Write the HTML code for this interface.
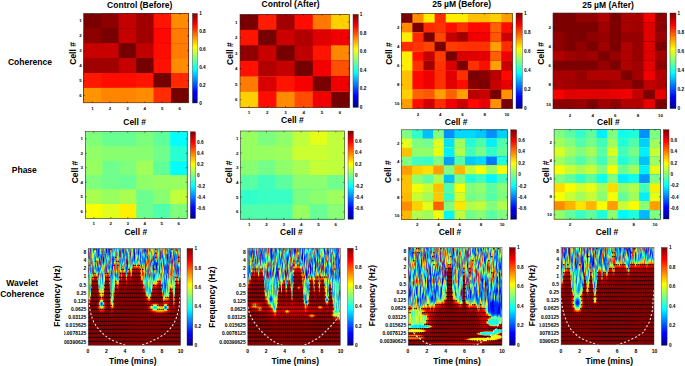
<!DOCTYPE html><html><head><meta charset="utf-8"><style>html,body{margin:0;padding:0;background:#fff;width:685px;height:366px;overflow:hidden;position:relative}</style></head><body><svg xmlns="http://www.w3.org/2000/svg" width="685" height="366" viewBox="0 0 685 366" font-family="Liberation Sans, sans-serif" style="position:absolute;left:0;top:0">
<defs><linearGradient id="jet" x1="0" y1="1" x2="0" y2="0"><stop offset="0" stop-color="#00008f"/><stop offset="0.125" stop-color="#0000ff"/><stop offset="0.375" stop-color="#00ffff"/><stop offset="0.625" stop-color="#ffff00"/><stop offset="0.875" stop-color="#ff0000"/><stop offset="1" stop-color="#800000"/></linearGradient></defs>
<text x="139.7" y="8.0" font-size="8.5" font-weight="bold" text-anchor="middle" fill="#000">Control (Before)</text>
<text x="290.6" y="6.6" font-size="8.5" font-weight="bold" text-anchor="middle" fill="#000">Control (After)</text>
<text x="461.6" y="6.9" font-size="8.5" font-weight="bold" text-anchor="middle" fill="#000">25 µM (Before)</text>
<text x="608.1" y="7.6" font-size="8.5" font-weight="bold" text-anchor="middle" fill="#000">25 µM (After)</text>
<text x="29.9" y="64.9" font-size="8.5" font-weight="bold" text-anchor="middle" fill="#000">Coherence</text>
<text x="24.3" y="172.9" font-size="8.5" font-weight="bold" text-anchor="middle" fill="#000">Phase</text>
<text x="22.2" y="286.4" font-size="8.5" font-weight="bold" text-anchor="middle" fill="#000">Wavelet</text>
<text x="22.2" y="296.8" font-size="8.5" font-weight="bold" text-anchor="middle" fill="#000">Coherence</text>
<rect x="83.70" y="13.40" width="104.80" height="89.40" fill="#7a0000"/>
<rect x="101.17" y="13.40" width="87.33" height="89.40" fill="#8c0000"/>
<rect x="118.63" y="13.40" width="69.87" height="89.40" fill="#c40000"/>
<rect x="136.10" y="13.40" width="52.40" height="89.40" fill="#a00000"/>
<rect x="153.57" y="13.40" width="34.93" height="89.40" fill="#ff1400"/>
<rect x="171.03" y="13.40" width="17.47" height="89.40" fill="#ff8c00"/>
<rect x="83.70" y="28.30" width="104.80" height="74.50" fill="#8c0000"/>
<rect x="101.17" y="28.30" width="87.33" height="74.50" fill="#780000"/>
<rect x="118.63" y="28.30" width="69.87" height="74.50" fill="#c40000"/>
<rect x="136.10" y="28.30" width="52.40" height="74.50" fill="#a00000"/>
<rect x="153.57" y="28.30" width="34.93" height="74.50" fill="#ff0800"/>
<rect x="171.03" y="28.30" width="17.47" height="74.50" fill="#ff7c00"/>
<rect x="83.70" y="43.20" width="104.80" height="59.60" fill="#c80000"/>
<rect x="101.17" y="43.20" width="87.33" height="59.60" fill="#c80000"/>
<rect x="118.63" y="43.20" width="69.87" height="59.60" fill="#740000"/>
<rect x="136.10" y="43.20" width="52.40" height="59.60" fill="#c00000"/>
<rect x="153.57" y="43.20" width="34.93" height="59.60" fill="#ff0c00"/>
<rect x="171.03" y="43.20" width="17.47" height="59.60" fill="#ff7c00"/>
<rect x="83.70" y="58.10" width="104.80" height="44.70" fill="#a00000"/>
<rect x="101.17" y="58.10" width="87.33" height="44.70" fill="#a00000"/>
<rect x="118.63" y="58.10" width="69.87" height="44.70" fill="#c40000"/>
<rect x="136.10" y="58.10" width="52.40" height="44.70" fill="#740000"/>
<rect x="153.57" y="58.10" width="34.93" height="44.70" fill="#ff1000"/>
<rect x="171.03" y="58.10" width="17.47" height="44.70" fill="#ff8c00"/>
<rect x="83.70" y="73.00" width="104.80" height="29.80" fill="#ff1800"/>
<rect x="101.17" y="73.00" width="87.33" height="29.80" fill="#ff0c00"/>
<rect x="118.63" y="73.00" width="69.87" height="29.80" fill="#ff0c00"/>
<rect x="136.10" y="73.00" width="52.40" height="29.80" fill="#ff1400"/>
<rect x="153.57" y="73.00" width="34.93" height="29.80" fill="#740000"/>
<rect x="171.03" y="73.00" width="17.47" height="29.80" fill="#ff2800"/>
<rect x="83.70" y="87.90" width="104.80" height="14.90" fill="#ff9400"/>
<rect x="101.17" y="87.90" width="87.33" height="14.90" fill="#ff8400"/>
<rect x="118.63" y="87.90" width="69.87" height="14.90" fill="#ff8400"/>
<rect x="136.10" y="87.90" width="52.40" height="14.90" fill="#ff8c00"/>
<rect x="153.57" y="87.90" width="34.93" height="14.90" fill="#ff2c00"/>
<rect x="171.03" y="87.90" width="17.47" height="14.90" fill="#740000"/>
<rect x="83.70" y="13.40" width="104.80" height="89.40" fill="none" stroke="#333" stroke-width="0.6"/>
<rect x="192.4" y="13.5" width="5.00" height="89.50" fill="url(#jet)" stroke="#333" stroke-width="0.4"/>
<rect x="240.00" y="14.30" width="109.20" height="93.10" fill="#780000"/>
<rect x="258.20" y="14.30" width="91.00" height="93.10" fill="#ff1c00"/>
<rect x="276.40" y="14.30" width="72.80" height="93.10" fill="#a00000"/>
<rect x="294.60" y="14.30" width="54.60" height="93.10" fill="#ff0c00"/>
<rect x="312.80" y="14.30" width="36.40" height="93.10" fill="#ff7800"/>
<rect x="331.00" y="14.30" width="18.20" height="93.10" fill="#ffd000"/>
<rect x="240.00" y="29.82" width="109.20" height="77.58" fill="#ff1400"/>
<rect x="258.20" y="29.82" width="91.00" height="77.58" fill="#740000"/>
<rect x="276.40" y="29.82" width="72.80" height="77.58" fill="#cc0000"/>
<rect x="294.60" y="29.82" width="54.60" height="77.58" fill="#b00000"/>
<rect x="312.80" y="29.82" width="36.40" height="77.58" fill="#e00000"/>
<rect x="331.00" y="29.82" width="18.20" height="77.58" fill="#f00000"/>
<rect x="240.00" y="45.33" width="109.20" height="62.07" fill="#900000"/>
<rect x="258.20" y="45.33" width="91.00" height="62.07" fill="#c80000"/>
<rect x="276.40" y="45.33" width="72.80" height="62.07" fill="#740000"/>
<rect x="294.60" y="45.33" width="54.60" height="62.07" fill="#c00000"/>
<rect x="312.80" y="45.33" width="36.40" height="62.07" fill="#ff1400"/>
<rect x="331.00" y="45.33" width="18.20" height="62.07" fill="#ff8800"/>
<rect x="240.00" y="60.85" width="109.20" height="46.55" fill="#ff1000"/>
<rect x="258.20" y="60.85" width="91.00" height="46.55" fill="#b00000"/>
<rect x="276.40" y="60.85" width="72.80" height="46.55" fill="#c40000"/>
<rect x="294.60" y="60.85" width="54.60" height="46.55" fill="#740000"/>
<rect x="312.80" y="60.85" width="36.40" height="46.55" fill="#f40000"/>
<rect x="331.00" y="60.85" width="18.20" height="46.55" fill="#ff5000"/>
<rect x="240.00" y="76.37" width="109.20" height="31.03" fill="#ff7c00"/>
<rect x="258.20" y="76.37" width="91.00" height="31.03" fill="#d80000"/>
<rect x="276.40" y="76.37" width="72.80" height="31.03" fill="#ff1400"/>
<rect x="294.60" y="76.37" width="54.60" height="31.03" fill="#f80000"/>
<rect x="312.80" y="76.37" width="36.40" height="31.03" fill="#780000"/>
<rect x="331.00" y="76.37" width="18.20" height="31.03" fill="#f00000"/>
<rect x="240.00" y="91.88" width="109.20" height="15.52" fill="#ffd000"/>
<rect x="258.20" y="91.88" width="91.00" height="15.52" fill="#ff0c00"/>
<rect x="276.40" y="91.88" width="72.80" height="15.52" fill="#ff8c00"/>
<rect x="294.60" y="91.88" width="54.60" height="15.52" fill="#ff4c00"/>
<rect x="312.80" y="91.88" width="36.40" height="15.52" fill="#f00000"/>
<rect x="331.00" y="91.88" width="18.20" height="15.52" fill="#740000"/>
<rect x="240.00" y="14.30" width="109.20" height="93.10" fill="none" stroke="#333" stroke-width="0.6"/>
<rect x="353" y="14.3" width="5.30" height="93.10" fill="url(#jet)" stroke="#333" stroke-width="0.4"/>
<rect x="401.30" y="13.30" width="111.10" height="95.30" fill="#780000"/>
<rect x="412.41" y="13.30" width="99.99" height="95.30" fill="#ff8c00"/>
<rect x="423.52" y="13.30" width="88.88" height="95.30" fill="#ffee00"/>
<rect x="434.63" y="13.30" width="77.77" height="95.30" fill="#ff2c00"/>
<rect x="445.74" y="13.30" width="66.66" height="95.30" fill="#ffee00"/>
<rect x="456.85" y="13.30" width="55.55" height="95.30" fill="#ffee00"/>
<rect x="467.96" y="13.30" width="44.44" height="95.30" fill="#ffc000"/>
<rect x="479.07" y="13.30" width="33.33" height="95.30" fill="#ffc000"/>
<rect x="490.18" y="13.30" width="22.22" height="95.30" fill="#ffd000"/>
<rect x="501.29" y="13.30" width="11.11" height="95.30" fill="#ff9c00"/>
<rect x="401.30" y="22.83" width="111.10" height="85.77" fill="#ff8c00"/>
<rect x="412.41" y="22.83" width="99.99" height="85.77" fill="#780000"/>
<rect x="423.52" y="22.83" width="88.88" height="85.77" fill="#ff2800"/>
<rect x="434.63" y="22.83" width="77.77" height="85.77" fill="#ff3400"/>
<rect x="445.74" y="22.83" width="66.66" height="85.77" fill="#ff0c00"/>
<rect x="456.85" y="22.83" width="55.55" height="85.77" fill="#ff3000"/>
<rect x="467.96" y="22.83" width="44.44" height="85.77" fill="#ff0800"/>
<rect x="479.07" y="22.83" width="33.33" height="85.77" fill="#ff0800"/>
<rect x="490.18" y="22.83" width="22.22" height="85.77" fill="#ff6400"/>
<rect x="501.29" y="22.83" width="11.11" height="85.77" fill="#ff0c00"/>
<rect x="401.30" y="32.36" width="111.10" height="76.24" fill="#ffee00"/>
<rect x="412.41" y="32.36" width="99.99" height="76.24" fill="#ff2800"/>
<rect x="423.52" y="32.36" width="88.88" height="76.24" fill="#780000"/>
<rect x="434.63" y="32.36" width="77.77" height="76.24" fill="#ff4400"/>
<rect x="445.74" y="32.36" width="66.66" height="76.24" fill="#c40000"/>
<rect x="456.85" y="32.36" width="55.55" height="76.24" fill="#a00000"/>
<rect x="467.96" y="32.36" width="44.44" height="76.24" fill="#f00000"/>
<rect x="479.07" y="32.36" width="33.33" height="76.24" fill="#f00000"/>
<rect x="490.18" y="32.36" width="22.22" height="76.24" fill="#ff5800"/>
<rect x="501.29" y="32.36" width="11.11" height="76.24" fill="#d00000"/>
<rect x="401.30" y="41.89" width="111.10" height="66.71" fill="#ff2c00"/>
<rect x="412.41" y="41.89" width="99.99" height="66.71" fill="#ff3400"/>
<rect x="423.52" y="41.89" width="88.88" height="66.71" fill="#ff4400"/>
<rect x="434.63" y="41.89" width="77.77" height="66.71" fill="#780000"/>
<rect x="445.74" y="41.89" width="66.66" height="66.71" fill="#ff3c00"/>
<rect x="456.85" y="41.89" width="55.55" height="66.71" fill="#ff3200"/>
<rect x="467.96" y="41.89" width="44.44" height="66.71" fill="#ff3000"/>
<rect x="479.07" y="41.89" width="33.33" height="66.71" fill="#ff3000"/>
<rect x="490.18" y="41.89" width="22.22" height="66.71" fill="#ffa000"/>
<rect x="501.29" y="41.89" width="11.11" height="66.71" fill="#ff2c00"/>
<rect x="401.30" y="51.42" width="111.10" height="57.18" fill="#ffee00"/>
<rect x="412.41" y="51.42" width="99.99" height="57.18" fill="#ff0c00"/>
<rect x="423.52" y="51.42" width="88.88" height="57.18" fill="#c40000"/>
<rect x="434.63" y="51.42" width="77.77" height="57.18" fill="#ff3c00"/>
<rect x="445.74" y="51.42" width="66.66" height="57.18" fill="#780000"/>
<rect x="456.85" y="51.42" width="55.55" height="57.18" fill="#d80000"/>
<rect x="467.96" y="51.42" width="44.44" height="57.18" fill="#e00000"/>
<rect x="479.07" y="51.42" width="33.33" height="57.18" fill="#e40000"/>
<rect x="490.18" y="51.42" width="22.22" height="57.18" fill="#ff6000"/>
<rect x="501.29" y="51.42" width="11.11" height="57.18" fill="#f00000"/>
<rect x="401.30" y="60.95" width="111.10" height="47.65" fill="#ffee00"/>
<rect x="412.41" y="60.95" width="99.99" height="47.65" fill="#ff3000"/>
<rect x="423.52" y="60.95" width="88.88" height="47.65" fill="#a00000"/>
<rect x="434.63" y="60.95" width="77.77" height="47.65" fill="#ff3200"/>
<rect x="445.74" y="60.95" width="66.66" height="47.65" fill="#d80000"/>
<rect x="456.85" y="60.95" width="55.55" height="47.65" fill="#780000"/>
<rect x="467.96" y="60.95" width="44.44" height="47.65" fill="#ff3000"/>
<rect x="479.07" y="60.95" width="33.33" height="47.65" fill="#ff0c00"/>
<rect x="490.18" y="60.95" width="22.22" height="47.65" fill="#ffa000"/>
<rect x="501.29" y="60.95" width="11.11" height="47.65" fill="#c80000"/>
<rect x="401.30" y="70.48" width="111.10" height="38.12" fill="#ffc000"/>
<rect x="412.41" y="70.48" width="99.99" height="38.12" fill="#ff0800"/>
<rect x="423.52" y="70.48" width="88.88" height="38.12" fill="#f00000"/>
<rect x="434.63" y="70.48" width="77.77" height="38.12" fill="#ff3000"/>
<rect x="445.74" y="70.48" width="66.66" height="38.12" fill="#e00000"/>
<rect x="456.85" y="70.48" width="55.55" height="38.12" fill="#ff3000"/>
<rect x="467.96" y="70.48" width="44.44" height="38.12" fill="#780000"/>
<rect x="479.07" y="70.48" width="33.33" height="38.12" fill="#880000"/>
<rect x="490.18" y="70.48" width="22.22" height="38.12" fill="#b80000"/>
<rect x="501.29" y="70.48" width="11.11" height="38.12" fill="#ff0800"/>
<rect x="401.30" y="80.01" width="111.10" height="28.59" fill="#ffc000"/>
<rect x="412.41" y="80.01" width="99.99" height="28.59" fill="#ff0800"/>
<rect x="423.52" y="80.01" width="88.88" height="28.59" fill="#f00000"/>
<rect x="434.63" y="80.01" width="77.77" height="28.59" fill="#ff3000"/>
<rect x="445.74" y="80.01" width="66.66" height="28.59" fill="#e40000"/>
<rect x="456.85" y="80.01" width="55.55" height="28.59" fill="#ff0c00"/>
<rect x="467.96" y="80.01" width="44.44" height="28.59" fill="#880000"/>
<rect x="479.07" y="80.01" width="33.33" height="28.59" fill="#780000"/>
<rect x="490.18" y="80.01" width="22.22" height="28.59" fill="#c80000"/>
<rect x="501.29" y="80.01" width="11.11" height="28.59" fill="#e80000"/>
<rect x="401.30" y="89.54" width="111.10" height="19.06" fill="#ffd000"/>
<rect x="412.41" y="89.54" width="99.99" height="19.06" fill="#ff6400"/>
<rect x="423.52" y="89.54" width="88.88" height="19.06" fill="#ff5800"/>
<rect x="434.63" y="89.54" width="77.77" height="19.06" fill="#ffa000"/>
<rect x="445.74" y="89.54" width="66.66" height="19.06" fill="#ff6000"/>
<rect x="456.85" y="89.54" width="55.55" height="19.06" fill="#ffa000"/>
<rect x="467.96" y="89.54" width="44.44" height="19.06" fill="#b80000"/>
<rect x="479.07" y="89.54" width="33.33" height="19.06" fill="#c80000"/>
<rect x="490.18" y="89.54" width="22.22" height="19.06" fill="#780000"/>
<rect x="501.29" y="89.54" width="11.11" height="19.06" fill="#ff9000"/>
<rect x="401.30" y="99.07" width="111.10" height="9.53" fill="#ff9c00"/>
<rect x="412.41" y="99.07" width="99.99" height="9.53" fill="#ff0c00"/>
<rect x="423.52" y="99.07" width="88.88" height="9.53" fill="#d00000"/>
<rect x="434.63" y="99.07" width="77.77" height="9.53" fill="#ff2c00"/>
<rect x="445.74" y="99.07" width="66.66" height="9.53" fill="#f00000"/>
<rect x="456.85" y="99.07" width="55.55" height="9.53" fill="#c80000"/>
<rect x="467.96" y="99.07" width="44.44" height="9.53" fill="#ff0800"/>
<rect x="479.07" y="99.07" width="33.33" height="9.53" fill="#e80000"/>
<rect x="490.18" y="99.07" width="22.22" height="9.53" fill="#ff9000"/>
<rect x="501.29" y="99.07" width="11.11" height="9.53" fill="#780000"/>
<rect x="401.30" y="13.30" width="111.10" height="95.30" fill="none" stroke="#333" stroke-width="0.6"/>
<rect x="516" y="13.0" width="6.30" height="95.60" fill="url(#jet)" stroke="#333" stroke-width="0.4"/>
<rect x="553.00" y="13.00" width="113.20" height="95.80" fill="#7c0000"/>
<rect x="564.32" y="13.00" width="101.88" height="95.80" fill="#7c0000"/>
<rect x="575.64" y="13.00" width="90.56" height="95.80" fill="#900000"/>
<rect x="586.96" y="13.00" width="79.24" height="95.80" fill="#900000"/>
<rect x="598.28" y="13.00" width="67.92" height="95.80" fill="#b00000"/>
<rect x="609.60" y="13.00" width="56.60" height="95.80" fill="#7c0000"/>
<rect x="620.92" y="13.00" width="45.28" height="95.80" fill="#a80000"/>
<rect x="632.24" y="13.00" width="33.96" height="95.80" fill="#a80000"/>
<rect x="643.56" y="13.00" width="22.64" height="95.80" fill="#f80000"/>
<rect x="654.88" y="13.00" width="11.32" height="95.80" fill="#8c0000"/>
<rect x="553.00" y="22.58" width="113.20" height="86.22" fill="#7c0000"/>
<rect x="564.32" y="22.58" width="101.88" height="86.22" fill="#7c0000"/>
<rect x="575.64" y="22.58" width="90.56" height="86.22" fill="#7c0000"/>
<rect x="586.96" y="22.58" width="79.24" height="86.22" fill="#7c0000"/>
<rect x="598.28" y="22.58" width="67.92" height="86.22" fill="#a00000"/>
<rect x="609.60" y="22.58" width="56.60" height="86.22" fill="#7c0000"/>
<rect x="620.92" y="22.58" width="45.28" height="86.22" fill="#a80000"/>
<rect x="632.24" y="22.58" width="33.96" height="86.22" fill="#a00000"/>
<rect x="643.56" y="22.58" width="22.64" height="86.22" fill="#e00000"/>
<rect x="654.88" y="22.58" width="11.32" height="86.22" fill="#8c0000"/>
<rect x="553.00" y="32.16" width="113.20" height="76.64" fill="#900000"/>
<rect x="564.32" y="32.16" width="101.88" height="76.64" fill="#7c0000"/>
<rect x="575.64" y="32.16" width="90.56" height="76.64" fill="#7c0000"/>
<rect x="586.96" y="32.16" width="79.24" height="76.64" fill="#900000"/>
<rect x="598.28" y="32.16" width="67.92" height="76.64" fill="#980000"/>
<rect x="609.60" y="32.16" width="56.60" height="76.64" fill="#7c0000"/>
<rect x="620.92" y="32.16" width="45.28" height="76.64" fill="#980000"/>
<rect x="632.24" y="32.16" width="33.96" height="76.64" fill="#980000"/>
<rect x="643.56" y="32.16" width="22.64" height="76.64" fill="#e00000"/>
<rect x="654.88" y="32.16" width="11.32" height="76.64" fill="#980000"/>
<rect x="553.00" y="41.74" width="113.20" height="67.06" fill="#900000"/>
<rect x="564.32" y="41.74" width="101.88" height="67.06" fill="#7c0000"/>
<rect x="575.64" y="41.74" width="90.56" height="67.06" fill="#900000"/>
<rect x="586.96" y="41.74" width="79.24" height="67.06" fill="#7c0000"/>
<rect x="598.28" y="41.74" width="67.92" height="67.06" fill="#a00000"/>
<rect x="609.60" y="41.74" width="56.60" height="67.06" fill="#7c0000"/>
<rect x="620.92" y="41.74" width="45.28" height="67.06" fill="#b00000"/>
<rect x="632.24" y="41.74" width="33.96" height="67.06" fill="#980000"/>
<rect x="643.56" y="41.74" width="22.64" height="67.06" fill="#e00000"/>
<rect x="654.88" y="41.74" width="11.32" height="67.06" fill="#7c0000"/>
<rect x="553.00" y="51.32" width="113.20" height="57.48" fill="#b00000"/>
<rect x="564.32" y="51.32" width="101.88" height="57.48" fill="#a00000"/>
<rect x="575.64" y="51.32" width="90.56" height="57.48" fill="#980000"/>
<rect x="586.96" y="51.32" width="79.24" height="57.48" fill="#a00000"/>
<rect x="598.28" y="51.32" width="67.92" height="57.48" fill="#7c0000"/>
<rect x="609.60" y="51.32" width="56.60" height="57.48" fill="#980000"/>
<rect x="620.92" y="51.32" width="45.28" height="57.48" fill="#b00000"/>
<rect x="632.24" y="51.32" width="33.96" height="57.48" fill="#980000"/>
<rect x="643.56" y="51.32" width="22.64" height="57.48" fill="#e00000"/>
<rect x="654.88" y="51.32" width="11.32" height="57.48" fill="#a00000"/>
<rect x="553.00" y="60.90" width="113.20" height="47.90" fill="#7c0000"/>
<rect x="564.32" y="60.90" width="101.88" height="47.90" fill="#7c0000"/>
<rect x="575.64" y="60.90" width="90.56" height="47.90" fill="#7c0000"/>
<rect x="586.96" y="60.90" width="79.24" height="47.90" fill="#7c0000"/>
<rect x="598.28" y="60.90" width="67.92" height="47.90" fill="#980000"/>
<rect x="609.60" y="60.90" width="56.60" height="47.90" fill="#7c0000"/>
<rect x="620.92" y="60.90" width="45.28" height="47.90" fill="#b00000"/>
<rect x="632.24" y="60.90" width="33.96" height="47.90" fill="#a00000"/>
<rect x="643.56" y="60.90" width="22.64" height="47.90" fill="#e80000"/>
<rect x="654.88" y="60.90" width="11.32" height="47.90" fill="#900000"/>
<rect x="553.00" y="70.48" width="113.20" height="38.32" fill="#a80000"/>
<rect x="564.32" y="70.48" width="101.88" height="38.32" fill="#a80000"/>
<rect x="575.64" y="70.48" width="90.56" height="38.32" fill="#980000"/>
<rect x="586.96" y="70.48" width="79.24" height="38.32" fill="#b00000"/>
<rect x="598.28" y="70.48" width="67.92" height="38.32" fill="#b00000"/>
<rect x="609.60" y="70.48" width="56.60" height="38.32" fill="#b00000"/>
<rect x="620.92" y="70.48" width="45.28" height="38.32" fill="#7c0000"/>
<rect x="632.24" y="70.48" width="33.96" height="38.32" fill="#a00000"/>
<rect x="643.56" y="70.48" width="22.64" height="38.32" fill="#f00000"/>
<rect x="654.88" y="70.48" width="11.32" height="38.32" fill="#b00000"/>
<rect x="553.00" y="80.06" width="113.20" height="28.74" fill="#a80000"/>
<rect x="564.32" y="80.06" width="101.88" height="28.74" fill="#a00000"/>
<rect x="575.64" y="80.06" width="90.56" height="28.74" fill="#980000"/>
<rect x="586.96" y="80.06" width="79.24" height="28.74" fill="#980000"/>
<rect x="598.28" y="80.06" width="67.92" height="28.74" fill="#980000"/>
<rect x="609.60" y="80.06" width="56.60" height="28.74" fill="#a00000"/>
<rect x="620.92" y="80.06" width="45.28" height="28.74" fill="#a00000"/>
<rect x="632.24" y="80.06" width="33.96" height="28.74" fill="#7c0000"/>
<rect x="643.56" y="80.06" width="22.64" height="28.74" fill="#c00000"/>
<rect x="654.88" y="80.06" width="11.32" height="28.74" fill="#b00000"/>
<rect x="553.00" y="89.64" width="113.20" height="19.16" fill="#f80000"/>
<rect x="564.32" y="89.64" width="101.88" height="19.16" fill="#e00000"/>
<rect x="575.64" y="89.64" width="90.56" height="19.16" fill="#e00000"/>
<rect x="586.96" y="89.64" width="79.24" height="19.16" fill="#e00000"/>
<rect x="598.28" y="89.64" width="67.92" height="19.16" fill="#e00000"/>
<rect x="609.60" y="89.64" width="56.60" height="19.16" fill="#e80000"/>
<rect x="620.92" y="89.64" width="45.28" height="19.16" fill="#f00000"/>
<rect x="632.24" y="89.64" width="33.96" height="19.16" fill="#c00000"/>
<rect x="643.56" y="89.64" width="22.64" height="19.16" fill="#7c0000"/>
<rect x="654.88" y="89.64" width="11.32" height="19.16" fill="#e80000"/>
<rect x="553.00" y="99.22" width="113.20" height="9.58" fill="#8c0000"/>
<rect x="564.32" y="99.22" width="101.88" height="9.58" fill="#8c0000"/>
<rect x="575.64" y="99.22" width="90.56" height="9.58" fill="#980000"/>
<rect x="586.96" y="99.22" width="79.24" height="9.58" fill="#7c0000"/>
<rect x="598.28" y="99.22" width="67.92" height="9.58" fill="#a00000"/>
<rect x="609.60" y="99.22" width="56.60" height="9.58" fill="#900000"/>
<rect x="620.92" y="99.22" width="45.28" height="9.58" fill="#b00000"/>
<rect x="632.24" y="99.22" width="33.96" height="9.58" fill="#b00000"/>
<rect x="643.56" y="99.22" width="22.64" height="9.58" fill="#e80000"/>
<rect x="654.88" y="99.22" width="11.32" height="9.58" fill="#7c0000"/>
<rect x="553.00" y="13.00" width="113.20" height="95.80" fill="none" stroke="#333" stroke-width="0.6"/>
<rect x="670" y="13.0" width="6.00" height="95.60" fill="url(#jet)" stroke="#333" stroke-width="0.4"/>
<rect x="85.30" y="131.60" width="101.90" height="86.90" fill="#80ff78"/>
<rect x="102.28" y="131.60" width="84.92" height="86.90" fill="#68ff90"/>
<rect x="119.27" y="131.60" width="67.93" height="86.90" fill="#68ff90"/>
<rect x="136.25" y="131.60" width="50.95" height="86.90" fill="#7cff7c"/>
<rect x="153.23" y="131.60" width="33.97" height="86.90" fill="#60ff98"/>
<rect x="170.22" y="131.60" width="16.98" height="86.90" fill="#00ffff"/>
<rect x="85.30" y="146.08" width="101.90" height="72.42" fill="#90ff68"/>
<rect x="102.28" y="146.08" width="84.92" height="72.42" fill="#88ff70"/>
<rect x="119.27" y="146.08" width="67.93" height="72.42" fill="#88ff70"/>
<rect x="136.25" y="146.08" width="50.95" height="72.42" fill="#88ff70"/>
<rect x="153.23" y="146.08" width="33.97" height="72.42" fill="#70ff8c"/>
<rect x="170.22" y="146.08" width="16.98" height="72.42" fill="#28ffd4"/>
<rect x="85.30" y="160.57" width="101.90" height="57.93" fill="#98ff60"/>
<rect x="102.28" y="160.57" width="84.92" height="57.93" fill="#70ff8c"/>
<rect x="119.27" y="160.57" width="67.93" height="57.93" fill="#80ff7c"/>
<rect x="136.25" y="160.57" width="50.95" height="57.93" fill="#a0ff58"/>
<rect x="153.23" y="160.57" width="33.97" height="57.93" fill="#60ff98"/>
<rect x="170.22" y="160.57" width="16.98" height="57.93" fill="#00ffff"/>
<rect x="85.30" y="175.05" width="101.90" height="43.45" fill="#80ff7c"/>
<rect x="102.28" y="175.05" width="84.92" height="43.45" fill="#70ff8c"/>
<rect x="119.27" y="175.05" width="67.93" height="43.45" fill="#68ff94"/>
<rect x="136.25" y="175.05" width="50.95" height="43.45" fill="#90ff68"/>
<rect x="153.23" y="175.05" width="33.97" height="43.45" fill="#98ff60"/>
<rect x="170.22" y="175.05" width="16.98" height="43.45" fill="#98ff60"/>
<rect x="85.30" y="189.53" width="101.90" height="28.97" fill="#a8ff50"/>
<rect x="102.28" y="189.53" width="84.92" height="28.97" fill="#98ff60"/>
<rect x="119.27" y="189.53" width="67.93" height="28.97" fill="#a8ff50"/>
<rect x="136.25" y="189.53" width="50.95" height="28.97" fill="#6cff90"/>
<rect x="153.23" y="189.53" width="33.97" height="28.97" fill="#88ff70"/>
<rect x="170.22" y="189.53" width="16.98" height="28.97" fill="#c0ff3c"/>
<rect x="85.30" y="204.02" width="101.90" height="14.48" fill="#f8ff00"/>
<rect x="102.28" y="204.02" width="84.92" height="14.48" fill="#e0ff1c"/>
<rect x="119.27" y="204.02" width="67.93" height="14.48" fill="#fff000"/>
<rect x="136.25" y="204.02" width="50.95" height="14.48" fill="#6cff90"/>
<rect x="153.23" y="204.02" width="33.97" height="14.48" fill="#50ffac"/>
<rect x="170.22" y="204.02" width="16.98" height="14.48" fill="#80ff7c"/>
<rect x="85.30" y="131.60" width="101.90" height="86.90" fill="none" stroke="#333" stroke-width="0.6"/>
<rect x="190.3" y="131.8" width="5.20" height="86.70" fill="url(#jet)" stroke="#333" stroke-width="0.4"/>
<rect x="240.50" y="131.00" width="104.00" height="88.20" fill="#98ff60"/>
<rect x="257.83" y="131.00" width="86.67" height="88.20" fill="#7cff80"/>
<rect x="275.17" y="131.00" width="69.33" height="88.20" fill="#90ff6c"/>
<rect x="292.50" y="131.00" width="52.00" height="88.20" fill="#c0ff3c"/>
<rect x="309.83" y="131.00" width="34.67" height="88.20" fill="#e4ff18"/>
<rect x="327.17" y="131.00" width="17.33" height="88.20" fill="#c0ff3c"/>
<rect x="240.50" y="145.70" width="104.00" height="73.50" fill="#98ff60"/>
<rect x="257.83" y="145.70" width="86.67" height="73.50" fill="#98ff60"/>
<rect x="275.17" y="145.70" width="69.33" height="73.50" fill="#9cff5c"/>
<rect x="292.50" y="145.70" width="52.00" height="73.50" fill="#ccff30"/>
<rect x="309.83" y="145.70" width="34.67" height="73.50" fill="#ccff30"/>
<rect x="327.17" y="145.70" width="17.33" height="73.50" fill="#c0ff3c"/>
<rect x="240.50" y="160.40" width="104.00" height="58.80" fill="#88ff70"/>
<rect x="257.83" y="160.40" width="86.67" height="58.80" fill="#74ff88"/>
<rect x="275.17" y="160.40" width="69.33" height="58.80" fill="#90ff6c"/>
<rect x="292.50" y="160.40" width="52.00" height="58.80" fill="#a8ff54"/>
<rect x="309.83" y="160.40" width="34.67" height="58.80" fill="#c4ff38"/>
<rect x="327.17" y="160.40" width="17.33" height="58.80" fill="#c0ff3c"/>
<rect x="240.50" y="175.10" width="104.00" height="44.10" fill="#58ffa4"/>
<rect x="257.83" y="175.10" width="86.67" height="44.10" fill="#40ffbc"/>
<rect x="275.17" y="175.10" width="69.33" height="44.10" fill="#5cffa0"/>
<rect x="292.50" y="175.10" width="52.00" height="44.10" fill="#8cff70"/>
<rect x="309.83" y="175.10" width="34.67" height="44.10" fill="#8cff70"/>
<rect x="327.17" y="175.10" width="17.33" height="44.10" fill="#70ff8c"/>
<rect x="240.50" y="189.80" width="104.00" height="29.40" fill="#30ffcc"/>
<rect x="257.83" y="189.80" width="86.67" height="29.40" fill="#38ffc4"/>
<rect x="275.17" y="189.80" width="69.33" height="29.40" fill="#38ffc4"/>
<rect x="292.50" y="189.80" width="52.00" height="29.40" fill="#7cff80"/>
<rect x="309.83" y="189.80" width="34.67" height="29.40" fill="#8cff70"/>
<rect x="327.17" y="189.80" width="17.33" height="29.40" fill="#a0ff5c"/>
<rect x="240.50" y="204.50" width="104.00" height="14.70" fill="#50ffac"/>
<rect x="257.83" y="204.50" width="86.67" height="14.70" fill="#50ffac"/>
<rect x="275.17" y="204.50" width="69.33" height="14.70" fill="#50ffac"/>
<rect x="292.50" y="204.50" width="52.00" height="14.70" fill="#98ff60"/>
<rect x="309.83" y="204.50" width="34.67" height="14.70" fill="#68ff94"/>
<rect x="327.17" y="204.50" width="17.33" height="14.70" fill="#88ff74"/>
<rect x="240.50" y="131.00" width="104.00" height="88.20" fill="none" stroke="#333" stroke-width="0.6"/>
<rect x="348" y="131.0" width="5.40" height="88.20" fill="url(#jet)" stroke="#333" stroke-width="0.4"/>
<rect x="401.40" y="129.80" width="106.00" height="89.80" fill="#80ff80"/>
<rect x="412.00" y="129.80" width="95.40" height="89.80" fill="#30ffcc"/>
<rect x="422.60" y="129.80" width="84.80" height="89.80" fill="#00c0ff"/>
<rect x="433.20" y="129.80" width="74.20" height="89.80" fill="#80ff80"/>
<rect x="443.80" y="129.80" width="63.60" height="89.80" fill="#0090ff"/>
<rect x="454.40" y="129.80" width="53.00" height="89.80" fill="#00d8ff"/>
<rect x="465.00" y="129.80" width="42.40" height="89.80" fill="#00d8ff"/>
<rect x="475.60" y="129.80" width="31.80" height="89.80" fill="#00c8ff"/>
<rect x="486.20" y="129.80" width="21.20" height="89.80" fill="#0090ff"/>
<rect x="496.80" y="129.80" width="10.60" height="89.80" fill="#00d0ff"/>
<rect x="401.40" y="138.78" width="106.00" height="80.82" fill="#e0ff1c"/>
<rect x="412.00" y="138.78" width="95.40" height="80.82" fill="#80ff80"/>
<rect x="422.60" y="138.78" width="84.80" height="80.82" fill="#70ff90"/>
<rect x="433.20" y="138.78" width="74.20" height="80.82" fill="#e0ff1c"/>
<rect x="443.80" y="138.78" width="63.60" height="80.82" fill="#00e4ff"/>
<rect x="454.40" y="138.78" width="53.00" height="80.82" fill="#a0ff5c"/>
<rect x="465.00" y="138.78" width="42.40" height="80.82" fill="#20ffdc"/>
<rect x="475.60" y="138.78" width="31.80" height="80.82" fill="#50ffac"/>
<rect x="486.20" y="138.78" width="21.20" height="80.82" fill="#00f0ff"/>
<rect x="496.80" y="138.78" width="10.60" height="80.82" fill="#50ffac"/>
<rect x="401.40" y="147.76" width="106.00" height="71.84" fill="#ffc000"/>
<rect x="412.00" y="147.76" width="95.40" height="71.84" fill="#90ff6c"/>
<rect x="422.60" y="147.76" width="84.80" height="71.84" fill="#90ff6c"/>
<rect x="433.20" y="147.76" width="74.20" height="71.84" fill="#e8ff14"/>
<rect x="443.80" y="147.76" width="63.60" height="71.84" fill="#00f0ff"/>
<rect x="454.40" y="147.76" width="53.00" height="71.84" fill="#b0ff4c"/>
<rect x="465.00" y="147.76" width="42.40" height="71.84" fill="#40ffbc"/>
<rect x="475.60" y="147.76" width="31.80" height="71.84" fill="#78ff88"/>
<rect x="486.20" y="147.76" width="21.20" height="71.84" fill="#30ffcc"/>
<rect x="496.80" y="147.76" width="10.60" height="71.84" fill="#60ff9c"/>
<rect x="401.40" y="156.74" width="106.00" height="62.86" fill="#80ff80"/>
<rect x="412.00" y="156.74" width="95.40" height="62.86" fill="#40ffc0"/>
<rect x="422.60" y="156.74" width="84.80" height="62.86" fill="#38ffc8"/>
<rect x="433.20" y="156.74" width="74.20" height="62.86" fill="#80ff80"/>
<rect x="443.80" y="156.74" width="63.60" height="62.86" fill="#00a0ff"/>
<rect x="454.40" y="156.74" width="53.00" height="62.86" fill="#50ffac"/>
<rect x="465.00" y="156.74" width="42.40" height="62.86" fill="#00c8ff"/>
<rect x="475.60" y="156.74" width="31.80" height="62.86" fill="#00d8ff"/>
<rect x="486.20" y="156.74" width="21.20" height="62.86" fill="#0078ff"/>
<rect x="496.80" y="156.74" width="10.60" height="62.86" fill="#20ffdc"/>
<rect x="401.40" y="165.72" width="106.00" height="53.88" fill="#ff9c00"/>
<rect x="412.00" y="165.72" width="95.40" height="53.88" fill="#ffd000"/>
<rect x="422.60" y="165.72" width="84.80" height="53.88" fill="#ffe000"/>
<rect x="433.20" y="165.72" width="74.20" height="53.88" fill="#ff9c00"/>
<rect x="443.80" y="165.72" width="63.60" height="53.88" fill="#80ff80"/>
<rect x="454.40" y="165.72" width="53.00" height="53.88" fill="#ffb800"/>
<rect x="465.00" y="165.72" width="42.40" height="53.88" fill="#c0ff3c"/>
<rect x="475.60" y="165.72" width="31.80" height="53.88" fill="#f8ff00"/>
<rect x="486.20" y="165.72" width="21.20" height="53.88" fill="#98ff64"/>
<rect x="496.80" y="165.72" width="10.60" height="53.88" fill="#f8ff00"/>
<rect x="401.40" y="174.70" width="106.00" height="44.90" fill="#ffc000"/>
<rect x="412.00" y="174.70" width="95.40" height="44.90" fill="#90ff6c"/>
<rect x="422.60" y="174.70" width="84.80" height="44.90" fill="#60ffa0"/>
<rect x="433.20" y="174.70" width="74.20" height="44.90" fill="#b0ff4c"/>
<rect x="443.80" y="174.70" width="63.60" height="44.90" fill="#00c0ff"/>
<rect x="454.40" y="174.70" width="53.00" height="44.90" fill="#80ff80"/>
<rect x="465.00" y="174.70" width="42.40" height="44.90" fill="#20ffdc"/>
<rect x="475.60" y="174.70" width="31.80" height="44.90" fill="#40ffc0"/>
<rect x="486.20" y="174.70" width="21.20" height="44.90" fill="#00f8ff"/>
<rect x="496.80" y="174.70" width="10.60" height="44.90" fill="#40ffbc"/>
<rect x="401.40" y="183.68" width="106.00" height="35.92" fill="#ffc000"/>
<rect x="412.00" y="183.68" width="95.40" height="35.92" fill="#f0ff0c"/>
<rect x="422.60" y="183.68" width="84.80" height="35.92" fill="#c8ff34"/>
<rect x="433.20" y="183.68" width="74.20" height="35.92" fill="#ffc000"/>
<rect x="443.80" y="183.68" width="63.60" height="35.92" fill="#50ffac"/>
<rect x="454.40" y="183.68" width="53.00" height="35.92" fill="#f8ff00"/>
<rect x="465.00" y="183.68" width="42.40" height="35.92" fill="#80ff80"/>
<rect x="475.60" y="183.68" width="31.80" height="35.92" fill="#90ff6c"/>
<rect x="486.20" y="183.68" width="21.20" height="35.92" fill="#58ffa4"/>
<rect x="496.80" y="183.68" width="10.60" height="35.92" fill="#88ff74"/>
<rect x="401.40" y="192.66" width="106.00" height="26.94" fill="#ffb800"/>
<rect x="412.00" y="192.66" width="95.40" height="26.94" fill="#c8ff34"/>
<rect x="422.60" y="192.66" width="84.80" height="26.94" fill="#a0ff5c"/>
<rect x="433.20" y="192.66" width="74.20" height="26.94" fill="#ffc800"/>
<rect x="443.80" y="192.66" width="63.60" height="26.94" fill="#30ffcc"/>
<rect x="454.40" y="192.66" width="53.00" height="26.94" fill="#d8ff24"/>
<rect x="465.00" y="192.66" width="42.40" height="26.94" fill="#70ff8c"/>
<rect x="475.60" y="192.66" width="31.80" height="26.94" fill="#80ff80"/>
<rect x="486.20" y="192.66" width="21.20" height="26.94" fill="#50ffac"/>
<rect x="496.80" y="192.66" width="10.60" height="26.94" fill="#80ff7c"/>
<rect x="401.40" y="201.64" width="106.00" height="17.96" fill="#ff8c00"/>
<rect x="412.00" y="201.64" width="95.40" height="17.96" fill="#ffd000"/>
<rect x="422.60" y="201.64" width="84.80" height="17.96" fill="#e4ff18"/>
<rect x="433.20" y="201.64" width="74.20" height="17.96" fill="#ff6000"/>
<rect x="443.80" y="201.64" width="63.60" height="17.96" fill="#80ff80"/>
<rect x="454.40" y="201.64" width="53.00" height="17.96" fill="#ffe800"/>
<rect x="465.00" y="201.64" width="42.40" height="17.96" fill="#b0ff4c"/>
<rect x="475.60" y="201.64" width="31.80" height="17.96" fill="#c0ff3c"/>
<rect x="486.20" y="201.64" width="21.20" height="17.96" fill="#80ff80"/>
<rect x="496.80" y="201.64" width="10.60" height="17.96" fill="#b0ff4c"/>
<rect x="401.40" y="210.62" width="106.00" height="8.98" fill="#ffb800"/>
<rect x="412.00" y="210.62" width="95.40" height="8.98" fill="#b0ff4c"/>
<rect x="422.60" y="210.62" width="84.80" height="8.98" fill="#a0ff5c"/>
<rect x="433.20" y="210.62" width="74.20" height="8.98" fill="#f0ff0c"/>
<rect x="443.80" y="210.62" width="63.60" height="8.98" fill="#00f8ff"/>
<rect x="454.40" y="210.62" width="53.00" height="8.98" fill="#c0ff3c"/>
<rect x="465.00" y="210.62" width="42.40" height="8.98" fill="#70ff8c"/>
<rect x="475.60" y="210.62" width="31.80" height="8.98" fill="#88ff74"/>
<rect x="486.20" y="210.62" width="21.20" height="8.98" fill="#58ffa4"/>
<rect x="496.80" y="210.62" width="10.60" height="8.98" fill="#80ff80"/>
<rect x="401.40" y="129.80" width="106.00" height="89.80" fill="none" stroke="#333" stroke-width="0.6"/>
<rect x="510.7" y="129.8" width="6.00" height="89.50" fill="url(#jet)" stroke="#333" stroke-width="0.4"/>
<rect x="554.10" y="129.40" width="106.20" height="89.80" fill="#80ff80"/>
<rect x="564.72" y="129.40" width="95.58" height="89.80" fill="#58ffa4"/>
<rect x="575.34" y="129.40" width="84.96" height="89.80" fill="#30ffcc"/>
<rect x="585.96" y="129.40" width="74.34" height="89.80" fill="#60ff9c"/>
<rect x="596.58" y="129.40" width="63.72" height="89.80" fill="#00f0ff"/>
<rect x="607.20" y="129.40" width="53.10" height="89.80" fill="#80ff80"/>
<rect x="617.82" y="129.40" width="42.48" height="89.80" fill="#10ffec"/>
<rect x="628.44" y="129.40" width="31.86" height="89.80" fill="#20ffdc"/>
<rect x="639.06" y="129.40" width="21.24" height="89.80" fill="#0090ff"/>
<rect x="649.68" y="129.40" width="10.62" height="89.80" fill="#80ff80"/>
<rect x="554.10" y="138.38" width="106.20" height="80.82" fill="#a0ff5c"/>
<rect x="564.72" y="138.38" width="95.58" height="80.82" fill="#80ff80"/>
<rect x="575.34" y="138.38" width="84.96" height="80.82" fill="#50ffac"/>
<rect x="585.96" y="138.38" width="74.34" height="80.82" fill="#78ff88"/>
<rect x="596.58" y="138.38" width="63.72" height="80.82" fill="#40ffbc"/>
<rect x="607.20" y="138.38" width="53.10" height="80.82" fill="#a0ff5c"/>
<rect x="617.82" y="138.38" width="42.48" height="80.82" fill="#20ffdc"/>
<rect x="628.44" y="138.38" width="31.86" height="80.82" fill="#50ffac"/>
<rect x="639.06" y="138.38" width="21.24" height="80.82" fill="#00d0ff"/>
<rect x="649.68" y="138.38" width="10.62" height="80.82" fill="#a0ff5c"/>
<rect x="554.10" y="147.36" width="106.20" height="71.84" fill="#d8ff24"/>
<rect x="564.72" y="147.36" width="95.58" height="71.84" fill="#a0ff5c"/>
<rect x="575.34" y="147.36" width="84.96" height="71.84" fill="#80ff80"/>
<rect x="585.96" y="147.36" width="74.34" height="71.84" fill="#a8ff54"/>
<rect x="596.58" y="147.36" width="63.72" height="71.84" fill="#58ffa4"/>
<rect x="607.20" y="147.36" width="53.10" height="71.84" fill="#d8ff24"/>
<rect x="617.82" y="147.36" width="42.48" height="71.84" fill="#40ffbc"/>
<rect x="628.44" y="147.36" width="31.86" height="71.84" fill="#78ff88"/>
<rect x="639.06" y="147.36" width="21.24" height="71.84" fill="#00f0ff"/>
<rect x="649.68" y="147.36" width="10.62" height="71.84" fill="#c8ff34"/>
<rect x="554.10" y="156.34" width="106.20" height="62.86" fill="#a0ff5c"/>
<rect x="564.72" y="156.34" width="95.58" height="62.86" fill="#78ff88"/>
<rect x="575.34" y="156.34" width="84.96" height="62.86" fill="#50ffac"/>
<rect x="585.96" y="156.34" width="74.34" height="62.86" fill="#80ff80"/>
<rect x="596.58" y="156.34" width="63.72" height="62.86" fill="#40ffbc"/>
<rect x="607.20" y="156.34" width="53.10" height="62.86" fill="#a0ff5c"/>
<rect x="617.82" y="156.34" width="42.48" height="62.86" fill="#20ffdc"/>
<rect x="628.44" y="156.34" width="31.86" height="62.86" fill="#50ffac"/>
<rect x="639.06" y="156.34" width="21.24" height="62.86" fill="#00c0ff"/>
<rect x="649.68" y="156.34" width="10.62" height="62.86" fill="#a0ff5c"/>
<rect x="554.10" y="165.32" width="106.20" height="53.88" fill="#f8ff00"/>
<rect x="564.72" y="165.32" width="95.58" height="53.88" fill="#c8ff34"/>
<rect x="575.34" y="165.32" width="84.96" height="53.88" fill="#a8ff54"/>
<rect x="585.96" y="165.32" width="74.34" height="53.88" fill="#c8ff34"/>
<rect x="596.58" y="165.32" width="63.72" height="53.88" fill="#80ff80"/>
<rect x="607.20" y="165.32" width="53.10" height="53.88" fill="#f8ff00"/>
<rect x="617.82" y="165.32" width="42.48" height="53.88" fill="#68ff94"/>
<rect x="628.44" y="165.32" width="31.86" height="53.88" fill="#a0ff5c"/>
<rect x="639.06" y="165.32" width="21.24" height="53.88" fill="#00f0ff"/>
<rect x="649.68" y="165.32" width="10.62" height="53.88" fill="#e8ff14"/>
<rect x="554.10" y="174.30" width="106.20" height="44.90" fill="#80ff80"/>
<rect x="564.72" y="174.30" width="95.58" height="44.90" fill="#60ff9c"/>
<rect x="575.34" y="174.30" width="84.96" height="44.90" fill="#30ffcc"/>
<rect x="585.96" y="174.30" width="74.34" height="44.90" fill="#60ff9c"/>
<rect x="596.58" y="174.30" width="63.72" height="44.90" fill="#10ffec"/>
<rect x="607.20" y="174.30" width="53.10" height="44.90" fill="#80ff80"/>
<rect x="617.82" y="174.30" width="42.48" height="44.90" fill="#00f0ff"/>
<rect x="628.44" y="174.30" width="31.86" height="44.90" fill="#10ffec"/>
<rect x="639.06" y="174.30" width="21.24" height="44.90" fill="#0098ff"/>
<rect x="649.68" y="174.30" width="10.62" height="44.90" fill="#80ff80"/>
<rect x="554.10" y="183.28" width="106.20" height="35.92" fill="#ffdc00"/>
<rect x="564.72" y="183.28" width="95.58" height="35.92" fill="#f8ff00"/>
<rect x="575.34" y="183.28" width="84.96" height="35.92" fill="#d0ff2c"/>
<rect x="585.96" y="183.28" width="74.34" height="35.92" fill="#e8ff14"/>
<rect x="596.58" y="183.28" width="63.72" height="35.92" fill="#a0ff5c"/>
<rect x="607.20" y="183.28" width="53.10" height="35.92" fill="#ffdc00"/>
<rect x="617.82" y="183.28" width="42.48" height="35.92" fill="#90ff6c"/>
<rect x="628.44" y="183.28" width="31.86" height="35.92" fill="#b0ff4c"/>
<rect x="639.06" y="183.28" width="21.24" height="35.92" fill="#40ffbc"/>
<rect x="649.68" y="183.28" width="10.62" height="35.92" fill="#f8f000"/>
<rect x="554.10" y="192.26" width="106.20" height="26.94" fill="#f8ff00"/>
<rect x="564.72" y="192.26" width="95.58" height="26.94" fill="#c8ff34"/>
<rect x="575.34" y="192.26" width="84.96" height="26.94" fill="#a0ff5c"/>
<rect x="585.96" y="192.26" width="74.34" height="26.94" fill="#c8ff34"/>
<rect x="596.58" y="192.26" width="63.72" height="26.94" fill="#88ff74"/>
<rect x="607.20" y="192.26" width="53.10" height="26.94" fill="#f8ff00"/>
<rect x="617.82" y="192.26" width="42.48" height="26.94" fill="#60ff9c"/>
<rect x="628.44" y="192.26" width="31.86" height="26.94" fill="#a0ff5c"/>
<rect x="639.06" y="192.26" width="21.24" height="26.94" fill="#00f0ff"/>
<rect x="649.68" y="192.26" width="10.62" height="26.94" fill="#e8ff14"/>
<rect x="554.10" y="201.24" width="106.20" height="17.96" fill="#ff8c00"/>
<rect x="564.72" y="201.24" width="95.58" height="17.96" fill="#ffb400"/>
<rect x="575.34" y="201.24" width="84.96" height="17.96" fill="#ffe400"/>
<rect x="585.96" y="201.24" width="74.34" height="17.96" fill="#ffb400"/>
<rect x="596.58" y="201.24" width="63.72" height="17.96" fill="#f8ff00"/>
<rect x="607.20" y="201.24" width="53.10" height="17.96" fill="#ff9c00"/>
<rect x="617.82" y="201.24" width="42.48" height="17.96" fill="#c8ff34"/>
<rect x="628.44" y="201.24" width="31.86" height="17.96" fill="#f8ff00"/>
<rect x="639.06" y="201.24" width="21.24" height="17.96" fill="#88ff74"/>
<rect x="649.68" y="201.24" width="10.62" height="17.96" fill="#ffa000"/>
<rect x="554.10" y="210.22" width="106.20" height="8.98" fill="#90ff6c"/>
<rect x="564.72" y="210.22" width="95.58" height="8.98" fill="#60ff9c"/>
<rect x="575.34" y="210.22" width="84.96" height="8.98" fill="#38ffc4"/>
<rect x="585.96" y="210.22" width="74.34" height="8.98" fill="#60ff9c"/>
<rect x="596.58" y="210.22" width="63.72" height="8.98" fill="#20ffdc"/>
<rect x="607.20" y="210.22" width="53.10" height="8.98" fill="#90ff6c"/>
<rect x="617.82" y="210.22" width="42.48" height="8.98" fill="#00f8ff"/>
<rect x="628.44" y="210.22" width="31.86" height="8.98" fill="#20ffdc"/>
<rect x="639.06" y="210.22" width="21.24" height="8.98" fill="#00b8ff"/>
<rect x="649.68" y="210.22" width="10.62" height="8.98" fill="#80ff80"/>
<rect x="554.10" y="129.40" width="106.20" height="89.80" fill="none" stroke="#333" stroke-width="0.6"/>
<rect x="663.3" y="129.7" width="5.70" height="89.30" fill="url(#jet)" stroke="#333" stroke-width="0.4"/>
<path d="M92.43 13.40v1.3M109.90 13.40v1.3M127.37 13.40v1.3M144.83 13.40v1.3M162.30 13.40v1.3M179.77 13.40v1.3M92.43 102.80v-1.3M109.90 102.80v-1.3M127.37 102.80v-1.3M144.83 102.80v-1.3M162.30 102.80v-1.3M179.77 102.80v-1.3M83.70 20.85h1.3M83.70 35.75h1.3M83.70 50.65h1.3M83.70 65.55h1.3M83.70 80.45h1.3M83.70 95.35h1.3M188.50 20.85h-1.3M188.50 35.75h-1.3M188.50 50.65h-1.3M188.50 65.55h-1.3M188.50 80.45h-1.3M188.50 95.35h-1.3" stroke="#000" stroke-width="0.5"/>
<text x="92.43333333333334" y="109.784" font-size="4.4" font-weight="bold" text-anchor="middle" fill="#000">1</text>
<text x="109.9" y="109.784" font-size="4.4" font-weight="bold" text-anchor="middle" fill="#000">2</text>
<text x="127.36666666666667" y="109.784" font-size="4.4" font-weight="bold" text-anchor="middle" fill="#000">3</text>
<text x="144.83333333333331" y="109.784" font-size="4.4" font-weight="bold" text-anchor="middle" fill="#000">4</text>
<text x="162.3" y="109.784" font-size="4.4" font-weight="bold" text-anchor="middle" fill="#000">5</text>
<text x="179.76666666666665" y="109.784" font-size="4.4" font-weight="bold" text-anchor="middle" fill="#000">6</text>
<text x="81.8" y="22.434" font-size="4.4" font-weight="bold" text-anchor="end" fill="#000">1</text>
<text x="81.8" y="37.334" font-size="4.4" font-weight="bold" text-anchor="end" fill="#000">2</text>
<text x="81.8" y="52.234" font-size="4.4" font-weight="bold" text-anchor="end" fill="#000">3</text>
<text x="81.8" y="67.134" font-size="4.4" font-weight="bold" text-anchor="end" fill="#000">4</text>
<text x="81.8" y="82.034" font-size="4.4" font-weight="bold" text-anchor="end" fill="#000">5</text>
<text x="81.8" y="96.934" font-size="4.4" font-weight="bold" text-anchor="end" fill="#000">6</text>
<path d="M249.10 14.30v1.3M267.30 14.30v1.3M285.50 14.30v1.3M303.70 14.30v1.3M321.90 14.30v1.3M340.10 14.30v1.3M249.10 107.40v-1.3M267.30 107.40v-1.3M285.50 107.40v-1.3M303.70 107.40v-1.3M321.90 107.40v-1.3M340.10 107.40v-1.3M240.00 22.06h1.3M240.00 37.58h1.3M240.00 53.09h1.3M240.00 68.61h1.3M240.00 84.12h1.3M240.00 99.64h1.3M349.20 22.06h-1.3M349.20 37.58h-1.3M349.20 53.09h-1.3M349.20 68.61h-1.3M349.20 84.12h-1.3M349.20 99.64h-1.3" stroke="#000" stroke-width="0.5"/>
<text x="249.1" y="114.48400000000001" font-size="4.4" font-weight="bold" text-anchor="middle" fill="#000">1</text>
<text x="267.3" y="114.48400000000001" font-size="4.4" font-weight="bold" text-anchor="middle" fill="#000">2</text>
<text x="285.5" y="114.48400000000001" font-size="4.4" font-weight="bold" text-anchor="middle" fill="#000">3</text>
<text x="303.7" y="114.48400000000001" font-size="4.4" font-weight="bold" text-anchor="middle" fill="#000">4</text>
<text x="321.9" y="114.48400000000001" font-size="4.4" font-weight="bold" text-anchor="middle" fill="#000">5</text>
<text x="340.1" y="114.48400000000001" font-size="4.4" font-weight="bold" text-anchor="middle" fill="#000">6</text>
<text x="237.5" y="23.642333333333333" font-size="4.4" font-weight="bold" text-anchor="end" fill="#000">1</text>
<text x="237.5" y="39.159000000000006" font-size="4.4" font-weight="bold" text-anchor="end" fill="#000">2</text>
<text x="237.5" y="54.67566666666667" font-size="4.4" font-weight="bold" text-anchor="end" fill="#000">3</text>
<text x="237.5" y="70.19233333333334" font-size="4.4" font-weight="bold" text-anchor="end" fill="#000">4</text>
<text x="237.5" y="85.709" font-size="4.4" font-weight="bold" text-anchor="end" fill="#000">5</text>
<text x="237.5" y="101.22566666666667" font-size="4.4" font-weight="bold" text-anchor="end" fill="#000">6</text>
<path d="M417.97 13.30v1.3M440.19 13.30v1.3M462.40 13.30v1.3M484.62 13.30v1.3M506.84 13.30v1.3M417.97 108.60v-1.3M440.19 108.60v-1.3M462.40 108.60v-1.3M484.62 108.60v-1.3M506.84 108.60v-1.3M401.30 27.59h1.3M401.30 46.66h1.3M401.30 65.72h1.3M401.30 84.77h1.3M401.30 103.83h1.3M512.40 27.59h-1.3M512.40 46.66h-1.3M512.40 65.72h-1.3M512.40 84.77h-1.3M512.40 103.83h-1.3" stroke="#000" stroke-width="0.5"/>
<text x="417.96500000000003" y="115.884" font-size="4.4" font-weight="bold" text-anchor="middle" fill="#000">2</text>
<text x="440.185" y="115.884" font-size="4.4" font-weight="bold" text-anchor="middle" fill="#000">4</text>
<text x="462.405" y="115.884" font-size="4.4" font-weight="bold" text-anchor="middle" fill="#000">6</text>
<text x="484.625" y="115.884" font-size="4.4" font-weight="bold" text-anchor="middle" fill="#000">8</text>
<text x="506.84499999999997" y="115.884" font-size="4.4" font-weight="bold" text-anchor="middle" fill="#000">10</text>
<text x="399.5" y="29.179" font-size="4.4" font-weight="bold" text-anchor="end" fill="#000">2</text>
<text x="399.5" y="48.239000000000004" font-size="4.4" font-weight="bold" text-anchor="end" fill="#000">4</text>
<text x="399.5" y="67.299" font-size="4.4" font-weight="bold" text-anchor="end" fill="#000">6</text>
<text x="399.5" y="86.359" font-size="4.4" font-weight="bold" text-anchor="end" fill="#000">8</text>
<text x="399.5" y="105.419" font-size="4.4" font-weight="bold" text-anchor="end" fill="#000">10</text>
<path d="M569.98 13.00v1.3M592.62 13.00v1.3M615.26 13.00v1.3M637.90 13.00v1.3M660.54 13.00v1.3M569.98 108.80v-1.3M592.62 108.80v-1.3M615.26 108.80v-1.3M637.90 108.80v-1.3M660.54 108.80v-1.3M553.00 27.37h1.3M553.00 46.53h1.3M553.00 65.69h1.3M553.00 84.85h1.3M553.00 104.01h1.3M666.20 27.37h-1.3M666.20 46.53h-1.3M666.20 65.69h-1.3M666.20 84.85h-1.3M666.20 104.01h-1.3" stroke="#000" stroke-width="0.5"/>
<text x="569.98" y="116.884" font-size="4.4" font-weight="bold" text-anchor="middle" fill="#000">2</text>
<text x="592.62" y="116.884" font-size="4.4" font-weight="bold" text-anchor="middle" fill="#000">4</text>
<text x="615.26" y="116.884" font-size="4.4" font-weight="bold" text-anchor="middle" fill="#000">6</text>
<text x="637.9000000000001" y="116.884" font-size="4.4" font-weight="bold" text-anchor="middle" fill="#000">8</text>
<text x="660.5400000000001" y="116.884" font-size="4.4" font-weight="bold" text-anchor="middle" fill="#000">10</text>
<text x="551.0" y="28.954" font-size="4.4" font-weight="bold" text-anchor="end" fill="#000">2</text>
<text x="551.0" y="48.114000000000004" font-size="4.4" font-weight="bold" text-anchor="end" fill="#000">4</text>
<text x="551.0" y="67.274" font-size="4.4" font-weight="bold" text-anchor="end" fill="#000">6</text>
<text x="551.0" y="86.434" font-size="4.4" font-weight="bold" text-anchor="end" fill="#000">8</text>
<text x="551.0" y="105.59400000000001" font-size="4.4" font-weight="bold" text-anchor="end" fill="#000">10</text>
<path d="M93.79 131.60v1.3M110.77 131.60v1.3M127.76 131.60v1.3M144.74 131.60v1.3M161.72 131.60v1.3M178.71 131.60v1.3M93.79 218.50v-1.3M110.77 218.50v-1.3M127.76 218.50v-1.3M144.74 218.50v-1.3M161.72 218.50v-1.3M178.71 218.50v-1.3M85.30 138.84h1.3M85.30 153.32h1.3M85.30 167.81h1.3M85.30 182.29h1.3M85.30 196.78h1.3M85.30 211.26h1.3M187.20 138.84h-1.3M187.20 153.32h-1.3M187.20 167.81h-1.3M187.20 182.29h-1.3M187.20 196.78h-1.3M187.20 211.26h-1.3" stroke="#000" stroke-width="0.5"/>
<text x="93.79166666666666" y="224.784" font-size="4.4" font-weight="bold" text-anchor="middle" fill="#000">1</text>
<text x="110.77499999999999" y="224.784" font-size="4.4" font-weight="bold" text-anchor="middle" fill="#000">2</text>
<text x="127.75833333333333" y="224.784" font-size="4.4" font-weight="bold" text-anchor="middle" fill="#000">3</text>
<text x="144.74166666666665" y="224.784" font-size="4.4" font-weight="bold" text-anchor="middle" fill="#000">4</text>
<text x="161.72499999999997" y="224.784" font-size="4.4" font-weight="bold" text-anchor="middle" fill="#000">5</text>
<text x="178.70833333333331" y="224.784" font-size="4.4" font-weight="bold" text-anchor="middle" fill="#000">6</text>
<text x="83.0" y="140.42566666666667" font-size="4.4" font-weight="bold" text-anchor="end" fill="#000">1</text>
<text x="83.0" y="154.909" font-size="4.4" font-weight="bold" text-anchor="end" fill="#000">2</text>
<text x="83.0" y="169.39233333333334" font-size="4.4" font-weight="bold" text-anchor="end" fill="#000">3</text>
<text x="83.0" y="183.87566666666666" font-size="4.4" font-weight="bold" text-anchor="end" fill="#000">4</text>
<text x="83.0" y="198.359" font-size="4.4" font-weight="bold" text-anchor="end" fill="#000">5</text>
<text x="83.0" y="212.84233333333333" font-size="4.4" font-weight="bold" text-anchor="end" fill="#000">6</text>
<path d="M249.17 131.00v1.3M266.50 131.00v1.3M283.83 131.00v1.3M301.17 131.00v1.3M318.50 131.00v1.3M335.83 131.00v1.3M249.17 219.20v-1.3M266.50 219.20v-1.3M283.83 219.20v-1.3M301.17 219.20v-1.3M318.50 219.20v-1.3M335.83 219.20v-1.3M240.50 138.35h1.3M240.50 153.05h1.3M240.50 167.75h1.3M240.50 182.45h1.3M240.50 197.15h1.3M240.50 211.85h1.3M344.50 138.35h-1.3M344.50 153.05h-1.3M344.50 167.75h-1.3M344.50 182.45h-1.3M344.50 197.15h-1.3M344.50 211.85h-1.3" stroke="#000" stroke-width="0.5"/>
<text x="249.16666666666666" y="226.284" font-size="4.4" font-weight="bold" text-anchor="middle" fill="#000">1</text>
<text x="266.5" y="226.284" font-size="4.4" font-weight="bold" text-anchor="middle" fill="#000">2</text>
<text x="283.8333333333333" y="226.284" font-size="4.4" font-weight="bold" text-anchor="middle" fill="#000">3</text>
<text x="301.1666666666667" y="226.284" font-size="4.4" font-weight="bold" text-anchor="middle" fill="#000">4</text>
<text x="318.5" y="226.284" font-size="4.4" font-weight="bold" text-anchor="middle" fill="#000">5</text>
<text x="335.8333333333333" y="226.284" font-size="4.4" font-weight="bold" text-anchor="middle" fill="#000">6</text>
<text x="238.5" y="139.934" font-size="4.4" font-weight="bold" text-anchor="end" fill="#000">1</text>
<text x="238.5" y="154.63400000000001" font-size="4.4" font-weight="bold" text-anchor="end" fill="#000">2</text>
<text x="238.5" y="169.334" font-size="4.4" font-weight="bold" text-anchor="end" fill="#000">3</text>
<text x="238.5" y="184.034" font-size="4.4" font-weight="bold" text-anchor="end" fill="#000">4</text>
<text x="238.5" y="198.73399999999998" font-size="4.4" font-weight="bold" text-anchor="end" fill="#000">5</text>
<text x="238.5" y="213.43399999999997" font-size="4.4" font-weight="bold" text-anchor="end" fill="#000">6</text>
<path d="M417.30 129.80v1.3M438.50 129.80v1.3M459.70 129.80v1.3M480.90 129.80v1.3M502.10 129.80v1.3M417.30 219.60v-1.3M438.50 219.60v-1.3M459.70 219.60v-1.3M480.90 219.60v-1.3M502.10 219.60v-1.3M401.40 143.27h1.3M401.40 161.23h1.3M401.40 179.19h1.3M401.40 197.15h1.3M401.40 215.11h1.3M507.40 143.27h-1.3M507.40 161.23h-1.3M507.40 179.19h-1.3M507.40 197.15h-1.3M507.40 215.11h-1.3" stroke="#000" stroke-width="0.5"/>
<text x="417.29999999999995" y="226.484" font-size="4.4" font-weight="bold" text-anchor="middle" fill="#000">2</text>
<text x="438.5" y="226.484" font-size="4.4" font-weight="bold" text-anchor="middle" fill="#000">4</text>
<text x="459.7" y="226.484" font-size="4.4" font-weight="bold" text-anchor="middle" fill="#000">6</text>
<text x="480.9" y="226.484" font-size="4.4" font-weight="bold" text-anchor="middle" fill="#000">8</text>
<text x="502.09999999999997" y="226.484" font-size="4.4" font-weight="bold" text-anchor="middle" fill="#000">10</text>
<text x="399.5" y="144.854" font-size="4.4" font-weight="bold" text-anchor="end" fill="#000">2</text>
<text x="399.5" y="162.81400000000002" font-size="4.4" font-weight="bold" text-anchor="end" fill="#000">4</text>
<text x="399.5" y="180.774" font-size="4.4" font-weight="bold" text-anchor="end" fill="#000">6</text>
<text x="399.5" y="198.734" font-size="4.4" font-weight="bold" text-anchor="end" fill="#000">8</text>
<text x="399.5" y="216.69400000000002" font-size="4.4" font-weight="bold" text-anchor="end" fill="#000">10</text>
<path d="M570.03 129.40v1.3M591.27 129.40v1.3M612.51 129.40v1.3M633.75 129.40v1.3M654.99 129.40v1.3M570.03 219.20v-1.3M591.27 219.20v-1.3M612.51 219.20v-1.3M633.75 219.20v-1.3M654.99 219.20v-1.3M554.10 142.87h1.3M554.10 160.83h1.3M554.10 178.79h1.3M554.10 196.75h1.3M554.10 214.71h1.3M660.30 142.87h-1.3M660.30 160.83h-1.3M660.30 178.79h-1.3M660.30 196.75h-1.3M660.30 214.71h-1.3" stroke="#000" stroke-width="0.5"/>
<text x="570.03" y="225.88400000000001" font-size="4.4" font-weight="bold" text-anchor="middle" fill="#000">2</text>
<text x="633.75" y="225.88400000000001" font-size="4.4" font-weight="bold" text-anchor="middle" fill="#000">8</text>
<text x="654.99" y="225.88400000000001" font-size="4.4" font-weight="bold" text-anchor="middle" fill="#000">10</text>
<text x="552.0" y="144.454" font-size="4.4" font-weight="bold" text-anchor="end" fill="#000">2</text>
<text x="552.0" y="162.41400000000002" font-size="4.4" font-weight="bold" text-anchor="end" fill="#000">4</text>
<text x="552.0" y="180.374" font-size="4.4" font-weight="bold" text-anchor="end" fill="#000">6</text>
<text x="552.0" y="198.334" font-size="4.4" font-weight="bold" text-anchor="end" fill="#000">8</text>
<text x="552.0" y="216.29399999999998" font-size="4.4" font-weight="bold" text-anchor="end" fill="#000">10</text>
<text x="134.6" y="124.9" font-size="8.5" font-weight="bold" text-anchor="middle" fill="#000">Cell #</text>
<text x="292.4" y="122.9" font-size="8.5" font-weight="bold" text-anchor="middle" fill="#000">Cell #</text>
<text x="456.2" y="124.9" font-size="8.5" font-weight="bold" text-anchor="middle" fill="#000">Cell #</text>
<text x="608.4" y="125.1" font-size="8.5" font-weight="bold" text-anchor="middle" fill="#000">Cell #</text>
<text x="75.7" y="53.4" font-size="8.5" font-weight="bold" text-anchor="middle" fill="#000" transform="rotate(-90 75.7 53.4)">Cell #</text>
<text x="233.0" y="53.6" font-size="8.5" font-weight="bold" text-anchor="middle" fill="#000" transform="rotate(-90 233.0 53.6)">Cell #</text>
<text x="391.9" y="53.5" font-size="8.5" font-weight="bold" text-anchor="middle" fill="#000" transform="rotate(-90 391.9 53.5)">Cell #</text>
<text x="544.5" y="53.3" font-size="8.5" font-weight="bold" text-anchor="middle" fill="#000" transform="rotate(-90 544.5 53.3)">Cell #</text>
<text x="135.8" y="234.5" font-size="8.5" font-weight="bold" text-anchor="middle" fill="#000">Cell #</text>
<text x="291.4" y="234.9" font-size="8.5" font-weight="bold" text-anchor="middle" fill="#000">Cell #</text>
<text x="450.0" y="234.9" font-size="8.5" font-weight="bold" text-anchor="middle" fill="#000">Cell #</text>
<text x="607.0" y="234.9" font-size="8.5" font-weight="bold" text-anchor="middle" fill="#000">Cell #</text>
<text x="78.1" y="172.0" font-size="8.5" font-weight="bold" text-anchor="middle" fill="#000" transform="rotate(-90 78.1 172.0)">Cell #</text>
<text x="231.6" y="171.9" font-size="8.5" font-weight="bold" text-anchor="middle" fill="#000" transform="rotate(-90 231.6 171.9)">Cell #</text>
<text x="391.0" y="171.6" font-size="8.5" font-weight="bold" text-anchor="middle" fill="#000" transform="rotate(-90 391.0 171.6)">Cell #</text>
<text x="548.8" y="171.9" font-size="8.5" font-weight="bold" text-anchor="middle" fill="#000" transform="rotate(-90 548.8 171.9)">Cell #</text>
<text x="199.2" y="104.692" font-size="4.7" font-weight="bold" text-anchor="start" fill="#000">0</text>
<text x="199.2" y="86.79199999999999" font-size="4.7" font-weight="bold" text-anchor="start" fill="#000">0.2</text>
<text x="199.2" y="68.89199999999998" font-size="4.7" font-weight="bold" text-anchor="start" fill="#000">0.4</text>
<text x="199.2" y="50.992000000000004" font-size="4.7" font-weight="bold" text-anchor="start" fill="#000">0.6</text>
<text x="199.2" y="33.09199999999999" font-size="4.7" font-weight="bold" text-anchor="start" fill="#000">0.8</text>
<text x="199.2" y="15.192" font-size="4.7" font-weight="bold" text-anchor="start" fill="#000">1</text>
<text x="359.8" y="109.092" font-size="4.7" font-weight="bold" text-anchor="start" fill="#000">0</text>
<text x="359.8" y="90.472" font-size="4.7" font-weight="bold" text-anchor="start" fill="#000">0.2</text>
<text x="359.8" y="71.85199999999999" font-size="4.7" font-weight="bold" text-anchor="start" fill="#000">0.4</text>
<text x="359.8" y="53.232" font-size="4.7" font-weight="bold" text-anchor="start" fill="#000">0.6</text>
<text x="359.8" y="34.612" font-size="4.7" font-weight="bold" text-anchor="start" fill="#000">0.8</text>
<text x="359.8" y="15.991999999999997" font-size="4.7" font-weight="bold" text-anchor="start" fill="#000">1</text>
<text x="524.0" y="110.29199999999999" font-size="4.7" font-weight="bold" text-anchor="start" fill="#000">0</text>
<text x="524.0" y="91.17199999999998" font-size="4.7" font-weight="bold" text-anchor="start" fill="#000">0.2</text>
<text x="524.0" y="72.05199999999998" font-size="4.7" font-weight="bold" text-anchor="start" fill="#000">0.4</text>
<text x="524.0" y="52.932" font-size="4.7" font-weight="bold" text-anchor="start" fill="#000">0.6</text>
<text x="524.0" y="33.81199999999999" font-size="4.7" font-weight="bold" text-anchor="start" fill="#000">0.8</text>
<text x="524.0" y="14.692" font-size="4.7" font-weight="bold" text-anchor="start" fill="#000">1</text>
<text x="677.5" y="110.29199999999999" font-size="4.7" font-weight="bold" text-anchor="start" fill="#000">0</text>
<text x="677.5" y="91.17199999999998" font-size="4.7" font-weight="bold" text-anchor="start" fill="#000">0.2</text>
<text x="677.5" y="72.05199999999998" font-size="4.7" font-weight="bold" text-anchor="start" fill="#000">0.4</text>
<text x="677.5" y="52.932" font-size="4.7" font-weight="bold" text-anchor="start" fill="#000">0.6</text>
<text x="677.5" y="33.81199999999999" font-size="4.7" font-weight="bold" text-anchor="start" fill="#000">0.8</text>
<text x="677.5" y="14.692" font-size="4.7" font-weight="bold" text-anchor="start" fill="#000">1</text>
<text x="197.0" y="209.97575796178344" font-size="4.7" font-weight="bold" text-anchor="start" fill="#000">-0.6</text>
<text x="197.0" y="198.9311719745223" font-size="4.7" font-weight="bold" text-anchor="start" fill="#000">-0.4</text>
<text x="197.0" y="187.88658598726116" font-size="4.7" font-weight="bold" text-anchor="start" fill="#000">-0.2</text>
<text x="197.0" y="176.842" font-size="4.7" font-weight="bold" text-anchor="start" fill="#000">0</text>
<text x="197.0" y="165.79741401273887" font-size="4.7" font-weight="bold" text-anchor="start" fill="#000">0.2</text>
<text x="197.0" y="154.7528280254777" font-size="4.7" font-weight="bold" text-anchor="start" fill="#000">0.4</text>
<text x="197.0" y="143.70824203821658" font-size="4.7" font-weight="bold" text-anchor="start" fill="#000">0.6</text>
<text x="355.0" y="210.49900636942675" font-size="4.7" font-weight="bold" text-anchor="start" fill="#000">-0.6</text>
<text x="355.0" y="199.26333757961783" font-size="4.7" font-weight="bold" text-anchor="start" fill="#000">-0.4</text>
<text x="355.0" y="188.02766878980893" font-size="4.7" font-weight="bold" text-anchor="start" fill="#000">-0.2</text>
<text x="355.0" y="176.792" font-size="4.7" font-weight="bold" text-anchor="start" fill="#000">0</text>
<text x="355.0" y="165.55633121019108" font-size="4.7" font-weight="bold" text-anchor="start" fill="#000">0.2</text>
<text x="355.0" y="154.32066242038218" font-size="4.7" font-weight="bold" text-anchor="start" fill="#000">0.4</text>
<text x="355.0" y="143.08499363057325" font-size="4.7" font-weight="bold" text-anchor="start" fill="#000">0.6</text>
<text x="518.3" y="210.44582165605098" font-size="4.7" font-weight="bold" text-anchor="start" fill="#000">-0.6</text>
<text x="518.3" y="199.04454777070066" font-size="4.7" font-weight="bold" text-anchor="start" fill="#000">-0.4</text>
<text x="518.3" y="187.64327388535034" font-size="4.7" font-weight="bold" text-anchor="start" fill="#000">-0.2</text>
<text x="518.3" y="176.24200000000002" font-size="4.7" font-weight="bold" text-anchor="start" fill="#000">0</text>
<text x="518.3" y="164.8407261146497" font-size="4.7" font-weight="bold" text-anchor="start" fill="#000">0.2</text>
<text x="518.3" y="153.43945222929938" font-size="4.7" font-weight="bold" text-anchor="start" fill="#000">0.4</text>
<text x="518.3" y="142.03817834394906" font-size="4.7" font-weight="bold" text-anchor="start" fill="#000">0.6</text>
<text x="670.5" y="210.16938853503186" font-size="4.7" font-weight="bold" text-anchor="start" fill="#000">-0.6</text>
<text x="670.5" y="198.7935923566879" font-size="4.7" font-weight="bold" text-anchor="start" fill="#000">-0.4</text>
<text x="670.5" y="187.41779617834396" font-size="4.7" font-weight="bold" text-anchor="start" fill="#000">-0.2</text>
<text x="670.5" y="176.042" font-size="4.7" font-weight="bold" text-anchor="start" fill="#000">0</text>
<text x="670.5" y="164.66620382165604" font-size="4.7" font-weight="bold" text-anchor="start" fill="#000">0.2</text>
<text x="670.5" y="153.2904076433121" font-size="4.7" font-weight="bold" text-anchor="start" fill="#000">0.4</text>
<text x="670.5" y="141.91461146496815" font-size="4.7" font-weight="bold" text-anchor="start" fill="#000">0.6</text>
<rect x="187.0" y="248.4" width="5.80" height="97.10" fill="url(#jet)" stroke="#333" stroke-width="0.4"/>
<text x="194.60000000000002" y="347.192" font-size="4.7" font-weight="bold" text-anchor="start" fill="#000">0</text>
<text x="194.60000000000002" y="327.772" font-size="4.7" font-weight="bold" text-anchor="start" fill="#000">0.2</text>
<text x="194.60000000000002" y="308.352" font-size="4.7" font-weight="bold" text-anchor="start" fill="#000">0.4</text>
<text x="194.60000000000002" y="288.932" font-size="4.7" font-weight="bold" text-anchor="start" fill="#000">0.6</text>
<text x="194.60000000000002" y="269.512" font-size="4.7" font-weight="bold" text-anchor="start" fill="#000">0.8</text>
<text x="194.60000000000002" y="250.092" font-size="4.7" font-weight="bold" text-anchor="start" fill="#000">1</text>
<rect x="347.5" y="248.2" width="5.70" height="97.10" fill="url(#jet)" stroke="#333" stroke-width="0.4"/>
<text x="355.0" y="346.992" font-size="4.7" font-weight="bold" text-anchor="start" fill="#000">0</text>
<text x="355.0" y="327.572" font-size="4.7" font-weight="bold" text-anchor="start" fill="#000">0.2</text>
<text x="355.0" y="308.152" font-size="4.7" font-weight="bold" text-anchor="start" fill="#000">0.4</text>
<text x="355.0" y="288.732" font-size="4.7" font-weight="bold" text-anchor="start" fill="#000">0.6</text>
<text x="355.0" y="269.312" font-size="4.7" font-weight="bold" text-anchor="start" fill="#000">0.8</text>
<text x="355.0" y="249.892" font-size="4.7" font-weight="bold" text-anchor="start" fill="#000">1</text>
<rect x="509.3" y="247.5" width="6.00" height="97.80" fill="url(#jet)" stroke="#333" stroke-width="0.4"/>
<text x="517.0999999999999" y="346.992" font-size="4.7" font-weight="bold" text-anchor="start" fill="#000">0</text>
<text x="517.0999999999999" y="327.432" font-size="4.7" font-weight="bold" text-anchor="start" fill="#000">0.2</text>
<text x="517.0999999999999" y="307.872" font-size="4.7" font-weight="bold" text-anchor="start" fill="#000">0.4</text>
<text x="517.0999999999999" y="288.312" font-size="4.7" font-weight="bold" text-anchor="start" fill="#000">0.6</text>
<text x="517.0999999999999" y="268.752" font-size="4.7" font-weight="bold" text-anchor="start" fill="#000">0.8</text>
<text x="517.0999999999999" y="249.192" font-size="4.7" font-weight="bold" text-anchor="start" fill="#000">1</text>
<rect x="661.4" y="247.5" width="5.70" height="97.80" fill="url(#jet)" stroke="#333" stroke-width="0.4"/>
<text x="668.9" y="346.992" font-size="4.7" font-weight="bold" text-anchor="start" fill="#000">0</text>
<text x="668.9" y="327.432" font-size="4.7" font-weight="bold" text-anchor="start" fill="#000">0.2</text>
<text x="668.9" y="307.872" font-size="4.7" font-weight="bold" text-anchor="start" fill="#000">0.4</text>
<text x="668.9" y="288.312" font-size="4.7" font-weight="bold" text-anchor="start" fill="#000">0.6</text>
<text x="668.9" y="268.752" font-size="4.7" font-weight="bold" text-anchor="start" fill="#000">0.8</text>
<text x="668.9" y="249.192" font-size="4.7" font-weight="bold" text-anchor="start" fill="#000">1</text>
<clipPath id="fc86"><rect x="64.1" y="240" width="27.200000000000003" height="110"/></clipPath><g clip-path="url(#fc86)">
<text x="86.3" y="253.9" font-size="5.0" font-weight="bold" text-anchor="end" fill="#000">8</text>
<text x="86.3" y="262.05" font-size="5.0" font-weight="bold" text-anchor="end" fill="#000">4</text>
<text x="86.3" y="270.2" font-size="5.0" font-weight="bold" text-anchor="end" fill="#000">2</text>
<text x="86.3" y="278.35" font-size="5.0" font-weight="bold" text-anchor="end" fill="#000">1</text>
<text x="86.3" y="286.5" font-size="5.0" font-weight="bold" text-anchor="end" fill="#000">0.5</text>
<text x="86.3" y="294.65000000000003" font-size="5.0" font-weight="bold" text-anchor="end" fill="#000">0.25</text>
<text x="86.3" y="302.8" font-size="5.0" font-weight="bold" text-anchor="end" fill="#000">0.125</text>
<text x="86.3" y="310.95" font-size="5.0" font-weight="bold" text-anchor="end" fill="#000">0.0625</text>
<text x="86.3" y="319.1" font-size="5.0" font-weight="bold" text-anchor="end" fill="#000">0.03125</text>
<text x="86.3" y="327.25" font-size="5.0" font-weight="bold" text-anchor="end" fill="#000">0.015625</text>
<text x="86.3" y="335.40000000000003" font-size="5.0" font-weight="bold" text-anchor="end" fill="#000">0.0078125</text>
<text x="86.3" y="343.55" font-size="5.0" font-weight="bold" text-anchor="end" fill="#000">0.00390625</text>
</g>
<text x="245.7" y="253.9" font-size="5.0" font-weight="bold" text-anchor="end" fill="#000">8</text>
<text x="245.7" y="262.05" font-size="5.0" font-weight="bold" text-anchor="end" fill="#000">4</text>
<text x="245.7" y="270.2" font-size="5.0" font-weight="bold" text-anchor="end" fill="#000">2</text>
<text x="245.7" y="278.35" font-size="5.0" font-weight="bold" text-anchor="end" fill="#000">1</text>
<text x="245.7" y="286.5" font-size="5.0" font-weight="bold" text-anchor="end" fill="#000">0.5</text>
<text x="245.7" y="294.65000000000003" font-size="5.0" font-weight="bold" text-anchor="end" fill="#000">0.25</text>
<text x="245.7" y="302.8" font-size="5.0" font-weight="bold" text-anchor="end" fill="#000">0.125</text>
<text x="245.7" y="310.95" font-size="5.0" font-weight="bold" text-anchor="end" fill="#000">0.0625</text>
<text x="245.7" y="319.1" font-size="5.0" font-weight="bold" text-anchor="end" fill="#000">0.03125</text>
<text x="245.7" y="327.25" font-size="5.0" font-weight="bold" text-anchor="end" fill="#000">0.015625</text>
<text x="245.7" y="335.40000000000003" font-size="5.0" font-weight="bold" text-anchor="end" fill="#000">0.0078125</text>
<text x="245.7" y="343.55" font-size="5.0" font-weight="bold" text-anchor="end" fill="#000">0.00390625</text>
<text x="406.2" y="253.0" font-size="5.0" font-weight="bold" text-anchor="end" fill="#000">8</text>
<text x="406.2" y="261.2" font-size="5.0" font-weight="bold" text-anchor="end" fill="#000">4</text>
<text x="406.2" y="269.4" font-size="5.0" font-weight="bold" text-anchor="end" fill="#000">2</text>
<text x="406.2" y="277.6" font-size="5.0" font-weight="bold" text-anchor="end" fill="#000">1</text>
<text x="406.2" y="285.8" font-size="5.0" font-weight="bold" text-anchor="end" fill="#000">0.5</text>
<text x="406.2" y="294.0" font-size="5.0" font-weight="bold" text-anchor="end" fill="#000">0.25</text>
<text x="406.2" y="302.2" font-size="5.0" font-weight="bold" text-anchor="end" fill="#000">0.125</text>
<text x="406.2" y="310.4" font-size="5.0" font-weight="bold" text-anchor="end" fill="#000">0.0625</text>
<text x="406.2" y="318.59999999999997" font-size="5.0" font-weight="bold" text-anchor="end" fill="#000">0.03125</text>
<text x="406.2" y="326.8" font-size="5.0" font-weight="bold" text-anchor="end" fill="#000">0.015625</text>
<text x="406.2" y="335.0" font-size="5.0" font-weight="bold" text-anchor="end" fill="#000">0.0078125</text>
<text x="406.2" y="343.2" font-size="5.0" font-weight="bold" text-anchor="end" fill="#000">0.00390625</text>
<clipPath id="fc559"><rect x="539.5" y="240" width="24.5" height="110"/></clipPath><g clip-path="url(#fc559)">
<text x="559.0" y="253.0" font-size="5.0" font-weight="bold" text-anchor="end" fill="#000">8</text>
<text x="559.0" y="261.2" font-size="5.0" font-weight="bold" text-anchor="end" fill="#000">4</text>
<text x="559.0" y="269.4" font-size="5.0" font-weight="bold" text-anchor="end" fill="#000">2</text>
<text x="559.0" y="277.6" font-size="5.0" font-weight="bold" text-anchor="end" fill="#000">1</text>
<text x="559.0" y="285.8" font-size="5.0" font-weight="bold" text-anchor="end" fill="#000">0.5</text>
<text x="559.0" y="294.0" font-size="5.0" font-weight="bold" text-anchor="end" fill="#000">0.25</text>
<text x="559.0" y="302.2" font-size="5.0" font-weight="bold" text-anchor="end" fill="#000">0.125</text>
<text x="559.0" y="310.4" font-size="5.0" font-weight="bold" text-anchor="end" fill="#000">0.0625</text>
<text x="559.0" y="318.59999999999997" font-size="5.0" font-weight="bold" text-anchor="end" fill="#000">0.03125</text>
<text x="559.0" y="326.8" font-size="5.0" font-weight="bold" text-anchor="end" fill="#000">0.015625</text>
<text x="559.0" y="335.0" font-size="5.0" font-weight="bold" text-anchor="end" fill="#000">0.0078125</text>
<text x="559.0" y="343.2" font-size="5.0" font-weight="bold" text-anchor="end" fill="#000">0.00390625</text>
</g>
<text x="60.2" y="296.0" font-size="8.5" font-weight="bold" text-anchor="middle" fill="#000" transform="rotate(-90 60.2 296.0)">Frequency (Hz)</text>
<text x="215.0" y="297.1" font-size="8.5" font-weight="bold" text-anchor="middle" fill="#000" transform="rotate(-90 215.0 297.1)">Frequency (Hz)</text>
<text x="375.0" y="295.6" font-size="8.5" font-weight="bold" text-anchor="middle" fill="#000" transform="rotate(-90 375.0 295.6)">Frequency (Hz)</text>
<text x="535.2" y="295.6" font-size="8.5" font-weight="bold" text-anchor="middle" fill="#000" transform="rotate(-90 535.2 295.6)">Frequency (Hz)</text>
<text x="88.0" y="353.0" font-size="5.0" font-weight="bold" text-anchor="middle" fill="#000">0</text>
<text x="106.5" y="353.0" font-size="5.0" font-weight="bold" text-anchor="middle" fill="#000">2</text>
<text x="125.0" y="353.0" font-size="5.0" font-weight="bold" text-anchor="middle" fill="#000">4</text>
<text x="143.5" y="353.0" font-size="5.0" font-weight="bold" text-anchor="middle" fill="#000">6</text>
<text x="162.0" y="353.0" font-size="5.0" font-weight="bold" text-anchor="middle" fill="#000">8</text>
<text x="180.5" y="353.0" font-size="5.0" font-weight="bold" text-anchor="middle" fill="#000">10</text>
<text x="247.6" y="353.2" font-size="5.0" font-weight="bold" text-anchor="middle" fill="#000">0</text>
<text x="266.18" y="353.2" font-size="5.0" font-weight="bold" text-anchor="middle" fill="#000">2</text>
<text x="284.76" y="353.2" font-size="5.0" font-weight="bold" text-anchor="middle" fill="#000">4</text>
<text x="303.34000000000003" y="353.2" font-size="5.0" font-weight="bold" text-anchor="middle" fill="#000">6</text>
<text x="321.92" y="353.2" font-size="5.0" font-weight="bold" text-anchor="middle" fill="#000">8</text>
<text x="340.5" y="353.2" font-size="5.0" font-weight="bold" text-anchor="middle" fill="#000">10</text>
<text x="408.0" y="353.2" font-size="5.0" font-weight="bold" text-anchor="middle" fill="#000">0</text>
<text x="426.8" y="353.2" font-size="5.0" font-weight="bold" text-anchor="middle" fill="#000">2</text>
<text x="445.6" y="353.2" font-size="5.0" font-weight="bold" text-anchor="middle" fill="#000">4</text>
<text x="464.4" y="353.2" font-size="5.0" font-weight="bold" text-anchor="middle" fill="#000">6</text>
<text x="483.2" y="353.2" font-size="5.0" font-weight="bold" text-anchor="middle" fill="#000">8</text>
<text x="502.0" y="353.2" font-size="5.0" font-weight="bold" text-anchor="middle" fill="#000">10</text>
<text x="561.0" y="353.2" font-size="5.0" font-weight="bold" text-anchor="middle" fill="#000">0</text>
<text x="579.72" y="353.2" font-size="5.0" font-weight="bold" text-anchor="middle" fill="#000">2</text>
<text x="598.44" y="353.2" font-size="5.0" font-weight="bold" text-anchor="middle" fill="#000">4</text>
<text x="617.16" y="353.2" font-size="5.0" font-weight="bold" text-anchor="middle" fill="#000">6</text>
<text x="635.88" y="353.2" font-size="5.0" font-weight="bold" text-anchor="middle" fill="#000">8</text>
<text x="654.6" y="353.2" font-size="5.0" font-weight="bold" text-anchor="middle" fill="#000">10</text>
<text x="132.7" y="363.7" font-size="8.5" font-weight="bold" text-anchor="middle" fill="#000">Time (mins)</text>
<text x="295.3" y="363.7" font-size="8.5" font-weight="bold" text-anchor="middle" fill="#000">Time (mins)</text>
<text x="457.1" y="363.7" font-size="8.5" font-weight="bold" text-anchor="middle" fill="#000">Time (mins)</text>
<text x="609.2" y="363.7" font-size="8.5" font-weight="bold" text-anchor="middle" fill="#000">Time (mins)</text>
<clipPath id="wc0"><rect x="88.2" y="248.4" width="92.40" height="96.90"/></clipPath>
<g clip-path="url(#wc0)">
<g stroke-width="1" fill="none">
<path stroke="#817d77" d="M88.5 248v1m0 18v1m2-11v1m0 3v4m1-4v1m0 18v4m1-22v3m6 12v1m0 8v2m2-28v1m6 3v1m1-15v1m2 9v1m0 10v2m1-18v1m0 2v2m0 1v1m0 31v6m1-50v1m3 40v1m1-23v3m1-19v1m0 11v2m8-2v1m1 3v1m11-20v1m1 1v2m6 19v1m0 3v1m2-5v1m0 17v1m1-37v1m1 21v1m1-12v2m2-1v1m0 5v2m2-14v1m3-1v1m0 6v1m4-20v1m0 14v1m1-14v1m1 22v1m0 2v1m10-2v1m1-11v1m3 6v1m1 1v1m4-10v1"/>
<path stroke="#7d487c" d="M88.5 249v1m0 7v1m0 10v1m1-13v3m1-8v2m2 15v5m1-25v3m0 17v3m0 3v1m2-11v1m0 2v1m2-12v1m1 16v1m0 1v1m1-18v1m0 4v1m1-3v1m1-7v1m0 4v1m1-10v7m4 8v1m3-5v1m2-15v1m4 23v2m0 1v1m1-22v1m1 14v1m2-20v1m0 5v1m1-7v1m6 7v1m4-8v1m0 4v2m3-10v5m10-3v1m0 22v2m2-21v1m0 2v1m0 15v1m0 2v1m1-26v2m1-4v1m0 2v1m1 17v4m1-24v1m0 23v3m1-14v2m3-9v1m0 3v1m2 0v1m0 3v1m2-6v1m0 4v1m2 0v1m1-16v1m3 7v1m0 5v1m3-18v1m1 1v2m1 13v1m0 4v6m1-18v4m2 1v1m0 9v1m1-15v1m0 3v1m1-12v4m1 8v1m0 1v1m1-2v3m0 2v1m1-2v1m0 3v1m4-10v1"/>
<path stroke="#7b217b" d="M88.5 250v7m0 12v3m2-24v3m3 20v3m2-9v2m2-5v4m1 8v1m1-16v4m1-1v3m1-9v4m5 7v5m9 2v1m2-8v2m2-18v5m1-5v6m6 2v5m4-12v4m15-1v2m0 17v2m2-26v2m2-4v2m2 10v2m2-5v3m2 2v3m2-4v4m2 2v6m1-21v7m3 1v5m5 1v4m3-9v2m1-3v3m2 2v1m1 2v2m1 0v3m4-10v1"/>
<path stroke="#7c9f82" d="M88.5 258v1m1 19v1m0 11v4m2-30v1m0 12v2m2-27v1m3 3v1m2 6v1m0 14v1m0 5v1m2-9v2m6-23v1m3 3v1m1 11v1m0 19v1m1-27v1m2-18v1m0 44v1m0 2v1m1-24v2m0 13v1m4-15v2m1-18v1m2 4v1m3-13v2m0 13v1m1-5v5m4-12v4m1-11v1m0 10v1m0 2v2m2 0v2m3-3v1m1-16v1m1 5v1m2-4v2m4 4v1m0 6v2m0 12v1m1 6v1m1-8v1m0 7v1m2-19v1m0 8v1m1-3v1m1-25v1m0 26v1m1-28v1m0 24v1m1-25v1m0 1v1m1 30v1m2-19v1m2 5v1m1-16v1m1 4v2m4-16v1m1-2v1m0 8v1m0 16v3m5 1v1m1-14v4m1-6v1m1 12v1m2-7v1m0 25v3m1-50v2m0 17v1m1-17v1m2 22v1"/>
<path stroke="#bde742" d="M88.5 259v1m0 4v1m0 31v1m5-36v2m0 1v1m1 6v1m2-7v1m6 0v1m1 36v2m1-39v1m0 13v2m13-25v2m0 1v1m9 15v1m8-13v1m1-14v1m4 3v1m0 8v1m2 6v1m0 5v1m1-13v1m2 3v2m4 26v1m3-49v2m0 18v1m1-22v1m2 33v1m8-8v1m1 30v1m1-52v1m5 22v1m1-11v1m2-15v1m0 31v1m6-7v1"/>
<path stroke="#c8ff37" d="M88.5 260v1m0 23v2m0 3v2m0 4v1m4-39v1m2-7v1m2 7v1m0 14v1m5-6v1m0 26v1m0 3v1m0 6v1m1-17v1m2-14v1m7 22v1m12-39v1m9-15v1m4 7v2m5 0v1m2 22v1m8 5v1m2 16v1m0 3v1m3-29v1m0 23v1m0 3v1m7-12v1m3-3v1m3-18v3m10-18v1"/>
<path stroke="#a8ff57" d="M88.5 261v1m0 20v1m2 10v1m3-34v1m7-12v2m2 37v1m10 6v2m2-14v2m2-5v1m11-31v1m1 17v1m8-13v1m12 25v1m9-6v1m1-25v2m0 23v1m2-31v1m0 23v1m2-9v1m1 42v1m2-12v1m2-3v1m1-10v1m1-3v1m1-18v1m2-14v1m0 31v1"/>
<path stroke="#8aca75" d="M88.5 262v2m1 6v1m1 13v1m5-32v1m2 4v1m0 14v1m6-8v1m1 0v1m6 2v1m3 5v1m0 1v1m0 12v1m1-5v1m1-40v1m0 12v2m3-8v2m0 23v1m4-16v1m6-5v1m3-13v1m0 2v1m0 19v1m1-18v1m7-2v1m2 14v1m0 6v1m3-12v2m0 10v2m0 5v1m2-25v1m1 6v1m0 11v1m2-1v1m3 2v1m1-35v3m1-3v1m1 27v1m3-12v1m3 5v1m0 11v1m1-36v1m1 18v1m0 5v1m0 4v1m4-4v1m0 1v1m1 1v1m1-10v1m0 5v2m0 10v1m1-20v1m0 8v4m2-5v2m1-10v1m1 24v1m4-43v1m1 18v2m1 1v1"/>
<path stroke="#eae115" d="M88.5 265v1m0 31v1m1 0v1m5-27v1m1-23v1m6 27v1m1 21v1m0 6v1m1-15v1m1-18v1m7 25v2m0 1v1m2-51v1m4 28v1m10-36v1m11 12v1m5 20v1m1-13v1m3 23v1m4-7v2m0 15v1m0 1v1m1-59v3m0 52v1m0 3v1m4-28v1m1 22v1m1-27v1m0 26v1m1-32v2m3-12v1m0 8v1m3 22v1m0 6v1m0 5v1m2-6v1m0 3v1m8-31v1m4-17v1"/>
<path stroke="#d1a22d" d="M88.5 266v1m1-7v1m2 6v1m4-13v1m0 14v1m1-10v3m2-3v1m9 7v2m4-19v1m3 18v1m1-12v1m1 8v2m2-10v2m0 8v1m3-3v1m0 5v1m2-11v1m0 4v1m7 0v1m1 2v1m4-19v1m5 10v1m1-15v1m2-1v1m0 30v1m1-10v1m2-15v1m2-8v1m3 9v1m3 4v1m1-11v1m0 9v1m0 4v1m1-25v2m0 7v1m4-11v1m12 6v1m0 17v1m0 13v1m3-8v1m2-5v2m1-26v1m0 9v1m0 17v1m1-21v1m0 13v1"/>
<path stroke="#7e627d" d="M88.5 272v1m2-20v1m1 8v2m1 2v2m1-17v1m0 15v1m2-5v1m2-9v1m0 10v1m1 9v1m2-12v1m1-12v1m0 6v1m1-4v1m4 6v1m0 6v1m3-12v1m0 1v1m1-11v2m0 5v1m5 10v1m0 4v1m1-24v1m0 1v1m1 10v1m0 3v1m4-7v3m9-17v1m3 2v1m9-4v3m1-2v1m0 7v3m3-12v1m0 2v1m1-6v1m0 24v3m1-7v1m2-8v1m0 2v1m1-7v1m0 2v1m1-5v2m3 6v1m4-2v1m0 7v1m1-15v1m1 14v2m2-18v1m3-10v1m0 5v3m2 18v1m1-29v4m0 5v1m0 4v1m1-2v1m1-2v1m0 3v9m0 1v1m1-11v1m1-9v1m1 6v1m1-10v2m0 7v2m0 6v1m5-24v1m0 6v1m0 6v1"/>
<path stroke="#5d889e" d="M88.5 273v1m1-20v1m0 31v3m1-23v1m1-7v1m5-8v1m0 14v1m2-4v1m1-10v1m1 9v1m1-4v3m1-6v1m1-10v3m1-2v2m0 4v1m2 4v1m2-2v3m1-1v1m1 13v3m1-3v1m1-31v4m0 19v1m3-8v1m1-14v1m3 7v3m0 3v1m0 7v1m1-16v1m1-8v1m2 6v2m1-6v1m2-4v1m3 1v2m4 0v1m3-5v2m2 5v2m5-12v1m3 6v1m1-2v1m5 12v2m1-7v1m1-11v1m3 14v1m2-18v1m0 5v1m6-5v2m0 17v1m3-9v1m2-5v1m1-3v2m2-10v1m0 8v1m2 1v1m2-8v3m3 1v1m0 3v1"/>
<path stroke="#1198ee" d="M88.5 274v1m1-22v1m2 4v1m8-9v3m1 16v1m1-20v2m1 10v1m0 17v1m0 22v2m2-50v1m2-3v1m0 5v1m2 8v1m1 0v1m1 5v2m2-2v1m4-27v1m4 12v1m6 9v1m1-20v1m2-5v1m3 8v1m0 3v1m8 0v1m2-2v1m5-8v1m2 6v3m8-16v1m7 25v1m1 5v1m6-1v1m3-28v1m1-5v1m1 4v1"/>
<path stroke="#0094ff" d="M88.5 275v1m9-26v1m3 4v1m8-2v1m4 21v1m4-2v2m9-23v1m29 23v1m3-9v1m5-13v1m0 24v1m2 4v2m1-25v1m0 24v1m1-28v1m0 16v1m1-8v1m10-10v1m2-17v1"/>
<path stroke="#00b4ff" d="M88.5 276v1m9-28v1m15 28v1m19-20v1m0 2v1m15-6v1m1 30v1m14-28v1m4-5v1m1 4v1"/>
<path stroke="#14c5ea" d="M88.5 277v1m2 9v2m1-39v1m0 4v2m1-9v1m2 11v1m2 10v1m1-24v1m3 5v1m0 25v1m0 1v2m0 19v2m2-22v1m4-26v1m2 10v1m2-4v1m1 23v1m0 1v1m1-40v2m2-5v1m7 8v1m0 1v1m1 1v1m9-1v1m13-10v1m2 24v2m0 7v3m3-20v1m1 17v1m1-33v1m1 18v1m8-14v1m1-6v1m1 30v1m2-30v1m1 3v1m2 18v3m4-3v1m2-8v1m1-6v1m0 2v1m3-16v3m1 15v1"/>
<path stroke="#2fdccf" d="M88.5 278v1m1-28v1m0 22v1m5-21v1m0 12v2m2 3v1m4 11v2m0 16v1m0 2v1m2-42v1m0 19v1m10-3v1m1-14v1m0 4v1m3-2v1m4-7v1m8-17v1m2 14v1m3-6v1m2-1v1m4-1v1m6 21v2m1-10v1m0 15v1m2 1v1m1-22v1m0 13v1m0 6v1m1-6v1m0 4v1m1-38v1m1 5v1m0 7v1m4-10v1m1-8v2m1 3v1m0 9v1m0 2v1m0 3v1m2-16v1m0 4v1m2-7v1m0 29v1m1-10v7m2-9v1m2 2v1m1-34v1m1 22v1m0 1v1m2 9v1m2-23v1m0 17v2m2-31v1m3-2v1m1 0v1"/>
<path stroke="#50f9af" d="M88.5 279v1m4-29v1m6 29v1m1-7v1m1 11v1m3-20v1m0 5v3m0 1v2m0 10v1m1-28v1m4-6v1m3 39v1m1-12v1m2-27v1m3 18v1m5-26v2m6-1v3m3-3v1m0 8v1m0 2v1m6-13v1m7 23v1m2 11v1m2-4v1m1-37v1m0 40v1m1-40v2m0 22v1m0 5v1m5-8v1m1-1v1m6-18v1m0 18v1m11-16v1m0 16v1m1 5v1m0 2v1"/>
<path stroke="#6cf993" d="M88.5 280v1m1 16v1m1-6v1m4-41v1m0 10v2m2 8v1m3 10v1m1-13v1m2 28v1m0 4v1m1-40v1m1-4v1m8 25v1m0 11v1m2-48v1m12 19v1m2-24v1m7-4v1m0 9v1m1-5v1m0 8v1m3-2v1m6 16v1m3 6v1m1-8v1m1-28v1m1 28v1m1-3v1m0 26v1m3-31v1m2 29v1m1-57v1m0 4v1m0 10v1m4-5v1m0 15v1m3-4v1m1 12v1m0 15v1m0 3v1m1-3v1m3-44v1m3 19v1m0 7v1m1-6v1m0 4v1m4-42v1"/>
<path stroke="#88ff77" d="M88.5 281v1m5-28v2m6 24v1m0 1v1m2-1v4m0 8v1m1-8v1m10 10v1m1-15v2m1-9v1m15-13v1m20 29v1m2-11v1m4-4v1m2-8v1m1-21v1m6 0v1m0 48v1m0 3v1m10-26v2"/>
<path stroke="#bcf943" d="M88.5 283v1m0 2v3m7-38v1m6 27v1m1-10v1m0 19v1m1 1v1m1-45v1m0 30v1m8 24v1m2-43v1m6 7v1m4-1v1m6-2v1m9-14v1m8 37v1m16 13v1m5-13v1m1-15v1m1-16v1m10 7v1"/>
<path stroke="#d9ff26" d="M88.5 291v1m2 2v1m2-41v1m0 21v1m8 15v1m4-16v1m8 27v1m4-35v1m1-22v1m19 14v1m15-18v1m0 58v1m6-29v1m1 27v1m6-11v1m3-3v1m9-44v1"/>
<path stroke="#eaf815" d="M88.5 292v3m4-40v2m8 36v1m11 10v1m38-8v1m4-15v1m2-1v1m1-36v1m1 31v1m0 28v1m1-2v1m12-24v1m10-10v1"/>
<path stroke="#f4c20b" d="M88.5 298v1m3-33v1m3-17v1m1 20v2m4 29v1m0 2v1m1-6v1m0 6v1m1-38v1m0 6v1m6-20v4m3-14v1m1 6v1m0 7v1m4-15v1m2 1v1m0 4v1m3 14v1m6 5v1m1-30v1m5-1v1m1 14v1m8-6v1m0 19v1m1-2v2m1-25v1m0 14v2m1 1v1m4-24v5m0 44v1m3-32v1m1-15v3m2 27v1m2-35v1m3 28v1m3-13v1m0 6v1m4 30v1m0 5v1m2-14v1m2-12v1m5-11v1m0 3v1"/>
<path stroke="#ff8400" d="M88.5 299v1m6-52v1m0 25v1m7 24v1m1-4v1m1 10v1m23-30v1m11-13v1m11 32v1m1-1v1m1 6v1m0 1v1m5-60v1m3 61v1m1-1v1m1-6v1m0 4v1m1-6v1m0 4v1"/>
<path stroke="#fa4904" d="M88.5 300v1m4-23v1m3-19v1m0 14v1m8 24v1m2-49v2m0 4v1m0 7v1m0 4v1m0 2v1m1 0v1m1-11v1m1 8v1m2 28v1m4-35v1m0 23v1m1-12v1m7-13v1m3 1v2m2 0v1m2-7v1m1 5v1m2-6v1m14-7v1m0 1v1m0 30v1m2-38v1m0 2v1m3 30v1m5-40v2m0 1v1m6 37v1m5 8v1m0 5v1m3-37v1m2 16v1m1 13v1m4-24v1m1-27v1m0 3v1m0 22v1m2-13v1"/>
<path stroke="#ff1200" d="M88.5 301v1m1-2v1m9 6v1m2-10v1m7-24v1m1-1v1m13 3v1m21 2v1m4 14v1m2 3v1m1 4v1m0 1v1m4 2v1m3-26v1m0 25v1m7-1v1m1-12v1m1-1v1"/>
<path stroke="#e50100" d="M88.5 302v1m1-2v1m6-25v1m4 32v1m3 0v1m1-15v1m1 11v1m4-34v1m3 32v1m1-1v1m6-24v1m3-7v1m1-7v1m7-4v2m4-5v1m9 14v1m4 14v1m2 3v1m4 8v1m1-9v1m1 8v1m2-26v1m0 15v1m3-21v1m5 18v1m1-1v1m0 9v1m2-2v1"/>
<path stroke="#d00000" d="M88.5 303v1m1-2v1m1-2v1m3-21v1m10 16v1m1 2v1m2-23v1m2-3v1m3 32v1m5-25v1m1 2v1m1-3v1m12-10v1m1-1v1m14 17v1m5 4v1m1-6v1m0 14v1m2-25v1m2 0v1m1-1v1m1 24v1m1-30v1m4 28v1m6-3v1m1-5v1m0 2v1m11-30v1"/>
<path stroke="#bd0000" d="M88.5 304v1m1-2v1m1-2v1m3-21v1m2-4v1m1 0v1m1 23v1m0 2v1m1-7v1m3 10v1m4-10v1m0 4v1m3-31v1m3 32v1m1-1v1m2-16v1m0 6v1m0 2v1m2-20v1m1 2v1m8-11v1m1 3v1m3-9v1m1 2v1m1-1v1m1-8v1m1-2v1m2-1v1m3-1v1m3 12v1m1 0v1m4 14v1m2 5v1m0 1v1m1-5v1m1-3v1m2 9v1m3 0v1m1-25v1m2-5v1m1-1v1m3 13v1m2 13v1m3-2v1m2-14v1m0 6v1m11-25v1"/>
<path stroke="#b00000" d="M88.5 305v1m1-2v1m6-25v1m1 0v1m2 12v1m2 17v1m6-32v1m5 30v1m1-1v1m4-25v1m1 2v1m1-3v1m3-7v1m2-7v1m1-1v1m6 2v1m3-9v1m3-2v1m5 13v1m3 7v1m1 4v1m1 2v1m1 1v1m1 1v1m2-3v1m4 9v1m4-28v1m0 16v1m7 9v1m5-7v1m0 2v1"/>
<path stroke="#a80000" d="M88.5 306v1m1-2v1m2-14v1m0 2v2m1-14v1m2-3v1m1-1v1m1 0v1m1 1v1m1 10v1m6-2v1m0 5v1m1-20v1m0 20v1m0 6v1m1-28v1m1-3v1m1-1v1m3 32v1m1-1v1m2-16v1m2-10v1m1 2v1m1-3v1m1-7v1m1-5v1m1 3v1m2-7v1m1-1v1m4-2v1m2 3v1m2-8v1m1-2v1m3-2v1m1-1v1m2 0v1m2 12v1m1 0v1m1 5v1m1 0v1m2 7v1m1 1v1m1 4v1m3-11v1m0 12v1m4-23v1m2-2v1m1-3v1m4 13v1m6 10v1m1-12v1m1-9v1m3 16v1m2-21v1m1-7v1m1 2v1m1 0v1"/>
<path stroke="#a00000" d="M88.5 307v1m1-2v1m8-22v1m6 26v1m1-18v1m1-14v1m5 25v1m1 5v1m3-15v1m0 1v1m10-24v1m6 2v1m3-9v1m11 20v1m2 7v1m1 1v1m10-16v1m5 11v1m11 8v1"/>
<path stroke="#9a0000" d="M88.5 308v1m1-2v1m6-25v1m1 0v1m2 12v1m0 13v1m1 0v1m5-17v1m1-14v1m1 0v1m1-3v1m3 26v1m1 5v1m1-1v1m2-15v1m1-11v1m1-1v1m1 2v1m1-3v1m2-11v1m1 3v1m1-6v1m1-2v1m1-1v1m2 7v1m3-9v1m1 2v1m2-7v1m1-3v1m1-1v1m1-1v1m3-1v1m1 0v1m1 6v1m1 4v1m1 1v1m2 5v1m1 4v1m1 2v1m1 1v1m1 3v1m3-9v1m2-10v1m4-3v1m0 22v1m1-26v1m2-1v1m1 6v1m1 17v1m7-12v1m1-8v1m1 10v1m0 2v1m2 1v1m3-26v1m1 1v1m1 0v1m1-5v1m1-1v1"/>
<path stroke="#970000" d="M88.5 309v1m1-2v1m1-3v1m3-21v1m1-3v1m10 12v1m3-15v1m4 32v1m2-8v1m5-17v1m1-7v1m1-5v1m5 0v1m2-2v1m1-4v1m2 3v1m1-2v1m1-6v1m1-3v1m3-2v1m1-1v1m6 20v1m1 0v1m3 9v1m3 4v1m2-16v1m2-5v1m0 8v1m1-10v1m0 8v1m1-10v1m1-2v1m2-4v1m1 0v1m9 13v1m0 7v1m2-16v1m3 13v1m4-21v1"/>
<path stroke="#920000" d="M88.5 310v1m4-22v1m3-5v1m1 0v1m5 26v1m3-16v2m2-14v1m1-3v1m3 26v1m1 5v1m1-1v1m3-24v1m1-2v1m1 2v1m1-2v1m2-12v1m1 3v1m1-6v1m1-2v1m1-1v1m1 3v1m1 3v1m1-6v1m2-4v1m2 2v1m1-7v1m2-3v1m1-1v1m1-1v1m1-1v1m1-1v1m1 0v1m1 6v1m1 4v1m1 1v1m3 10v1m1 2v1m1 2v1m5-11v1m1-5v1m1-1v1m1-1v1m1-1v1m2-5v1m1-1v1m2 6v1m9-1v1m1 0v1m1 8v2m1 4v1m3-26v1m1 1v1m2-4v1m1-1v1"/>
<path stroke="#910000" d="M88.5 311v1m1-2v1m1-3v1m3-21v1m1-3v1m1-1v1m11 17v1m0 2v1m1-23v1m1 0v1m3 31v1m2-8v1m2-17v1m1-2v1m1 2v1m2-9v1m1-5v1m8-4v1m2 3v1m2-7v1m1-3v1m1-1v1m7 12v1m2 6v1m1 0v1m2 7v1m2 3v1m9-18v1m1-3v1m2-1v1m4 21v1m6-16v1m4 13v1m4-21v1m1-5v1"/>
<path stroke="#8e0000" d="M88.5 312v1m1-2v2m1-4v1m1-10v1m1-10v1m1-3v2m1-4v1m1-1v1m1 0v1m0 16v2m1-15v1m0 8v1m0 8v1m3 2v1m6-26v1m1-3v1m1 0v1m1 18v1m1 6v1m1 5v1m1-1v1m1-8v1m2-17v1m1-2v1m1 2v1m1-3v2m1-8v1m1-5v1m1 3v1m1-6v1m1-2v1m1-1v1m1 2v2m1 3v1m1-6v1m1-5v2m1-1v1m1 2v1m1-2v2m1-7v1m1-3v2m1-2v1m1-1v1m1-1v1m1-1v1m1-1v1m1 0v1m1 6v1m1 4v1m1 1v1m1 4v1m1 0v1m1 4v1m1 2v1m1 1v1m1 1v1m1-1v1m3-12v1m1-5v1m1-1v1m1-1v1m1-1v1m1-3v1m1-3v1m1-1v1m1-1v1m1 6v1m7 12v1m2-14v1m1 0v1m0 4v1m0 4v1m1-5v1m1 8v1m1-3v1m2-24v1m1 1v1m1 0v1m1-5v1m1-1v1"/>
<path stroke="#8d0000" d="M88.5 313v1m2-4v1m1-10v1m3-14v1m1-1v1m1 0v1m1 3v1m8-4v1m1-2v1m1-3v1m1 0v1m3 31v1m1-1v1m1-8v1m2-17v1m1-2v1m1 2v1m2-9v1m1-5v1m1 3v1m2-7v1m1-1v1m6 2v1m2-7v1m2-3v1m1-1v1m4 0v1m2 11v1m2 6v1m1 0v1m2 7v1m1 1v1m4 1v1m2-16v1m4-3v1m0 5v1m1-9v1m2-1v1m5 19v1m5-14v1m0 3v1m2 4v1m1 6v1m1-3v1m2-24v1m1 1v1m1 0v1m1-5v1"/>
<path stroke="#8c0000" d="M88.5 314v1m1-2v1m1-3v1m2-20v1m1-2v1m1-3v1m1-1v1m1 0v1m0 13v1m0 2v1m8 4v1m1-22v1m1-2v1m0 12v1m0 4v1m1-21v1m1 0v1m2 24v1m1 6v1m2-8v1m1-7v1m2-12v1m1 2v1m1-3v1m1-7v1m1-5v1m2-3v1m1-1v1m1-1v1m1 2v1m1 3v1m1-6v1m1-4v1m1-1v1m1 3v1m1-2v1m1-6v1m1-3v1m1-1v1m2-2v1m1-1v1m1-1v1m2 7v1m1 5v1m1 0v1m1 5v1m1 0v1m1 3v1m1 3v1m1 1v1m1 0v1m1-1v1m5-16v1m1-1v1m1-1v1m1-2v1m1-3v1m1-2v1m1 0v1m1 5v1m9 10v1m1-11v1m3 13v1m2-24v1m2 2v1m1-5v1m1-2v1"/>
<path stroke="#8b0000" d="M88.5 315v1m1-2v1m1-3v1m1-11v1m1-10v1m1-2v1m1-3v1m1-1v1m2 3v1m8-3v1m1-2v1m1-3v1m1 0v1m2 24v1m1 6v1m1-2v1m1-7v1m2-18v1m1-1v1m1 2v1m1-3v1m1-7v1m1-5v1m1 2v1m1-6v1m3 2v1m1 3v1m1-6v1m1-4v1m1-1v1m1 3v1m1-2v1m2-8v1m1-1v1m1-2v1m1-1v1m1-1v1m1-1v1m1 0v1m1 6v1m1 5v1m1 0v1m1 5v1m1 0v1m1 3v1m1 3v1m1 1v1m1 0v1m1-1v1m1-2v1m3-15v1m1-1v1m0 14v1m1-16v1m1-1v1m1-2v1m1-3v1m1-2v1m1 0v1m1 5v1m2 12v1m3-2v1m1-1v1m3-13v1m1 0v1m2 14v1m1-2v1m3-23v1m1 1v1m2-6v1"/>
<path stroke="#8a0000" d="M88.5 316v1m1-2v1m1-3v1m1-11v1m1-10v2m1-3v1m1-3v1m1-1v1m1-1v2m1 2v1m4 18v2m2-3v1m2-21v1m1-2v1m1-3v1m1 0v1m2 24v1m1 6v1m1-2v2m1-8v1m2-18v1m0 4v1m1-6v1m1 2v1m1-3v1m1-7v1m1-5v1m1 2v1m1-6v1m1-2v2m1-2v2m1 2v1m1 3v1m1-6v1m1-4v1m1-1v1m1 3v1m1-2v1m1-7v2m1-3v1m1-1v1m1-2v1m1-1v1m1-1v1m1-1v1m1 0v1m1 6v1m1 5v1m1 0v1m1 5v1m1 0v1m1 3v1m1 3v1m1 1v1m1 0v1m1-1v1m4-16v2m1-2v1m1-1v1m1-1v1m1-2v1m1-3v1m1-2v1m1 0v1m3 18v1m1-2v1m1-1v1m1-1v1m1-1v1m1-2v1m2-12v1m1 0v1m2 14v1m1-2v1m1-14v1m1-12v2m1 0v1m1 1v1m1-6v2m1-2v1"/>
<path stroke="#890000" d="M88.5 317v1m1-2v1m1-3v1m1-11v1m1-9v1m1-3v1m1-3v1m1-1v1m1 0v1m0 9v1m0 4v1m1-13v1m1 15v1m1 0v1m1 0v1m1 1v1m1-3v1m3-21v1m0 5v1m0 10v1m1-19v1m1-3v1m1 0v1m2 24v1m1 6v1m1-1v1m1-8v1m1-9v2m1-11v2m0 1v1m0 1v1m1-6v1m1 2v1m1-3v1m1-7v1m1-5v1m1 2v2m1-7v2m1-2v1m1-1v1m1 2v1m1 3v2m1-7v2m1-5v1m1-1v2m1 2v1m1-2v1m1-6v1m1-3v1m1-1v1m1-2v2m1-2v2m1-2v2m1-2v2m1-1v2m1 5v2m1 4v1m1 0v2m1 4v1m1 0v1m1 3v1m1 3v1m1 1v1m1 0v2m1-2v2m1-4v2m4-15v1m1-1v1m1-1v1m1-2v1m1-3v1m1-2v2m1-1v1m3 18v1m1-2v2m1-2v2m1-2v2m1-2v2m1-3v2m2-13v1m1 0v1m1 5v1m1 8v2m1-3v1m1-14v1m1-11v1m1 0v2m1 0v1m1-5v1m1-2v2"/>
<path stroke="#880000" d="M88.5 318v2m1-3v2m1-4v2m1-12v2m1-10v1m1-3v2m1-4v2m1-2v2m1-1v2m1 1v2m0 1v1m2 13v1m1 0v2m1 0v2m1-4v2m1-3v1m2-20v2m1-3v2m0 6v1m0 6v1m1-18v2m1-1v2m1 12v1m1 10v2m1 5v2m1-2v2m1-9v2m1-9v1m1-10v1m0 3v1m1-6v2m1 1v2m1-4v2m1-8v2m1-6v2m1 2v1m1-6v1m1-2v2m1-2v2m1 1v2m1 3v1m1-6v1m1-5v2m1-1v1m1 2v2m1-3v2m1-7v2m1-4v2m1-2v2m1-2v2m1-2v1m1-1v1m1-1v1m1 0v1m1 6v1m1 4v2m1 0v1m1 4v2m1-1v2m1 2v2m1 2v2m1 0v2m1 0v1m1-1v1m1-3v1m3-3v1m4-14v1m1-3v2m0 1v1m1-4v1m1-1v2m3 17v2m1-2v1m1-1v1m1-1v1m1-1v1m1-2v1m1-5v1m4 8v1m1-3v2m1-15v2m1-12v2m1 0v2m1-1v2m1-6v2m1-2v1"/>
<path stroke="#870000" d="M88.5 320v2m1-3v3m1-5v2m1-12v2m1-11v3m1-4v3m1-5v3m1-3v2m1-1v2m0 4v1m1-4v1m0 11v1m2 3v2m1 0v3m1-1v2m1-4v3m1-5v2m2-20v2m1-3v2m1-4v2m1-1v2m1 11v1m1 11v2m1 5v2m1-2v2m1-9v2m1-10v3m1-8v1m1-5v2m1 1v2m1-4v3m1-9v2m1-6v2m1 1v3m1-8v3m1-3v2m1-2v2m1 1v3m1 1v3m1-8v3m1-6v3m1-3v3m1 1v3m1-4v3m1-8v2m1-4v3m1-3v2m1-2v2m1-3v3m1-3v3m1-3v3m1-2v3m1 4v3m1 3v2m1-1v3m1 3v2m1-1v2m1 2v3m1 1v2m1 0v2m1-1v3m1-3v3m1-5v3m1-6v2m7-15v1m1-2v3m1-2v2m2 12v2m1 3v3m1-4v3m1-3v3m1-3v3m1-3v3m1-4v3m1-7v3m2-5v1m1-1v2m1 9v3m1-4v2m1-15v2m1-12v2m1 0v2m1-1v2m1-6v2m1-3v3"/>
<path stroke="#860000" d="M88.5 322v5m1-5v4m1-7v5m1-15v5m1-13v4m1-5v4m1-6v4m1-5v5m1-4v4m0 7v1m2 3v3m1 1v5m1-2v4m1-3v5m1-6v4m1-7v5m1-9v1m1-15v1m1-2v4m1-6v5m0 3v2m1-9v5m0 2v2m1 3v4m1 9v5m1 2v5m1-5v5m1-12v5m1-12v4m1-11v2m1-5v5m1-2v5m1-6v4m1-11v5m1-9v5m1-1v4m1-9v4m1-5v5m1-5v5m1-1v4m1 0v4m1-9v4m1-7v4m1-4v4m1 0v4m1-5v4m1-10v5m1-6v4m1-5v5m1-5v5m1-5v4m1-4v4m1-4v4m1-3v4m1 3v4m1 1v5m1-3v4m1 1v5m1-4v5m1 0v4m1-1v5m1-3v5m1-3v4m1-4v4m1-6v4m1-8v5m1-7v1m7 0v1m1-1v1m1-1v1m1 1v4m1 2v4m1-5v4m1-4v4m1-4v4m1-4v4m1-5v4m1-8v4m1-8v1m1-1v2m1-1v4m1 8v4m1-6v5m1-18v4m1-14v5m1-3v5m1-4v5m1-9v5m1-5v4"/>
<path stroke="#850000" d="M88.5 327v19m1-20v20m1-22v22m1-32v32m1-41v41m1-42v42m1-44v44m1-44v44m1-36v36m1-34v34m1-30v30m1-24v24m1-22v22m1-20v20m1-22v22m1-24v24m1-32v32m1-34v34m1-36v36m1-45v3m0 2v40m1-44v2m0 2v40m1-33v33m1-19v19m1-12v12m1-12v12m1-19v19m1-27v27m1-36v36m1-36v36m1-33v33m1-35v35m1-41v41m1-45v45m1-42v42m1-47v47m1-47v47m1-47v47m1-44v44m1-40v40m1-45v45m1-48v48m1-48v48m1-44v44m1-45v45m1-50v50m1-52v52m1-52v52m1-52v52m1-53v53m1-53v53m1-53v53m1-52v52m1-45v45m1-39v39m1-38v38m1-32v32m1-31v31m1-27v27m1-23v23m1-21v21m1-20v20m1-20v20m1-22v22m1-25v25m1-31v31m1-31v31m1-31v31m1-31v31m1-31v31m1-31v31m1-31v31m1-30v30m1-30v30m1-30v30m1-25v25m1-19v19m1-20v20m1-20v20m1-20v20m1-20v20m1-21v21m1-25v25m1-32v32m1-31v31m1-28v28m1-16v16m1-17v17m1-31v31m1-40v40m1-38v38m1-37v37m1-41v41m1-42v42"/>
<path stroke="#bf8536" d="M89.5 248v1m0 17v4m2-2v4m0 12v1m2-9v1m2-15v1m2 13v2m1 10v1m6-4v2m2-14v1m1-26v2m0 6v1m2 17v6m1-29v1m0 47v3m1-52v2m2 46v1m1-8v1m1-39v7m1-3v1m0 4v1m0 5v1m1-4v1m1 6v1m1 4v1m2-6v3m1-9v1m2-19v2m1 19v2m7-4v1m3-3v1m2-17v2m3 22v1m1-22v1m2 32v2m1 0v1m1 3v1m3-37v3m0 6v1m4 22v1m3-36v4m0 12v1m6 15v2m6-38v1m2 43v1m1-21v1m2 2v1m1 25v2m1-6v2m1-26v1m0 8v3m1-10v1m3-18v3m1-11v3"/>
<path stroke="#87b678" d="M89.5 249v1m2 24v3m1-17v1m1 4v1m7 7v1m4-6v1m2-13v1m4 15v1m3 4v1m0 14v1m0 4v1m1-26v1m0 2v1m1-13v1m10-5v1m0 1v1m2 9v1m1-10v2m3-14v2m4 6v1m4-6v1m1 11v1m1-15v1m0 22v2m2-20v1m0 9v2m0 11v1m1-4v1m1 2v1m2-2v1m3-31v1m0 18v3m1-19v1m1 31v2m2-36v1m5 24v1m2-3v1m2-24v1m0 27v1m3-25v1m1 22v1m2-8v1m0 19v2m4-18v1m0 25v1m4-24v1m2-4v1"/>
<path stroke="#5ed8a0" d="M89.5 250v1m1 40v1m4-30v1m0 3v1m2-10v1m0 8v1m2-9v1m10 0v1m4 41v1m1-27v1m9-19v1m0 6v1m2 2v1m10-5v1m5-5v1m5 19v1m2-11v1m1-6v1m1 29v1m2-14v1m0 1v2m1-5v1m1-9v1m6-15v1m5-3v1m0 22v1m3 8v1m1-15v1m0 17v1m2-22v1m4 2v1m0 18v1m1-13v1m5-16v1"/>
<path stroke="#11a5ee" d="M89.5 252v1m1 19v1m4-15v1m6-1v1m2 14v1m0 7v1m1-18v1m1-9v1m8-2v1m4-8v1m1 28v1m2-7v1m14-12v1m4-3v1m0 2v1m3-11v1m1 15v1m3-15v1m3 31v1m4-12v1m10-7v1m2 26v1m1-20v2m0 12v2m1-36v1m0 23v1m1 0v2m5-3v1m0 1v1m5-19v1m1-2v1m1 12v1m1-28v1"/>
<path stroke="#7e717d" d="M89.5 255v1m1-2v3m0 1v3m2 4v1m1 9v1m4-19v1m0 3v1m2-5v1m3-8v1m0 8v1m2 10v2m3-21v1m12-3v1m0 7v1m1-9v1m0 7v1m1 9v1m5-4v1m4-7v1m3-5v1m10-6v1m0 25v1m2-23v1m0 4v1m0 18v1m0 10v2m1-41v1m1 3v1m0 16v3m1-6v2m0 5v1m1 2v1m1-4v1m3-14v1m4-3v1m0 6v1m2-3v1m3-15v2m3 21v1m2-25v1m0 2v1m1 11v1m0 12v1m1-15v1m1-4v1m0 1v1m2-5v1m1-8v1m1 15v1m1-15v1m0 8v1m2 11v1m3-21v1m0 1v1"/>
<path stroke="#828a7c" d="M89.5 259v1m2 19v1m1-19v1m0 11v1m1-8v1m3-12v1m2 8v1m0 20v1m1-22v1m1 9v2m4-7v1m0 2v1m3-18v1m2 17v1m1-22v1m0 9v1m0 18v10m0 1v1m1-25v1m2 25v2m1-7v1m2-27v1m0 2v2m3-5v1m0 10v3m5-14v1m0 1v1m1 1v1m5-19v1m6 0v1m1 2v1m5-5v1m0 3v1m1 9v1m0 13v1m2 9v1m2-19v1m2-2v1m0 4v1m1-25v2m0 10v1m0 13v1m1-23v1m1 3v1m1-3v1m1-6v2m2 20v1m3-24v1m0 11v2m1 12v1m3-10v1m6-3v1m4-15v1m0 20v2m2-12v1m5-13v1"/>
<path stroke="#f7a107" d="M89.5 261v1m1 35v1m2-21v1m3-29v1m0 23v1m5 21v1m1-25v1m0 4v1m2 24v1m2-41v2m2-1v1m0 8v1m3-23v2m1 5v1m0 4v2m2 2v1m0 38v2m2-56v1m0 27v1m1 3v1m1-28v1m1 27v1m3-13v1m1-5v1m6 2v1m1-4v1m5-3v1m1-13v3m3 7v1m1 2v1m2-10v1m1 18v1m0 2v1m2-7v2m6 22v1m1-32v1m0 24v1m3-22v1m1-1v2m5 7v1m2-13v1m0 4v1m0 20v1m2-46v6m6 22v1m1-28v1m1-1v1m3 25v1m4 0v1"/>
<path stroke="#fb6c03" d="M89.5 262v2m1 34v1m3-21v1m2-23v1m4 37v1m6-36v1m0 5v1m0 6v1m1 1v1m1-11v1m0 2v1m6 35v1m2-24v2m1-23v2m2 3v3m2 5v1m1 4v1m1-10v1m6 2v1m2 1v1m3-10v1m1 1v1m1-1v1m7 13v1m4-15v1m5 25v1m4-36v2m1-6v1m0 4v1m4 21v1m2 13v1m1 5v1m7-26v1m2-28v1m0 19v1m0 2v1m0 18v1m7-14v1"/>
<path stroke="#f5870a" d="M89.5 264v1m6-4v1m6 10v1m0 2v1m4-16v1m0 2v2m2-2v1m0 4v1m4-12v4m2 38v1m1-30v1m1-20v2m0 26v1m1-22v1m0 2v1m1-10v3m0 8v2m1-2v1m0 3v4m9 2v1m10-26v1m3 19v1m1-15v3m1 10v1m4-6v1m5 2v1m2 18v1m2-34v1m0 4v1m0 15v2m1-22v1m6 15v4m6 35v1m4-36v2m0 15v1m3-16v1m1-24v1m0 24v1m1 2v2m1-19v1"/>
<path stroke="#dc6f12" d="M89.5 265v1m2 19v3m2-11v1m4 0v2m1 9v1m3-17v2m3 12v1m1-40v4m4 28v4m1 18v1m3-47v1m1 35v1m5-15v2m6-9v1m5 0v1m2-5v1m8 3v1m0 1v2m3 11v2m1-1v2m1 2v2m3-36v1m0 4v1m4 24v2m9-4v2m8 5v2m1-22v1m2-8v1m1 36v2m1-6v4m1-18v2m2-6v1m1-28v2m2 10v1m0 5v1"/>
<path stroke="#8ff070" d="M89.5 271v1m1 4v1m0 4v1m5-30v1m1 5v1m4-11v1m0 2v1m1 29v1m11 11v1m1-27v1m0 14v2m1-4v1m2-9v1m12-19v1m0 12v1m3-14v1m1-4v1m1 10v1m3-4v1m7 21v1m3-14v1m2 27v1m14-6v1m1-40v1m0 19v1m6 13v1m1-22v1m0 17v1m2-5v2m2 12v1"/>
<path stroke="#5ceba2" d="M89.5 272v1m5-8v1m4 14v1m1-16v1m9 4v1m2-2v1m2 30v1m4-22v1m2-28v1m7 4v1m2-7v1m2 12v1m2 5v1m4-23v1m2 14v1m2-6v1m2-10v1m1 14v1m3 16v1m1-23v1m1 5v1m1 22v1m1-8v2m1-3v1m0 13v1m1-24v1m0 9v1m1-3v1m2-8v1m3 0v1m1-17v1m4 4v1m1-8v1m0 24v1m0 16v1m1-4v1m1-20v1m0 1v1m9 4v1m2-30v1"/>
<path stroke="#34f6cb" d="M89.5 273v1m5-21v1m0 15v1m6 1v1m0 14v1m3-18v1m0 11v2m0 4v2m5-32v1m2 10v1m2 16v1m2-35v1m4-1v1m2 16v1m4-1v1m11-9v1m14 22v1m1 3v1m2-17v1m0 6v1m2 1v1m2-6v1m2-26v1m2 16v3m2 11v1m3-21v1m0 1v1m0 30v1m2-14v1m1 11v1m5-30v1"/>
<path stroke="#40bdbe" d="M89.5 275v1m0 18v1m1-9v1m0 3v1m1-40v2m3 8v1m5 5v1m0 6v1m1 4v1m4-18v1m6 2v1m0 7v1m1 15v1m2-40v1m0 19v2m1-12v1m3 17v2m2-13v1m7-20v1m0 25v1m1-23v1m2 9v2m1 1v1m1-2v1m3-3v1m3-1v1m2-3v1m1-13v3m0 13v1m5 20v1m1-16v1m0 3v1m0 7v5m1-5v2m2 3v1m0 4v1m2-21v1m6-20v1m0 2v2m0 14v1m1-12v1m0 8v2m1-19v1m1 10v2m1-18v1m0 20v1m0 8v1m3-18v3m0 28v2m4-44v1m6 19v1m0 4v1m2-22v1m2 23v1"/>
<path stroke="#43a0bc" d="M89.5 276v1m7-8v1m2-13v1m1 10v1m0 3v2m1-15v1m10 4v1m1 12v1m0 10v1m1-37v1m2 4v2m5 7v1m2-17v1m0 7v1m1-1v1m2 2v1m2 11v1m2-24v1m1 1v1m0 8v1m3-5v1m0 5v1m4-11v1m3-5v1m2 12v1m3 0v1m2 7v1m3-15v4m0 5v1m0 3v1m0 17v4m2-15v1m1-12v1m0 2v1m0 5v1m5-24v1m2-2v2m0 1v2m7 4v1m0 22v3m1 2v2m1-39v2m1 0v1m0 1v1m2 21v1m2-17v1m1-10v2m0 22v2m2-18v1m0 2v1m1-16v1"/>
<path stroke="#699f96" d="M89.5 277v1m0 1v1m0 4v2m0 3v1m7-23v1m3 18v2m2-35v1m0 12v1m3-16v1m0 7v3m2-8v1m2 6v1m1-4v1m0 11v1m1-8v1m1 5v1m0 9v9m7-12v3m3-27v6m3 4v1m2-13v1m1 19v1m2-12v2m1-1v2m0 2v1m9-15v1m2 10v1m6 1v1m1 12v1m3-19v1m1 15v1m2-9v1m6-7v1m1 16v1m4-4v1m1-16v1m1 30v1m4-40v1m3-1v1m0 26v2m2-19v2"/>
<path stroke="#67be98" d="M89.5 280v4m1 1v1m8-7v1m1 5v1m0 2v2m1-12v1m1-12v1m2-3v1m1-16v1m2 6v1m2 2v1m5-12v1m1 6v1m4 22v1m2-32v1m1 13v1m2-2v1m3-13v1m6 6v1m3 5v1m1-9v1m2 5v1m3 7v1m1-21v1m0 5v1m2 9v1m2 7v2m1 6v2m1-5v2m1-27v1m1 29v1m1-28v1m0 22v2m1-19v1m0 11v1m4 0v1m2-13v1m8 23v2m1 3v1m6 2v2m1-48v1m0 20v1m0 10v1m5-14v4"/>
<path stroke="#0fdcf0" d="M89.5 295v1m1-23v1m1-25v1m9 20v1m2 31v1m0 2v1m1-35v1m5-16v1m2 10v1m1 28v1m1-17v2m1-31v1m0 20v2m5-25v2m1 17v2m1-6v1m1-17v1m10 9v1m5 3v1m1-6v1m4-10v1m1 14v1m2-9v2m2 1v1m0 17v3m1 11v1m2-36v1m3 21v1m6-30v2m0 23v3m3-27v1m0 29v1m1 2v1m1 5v1m0 7v1m1-38v1m0 46v1m0 1v1m1-16v1m4-21v1m5-2v2m4-25v1"/>
<path stroke="#16ffe9" d="M89.5 296v1m14-13v1m50-4v1m2-2v1"/>
<path stroke="#ff7300" d="M89.5 299v1m6-52v1m0 25v1m4 26v1m0 5v1m1-12v1m1 12v1m6-38v1m5 34v1m12-36v1m14-9v1m2 6v1m7 25v1m7-14v1m1-35v1m1 33v1m1 26v1m2-32v1m3 25v1m0 4v1m3-13v1m3-2v1m2-12v1m1 0v1m1-22v1m4 9v1m2 4v1"/>
<path stroke="#950000" d="M89.5 309v1m1-3v1m3-21v1m1-3v1m1-2v1m1 0v1m2 12v2m7 1v1m0 8v1m1-26v1m0 19v2m4 3v1m2 5v1m1-7v1m3-19v1m1 2v1m1-2v1m1-7v1m2-2v1m1-6v1m1-2v1m1-1v1m1 3v1m1 3v1m1-6v1m1-4v1m1-1v1m1 3v1m1-2v1m2-8v1m1-2v1m1-1v1m1-1v1m1-1v1m1-1v1m2 7v1m1 4v1m1 1v1m1 5v1m1 0v1m1 3v1m1 2v1m1 2v1m5-11v1m0 14v1m1-20v1m0 7v1m1-9v1m1-1v1m1-1v1m0 7v1m0 11v1m1-22v1m1-4v1m1-1v1m1 0v1m3 22v1m4-2v1m3-17v1m1 0v1m2 14v1m1-2v1m2-25v1m1 1v1m1 1v1m1-6v1m1-1v1"/>
<path stroke="#69788b" d="M90.5 265v1m5 2v1m1-15v1m1-1v1m0 12v1m1 4v1m3-11v1m1-14v1m5 2v3m3 1v2m1 8v2m1 4v2m3-9v3m2 3v1m2-10v1m0 1v1m4-5v1m1-8v1m2 3v1m17 0v1m0 3v1m3-15v1m1 12v2m2 4v1m0 1v1m7 1v1m3-15v4m3-9v1m3 19v1m1-19v1m0 3v1m3-7v1m0 3v1m2 2v1m2-3v1m1 4v1m1-7v1m1 11v1m1 4v1"/>
<path stroke="#307dc4" d="M90.5 267v1m6-16v1m1 0v1m0 14v1m2-14v1m0 13v3m3-24v1m1 0v2m0 3v1m1-1v1m2 7v1m2 2v1m4 8v1m11-18v1m1-3v2m2-1v1m0 8v1m3-15v1m4 4v1m5 0v1m7 1v1m0 11v1m2-12v1m7-8v1m11-3v1m0 2v1m3 1v4m0 2v1m2-14v1m1 2v5m2-9v1m0 10v1m2-3v1m2-6v1m0 3v1m0 15v1"/>
<path stroke="#2c88ce" d="M90.5 268v1m1-10v1m5 10v1m2-5v1m0 4v1m3-20v1m1 8v1m1-14v1m0 6v1m6 1v1m1 19v1m1-8v1m1-1v1m2-12v1m2-10v1m1 21v1m2-1v1m1-14v1m2-1v1m2-3v2m0 1v1m1-13v1m1 3v1m1 16v1m1-22v2m1 0v1m9 5v1m3 6v1m1-5v3m3-10v1m1 3v1m3 4v1m0 3v1m3-1v1m4 4v1m1-21v2m4 5v1m1-5v1m2 19v2m1-25v1m0 4v1m0 14v1m2-18v1m1-1v3m0 4v2m2-14v1m3 11v1m1 0v1m1-4v2m1-1v1m0 7v1m1-11v1"/>
<path stroke="#097bf1" d="M90.5 269v3m6-21v1m1 17v1m1-14v1m1-3v1m1 12v2m2 10v1m4-19v1m2-9v1m1 11v1m2 5v1m0 4v1m1-21v1m8 3v1m2-13v1m1 7v1m2-7v1m1 2v1m0 1v1m0 15v1m1-16v2m2-10v1m4 8v1m5-3v1m2-4v1m1 11v1m1-9v3m2-1v1m0 3v1m1-3v1m2-2v1m6 3v1m1-10v4m0 7v1m3 2v1m4-17v5m2 37v1m1-23v1m0 6v1m1-31v1m1 21v3m4-24v1m4 4v1m1-7v1m1 8v1m1-8v1m3 8v1"/>
<path stroke="#47ffb8" d="M90.5 274v1m13 5v1m0 8v1m9-4v1m1-19v1m4-21v1m0 32v1m14-13v1m8-8v1m6 19v1m2 9v1m3-7v1m3 19v1m0 1v1m2-28v1m1-5v1m0 28v1m0 1v1m2-41v1m3 12v1m4-20v1m0 15v1m3 13v1m0 1v1m6-6v2m5-39v1"/>
<path stroke="#77ff88" d="M90.5 275v1m3-19v2m6 18v1m0 5v1m1 5v1m1-3v6m1-28v1m10 25v1m1-38v1m1-1v1m4-2v1m10 1v1m0 3v1m0 6v1m3-12v1m13 27v1m4-4v1m2-3v1m1 4v1m2-31v1m0 28v1m1-2v1m3-8v1m4 7v1m2-30v1m3 36v1m0 2v1m1-1v1m1 1v1m5-30v1m0 18v2m0 3v2m1-9v1m0 2v1"/>
<path stroke="#9bfa64" d="M90.5 277v4m2-23v1m0 16v1m7 15v1m2-12v1m0 14v1m3-31v1m4 5v1m4 22v1m0 2v1m0 5v1m2-26v1m0 2v2m0 2v1m3-3v1m11-31v1m4-4v1m0 1v2m3-4v1m2 13v1m4 7v1m5 20v1m2-9v1m2 9v1m1-10v1m3 18v1m0 3v1m1-5v1m0 3v1m3-58v1m5-2v1m0 17v1m3 25v1m1-18v1m0 27v1m0 1v1m1-23v3m1-5v1m3-34v2m0 28v3m1-17v2m5-5v1"/>
<path stroke="#82fa7c" d="M90.5 282v1m2-31v1m1 0v1m0 2v1m0 2v1m1 10v1m5 7v2m0 10v1m2-23v1m0 17v1m0 6v1m2-3v1m1-43v1m7 49v1m1-8v1m1-14v3m0 4v4m1-37v1m0 22v1m0 9v1m3-38v1m6 12v1m5 2v1m11-9v1m8 8v1m0 26v1m1-15v1m0 6v1m2-29v1m1 11v1m0 13v1m2-33v1m0 1v1m5 11v1m2 4v1m1-2v1m2-3v1m3 22v2m0 1v1m1-16v1m1 0v1m0 9v1m5-4v3m5-11v1m1-27v1m0 11v1"/>
<path stroke="#8bde74" d="M90.5 283v1m2-25v1m0 14v1m5-15v1m1-2v1m0 23v1m15 6v1m4-32v1m1-6v1m0 2v3m0 21v1m7-24v1m3 1v1m0 3v1m3-17v1m0 4v1m0 17v1m1-18v1m5 0v1m4-6v1m0 9v1m0 9v1m0 2v1m2 6v1m5 14v1m2-44v1m0 6v1m0 17v1m2 3v1m1-31v1m3 8v1m6 15v3m1-29v1m6 24v1m0 11v1m1-6v1m1-33v1m8 3v1"/>
<path stroke="#14b5eb" d="M90.5 289v1m1-37v2m0 2v1m3-3v3m0 1v1m3 11v1m3 9v1m1-34v2m1 13v1m0 18v1m2-26v1m7 35v3m8-26v1m1-8v1m1-15v1m21 5v1m2 1v1m2 23v1m0 5v1m1-4v1m2-29v1m1 33v3m1-20v1m0 2v1m1-13v1m2 8v1m3-3v1m4-22v1m3 13v1m2-4v1m1 24v2m4-10v2m2-3v3m4-22v1m0 3v1m2-13v1"/>
<path stroke="#cdc432" d="M90.5 295v2m1-32v1m2-3v1m3-4v1m0 3v1m2-5v1m1 31v1m0 10v2m3-38v3m1 32v1m0 2v1m1-32v2m3-19v1m1 14v1m3-20v2m2 11v1m3 14v1m1-21v1m1 20v1m5-19v1m5 4v1m1-4v1m1 3v1m5-19v1m2 12v1m2-1v1m3 0v1m1-12v1m0 12v1m0 2v1m1-5v2m2-2v1m0 26v1m2-47v1m2 47v1m1-29v1m1-20v1m2 21v1m5 5v1m1 0v1m2 13v1m2-39v1m2-4v2m4 24v1m2-28v1m0 4v1m0 31v1m7-26v1"/>
<path stroke="#d32713" d="M90.5 299v1m1-12v2m2-11v1m4 0v1m1 9v2m6-3v2m2-14v1m3 6v3m4-30v1m0 43v1m1-8v1m1-12v2m4-5v1m6-7v3m2-2v2m5-7v1m8 5v1m3 12v1m1 0v1m1 3v2m7-6v1m9-3v2m1 6v2m7-3v2m3-5v1m1 13v1m1-4v2m1-18v1m1-39v2m1 32v1m1 0v1m2-18v1"/>
<path stroke="#d80a02" d="M90.5 300v1m2-21v1m1-1v1m1-3v1m3 2v1m1 10v1m0 9v1m5-4v1m2-23v1m1 0v1m4 27v1m3-49v4m1 33v1m1-11v1m1-1v1m3-5v1m1-7v2m2-2v1m3 1v2m2-2v1m2-5v1m2 3v1m1-7v1m7-2v1m1 6v1m3 12v1m1 0v1m3 8v1m4-6v1m1-5v1m8-9v1m1 6v1m1 7v1m7-2v1m1-8v1m2 2v1m1 13v1m3-60v1m0 32v1m1 2v1m1 0v1m1-6v1m1-13v3"/>
<path stroke="#ae0000" d="M90.5 303v1m3-21v1m4 19v1m0 4v1m25-31v1m3 2v1m1 3v1m1-6v1m2-4v1m2 2v1m3-9v1m1-1v1m3-1v1m2 7v1m12 13v1m1-5v1m1-1v1m2-1v1m3-5v1m1-1v1m1 6v1m10 0v1m3 13v1m5-26v1m1-1v1"/>
<path stroke="#a20000" d="M90.5 304v1m1-12v2m0 2v1m1-14v1m1-1v1m1-3v1m4 13v1m6 14v1m3-31v1m1-1v1m1 8v1m5 8v1m1-11v1m3 1v1m1-7v1m1-5v1m2-3v1m3 2v1m1 3v1m1-6v1m1-4v1m1-1v1m2 2v1m1-7v1m2-3v1m1-1v1m1-1v1m1-1v1m1-1v1m1 0v1m1 6v1m2 6v1m1 5v1m2 4v1m6 0v1m1-6v1m1-5v1m0 21v1m1-23v1m1-1v1m1-1v1m3-5v1m1-1v1m1 6v1m1 8v1m4 9v1m3-12v1m1-9v1m1 0v1m0 12v2m1-14v1m2 12v1m2-25v1m1 2v1m1 0v1m1-6v1m1-1v1"/>
<path stroke="#9e0000" d="M90.5 305v1m2-21v1m1-1v1m1-3v1m1-2v1m1 0v1m1 18v1m0 6v1m1-10v1m8-18v1m2-2v1m1 8v1m3 22v1m2-8v1m1-18v1m1-1v1m1 2v1m2-8v1m2-2v1m1-6v1m1-2v1m2 3v1m1 3v1m1-6v1m1-4v1m1-1v1m2 2v1m1-7v1m2-3v1m1-1v1m1-1v1m1-1v1m1-1v1m1 0v1m1 6v1m1 4v1m1 1v1m1 5v1m2 4v1m4 10v1m2-11v1m1-6v1m1-5v1m1-1v1m1-1v1m1-1v1m2-5v1m0 25v1m1-27v1m0 14v1m0 10v1m1-27v1m0 14v1m0 10v1m1-20v1m0 7v1m0 10v1m8-10v1m1-11v1m0 10v1m0 4v1m1-16v1m1 0v1m2 12v1m1-20v1m1-6v1m3-2v1m1-1v1"/>
<path stroke="#00d4ff" d="M91.5 248v1m20 42v1m10-32v1m1-8v1m32 25v1m0 27v1m1-1v1m8-19v1m2-31v1"/>
<path stroke="#90a06e" d="M91.5 272v2m4-20v1m0 14v1m2 4v2m1-14v1m6 10v1m0 8v3m7-21v1m4 12v1m1-22v1m2 3v1m0 12v1m1-26v1m2 19v1m2-3v4m1-20v1m1 9v1m2 11v1m4 0v1m1-8v1m3-10v1m0 6v1m5 1v1m3-15v1m1 33v1m6-27v1m0 9v2m1-9v1m1-8v1m0 29v1m2-19v1m1 6v1m5-3v2m0 1v2m6-28v1m3 40v1m1-22v2m2-15v1m0 18v1m1 23v1m1-6v2m5-42v3m0 16v1m1-22v1m0 19v1"/>
<path stroke="#c00000" d="M91.5 290v1m1-10v1m5 0v1m0 22v2m1-14v1m1 4v1m0 12v1m5-21v1m0 18v1m2-31v1m1-3v1m3 28v1m5-22v1m3 1v1m1-7v1m1-6v1m1 4v1m2-7v1m1-1v1m4-2v1m8-6v1m8 21v1m1 4v1m2 4v1m4-6v1m2-10v1m4-2v1m4 3v1m9-1v1m0 16v2m4-4v1m2-25v1"/>
<path stroke="#b30703" d="M91.5 291v1m1-10v1m5 0v1m7 8v2m1-15v2m3-2v1m1 8v2m5 7v1m1-11v2m4-6v1m1-6v2m2-3v1m10-5v1m7-2v1m1 6v1m2 6v1m18-2v1m1 6v1m1 7v1m8-9v1m2 1v2m3-7v1m1-7v1m3-2v1"/>
<path stroke="#960200" d="M91.5 298v1m1-13v3m5-3v4m8-6v2m3-3v2m1 7v2m0 10v2m6-14v2m24-17v1m22 19v1m11 0v1"/>
<path stroke="#910200" d="M91.5 299v1m6-10v1m8-5v4m3-5v1m1 8v2m0 7v1m63-3v4m3-8v2"/>
<path stroke="#14f6eb" d="M92.5 249v1m10 22v1m1-3v1m13 7v1m4-14v1m5-10v1m11 6v1m11 27v1m2-38v1m0 30v1m4 21v1m1-2v1m0 1v1m1-3v1m0 1v1m1-2v1m2-48v1m3-2v1m0 20v1m3-23v1m1 1v1m3-13v1m5 14v1m0 11v1"/>
<path stroke="#26ffd9" d="M92.5 250v1m7 15v1m1-14v1m1 47v1m0 4v1m2-34v1m0 9v1m0 1v2m8 10v1m1-15v2m1-32v1m7 12v1m2-13v1m8 12v1m1-11v1m17 33v2m1-9v1m6-6v1m1-4v1m22-12v1"/>
<path stroke="#b8ff47" d="M92.5 253v1m8 37v1m2-3v1m9 10v1m37-18v2m1 11v1m2-10v1m6-10v1m6-9v2m5 10v3m2-1v1m1 1v1"/>
<path stroke="#f50c01" d="M92.5 279v1m2-3v1m4 25v1m0 4v1m5 1v1m1-9v1m0 5v1m1-33v1m6 31v1m2-47v1m0 44v1m7-34v1m8-2v1m1-4v1m1 5v1m3-10v1m1 0v1m1-1v1m1-1v1m1-1v1m1-1v1m1 0v1m10 31v1m5-16v1m0 16v1m1-1v1m0 8v1m2-28v1m2-4v1m1-1v1m3 19v1m1 0v1m0 8v1m2-12v1m0 1v1m1-3v1m1-2v1m2-12v1m1 0v1m5-11v1m3-2v1"/>
<path stroke="#900000" d="M92.5 290v1m4-4v1m1 3v1m5 21v1m4-27v1m4 24v1m2 5v1m9-30v1m1-6v1m1-2v1m1-1v1m2 7v1m1-6v1m2-4v1m6-6v1m1-1v1m1-1v1m1-1v1m1 0v1m1 6v1m2 6v1m3 10v1m7-5v1m0 1v1m1-7v1m1-1v1m1-1v1m0 17v1m1-19v1m3-5v1m2 6v1m10 0v1m2 14v1m3-26v1m1 1v1m3-4v1"/>
<path stroke="#ff9400" d="M94.5 249v1m5 56v1m1 1v1m1-11v1m1 9v1m6-36v1m13 2v1m2-6v1m18 7v1m5 15v1m4 11v1m1-3v1m0 3v1m2-6v1m0 5v1m2-63v1m1 55v1m1-23v1m1 22v1m1 0v1m5-8v1m3-2v1"/>
<path stroke="#ffa400" d="M94.5 273v1m9 20v1m8 11v1m6-45v1m0 22v1m4-16v1m15-5v1m18 37v1m0 5v1m1-7v1m0 5v1m1-1v1m2-31v1m5 29v1m3-13v1"/>
<path stroke="#ff5300" d="M94.5 275v1m5 32v1m1 0v1m2-11v1m5-34v1m0 6v1m6-10v1m3 18v1m1 2v1m1-3v1m4-16v1m1 2v1m3 6v1m12-15v1m1 1v1m2 12v1m1-13v1m8 29v1m7-16v1m1-3v1m18-4v1m2-18v1m2 16v1"/>
<path stroke="#fb2701" d="M94.5 276v1m1-19v1m0 17v1m1 0v1m2 27v1m1-11v1m0 4v1m4-5v1m1 6v2m0 2v1m1-53v2m0 11v2m0 5v1m5 29v1m2 2v1m1-46v1m0 38v1m1-37v3m2 15v1m4-12v1m2-1v1m1-1v1m3 6v1m3-12v1m1 5v1m3-10v1m1 0v1m5 0v1m3 2v4m5 24v1m1-40v2m1 45v1m1-9v1m1-6v1m3 16v1m3-28v1m1 27v1m3-8v1m0 6v1m2-12v1m2 1v1m3 1v1m0 3v1m10-53v3"/>
<path stroke="#c70000" d="M94.5 279v1m5 19v1m4 11v1m2-34v1m0 25v1m0 2v1m4-21v1m13-12v1m3 2v1m1 3v1m1-6v1m2-4v1m4-6v1m1-1v1m1-1v1m2-1v1m1-1v1m1 0v1m1 6v1m2 5v1m1 6v1m3 7v1m2 3v1m0 3v1m1-5v1m3-12v1m2-5v1m2 24v1m3-30v1m1-1v1m3 28v1m5-12v1m0 1v1m1-7v1m2-7v1m2 15v1m1-4v1m1-18v1m2-4v1m1 0v1m1-6v1"/>
<path stroke="#b50000" d="M94.5 280v1m4 29v1m4 1v1m5-34v1m6 28v1m14-30v1m1-4v1m6-6v1m3-1v1m6 20v1m5 11v1m1 5v1m1 0v1m1-14v1m0 4v1m1-11v1m1-5v1m1-1v1m1-1v1m2-2v1m11 14v1m1-4v1m0 10v1m2-19v1m2 15v1m1-3v1m3-22v1m1 0v1"/>
<path stroke="#ff3300" d="M95.5 257v1m0 1v1m6 50v1m1-13v1m1 10v1m1-5v2m1-53v1m0 2v1m0 9v1m0 2v1m1 5v1m1-3v1m3 29v1m4-40v1m8 6v1m2 0v1m4-2v1m3 3v1m4-10v1m3-2v1m4 2v2m0 10v1m4-18v1m3 35v1m1 4v1m0 3v1m3-25v1m1-1v1m2-30v1m3 24v1m0 30v1m1-32v1m0 23v1m0 6v1m3-9v1m2-5v1m0 10v1m1-12v1m1-1v1m1-2v1m2-12v1m1-41v1m0 40v1m5-11v1m3-2v1"/>
<path stroke="#d20000" d="M95.5 278v1m1 0v1m2 29v1m1-13v1m6 7v2m2-30v1m5 32v1m2-7v2m7-25v1m2-7v1m1-1v1m4-2v1m1-1v1m4-6v1m3-1v1m5 13v1m6 17v1m3 2v1m2-2v1m1 8v1m4-10v1m1 9v1m3-10v1m0 8v1m1-10v1m4 7v1m1-10v1"/>
<path stroke="#0313f0" d="M96.5 248v1m7 9v1m0 2v1m3-11v1m6 14v2m15-7v4m7-13v1m0 4v2m4-7v1m15 14v2m3-6v1m0 4v1m11-14v4m3-3v1"/>
<path stroke="#042bf6" d="M96.5 249v1m2-2v4m0 2v1m10-7v2m1 0v2m3 13v1m0 2v1m11-19v2m4 13v1m7-18v4m0 7v1m4-9v1m0 1v1m7-4v1m8 14v2m0 2v1m1-8v1m10 4v1m3-9v1m0 11v1m3-19v1m7 14v2"/>
<path stroke="#0551f6" d="M96.5 250v1m6 25v1m6-26v1m1-4v1m0 5v1m2 17v1m1-12v3m2-16v1m8 1v1m1-3v1m4 10v1m0 7v1m11-19v1m2 4v4m0 2v2m4-2v1m1 1v3m0 4v1m2-14v1m0 1v1m6 5v1m0 5v1m1-11v1m0 14v2m2-8v1m5-6v2m1-11v1m0 29v1m2-20v1m0 3v1m1-4v2m0 19v1m1-14v1m0 2v1m1-19v1m0 4v4m7-13v1m4 11v1m0 4v1"/>
<path stroke="#ffb400" d="M96.5 275v1m3 17v1m2 14v1m1-14v1m1 10v1m11-44v1m33 32v1m8-13v1m1-2v1m1 26v1m2-32v1m3 27v1m0 2v1m1-6v1m1-2v1m0 5v1m1-13v1m15-22v1"/>
<path stroke="#ff6300" d="M96.5 276v1m6 20v1m0 11v1m1-15v1m0 12v1m2-36v1m8 26v1m0 5v1m1-43v1m17 10v1m9-7v2m2 4v1m10 28v1m0 5v1m3-26v1m1 25v1m1-8v1m6 6v1m3-13v1m1-1v1m1 6v1m0 1v1m4-40v2"/>
<path stroke="#f10000" d="M96.5 278v1m3 17v1m2 14v1m6-36v1m10 11v1m6-15v1m1-1v1m2 6v1m15 0v1m12 3v1m2 0v1m3-5v1m10 26v1m12-31v1"/>
<path stroke="#0084ff" d="M97.5 251v1m4 50v1m0 2v1m21-54v1m3 0v1m7 5v1m0 1v1m1-4v2m20 19v1m8-18v1m3 23v2m1-6v1m0 23v1m0 1v1m1-2v1m10-51v1m0 7v1"/>
<path stroke="#0a88f4" d="M97.5 252v1m0 17v1m2-22v1m0 3v1m1 2v2m8 8v2m1-12v1m5-8v1m3 26v1m3-16v1m2-2v1m0 1v1m2-4v1m1-11v1m2 4v2m7 5v1m3-3v2m16 11v3m4-27v1m4 2v1m0 15v1m1 20v1m1 2v1m1-27v1m0 12v1m12-23v1m1-8v1m1 25v1m2-18v1"/>
<path stroke="#98ff67" d="M97.5 259v1m2 21v1m1 8v1m0 10v1m0 4v1m14-28v1m24-19v1m10 19v1m4 24v1m0 1v1m4-29v1m1-5v1m0 29v1m0 1v1m7-13v1m4-16v1m0 7v1m1-5v1m3-2v1"/>
<path stroke="#37ffc8" d="M97.5 272v1m5 12v1m34-26v1m8 20v1m4 8v1m16-34v1m1 47v1m0 3v1"/>
<path stroke="#0022ff" d="M98.5 252v2m5 8v1m51 0v1m16-10v1"/>
<path stroke="#053ef5" d="M98.5 255v1m0 12v1m5-12v1m3-6v1m2-3v1m1-2v1m0 2v2m2 19v2m1-17v3m0 3v1m11-16v1m0 3v1m3 13v3m1-10v1m0 5v1m11-17v1m0 3v1m6-6v1m1-1v1m0 1v1m0 13v4m2-12v1m7 3v1m0 2v1m8-9v1m2 11v2m1 16v2m1-12v2m1-24v1m0 14v2m0 1v1m3-21v1m0 4v1m4-1v3m3 10v1m1-2v4"/>
<path stroke="#0761f5" d="M98.5 267v1m4 7v1m0 1v1m1-22v1m5-5v1m4 4v1m0 11v1m5 4v2m5-27v1m1 4v1m3 11v1m0 3v1m12-23v1m2 4v1m0 4v2m0 2v1m1 2v1m3-18v1m0 10v1m0 1v1m1-14v1m0 12v1m9-3v1m2 2v1m5 0v1m0 2v1m1-10v1m0 28v1m2-6v1m3-18v1m3-14v1m4 8v1m3 10v1"/>
<path stroke="#0033ff" d="M98.5 269v1m3 33v2m8-38v1m14-16v1m21-3v1m21 56v1"/>
<path stroke="#0053ff" d="M98.5 270v1m5-8v1m6 4v1m13-18v1m12 8v1m19 16v1m11 4v2m1 0v1m1-19v1m0 2v1m11-4v1"/>
<path stroke="#57ffa8" d="M98.5 282v1m5-6v1m9 10v1m19-23v2m13 14v1m6-29v1m8 22v1m2-8v1m3-17v1m4 25v1m4 4v1"/>
<path stroke="#ff2200" d="M98.5 304v1m0 1v1m1 2v1m1 0v1m2-1v1m15-24v1m1-3v1m20-19v1m3 13v1m10 22v1m0 5v1m4-25v1m2 25v1m1-31v1m0 21v1m4 0v1m0 6v1m4-2v1m14-33v1"/>
<path stroke="#076ff3" d="M99.5 248v1m3 25v1m0 3v1m4-19v1m3-6v1m8 17v1m6-19v1m2-5v2m2 5v1m0 9v1m14-3v1m3-15v1m1 17v1m8 0v1m1-14v1m0 15v1m0 2v1m8-24v1m0 29v1m0 2v1m1 4v2m1-23v1m0 8v1m1-33v1m0 20v1m0 19v1m1-20v1m0 3v1m0 4v1m4-22v1m5-11v1m2 1v1m1 23v1m2-16v1"/>
<path stroke="#67ff98" d="M99.5 276v1m1-25v1m0 35v1m2-18v1m0 14v1m10 2v1m0 9v1m2-48v1m3 29v1m3-14v1m4-1v1m6-2v1m20-12v1m6 21v1m8 15v1m1-1v1m3-5v1m5-9v1"/>
<path stroke="#ffd500" d="M100.5 294v1m2-1v1m10 11v1m12-36v1m35 35v1m0 2v1m1-4v1m0 2v1m3-2v1m1-12v1m7-12v1m4-11v1"/>
<path stroke="#ff4300" d="M100.5 297v1m0 1v1m11 7v1m10-30v1m1-8v1m11-7v1m3 1v1m1-1v1m10 30v1m1 1v1m7 10v1m1-27v1m3 19v1m5-6v1m0 10v1"/>
<path stroke="#e10000" d="M100.5 311v1m26-30v1m4-6v1m4-9v1m1-1v1m2-1v1m1-1v1m11 32v1m0 2v1m0 3v1m1-10v1m0 9v1m4-24v1m3-2v1m2 17v1m0 8v1m1-10v1m0 8v1m3-11v1m3-2v1m1-1v1m1-2v1m1 6v2m2-19v1"/>
<path stroke="#ffe500" d="M101.5 297v1m61 10v2m4-13v1m1-2v1m8-19v1"/>
<path stroke="#e9ff16" d="M102.5 292v1"/>
<path stroke="#fff500" d="M102.5 293v1m56 15v1m1-2v2m1-2v2m1-2v2"/>
<path stroke="#0000e1" d="M103.5 259v2m3-11v1m28 2v1m0 2v1m22 7v4"/>
<path stroke="#06fff9" d="M103.5 272v1"/>
<path stroke="#c0482e" d="M104.5 288v1"/>
<path stroke="#0000d0" d="M106.5 248v2m28 4v2"/>
<path stroke="#00c4ff" d="M108.5 255v1m2 18v1m2 4v1m4-6v1m0 2v1m2-30v1m7 6v1m22 33v1m5-27v1m1 16v1m9-22v1m3-2v1m0 33v1m1 13v1m0 1v1m3-55v1m9-7v1"/>
<path stroke="#0043ff" d="M109.5 266v1m35-16v1m21 33v1m1-19v2m11-2v1"/>
<path stroke="#8b0200" d="M109.5 296v7m63 2v2m3-8v6"/>
<path stroke="#0063ff" d="M111.5 275v1m42 0v1m0 1v1m11 5v1m1-19v1m1-2v1m1-5v1m11 5v1"/>
<path stroke="#00a4ff" d="M112.5 277v1m19-18v2m8-14v1m8 37v2m4-13v1m12 14v1m1 16v1m1-17v1m13-26v1"/>
<path stroke="#00e5ff" d="M113.5 252v1m23 8v1m24 0v1"/>
<path stroke="#0073ff" d="M122.5 261v1m4-8v1m6 5v1m21 14v1m4-7v1m7 15v1m1-3v1m1-20v1m1-3v2m9 2v1m1-2v1"/>
<path stroke="#ffc400" d="M149.5 298v1m8-18v1m1 28v1m3-4v1m0 2v1m2-12v1m4-3v1"/>
<path stroke="#00f5ff" d="M161.5 260v1"/>
<path stroke="#0012ff" d="M170.5 255v1"/>
<path stroke="#910609" d="M172.5 299v2m3-9v5"/>
</g>
<path d="M94.0 249.4H96.0M110.0 249.4H112.0M155.0 249.4H157.0M171.0 249.4H173.0M155.0 253.4H157.0M115.0 257.4H117.0M155.0 257.4H157.0M178.0 257.4H180.0M95.0 261.4H97.0M116.0 261.4H119.0M178.0 261.4H180.0M88.2 265.4H90.0M113.0 265.4H115.0M117.0 265.4H119.0M133.0 265.4H136.0M137.0 265.4H140.0M121.0 269.4H124.0M128.0 269.4H130.0M132.0 269.4H141.0M142.0 269.4H144.0M154.0 269.4H156.0M94.0 273.4H96.0M105.0 273.4H109.0M120.0 273.4H126.0M127.0 273.4H131.0M132.0 273.4H141.0M92.0 277.4H98.0M105.0 277.4H110.0M119.0 277.4H141.0M175.0 277.4H178.0M92.0 281.4H98.0M105.0 281.4H110.0M115.0 281.4H117.0M119.0 281.4H143.0M157.0 281.4H161.0M175.0 281.4H180.6M91.0 285.4H98.0M104.0 285.4H110.0M115.0 285.4H144.0M153.0 285.4H162.0M175.0 285.4H180.6M91.0 289.4H99.0M104.0 289.4H110.0M115.0 289.4H145.0M152.0 289.4H162.0M170.0 289.4H173.0M175.0 289.4H180.6M91.0 293.4H101.0M102.0 293.4H111.0M114.0 293.4H146.0M151.0 293.4H163.0M169.0 293.4H173.0M175.0 293.4H180.6M90.0 297.4H111.0M114.0 297.4H148.0M150.0 297.4H163.0M165.0 297.4H173.0M174.0 297.4H180.6M88.2 301.4H100.0M103.0 301.4H111.0M113.0 301.4H180.6M88.2 305.4H100.0M103.0 305.4H112.0M113.0 305.4H153.0M157.0 305.4H164.0M167.0 305.4H180.6M88.2 309.4H153.0M157.0 309.4H164.0M167.0 309.4H180.6M88.2 313.4H180.6M88.2 317.4H180.6M88.2 321.4H180.6M88.2 325.4H180.6M88.2 329.4H180.6M88.2 333.4H180.6M88.2 337.4H180.6M88.2 341.4H180.6" stroke="#000" stroke-opacity="0.8" stroke-width="1.25" stroke-dasharray="1.5 0.45" fill="none"/>
<path d="M88.4 297.0 L89.2 305.1 L90.0 309.8 L91.5 316.2 L93.9 322.5 L97.1 327.3 L101.9 332.8 L106.6 336.8 L111.4 340.0 L118.5 342.8 L124.0 344.7 L130.0 347.0 L138.0 347.0 L142.3 344.7 L146.3 343.6 L152.6 340.7 L159.0 337.6 L165.3 333.6 L170.0 328.9 L174.0 323.3 L176.4 317.8 L178.0 312.2 L179.2 305.9 L179.9 299.5 L180.6 293.0" stroke="#fff" stroke-width="1.1" stroke-dasharray="2 2" fill="none" stroke-opacity="0.9"/>
</g>
<rect x="88.2" y="248.4" width="92.40" height="96.90" fill="none" stroke="#444" stroke-width="0.5"/>
<clipPath id="wc1"><rect x="247.8" y="248.2" width="92.50" height="97.10"/></clipPath>
<g clip-path="url(#wc1)">
<g stroke-width="1" fill="none">
<path stroke="#ffa400" d="M247.5 248v1m0 38v1m7 18v1m2-38v1m5-2v1m4 27v1m4 8v1m48-31v1"/>
<path stroke="#ff6300" d="M247.5 249v1m8 57v1m1-4v1m2 2v1m19-5v1m7-24v1m4 31v1m6-51v1m0 6v1m1-2v1m1-16v1m2 12v1m1 20v2m14 26v2m7-11v1m0 1v1m3-31v1m3-22v1m6 56v1m6 3v1"/>
<path stroke="#ff3300" d="M247.5 250v1m0 2v1m4 20v1m2-7v1m0 38v1m1-5v1m3 2v3m1-4v2m2-37v1m1-1v1m4 27v1m3 6v1m5 6v1m1 1v1m2-4v1m5-52v1m0 31v1m2-11v1m6-2v1m5-12v1m3-13v1m0 8v1m1-1v1m5 33v2m3 4v1m1-2v1m1-3v1m1-45v1m0 55v1m8-39v1m3-3v1m0 2v1m1 26v1m0 1v1m2-30v1m3-21v2m6 51v1m8-57v1"/>
<path stroke="#fb2701" d="M247.5 251v2m2 29v1m1-3v1m3-12v1m0 33v1m3-32v1m1 0v1m1 36v1m9-8v1m4 5v1m1 1v1m3 3v1m2-11v1m4-51v1m0 2v2m3 21v1m2 10v1m1 20v1m2-3v1m4-49v3m0 10v1m6-8v1m5 6v2m0 28v1m5-46v1m0 4v1m2 47v1m0 2v1m1-4v1m0 2v1m3-39v1m1-2v1m2 29v1m1-17v1m1-15v1m8 23v1m4 8v1m5 7v1m2 0v1m1 2v1"/>
<path stroke="#ff5300" d="M247.5 254v1m0 33v1m5-18v1m3 31v1m2-34v1m4 37v2m6-8v1m2 3v1m2 1v1m1 1v1m3 3v1m1-5v1m7-63v1m0 2v1m0 21v1m0 7v1m2 29v1m1-21v1m7-30v1m1 2v1m3 0v1m3 2v1m6 36v1m11-30v1m1 29v1m1-17v1m3-14v1m4 24v1m1-1v1m5 9v1"/>
<path stroke="#dc6f12" d="M247.5 255v1m5 3v1m2 12v1m1-7v1m4 5v2m3-3v2m2 18v2m4-40v1m10 37v1m1-7v1m2-24v2m4 23v2m5-28v1m0 24v2m1 10v1m1-2v2m1-18v5m3-36v1m1 9v2m4 12v1m1 8v2m1-35v3m0 46v1m6-7v1m2-28v1m0 4v1m2-17v6m0 28v1m1-6v1m0 4v2m4-14v1m0 7v2m2-6v1m4 5v2m5-5v1m2 7v2m1 7v1"/>
<path stroke="#90a06e" d="M247.5 256v1m1 24v1m4-28v1m0 6v1m7 3v2m3-1v1m1-17v1m2 12v1m1 5v1m9 2v1m3-5v1m1-5v1m0 18v1m2-18v1m2-11v1m2 1v5m0 22v1m1-18v1m2 9v1m5-21v2m1-1v1m3-5v1m1 5v1m1 3v1m4 9v1m4-27v1m2 26v1m2-26v1m0 13v1m2-4v1m0 20v1m2-9v1m5-4v1m4-3v1m1 5v1m1-22v1m1 0v2m6-10v1m1 9v6m1 1v1m4-18v1"/>
<path stroke="#7e717d" d="M247.5 257v1m1-8v1m0 3v1m1 9v1m3-2v1m0 1v1m2 0v1m2-18v1m3 19v1m4-18v2m2-6v3m0 8v1m0 10v3m1-23v1m0 26v1m2-12v1m0 11v1m1-16v3m2 4v2m1-24v3m1 11v1m0 2v1m2-11v1m0 1v1m3 12v1m1-12v1m0 20v2m2-14v1m4-20v1m0 1v1m0 12v1m1-2v1m0 2v1m0 11v1m2-5v1m0 1v1m1-23v1m1 16v1m1-22v1m0 5v1m0 4v1m0 30v1m0 2v1m1-47v1m0 14v1m6-5v1m1-1v1m0 2v1m2 6v1m1 0v1m1-24v1m0 47v1m5-24v1m2-15v1m0 1v1m3 22v1m1-31v1m1-7v1m1 13v2m1-7v1m0 9v1m2-4v1m0 8v1m1-10v1m5-5v1m0 6v1m1-14v1m1 0v1m5 19v1m1-6v1m2-7v1m2-17v1m1 4v1m2 18v1"/>
<path stroke="#7e627d" d="M247.5 258v1m1-8v3m4-1v1m0 10v1m1-15v1m0 8v1m1 10v1m1-13v1m1-4v1m4-3v1m0 10v1m2-14v1m3 8v2m1-14v2m0 21v4m2-12v1m2-1v3m1-1v5m4-14v1m3 22v1m3-11v3m1-15v1m3-8v1m0 14v1m0 1v1m1-4v2m0 6v1m2 2v1m3-16v1m0 32v2m1-47v1m0 19v1m6-14v1m1 5v2m4 7v1m0 3v1m0 6v1m0 13v1m3-35v2m0 1v2m2-2v1m2-5v1m3 24v2m1-35v2m2-4v1m3 26v1m1-13v2m5-9v2m0 14v1m1-23v2m1 0v1m1 19v1m0 2v1m2-19v1m0 1v1m1-8v5m0 4v1m1-12v2m0 15v1m1-13v2m0 16v1m2-5v1m0 6v1m2-22v1m3-10v1"/>
<path stroke="#817d77" d="M247.5 259v1m5 2v1m3 1v1m3-17v3m1 17v1m0 1v1m3-2v1m2 18v1m6-23v1m1-3v1m0 7v1m1-2v1m2-14v5m1 10v1m4-22v1m0 29v1m2-34v1m3 20v2m2-1v1m4-9v1m0 20v1m1 11v1m1-6v4m7-36v1m2-5v1m0 13v1m0 1v1m2 6v1m0 3v1m0 11v1m0 2v1m3-32v1m2-4v1m1 23v4m1-33v1m3 29v1m1-38v1m5 8v1m5 24v1m1-29v1m0 3v1m0 13v1m8-17v1m0 16v2m2-8v1m5-22v1"/>
<path stroke="#5d889e" d="M247.5 260v1m1-4v1m0 3v4m2 6v1m4-7v1m4-13v1m1-6v1m0 4v2m2 3v1m2-5v1m1-7v1m0 5v3m0 16v2m2 15v2m4-25v1m1 6v2m2-10v1m1-18v5m1 0v1m1 9v1m1-4v1m4-14v1m1 24v1m3-26v1m1-1v2m0 11v1m2 10v1m4-23v1m3 10v1m5-9v3m4-5v3m1 1v1m1 11v1m1 9v1m1-16v1m5-14v1m3 15v1m2-16v1m1 8v1m2-1v2m2 11v1m2-18v1m0 6v1m2 13v4m1-22v1m0 30v2m2-40v3m0 3v1m2 18v1m1-17v1m0 5v1m2-5v1m1 7v1m1-13v1m0 7v1m0 3v7m1-23v1m1 31v2"/>
<path stroke="#1198ee" d="M247.5 261v1m1 15v1m1-30v1m0 8v1m5-8v1m0 13v1m4-10v1m4 5v1m2-13v1m0 2v1m0 5v1m0 20v1m1 4v1m2-21v1m1 21v2m8-6v1m4-19v1m2 3v1m3 10v1m2-25v1m4-2v1m0 22v1m1 3v1m18-29v1m2 19v1m2-2v1m5-3v1m2 1v1m3-18v1m3 25v1m0 7v1m0 3v1m1-24v2m2 2v1m2 8v1m0 1v1m4-11v1m0 3v1m1-20v1m0 2v1m2 1v1m0 23v1"/>
<path stroke="#0073ff" d="M247.5 262v1m3-12v1m0 3v1m10-7v1m0 1v1m3 5v2m9-1v1m5 24v1m28 15v1m0 1v1m1-47v2m12-3v1m0 14v2m4-13v1m1-1v1m3 13v1m10-22v1m0 8v1m2 18v1m1-3v1m0 17v1"/>
<path stroke="#076ff3" d="M247.5 263v1m1 9v1m0 2v1m1-26v3m5-2v1m3 3v1m2 1v1m8 7v4m3-16v1m5-3v1m1-5v1m0 3v1m0 24v1m10-20v1m1-3v1m1-2v1m4 22v2m10-32v1m2 0v1m0 5v1m0 7v1m1 7v1m1-3v1m2-22v1m2 14v1m2-3v1m2-1v1m3-14v1m0 6v1m2 13v1m2-3v1m10-1v1m1 10v1m0 2v1m3-25v1m0 2v1m1-9v1m0 10v1m0 12v2m2-22v1m0 20v2"/>
<path stroke="#2c88ce" d="M247.5 264v2m0 11v1m2-22v1m1 16v2m4-20v2m5-1v1m4-2v1m1 1v1m0 18v1m1 6v1m5-27v1m1 19v1m2-26v1m0 4v2m2-6v1m1 11v1m0 12v1m0 2v1m1-20v1m8 6v1m1-10v1m0 19v1m6-29v2m7-6v1m0 2v1m1-1v1m2 10v1m2-13v1m0 3v1m1 1v1m1 11v1m1 1v1m3-17v1m1 2v1m1 2v1m2 14v1m4-24v1m1 12v1m0 14v1m3-18v1m2-8v1m1 6v1m2 10v1m1-19v1m0 3v1m0 8v1m2-21v1m2 27v1m0 8v8m1-25v1m2-18v1m0 8v1m2-3v1m0 4v1m1 7v1m2 4v1m0 18v1"/>
<path stroke="#097bf1" d="M247.5 266v1m1 0v6m1-23v1m0 3v2m0 5v1m5-11v1m0 1v2m5 2v1m2-2v1m1 3v1m2-11v1m0 26v1m3-13v1m3-11v2m0 12v1m1-9v1m2-7v2m0 10v1m0 4v1m3-7v1m1-4v1m2-14v1m1 8v1m0 3v1m2 3v1m0 8v1m3 1v1m1-20v1m2-1v1m3-7v1m0 16v1m1 6v1m0 2v1m2-27v1m1-2v1m5 9v1m2-3v1m3 8v1m0 3v1m0 21v1m0 5v1m2-32v1m0 4v1m1-28v1m4-1v1m0 22v1m1-25v1m1 8v1m0 15v2m1-4v1m4-14v1m2 7v1m2 3v1m1-17v1m2 12v1m1 23v1m1-42v1m0 4v1m0 10v2m2 4v1m1 2v1m2-15v1m0 2v1m3 3v1m2-1v1m0 7v1"/>
<path stroke="#0761f5" d="M247.5 267v1m1 6v2m3-25v1m6 10v1m13-10v1m0 16v1m5-23v1m1 0v3m1 12v1m0 11v1m0 7v1m0 2v1m3-26v1m2 0v1m3 13v1m2-13v3m1-12v1m0 1v1m3 8v1m0 1v1m6-22v1m0 2v1m3-3v1m5 22v2m0 23v2m1-21v1m1-7v1m3 1v1m1-16v1m0 1v1m1 0v1m0 1v3m0 4v1m3-14v1m4-4v1m0 1v1m0 8v1m2 4v1m2-3v1m3-2v1m4 0v1m0 1v1m1-4v1m0 5v1m1 4v2m3-22v1m1-10v1m0 2v1m0 13v1m3-5v1m0 3v1m0 23v1"/>
<path stroke="#053ef5" d="M247.5 268v1m4-17v1m0 2v1m6 2v4m4-8v1m9-5v2m0 19v1m3-4v1m0 2v1m2-23v2m1 17v1m1 0v1m2-22v1m3 15v2m3 4v1m0 5v1m2-20v1m0 11v1m8-18v1m2-4v2m5-1v1m0 9v1m2-13v1m0 7v1m0 5v1m3 10v2m3-11v1m2-17v1m0 19v2m2-11v1m1 0v1m6 8v2m2-7v4m1-16v1m4-2v1m0 1v1m3 16v3m2-10v1m3-16v1m0 6v1m2 5v2m0 2v2m1-5v1m0 5v1m0 6v1"/>
<path stroke="#0313f0" d="M247.5 269v1m20 2v1m0 1v1m4-27v5m0 5v1m2 10v2m12 0v2m0 1v1m2-17v2m0 1v2m7-14v3m1-2v1m7 8v1m2-3v5m2 10v1m0 3v2m4-13v1m0 5v2m5-11v3m0 3v1m2-18v2m7-5v4m15 19v2"/>
<path stroke="#0012ff" d="M247.5 270v1m30 0v1m0 2v1"/>
<path stroke="#0022ff" d="M247.5 271v3m23-1v1m47-21v1m6 7v2"/>
<path stroke="#0033ff" d="M247.5 274v1m29-1v1m30 26v2m16-43v2m1-2v1m13-5v2m4 35v1"/>
<path stroke="#0043ff" d="M247.5 275v1m15-19v1m8 17v1m0 22v2m1-2v2m1-44v1m4 18v1m41-22v1m5 4v1m1-1v1m3 10v1m10-13v1m4 20v1m0 12v1"/>
<path stroke="#0084ff" d="M247.5 276v1m14-27v1m8 22v2m2 21v1m1-43v1m1-1v1m3-2v1m10 3v1m13-9v1m6 50v1m2-15v3m8-32v1m3-5v1m0 1v1m0 12v1m9 3v1m9-12v2m3 27v1m1 4v1"/>
<path stroke="#67be98" d="M247.5 278v1m3-10v1m0 6v1m1-29v1m3 11v2m4-1v1m0 8v1m6 12v1m2-5v1m0 12v1m2-13v1m1-13v1m1-10v1m1 32v1m2-43v1m0 10v1m1 29v3m1 1v1m2-39v1m0 40v1m2-22v1m1-12v1m0 9v1m4-24v1m1 28v1m3-14v1m3 16v1m1-4v2m3-30v2m2-4v1m6 8v1m0 3v1m0 20v1m1 6v1m2-13v1m0 9v2m1-31v1m1-6v2m0 32v2m3-30v1m1-14v1m2 18v1m0 6v1m2-22v1m2-9v1m0 17v1m2-5v1m2 9v2m3-24v1m0 15v1m0 19v2m6-36v1m2 39v1m0 4v1m1-22v3m0 6v2m0 15v1m2-10v4m1-1v1m2-47v1m1 20v1m0 26v2m0 16v2"/>
<path stroke="#87b678" d="M247.5 279v2m4-12v1m5-10v1m8 6v1m0 16v1m1-32v1m0 14v1m0 5v1m0 4v1m4-19v1m3 2v1m0 5v1m1 5v1m1-8v1m1-7v1m1-2v1m2-14v1m1 13v1m3-5v1m1 0v1m1 2v1m0 4v1m0 5v1m3-25v1m3 21v1m0 9v1m1-20v1m1 6v1m0 16v1m1-36v1m2 4v2m2-5v1m4 10v1m0 2v1m2 24v1m1-26v1m2-21v1m1 31v1m1-27v3m0 17v1m4-23v2m1-4v1m0 12v1m1-15v1m1 0v1m6 6v1m2 16v1m5 3v1m3-31v1m1 48v2m1-50v2m0 4v1m1 44v2m6-52v1m0 68v1"/>
<path stroke="#8aca75" d="M247.5 281v1m4-22v2m5-5v1m0 1v1m0 5v1m8 0v1m1 11v1m1-26v1m4 6v1m1 23v1m1-20v1m0 11v1m3-14v1m0 31v1m2 2v2m1-13v1m2-8v1m2-34v1m1 12v1m1-10v1m0 11v1m5-9v1m1 24v1m2-20v1m0 22v2m6-33v1m6 14v1m1 6v1m2-13v2m1-9v1m1 16v1m4-11v1m0 17v1m1-35v1m0 18v2m1-18v1m3 10v1m3-7v1m2 18v1m1-5v1m0 10v1m2-34v1m6 5v1m0 7v1m1 15v1m1 19v1m0 7v2m5-60v1m1 68v1"/>
<path stroke="#8bde74" d="M247.5 282v1m1-35v1m2 28v1m2-11v1m4-10v1m6 6v1m1-2v1m0 3v1m1-4v1m1-12v1m0 12v1m0 7v1m1-22v1m2 6v1m4 1v1m0 2v1m1-18v1m0 58v1m1-39v1m0 23v1m3-45v1m1 16v1m0 19v1m2-21v2m0 6v1m3-14v1m1-12v1m0 6v1m4 9v1m2 11v1m1 9v1m2-38v1m2 10v1m9 5v3m1-23v1m0 26v1m1-29v1m1 18v1m0 12v1m1-29v1m1-6v1m3 5v1m2 14v1m2-13v1m0 2v1m9 27v1m1-41v1m4 32v1m1-33v1m2 1v1m1 57v1m6-59v1"/>
<path stroke="#82fa7c" d="M247.5 283v1m3-19v1m5-18v1m6 12v1m2 5v1m0 4v1m1-9v1m2-10v1m0 38v1m1 3v1m1-41v1m1-4v1m1 37v1m1 10v1m1-24v1m0 12v1m1-47v1m1 54v1m1-2v1m1-42v1m2 21v1m0 2v1m2-13v1m1 10v2m6-10v1m1-11v1m3 20v1m1-18v1m12 12v1m0 1v1m0 14v1m1-53v1m0 3v1m0 8v1m0 3v1m0 22v1m2-40v1m6 14v1m0 1v1m0 12v1m3-12v1m2-9v1m2-9v1m3 1v1m1 7v1m1 15v1m0 9v1m1-26v1m0 19v1m3-29v1m0 19v1m3-17v1m1 38v2m1 11v1m1-30v1m0 20v2m5-3v1"/>
<path stroke="#8ff070" d="M247.5 284v1m4-15v1m6-23v1m3 17v1m12 0v3m0 10v1m0 3v1m2-13v1m0 1v1m2-17v1m2 22v2m2-31v1m0 2v1m0 13v1m0 10v1m1 3v1m0 2v1m3-13v2m4-13v1m1-6v1m1 13v1m1 15v1m1-32v1m3 6v1m6-5v1m0 5v1m6 27v1m3-19v1m3 3v1m3-24v2m3 24v1m3-10v1m2-4v1m1-24v1m1 25v1m0 5v1m1-23v1m1 35v1m1-35v1m2 20v1m1-22v1m1 28v1m0 10v1m1-31v1m3 31v1m0 3v1"/>
<path stroke="#bcf943" d="M247.5 285v1m3-22v1m8 8v1m7-9v1m1 29v1m2-1v1m0 5v1m4-15v2m0 2v2m4 6v4m4-50v1m1 28v1m2-16v1m1 9v1m8-18v1m32 13v1m1 16v1m1-5v1m0 6v1m7-11v1m1 29v1m2 0v1"/>
<path stroke="#eae115" d="M247.5 286v1m3-25v1m2 6v1m3-16v1m6 11v1m5-3v1m0 2v1m2 34v1m1-44v1m6 8v3m2-23v1m2 22v1m5 6v1m3 32v1m6-42v1m0 2v1m8-24v1m2 4v1m0 20v1m1 4v1m3 22v1m1-29v1m0 1v1m0 18v1m1-48v1m3 26v1m1-8v1m1 8v1m3-6v1m2 12v1m5-23v1m0 9v1m1 16v1m1-30v1m3 0v1m2 21v1m2 17v1m0 7v1m1 3v1m6-54v1m0 2v1"/>
<path stroke="#ff1200" d="M247.5 289v1m5-18v1m1-2v1m2 36v1m1-6v1m0 4v1m1 0v1m2-4v1m1-1v1m6-6v1m4 6v1m1 1v1m17-29v1m1 29v1m17-4v1m1-3v1m14-29v1m1-1v1m14 38v1"/>
<path stroke="#e50100" d="M247.5 290v1m3-10v1m0 23v2m1 0v1m1-35v1m1 0v1m3 34v1m6-1v1m7-2v1m1 1v1m3 3v1m4-7v2m7 1v1m4-29v1m0 25v1m0 3v1m9-45v1m1-1v1m1 0v1m5 39v1m1 2v1m3-9v1m0 9v1m3-36v1m2 33v1m8-35v1m1-1v1m9 33v2"/>
<path stroke="#c70000" d="M247.5 291v1m1-4v1m1-4v1m3 23v1m1-34v1m1-1v1m0 25v1m3-1v1m0 7v1m1-9v1m1-27v1m2-4v1m1 1v1m0 29v1m3-5v1m1 3v3m1 0v2m1 0v2m1 0v1m5 4v1m3-5v1m1-19v1m0 11v2m0 2v1m1-4v4m1-5v2m0 2v1m1-17v1m0 11v1m0 4v1m1-6v1m0 4v1m1-28v1m0 21v1m0 4v1m1-6v1m1-1v1m1-13v1m0 10v1m1 0v1m1-1v1m1-1v1m1-2v1m1-6v1m0 2v2m0 7v1m1-12v3m0 8v1m1-2v1m1-40v1m0 33v1m0 4v1m1-6v1m0 4v1m1-42v1m0 35v1m0 4v1m1-42v1m0 35v1m0 4v1m1-6v1m0 4v1m1-6v1m0 4v1m1-41v1m0 34v1m0 4v1m1-6v2m0 2v2m1-26v1m0 19v1m0 3v2m1-1v1m1 0v1m3-1v1m1-2v1m1-11v1m0 6v2m0 6v1m4-26v1m1-1v1m0 21v1m1-33v1m2-1v1m1 6v1m2-5v1m1 23v1m2-28v1m1 9v1m1 11v1m1 2v1m1 0v1m1-5v1m1-18v1m2 25v1m1-5v1m4 10v1m2 1v1m2 2v1"/>
<path stroke="#bd0000" d="M247.5 292v1m2 14v1m1 0v1m1-32v1m1-3v1m4 34v1m3 0v1m1-1v1m1-9v1m1-28v1m0 27v1m0 5v1m3-9v1m1 7v2m1-1v1m1 0v1m1 0v1m3 1v1m4 0v1m1-3v1m1-2v1m1-25v1m0 16v1m0 6v1m1-8v1m0 6v1m1-18v1m0 8v1m0 7v1m1-27v1m0 18v1m0 6v1m1-8v1m0 6v1m3-9v1m1 8v1m1-30v1m2 5v1m0 13v1m1 8v1m1-1v1m1-10v1m5-35v1m0 41v1m1-8v1m0 6v1m1-8v1m0 6v1m1-8v1m0 6v1m1-8v1m0 6v1m2 0v1m3-1v2m1-3v1m1-8v1m0 5v1m1-5v1m0 2v1m1-4v4m1-30v1m0 26v2m1-2v2m1-18v1m2-12v1m1 23v1m2-12v1m2-14v1m1-1v1m3 22v1m1 3v1m1-1v1m1-5v1m1-18v1m2 27v1m1-10v1m5 14v1"/>
<path stroke="#ae0000" d="M247.5 293v1m1-4v1m0 15v1m1-20v1m0 20v1m2-7v1m2-25v1m0 31v1m2-37v1m3 36v1m1-34v1m2-4v1m0 35v1m3-7v1m0 4v2m1 0v1m1 0v1m2 0v1m2 0v1m7-1v1m1-13v1m3-7v1m1 6v1m1-18v1m1-2v1m0 17v1m2-8v1m0 5v1m0 11v1m1-12v1m0 10v1m1-12v1m0 10v1m1-30v1m0 17v1m0 10v1m1-1v1m3-12v1m0 10v1m1-41v1m0 28v1m0 10v1m1-12v1m0 10v1m1-12v1m0 10v1m1-30v1m0 2v1m3-16v1m0 14v1m2 14v1m1 10v1m3 0v1m3-13v1m3 1v1m1-13v1m0 18v1m1-8v1m1-23v1m0 22v1m0 4v1m0 1v1m1-8v1m0 4v1m1-29v1m0 26v1m1-2v2m1-2v2m3-3v1m1-3v1m2 1v2m3-3v1m7 11v1m2 2v1m1 0v1"/>
<path stroke="#a20000" d="M247.5 294v1m1-4v1m0 12v1m1-17v1m0 14v1m1-18v1m0 15v1m1-23v1m1-3v1m0 31v1m1-32v1m1 21v1m1-27v1m1 25v1m1-23v1m0 21v1m1-1v1m1-23v1m1-4v1m1-1v1m0 25v1m0 9v1m1-1v1m1-1v1m1-15v1m0 5v1m0 8v1m1 0v1m2 0v1m1-1v1m2 0v1m1 0v1m3 2v1m2-3v1m1-3v1m1-18v3m1 1v1m1-13v1m0 11v1m1-5v4m1-13v1m0 12v1m1-16v1m0 14v1m1-1v1m1-9v1m0 20v1m1-19v1m0 2v2m0 13v1m1-14v1m0 12v1m1-30v1m0 15v1m0 12v1m1-30v1m0 15v1m0 12v1m1-24v1m0 22v1m1-1v1m1-1v1m1-27v1m0 12v1m0 12v1m1-41v1m0 26v1m0 12v1m1-14v1m0 12v1m1-43v1m0 28v1m0 12v1m1-43v1m0 28v1m0 12v1m1-43v1m1 0v1m1-1v1m1 11v1m1 15v1m1 12v1m3 0v1m4-14v1m2-21v1m1 10v1m0 8v1m1-1v1m1-20v1m0 19v1m1-1v1m0 8v2m1-31v1m0 19v1m0 7v1m1-22v1m0 20v1m1-16v1m0 14v1m1-26v1m0 23v1m1-1v1m1-8v1m0 4v3m1-28v1m0 20v1m0 2v3m1-16v1m0 10v5m1 0v1m1 0v1m1-1v1m1-3v1m1-22v1m2 8v1m0 11v1m3 7v1m1 1v1m1 1v1m1 0v1m1 0v1m1 0v1"/>
<path stroke="#9e0000" d="M247.5 295v1m0 9v2m1-15v1m0 15v1m1-20v1m0 19v1m1-23v1m1-7v1m0 28v1m1-32v1m1 0v1m0 20v1m2-26v1m0 34v1m1-1v1m1-32v1m1 1v1m0 29v1m1-1v1m1-36v1m0 34v1m1-36v1m0 35v1m1-1v1m1-31v1m0 19v1m1-5v2m0 2v1m0 10v1m1 0v1m1-1v1m2 0v1m2 0v1m2 0v1m1 0v1m2 1v1m1-3v1m1-3v1m1-2v1m1-25v1m0 23v1m1-25v1m0 23v1m2-25v1m0 23v1m1-28v1m1-1v1m1 6v1m0 5v1m1-3v1m1-10v1m0 10v1m1-15v1m1-1v1m1 5v1m1 22v1m1-1v1m1-27v1m0 10v1m1-26v1m2-3v1m1-1v1m1-1v1m2 0v1m0 39v1m1-36v1m0 6v1m0 27v1m1-15v1m0 13v1m2 0v1m1 0v1m5-16v1m2-19v1m0 18v1m1-9v1m0 6v1m1-8v1m0 6v1m1-18v1m0 17v1m2-19v1m0 27v1m1-22v1m0 20v1m1-16v1m0 3v1m0 10v1m1-26v1m1 23v1m1-29v1m0 27v1m1-28v1m0 25v1m1-16v2m0 7v1m0 5v1m2 1v1m1-1v1m1-2v1m1-23v1m0 6v1m0 2v1m1 13v1m1-15v1m0 7v2m2 7v1m1 1v1m1 1v1m1 1v1m1 0v1m1 0v1"/>
<path stroke="#9a0000" d="M247.5 296v1m0 10v1m5-7v1m1 9v1m1-32v1m0 30v1m1-35v1m1 1v1m0 32v1m1-1v1m1-30v1m0 29v1m1-34v1m0 32v1m1-36v1m0 34v1m2-34v1m0 33v1m1-1v1m1-14v2m2 13v1m1-1v1m2 0v1m2 0v1m2 1v1m1 0v1m1 0v1m4-30v1m0 8v1m1-10v1m0 8v1m2-10v1m0 8v1m1-1v1m1-1v1m1-2v1m0 15v1m1-1v1m1-26v1m0 24v1m1-29v1m0 12v1m0 14v1m1-29v1m0 12v1m0 14v1m1-17v1m0 15v1m3-1v1m1-40v1m0 23v1m0 14v1m1-42v1m0 25v1m0 14v1m1-31v2m0 13v1m0 14v1m1-42v1m0 25v1m1-27v1m1-1v1m1 0v1m3 39v1m3 0v1m5-33v1m0 16v1m1-1v1m1-7v1m0 4v1m1-6v1m0 4v1m1 14v1m1-32v1m0 17v1m0 11v1m1-30v1m0 16v1m0 10v1m1-12v1m1-5v3m1 11v1m1-29v1m0 27v1m1-29v1m0 27v1m1-2v1m1-10v2m0 7v1m1 0v1m1 0v1m1-1v1m2-8v4m1-21v1m1 10v7m3 12v1m3 4v1m2 0v1m1 1v1"/>
<path stroke="#950000" d="M247.5 297v1m0 10v1m1-15v1m0 8v1m0 5v1m1-19v1m0 18v1m1-22v1m1-7v1m0 27v1m1-31v1m0 29v2m1-31v1m0 29v1m1-32v1m0 30v2m1-36v1m0 34v1m1-33v1m0 31v1m1-32v1m0 31v1m1-31v1m0 29v1m1-1v1m1-36v1m0 21v1m1-23v1m0 35v1m1-35v1m0 20v1m0 12v1m1-1v1m2 0v1m1 0v1m1-1v1m2 0v1m1-1v1m1 0v1m1 0v1m1 0v1m1 0v1m1 0v1m2-6v1m2-24v1m0 5v1m0 15v1m1-24v1m0 6v1m2-8v1m0 6v1m1-11v1m0 9v1m1-11v1m0 9v1m1-4v2m2 1v1m1-12v1m0 10v1m1-11v1m0 9v1m2 16v1m1-1v1m1-19v1m2-24v1m1-1v1m1-1v1m1-1v1m1 0v1m1-1v1m3 39v1m3 0v1m2-2v1m3-32v1m0 14v1m1-1v1m1-5v4m1-3v3m2 1v1m1-1v1m0 12v1m1-22v1m2 7v1m0 11v1m1-29v1m0 16v1m0 10v1m1-29v1m0 16v1m0 10v1m1-12v1m2 10v1m1 0v1m1-1v1m1-2v1m1-11v2m0 6v1m1-8v2m0 4v1m3 6v1m1 2v1m1 1v1m1 1v1m1 0v1m1 0v1m1 0v1m1 0v1"/>
<path stroke="#920000" d="M247.5 298v1m0 10v2m1-1v1m1-19v1m0 9v1m0 8v1m1-22v1m0 20v2m1-29v1m0 27v1m1 0v1m1-1v1m1-32v1m1-4v1m0 34v1m1-1v1m1-32v1m1 1v1m1-4v1m0 32v1m1-36v1m0 34v1m1-36v1m1 1v1m1 33v1m1-1v1m4 1v1m2 0v1m4 3v1m1 0v1m1-4v1m3-26v1m0 3v1m1-6v1m0 4v1m1 17v1m1-24v1m0 4v1m1 17v1m1-27v1m0 25v1m1-1v1m1-1v1m1-25v1m0 5v1m0 17v1m1-28v1m0 26v1m1-1v1m1-1v1m3-1v1m1-18v1m0 16v1m1-41v1m0 22v1m0 16v1m1-41v1m0 22v1m0 16v1m1-41v1m0 22v1m0 16v1m1-41v1m0 22v1m0 16v1m1-18v1m0 16v1m1-40v1m0 21v1m1-16v1m0 14v1m3 17v1m1 0v1m2-2v1m3-19v1m1-14v1m0 29v1m1-1v1m3-17v1m1-15v1m1 0v1m1 6v1m0 5v1m0 13v1m1-1v1m1-24v1m0 22v1m1-29v1m0 14v1m1-16v1m1 26v1m1-1v1m1 0v1m4-13v1m0 9v1m1-10v1m4 17v1m1 1v1m1 1v1m1 0v1m1 0v1m2 1v1"/>
<path stroke="#910000" d="M247.5 299v1m0 3v1m0 7v1m1-17v1m0 15v1m1 0v1m2-12v1m0 11v1m1-32v1m1 0v1m1 30v1m2-33v1m1 32v1m1-1v1m1-33v1m3-1v1m0 32v1m1-15v1m2 14v1m2 0v1m4 1v1m2 1v1m4-4v1m1-2v1m1-1v1m1-23v1m0 21v1m2-23v1m0 21v1m1-27v1m4 2v1m2-4v1m6-14v1m3-1v1m1-1v1m1 38v1m1-1v1m1-1v1m8-1v1m1-30v1m5-1v1m0 12v1m1-13v1m0 11v1m1-2v1m3-13v1m0 26v1m1-28v1m0 13v1m1-1v1m3 13v1m1-1v1m1-2v1m1-15v2m1-9v1m3 24v1m6 9v1m1 1v1"/>
<path stroke="#8e0000" d="M247.5 300v3m0 10v1m1-18v2m0 15v1m1-20v1m0 18v1m1-22v1m0 21v1m1-30v2m0 27v1m1-32v2m0 29v1m1-31v1m0 30v1m1-32v1m0 30v1m1-35v1m0 33v1m1-33v1m1 1v1m0 30v1m1-30v1m0 28v1m1-33v1m0 31v1m1-35v1m0 33v1m1-35v1m0 18v1m1-18v1m1 32v1m1-1v1m1 0v1m1-1v1m2 0v1m2 0v1m1 0v1m1 0v1m1 0v1m1 1v1m1 0v1m1-4v1m4-27v2m2-2v2m1-6v2m1-1v1m0 4v1m2 19v1m1-24v4m1-7v1m1-1v1m0 5v1m0 19v1m1-1v1m1-1v1m1-1v1m1-1v1m1-20v1m1-21v1m0 19v1m1-21v1m0 19v1m1-21v1m0 19v1m1-21v1m1-1v1m1 0v1m1 7v1m0 10v1m2 18v1m1 0v1m3-1v1m1-2v1m2-20v1m1-11v1m1 1v1m1 25v1m1-1v1m1-27v1m0 8v1m1-12v1m0 10v1m1-11v1m0 9v1m0 15v1m1-20v3m0 16v1m1-1v1m1-23v1m0 5v1m0 15v1m1-28v1m0 11v1m1-13v1m0 11v1m1-11v1m0 9v1m2 14v1m1 0v1m1-1v1m1-2v1m1-3v1m1-19v1m0 5v1m3 17v1m1 3v1m1 1v1m1 1v1m1 0v1m1 0v1m1-1v1m1 1v1"/>
<path stroke="#970000" d="M247.5 304v1m1-12v1m1-4v1m1-3v1m0 21v1m1-29v1m1-3v1m1 0v1m2 30v1m1-33v1m1 0v1m0 31v1m2-33v1m0 19v1m1 12v1m1-37v1m0 35v1m3 0v1m4 1v1m4 1v1m4 0v1m2-4v1m1-24v1m1 22v1m1-1v1m1-1v1m1-28v1m0 26v1m1-28v1m0 26v1m1-21v1m0 2v1m4-11v1m1 9v1m3 0v1m3-26v1m1 40v1m1-16v1m0 14v1m1-41v1m0 24v1m0 14v1m1-16v1m0 14v1m1-16v1m0 14v1m1-1v1m2 0v1m1 0v1m2-2v1m3-17v1m4-5v1m1 4v1m1-17v1m2 6v1m0 8v1m0 11v1m1-1v1m1-12v1m3 0v1m0 8v1m1-12v1m0 10v1m4-1v1m1-8v1m0 4v1m1-5v4m0 1v1m5 9v1m1 1v1m2 1v1m1 0v1"/>
<path stroke="#900000" d="M247.5 312v1m1-1v1m1-20v1m1-3v1m0 21v1m3 0v1m1-32v1m1-4v1m1 34v1m1-32v1m1 1v1m2-6v1m1-1v1m0 34v1m8 2v1m3 1v1m2 2v1m1 0v1m1-4v1m3-26v3m1-1v1m2-1v1m1 0v1m1-8v1m0 6v1m4-9v1m0 7v1m1-1v1m7-22v1m1-1v1m3 0v1m5 40v1m1-2v1m3-3v1m2-18v1m1-11v1m0 9v1m4 15v1m2-21v1m2-4v1m0 7v1m2 13v1m1-26v1m0 24v1m1-1v1m6-21v1m0 7v1m0 11v1m1 0v1m3 6v1m1 1v1m1 1v1m1 0v1m1 0v1"/>
<path stroke="#8d0000" d="M247.5 314v1m1-17v1m0 3v1m0 11v1m1-1v1m1-14v1m2 13v1m1-31v1m1-1v1m1-4v1m1 1v1m0 31v1m1-31v1m1 1v1m1-4v1m1-3v1m1-1v1m0 33v1m1-33v1m0 31v1m5 1v1m2 0v1m4 3v1m1 1v1m3-7v1m1-2v1m2-1v1m1-1v1m1-1v1m1-21v1m0 19v1m1-25v1m0 23v1m1-1v1m2-1v1m1-26v1m0 4v1m0 19v1m1-26v1m5 24v1m1-39v1m0 37v1m1-39v1m0 37v1m1-39v1m0 37v1m1-39v1m0 18v1m0 18v1m1-39v1m0 18v1m0 18v1m1-38v1m0 17v1m0 18v1m1-1v1m1-1v1m3 2v1m1-2v1m4-27v1m1-5v1m0 8v1m1-8v1m0 6v1m3-8v1m0 24v1m1-28v1m1 0v1m4-2v1m0 25v1m1-27v1m0 25v1m1-25v1m7 4v5m2 15v1m1 3v1m4 8v1m2 0v1m1 1v1"/>
<path stroke="#8b0000" d="M247.5 315v1m1-16v2m0 13v1m1-20v1m0 18v1m1-22v1m1-7v1m1-3v1m0 29v1m1-30v1m0 28v1m1-31v1m0 13v1m1-18v1m1 2v1m0 30v1m1-31v1m0 29v1m1-18v1m0 16v1m1-31v1m1-4v1m1-1v1m1 2v1m1 6v1m0 5v1m0 17v1m2 0v1m2 0v1m2 0v1m3 2v1m1 0v1m1 1v1m1 0v1m1-4v1m1-5v1m11-26v2m1-1v1m5 1v1m1-17v1m1-2v1m0 3v1m2-4v1m1-1v1m1-1v1m1 15v1m2 20v1m1 0v1m1 1v1m1-2v1m4-26v2m0 20v1m1-27v1m0 5v1m0 19v1m1-26v1m0 4v1m0 19v1m1-1v1m2-25v1m0 3v1m1-7v1m0 6v1m1-7v1m0 5v1m3-3v2m0 18v1m1-26v1m0 24v1m1-26v1m1 0v1m0 4v2m5 17v1m5 4v1m1 3v1m1 1v1m1 1v1m2 1v1m1 0v1m1 1v1"/>
<path stroke="#890000" d="M247.5 316v1m1-1v1m1-18v2m1-5v2m0 2v1m1-11v1m0 26v1m1-30v1m0 28v1m1-29v1m0 27v1m1-30v2m1-5v2m1 1v1m0 29v1m1-30v2m0 27v1m1-27v1m0 25v1m1-30v1m0 10v1m0 17v1m1-33v2m0 12v1m1-15v2m0 12v1m1-12v1m0 10v1m1-5v4m0 19v1m1-1v1m1 0v1m2 0v1m2 0v1m1 0v1m1 0v1m1 1v1m1 0v2m1 0v2m1-1v2m1-5v1m1-6v1m2-3v1m12 0v1m1-1v1m2-33v1m0 8v1m1-14v1m1-2v2m1-1v1m2 4v1m2 0v2m0 5v1m2 22v1m2 3v1m1-2v1m1-2v1m2-4v1m1-1v1m1-26v4m5-4v4m1-3v3m0 20v1m1-1v1m2-1v1m1-25v2m0 1v2m1-5v2m0 1v2m1-3v2m2 21v1m1 0v1m1-1v1m4-4v1m1 1v1m1 4v2m1 2v2m1 0v2m1 0v2m1 0v1m1-1v2m1-1v1m1 1v1"/>
<path stroke="#880000" d="M247.5 317v1m1-1v1m1-1v1m1-20v2m0 17v1m1-27v2m1-4v2m0 9v1m0 17v1m1-29v2m0 26v1m1-29v1m0 27v1m1-32v2m0 29v1m1-30v2m1 0v1m1 1v2m0 4v1m0 19v1m1-30v2m0 27v1m1-32v1m0 30v1m1-32v1m0 30v1m1-30v2m0 7v1m0 19v1m2 0v1m1 0v1m1-1v1m1 0v1m1-1v1m1 0v1m1 0v2m1-1v2m1 0v2m1 0v1m1 1v1m1 0v1m1-5v2m1-7v1m1-3v1m2-1v1m1-1v1m1-1v1m1-1v1m1-1v1m1-1v1m1-1v1m1-1v1m1-1v1m1-1v1m1-1v1m3-1v1m1-32v1m0 30v1m1-36v3m0 9v1m0 22v1m1-24v1m0 22v1m1-24v1m0 22v1m1-24v1m0 22v1m1-24v1m0 22v1m1-24v1m0 22v1m1-29v2m0 2v1m0 23v1m1-1v1m1 0v1m1 0v1m1 2v2m1-3v1m1-2v1m1-3v1m1-2v1m2-2v1m1-1v1m1-1v1m1-1v1m1-1v1m1-1v1m1-1v1m1-1v1m1-1v1m2-24v1m0 21v1m1-23v1m0 21v1m1-1v1m1-1v1m1 1v1m1 0v1m1-1v1m1-3v1m1-3v1m1-1v1m2 2v1m1 5v1m1 3v1m1 1v1m1 1v1m1 0v2m1-1v1m1-1v2m1 0v2"/>
<path stroke="#870000" d="M247.5 318v1m1-1v1m1-1v1m1-1v1m1-26v3m0 3v2m0 17v1m1-28v3m0 25v1m1-28v3m0 4v1m0 19v1m1-29v3m0 5v1m0 19v1m1-31v2m0 8v1m0 19v1m1-29v3m0 5v1m0 19v1m1-28v3m0 3v2m0 19v1m1-25v4m1-7v3m0 3v2m0 20v1m1-32v3m0 7v1m0 20v1m1-32v3m0 7v1m0 20v1m1-29v3m0 3v1m0 21v1m1-1v1m1 0v1m1 0v1m1-1v2m1-1v1m1-1v2m1-1v2m1 0v2m1-1v2m1 0v2m1-1v3m1-1v3m1-2v3m1-6v2m1-8v2m1-4v1m1-2v1m2 0v1m4-1v1m1-1v1m4-1v1m1-1v1m1-1v1m2-32v3m0 2v2m1-9v1m0 7v1m1-1v1m1-8v1m0 6v1m1-1v1m1-1v1m1-8v1m0 6v1m1-3v2m2 26v1m1 0v2m1 2v2m1-4v3m1-4v2m1-4v2m2-4v1m1-1v1m1-1v1m1-1v1m1-1v1m5-1v1m1-2v1m1-1v1m1-1v1m1-1v1m1-1v1m1 1v1m1 0v2m1-2v2m1-4v2m1-4v1m1-1v1m1-1v1m1 2v2m1 4v3m1 1v3m1-1v3m1-1v3m1-1v2m1-2v3m1-2v3m1-1v2"/>
<path stroke="#860000" d="M247.5 319v2m1-2v2m1-2v2m1-2v2m1-25v3m0 20v2m1-27v6m0 20v1m1-26v4m0 21v1m1-27v5m0 21v1m1-30v8m0 21v1m1-27v5m0 21v2m1-27v3m0 22v2m1-2v2m1-27v3m0 23v1m1-30v7m0 22v1m1-30v7m0 22v1m1-27v3m0 23v1m1-1v1m1 0v1m1 0v2m1-1v3m1-3v4m1-3v4m1-3v5m1-3v4m1-3v5m1-3v5m1-3v4m1-2v4m1-3v4m1-8v5m1-11v4m1-7v1m1-2v2m1-2v2m1-1v1m1-2v2m1-2v2m1-2v2m1-1v1m1-1v1m1-2v2m1-2v2m1-2v2m1-1v1m1-1v2m1-2v2m1-3v2m1-30v2m0 26v2m1-34v7m0 25v2m1-34v7m0 25v2m1-33v6m0 25v1m1-32v6m0 25v1m1-32v6m0 25v1m1-32v6m0 25v1m1-1v1m1-1v2m1 0v2m1 0v5m1-1v5m1-6v4m1-6v5m1-7v4m1-7v2m1-2v1m1-1v1m1-1v1m1-1v1m1-1v1m1-2v2m1-2v2m1-2v2m1-2v2m1-1v1m1-2v1m1-1v1m1-1v1m1-1v1m1-1v2m1 0v3m1-1v4m1-4v5m1-7v3m1-6v2m1-2v1m1-1v2m1 2v4m1 3v4m1 0v4m1-2v4m1-2v4m1-3v5m1-4v4m1-3v4m1-3v3"/>
<path stroke="#850000" d="M247.5 321v25m1-25v25m1-25v25m1-25v25m1-25v25m1-25v25m1-25v25m1-25v25m1-25v25m1-24v24m1-24v24m1-24v24m1-24v24m1-24v24m1-24v24m1-24v24m1-24v24m1-23v23m1-21v21m1-19v19m1-18v18m1-17v17m1-15v15m1-14v14m1-12v12m1-10v10m1-9v9m1-7v7m1-6v6m1-9v9m1-16v16m1-22v22m1-22v22m1-22v22m1-22v22m1-22v22m1-22v22m1-22v22m1-22v22m1-22v22m1-22v22m1-22v22m1-22v22m1-22v22m1-21v21m1-21v21m1-22v22m1-22v22m1-22v22m1-22v22m1-23v23m1-23v23m1-23v23m1-23v23m1-23v23m1-22v22m1-20v20m1-15v15m1-11v11m1-13v13m1-14v14m1-17v17m1-22v22m1-23v23m1-23v23m1-23v23m1-23v23m1-23v23m1-23v23m1-23v23m1-23v23m1-23v23m1-23v23m1-24v24m1-24v24m1-24v24m1-24v24m1-23v23m1-20v20m1-17v17m1-16v16m1-20v20m1-24v24m1-25v25m1-24v24m1-18v18m1-11v11m1-7v7m1-5v5m1-3v3m1-1v1m1-1v1"/>
<path stroke="#7c9f82" d="M248.5 249v1m0 29v1m1-7v1m2-7v2m1-3v1m1-18v1m3 6v1m0 4v1m0 2v1m2 1v1m0 2v1m2-5v1m3-3v1m1 4v2m0 15v2m1-35v1m0 5v1m0 21v1m1-29v1m0 25v1m2 0v1m1-18v1m0 4v1m1-7v1m1 23v6m1-40v1m2 13v4m1-7v1m3-15v1m0 31v1m1-21v3m0 15v1m2-28v1m0 15v1m0 5v1m2-15v1m1-1v1m0 9v1m0 3v1m1-21v5m0 5v1m0 19v2m2-37v2m2 5v1m1 27v1m2 4v1m2-31v1m1 4v1m6-4v1m0 2v2m2-2v3m0 3v1m0 15v1m1-19v1m3 11v1m2-5v1m1-19v1m1-6v4m4 17v2m1-14v1m2 1v3m1 6v1m2-15v1m2 14v1m1 9v1m2-34v1m3 28v1m1-18v1m2 1v4m1 25v4m2-17v1m1-9v1"/>
<path stroke="#828a7c" d="M248.5 255v1m0 24v1m5-21v1m2-4v1m1 4v2m2 3v2m1-2v1m3-1v2m1-18v1m0 10v1m1 7v1m0 16v1m1-37v1m0 10v1m0 6v1m0 3v1m1-23v1m0 18v1m2-9v1m1 3v1m1-5v1m2 13v1m1-2v1m1-13v2m1-7v4m2-3v1m1 9v1m1 9v1m2-30v1m0 21v1m1-24v1m0 8v1m0 12v1m1-15v2m1 1v3m0 9v1m1-21v1m1 14v1m2 9v1m3-16v1m0 28v1m1-29v1m0 5v1m0 19v2m0 4v1m1-45v1m1 5v1m4-10v1m0 2v1m1 1v3m0 8v1m3 1v1m1 16v2m1-19v1m3 11v1m7-29v1m1-2v1m5 17v1m4 16v1m2-34v1m1 8v1m2 19v2m2-29v1m1-3v1m0 2v1m0 13v1m1-13v1m0 21v1m2 0v1m1-9v1"/>
<path stroke="#699f96" d="M248.5 256v1m0 21v1m2-9v1m1-5v1m5-19v1m2 10v2m7 20v1m1-2v2m2-15v1m0 3v1m3 19v1m3-3v2m1 2v2m1-32v1m1-6v1m5 11v1m4 8v1m2-10v1m3 14v1m3-30v1m1 2v2m0 1v1m4-11v1m4 33v1m2-33v1m0 13v1m1-10v1m0 34v5m4-43v1m1-1v1m6 11v1m1-20v1m2 13v1m2 7v1m6 1v1m4-24v1m0 45v1m5-20v1m2 6v2"/>
<path stroke="#43a0bc" d="M248.5 258v1m2 13v1m0 2v1m1-27v1m0 15v1m7-8v1m3 0v1m1-8v1m1 7v1m1-8v1m1 28v1m1-1v8m2-2v1m1-12v1m1-20v1m2-7v1m2-5v1m0 37v3m1 2v2m1-6v7m4-29v1m2 3v1m4-20v1m2 20v1m3-17v1m0 28v1m1-11v1m0 7v1m8-31v1m0 3v1m2 6v1m2 31v2m1-22v1m1 7v3m2-26v2m0 27v1m2-35v1m1 7v1m1-14v1m0 7v1m2 12v1m0 4v1m1-5v1m1-21v1m0 14v1m3 13v1m5-25v1m1-7v1m2 16v1m1-12v1m0 1v1m0 27v2m0 2v1m4-43v1m0 44v2m1-29v1m2-15v3m1 17v1m0 32v2m1-43v1m2 22v1m1 8v1"/>
<path stroke="#307dc4" d="M248.5 259v2m0 4v2m1-4v1m9-10v1m1-6v4m0 2v1m1-4v1m1 4v1m3 17v1m6-8v1m1-7v1m0 13v1m2-4v1m3 5v2m3-30v1m3 22v1m9-24v1m1-1v1m0 23v2m2-22v1m10 8v1m1 4v1m5-8v1m2-4v1m2-4v1m2 9v1m1-11v1m1-6v1m1 27v1m2-19v5m2 5v1m2-20v3m2 20v1m0 4v1m3-31v1m0 3v3m1 8v1m2-1v1m3 3v1m2 3v3"/>
<path stroke="#bf8536" d="M248.5 282v1m4-23v1m2 10v1m1-16v1m0 8v1m4 5v1m3-2v1m2 18v2m15-7v1m1-3v1m5 3v1m1-18v2m4-14v1m0 4v1m0 22v1m1 11v1m1-2v1m1-37v1m1-1v1m2-13v1m1 13v2m2 2v1m2-13v1m0 17v2m1-2v1m0 7v3m1-34v1m0 48v1m4-51v1m2 36v2m0 4v2m2-44v2m3 34v4m4-11v7m2-29v1m0 11v1m4 17v1m5-5v2m2 5v3m1 7v1m2-36v1m1 4v1m5 50v1"/>
<path stroke="#f5870a" d="M248.5 283v1m3-11v1m1-17v2m1 3v1m4 5v1m6 7v1m14 25v1m1-13v1m1-24v1m0 1v1m1 14v1m3-6v1m7-22v1m3 2v1m1-1v1m0 5v2m2-20v1m0 4v2m1 0v1m0 7v1m5 9v1m0 3v2m1-27v1m1 50v1m4-5v1m0 2v1m1-50v4m0 22v1m2-33v1m0 23v1m0 2v1m2-23v2m1 28v1m2-9v1m2 0v1m7 21v1m0 2v1m1-46v1m0 5v1m2 38v1m4-2v1m8-41v1m0 60v1"/>
<path stroke="#fb6c03" d="M248.5 284v1m1-5v1m1-2v1m2 24v1m0 1v1m1-44v1m4 5v1m2 37v1m1-1v1m5-11v1m16-7v1m2-40v2m0 18v1m0 5v1m4 3v1m2-3v1m4-6v1m6-9v1m3 8v1m2 2v1m3 25v1m2-48v1m2 17v1m4 0v1m4 28v1m1-32v1m5 21v1m8 9v1m2-41v2m4 50v1m1-66v1m0 4v1"/>
<path stroke="#fa4904" d="M248.5 285v1m1-5v1m4-18v4m1 5v1m1-7v2m2 2v2m2 37v1m4-34v1m14 26v1m1-13v1m1-7v1m1-2v1m1-25v1m1 22v1m1-36v2m0 23v4m4 5v1m3-25v2m3 5v1m1-4v1m2-13v2m1 4v1m0 1v1m2 8v1m2 6v1m3-1v1m0 2v1m0 26v1m5-47v1m0 7v1m2-1v1m0 2v1m0 6v1m1 1v1m4-3v1m4 2v1m0 1v1m6-25v1m0 2v1m4 22v1m2 30v1m1-8v2m7-55v1m0 1v2m0 63v1"/>
<path stroke="#d32713" d="M248.5 286v1m6-13v1m1-6v1m4 4v1m3-2v1m1 4v1m1 14v1m4-45v4m10 40v2m1-8v1m1-2v1m2-2v1m3 3v2m2-7v1m3 3v2m1 9v1m1-1v1m1-21v2m0 5v2m8-12v1m1 8v2m1 13v1m6-6v1m2-28v2m2 20v1m1 0v1m4-5v1m2-5v1m4 5v2m1 11v1m4-18v2m1-2v1m1 8v2m1 6v2"/>
<path stroke="#d80a02" d="M248.5 287v1m3-12v1m3-2v1m1-6v1m1 2v1m1 0v1m2 0v1m2-4v1m1 1v1m1 4v1m1 14v1m1 5v1m3-53v1m11 39v1m1-2v1m2-2v1m2-4v1m3 1v1m2-3v1m1 6v1m1 9v1m1-1v1m1-23v1m1-7v1m4 13v1m0 2v1m1-4v1m0 2v1m1-19v1m0 15v2m1-12v1m2 25v1m7 13v1m2-37v1m1 9v1m0 25v1m2-37v1m2-1v1m1 6v1m2-5v1m2 21v1m0 1v1m1-28v1m1 9v1m6-6v1m2 17v1m8 19v1"/>
<path stroke="#b50000" d="M248.5 289v1m1-4v1m0 17v1m4-28v1m1-1v1m1-5v1m0 36v1m2-34v1m2-1v1m0 24v1m1-29v1m1-1v1m2 30v4m2-6v8m1 1v1m1-1v1m1 0v1m2 0v1m1 0v1m3 2v1m1 0v1m3-15v1m3 8v1m1-10v1m1-20v1m0 18v1m0 8v1m1-10v1m0 8v1m1-22v1m0 11v1m0 8v1m1-19v1m0 7v1m0 9v1m1-10v1m1-1v1m0 8v1m1-10v1m0 8v1m1-1v1m3-1v1m1-10v1m0 8v1m1-42v1m0 31v1m0 8v1m1-43v1m0 32v1m0 8v1m1-43v1m0 32v1m0 8v1m1-43v1m0 32v1m0 8v1m1-10v1m0 8v1m1-10v1m0 8v1m2-10v1m1 8v1m2 1v1m1-2v1m1 0v1m2-12v1m0 7v1m1-7v1m0 4v1m1-6v1m0 4v1m1-6v2m0 2v2m1-20v1m0 13v2m0 2v1m1-4v4m0 5v1m1-9v2m3-6v1m7 0v1m1 3v1m1-1v1m1-5v1m4 1v1m3 10v1m1 1v1m2 1v1m1 0v1m1 1v1"/>
<path stroke="#8c0000" d="M248.5 299v1m1-5v1m1-3v1m0 21v1m1-29v1m0 27v1m1-31v1m1 0v1m1 29v1m1-17v1m0 15v1m1-32v1m0 14v1m1-1v1m1-12v1m1-4v1m0 30v1m1-1v1m2-32v1m0 14v1m1-1v1m1 16v1m2 0v1m2 0v1m2 0v1m1 0v1m1 0v1m3 3v1m1-4v1m3-6v1m4-25v4m1-3v3m4-4v1m0 2v1m1-4v2m0 1v1m2 21v1m1-1v1m3-39v1m2-1v1m1-1v1m0 2v1m1-4v1m0 2v1m8 35v1m1-2v1m1-2v1m1-24v1m0 2v1m1-8v1m4 1v1m0 5v1m1-9v1m0 25v1m1-26v1m0 24v1m1-1v1m1-1v1m1-23v2m0 2v1m1-9v1m0 8v1m1-10v1m0 8v1m1-1v1m0 15v1m1-1v1m1 0v1m1 0v1m1-1v1m2-4v1m5 9v1m1 1v1m1 1v1m1 1v1m1-1v1m1 0v1m1 1v1"/>
<path stroke="#a80000" d="M248.5 305v1m0 1v1m2-23v1m0 23v1m1-31v1m1-3v1m2 0v1m1 22v1m1-25v1m1 0v1m1 2v1m2-7v1m2 2v1m0 24v1m0 7v1m1-30v1m0 21v1m0 5v2m1-15v1m0 14v1m1 0v1m1 0v1m1-1v1m2 0v1m2 0v1m1 0v1m1 0v1m1 0v1m1 0v1m3-23v1m0 3v1m0 12v1m1-25v1m0 12v1m0 10v1m1-26v1m0 13v1m0 10v1m1-18v1m0 4v1m0 11v1m1-1v1m1-12v1m0 10v1m1-29v1m0 27v1m1-22v1m0 8v1m0 11v1m2-27v1m3 13v1m5-30v1m1-2v1m1-1v1m0 30v1m0 10v1m1-43v1m0 30v1m0 10v1m1-42v1m0 29v1m0 10v1m1-12v1m0 10v1m1-36v1m0 23v1m0 10v1m1-1v1m2 0v1m1 0v1m3-1v1m1-19v1m1-15v1m0 19v1m1-22v1m0 20v1m1-1v1m1-1v1m1-11v1m0 9v1m0 7v1m1-8v1m0 6v1m1-30v1m0 21v1m0 6v1m1-2v1m1-22v1m0 20v1m1-16v1m0 14v1m1-3v2m1-28v1m0 25v2m1-28v1m1-1v1m0 23v1m1-14v1m1 15v1m1 0v1m1-1v1m1-4v2m2-22v1m1 8v1m0 13v1m5 9v1m3 2v1m1 1v1"/>
<path stroke="#0a88f4" d="M249.5 249v1m0 10v1m0 1v1m2-13v1m0 6v1m6-3v1m2 3v1m3-7v1m1 2v1m0 2v1m1-9v1m0 7v1m0 18v1m1 6v4m2-12v1m6-25v1m4 28v1m0 5v1m3-40v1m2 12v1m0 12v1m0 1v1m5-4v1m4-23v1m0 13v1m0 13v2m9-32v1m0 11v1m5-6v1m1-4v1m5 3v1m0 3v1m8-15v1m0 5v1m7 44v2m1-28v1m0 16v1m0 1v1m0 6v2m1-36v1m0 2v1m2-1v1m0 4v1m0 2v2m1-12v1m1 15v1m4-5v1m2-24v1m1 2v1m0 5v1m0 1v1"/>
<path stroke="#11a5ee" d="M249.5 258v2m5 3v1m10-4v1m1 28v1m2-34v2m0 20v1m0 12v3m2-18v1m3-24v1m8 4v1m6 22v1m5-11v1m0 4v1m0 6v1m5-23v2m1-11v1m3 11v1m7-11v2m0 5v1m1-12v1m0 35v3m2-37v1m0 22v1m5-20v1m4-4v1m6 10v1m1 8v1m1-5v1m0 12v2m1-20v1m2-17v1m0 29v1m1-3v1m1 7v1m3-29v1m3 14v1m0 24v2"/>
<path stroke="#7d487c" d="M249.5 265v1m0 6v1m3-21v1m2 14v3m1-7v1m1-14v1m0 3v1m4 8v1m2-16v3m4 24v2m2-13v2m0 7v2m0 2v1m4-6v4m1-13v2m2 9v1m0 2v1m4-25v1m0 4v1m3-9v7m3 9v1m1 10v1m3-25v1m1-4v1m0 5v1m0 8v2m0 2v2m1-22v1m0 7v3m1 5v3m6-12v1m0 2v1m3-4v1m0 2v1m1 7v1m0 2v1m1 0v1m0 1v1m0 5v2m3-18v1m2 1v1m8-18v2m1 8v1m0 7v1m2-6v3m0 10v1m3-10v1m0 3v1m3-2v2m0 3v1m2-21v1m0 7v1m0 3v2m1-19v1m0 26v2m2-17v1m1-2v4m1 7v1m0 3v1m1-4v4m2-3v6m2-29v3m0 3v2m1-9v1m0 3v1m2 20v3"/>
<path stroke="#7b217b" d="M249.5 266v6m3-24v4m1-1v8m2 0v4m1-12v3m4 0v9m8 12v2m7-2v2m3-6v8m1-25v4m7 15v4m3-29v5m1-2v5m0 11v2m1-21v1m7 8v2m3-2v2m1 9v2m1 2v1m5-7v7m9-14v7m2 9v2m3-11v3m3 1v3m2-25v5m0 9v3m5 6v3m5-22v3m1-6v3"/>
<path stroke="#bde742" d="M249.5 274v1m1-15v1m2 7v1m3-16v1m1 12v1m1-1v1m2-3v1m2-3v2m2 10v1m2-11v1m0 12v1m1-15v1m2-8v1m4 50v1m3-43v1m2-17v1m3 4v1m1 33v1m2-21v1m4 9v1m6-25v1m0 1v2m8-10v1m3 33v1m1-32v1m4-3v1m0 19v1m4-19v1m0 24v1m1-11v1m2 3v1m3 14v1m1-32v1m2-2v2m0 21v1m2 4v1m1-4v1m1 0v1m1-22v1m1 37v1m1-43v1m0 20v1m4 4v1m0 22v1m1-48v1"/>
<path stroke="#d9ff26" d="M249.5 275v1m1-13v1m1 7v1m14 22v1m2 4v1m8-33v1m0 43v1m6-32v2m17-29v1m2 13v1m13 1v1m6 16v1m4-35v1m2-5v1m1 40v2m0 1v2m3-31v1m4 18v1m2 8v1m0 6v1m3 15v2m2-49v1"/>
<path stroke="#cdc432" d="M249.5 276v1m1-16v1m6 5v1m5-4v2m2 9v1m3-8v1m3-9v1m4 48v1m2-39v1m6-7v1m0 23v1m2-21v1m1-20v1m2 37v1m1-10v1m8-14v1m1-10v1m0 8v1m2-15v1m3-4v1m3 23v1m0 29v1m1 3v1m2-42v2m1 7v1m5-2v2m3-5v2m2 2v1m2-5v1m1-17v1m0 20v1m2-1v1m1 3v1m1 18v2m1-25v1m0 1v1m2 0v1m0 17v1m0 1v2m1-53v1m0 4v1m0 20v1m2 12v1m2-7v1m1-25v1m0 12v1m6-19v1m0 9v1"/>
<path stroke="#f4c20b" d="M249.5 277v1m2-6v1m4-18v1m1 12v1m1-2v1m4-1v1m5-3v2m6 41v1m4-2v1m7-38v1m1-22v1m2 39v1m1-10v1m0 31v1m2-34v1m4-11v1m8-19v3m7 44v1m0 2v2m1-52v1m0 30v1m4-12v3m7-15v1m0 9v2m1-20v1m3 14v2m0 8v1m0 2v1m2 22v1m1-1v1m2-38v5m4 35v1m0 5v1m1-43v1m5 48v1"/>
<path stroke="#f7a107" d="M249.5 278v1m3-23v1m11-9v1m3 49v1m7 11v1m3-3v1m3-43v1m2-3v1m2-11v1m0 16v1m1-24v1m0 30v1m3 1v1m6-8v1m5-12v1m4 9v1m1-20v1m1 19v1m0 5v1m2 24v1m2-7v1m1-48v2m0 14v1m0 12v1m0 1v1m2-11v2m2-23v1m1 28v2m1-7v1m6-25v2m1 23v1m1-1v1m1-1v1m9 32v1m1-45v1m0 1v1m6-16v1"/>
<path stroke="#ff8400" d="M249.5 279v1m7 25v1m2-31v1m0 33v1m2-41v1m7 31v1m1 2v1m4 4v1m10-27v1m6-4v1m0 30v1m5-45v1m1-2v1m2 0v1m1-3v1m1-1v1m0 21v2m11-11v1m1 36v2m11-40v1m9 5v1m3 32v1"/>
<path stroke="#f50c01" d="M249.5 283v1m2-9v1m0 28v1m0 1v1m1-4v1m1-32v2m5 3v1m2-7v1m0 33v1m1-35v1m0 38v1m1-3v1m3-10v1m2 4v1m1 1v1m1 0v1m1 1v1m3 3v1m1 1v1m2-3v1m1-8v2m4-52v2m0 35v1m2-11v1m1-2v1m2 10v1m1 15v1m2-28v1m0 27v1m4-34v1m1-7v1m2-3v1m1 17v2m1-21v1m2 1v1m4 37v1m2 1v1m3-49v2m0 1v1m1 48v1m1-36v1m1 0v1m3-1v1m1-2v1m1 0v1m5 26v1m1-28v1m9 29v1m0 5v1m1 0v1m6 3v1"/>
<path stroke="#e10000" d="M249.5 284v1m1 19v1m5-3v1m0 6v1m6-5v2m1 0v1m4-5v1m1 1v1m1 1v1m1 1v1m1 1v1m1 0v1m1 0v1m2 2v1m2-3v1m1-5v1m4-17v1m2-11v1m1 25v1m0 1v1m1-4v1m0 3v1m1-20v1m4 15v2m1-4v3m1-3v3m4-41v1m7 38v1m1 1v1m2 0v1m1-2v1m1-6v4m0 6v1m8-37v1m3 28v1m1-1v1m7-4v1m8 11v1"/>
<path stroke="#8a0000" d="M249.5 297v2m0 2v1m0 14v1m1-22v1m0 20v1m1-28v1m0 26v1m1-30v1m1 0v1m0 11v1m1-14v1m0 29v1m1-34v1m0 32v1m1-31v1m1 0v1m1 1v2m1-4v1m1-4v1m0 32v1m1-34v1m0 32v1m1-31v1m0 29v1m1-24v1m3 24v1m2 0v1m2 0v1m1 0v1m1 1v1m1 0v1m1 1v1m1 0v1m1-4v1m2-7v1m2-1v1m1-1v1m1-1v1m1-1v1m1-1v1m1-1v1m1-1v1m1-1v1m1-1v1m1-1v1m1-1v1m3-1v1m1-33v1m0 31v1m1-37v1m0 14v1m0 20v1m1-38v1m0 5v1m0 9v1m0 20v1m1-38v2m0 14v1m0 20v1m1-37v1m0 5v1m0 8v1m0 20v1m1-37v1m0 14v1m0 20v1m1-37v2m0 13v1m0 20v1m1-31v1m0 29v1m1-1v1m2 1v1m1 1v1m1-2v1m1-2v1m1-2v1m3-28v1m1 0v4m2 20v1m1-24v3m0 20v1m1-26v1m0 4v1m0 19v1m1-25v1m0 3v1m2 19v1m2-26v1m0 5v1m1-7v1m0 5v1m0 17v1m1-24v2m0 21v1m1-1v1m1 0v1m1 0v1m1-1v1m1-2v1m1-3v1m1-1v1m2 1v1m1 4v1m1 3v1m1 1v1m1 1v1m1 0v2m1-1v1m1 0v1m1 1v1"/>
<path stroke="#c00000" d="M249.5 305v2m1-24v1m0 19v1m2-2v1m1-1v1m2-31v1m1 2v1m1 0v1m1 2v1m2-7v1m3 6v1m1 14v1m2 12v2m1 0v1m3 2v1m1 0v1m2 1v1m2 1v1m3-13v1m0 5v1m1-6v1m0 4v1m1-25v1m0 23v1m1-7v1m3-23v1m0 21v1m0 6v1m1-22v1m0 13v1m2-21v1m0 19v1m1-1v1m1-23v1m0 21v1m1 6v1m1-12v2m2-16v1m0 17v1m0 6v1m1-8v1m0 6v1m1-42v1m0 33v1m0 6v1m1-8v1m0 6v1m1-8v1m0 6v1m1-8v1m1-35v1m2 5v1m2 34v1m2 1v1m1-2v1m2-1v1m1-19v1m0 4v1m0 5v2m0 2v1m1-29v1m0 25v2m1-29v1m6 25v1m1 0v1m3-5v1m5 2v1m4-22v1m1 8v1m1 9v1m2 11v1m5 4v1"/>
<path stroke="#2fdccf" d="M250.5 248v1m4-1v1m3 15v1m2-4v1m5 0v1m0 18v1m3-22v2m0 21v3m1-16v1m0 10v1m1-33v1m0 19v1m0 23v2m1-9v1m3 8v2m0 4v1m1-25v1m1 4v2m0 4v2m2-37v3m0 38v1m1-40v2m3 18v1m1 3v1m4-28v1m1 23v1m1-26v1m1 10v2m0 10v1m2-2v1m1-19v1m0 17v1m8-15v2m2 3v1m1 3v1m2 12v1m1-2v1m0 6v1m1-5v1m0 8v1m1-42v1m2-4v2m0 26v1m7-6v1m2-1v1m2-24v1m0 24v1m3-15v1m1 5v1m1 8v1m0 23v1m2-14v1m0 7v1m2-28v1m1 10v1m3 18v1m2-16v2m0 26v1m1-31v1m0 19v1m1-18v2m0 23v2m1-57v2m0 59v1m1-31v1"/>
<path stroke="#00c4ff" d="M250.5 249v1m7 3v1m14 41v1m1 4v1m1-17v2m1 20v1m4-47v1m8-6v1m2-3v1m30 3v1m4-1v1m5 28v2m12-10v1m1 10v1"/>
<path stroke="#0094ff" d="M250.5 250v1m0 5v1m7 6v1m12 8v1m0 2v1m1 1v1m0 18v1m0 4v1m1-1v1m17-48v1m3 23v2m0 2v1m8-33v1m6 7v1m1-2v1m0 42v1m1-12v1m11-19v1m9-1v1m7-23v2m1-1v1m2 10v2m1 6v1m0 10v1m1 15v1m1-16v1m0 8v1"/>
<path stroke="#0063ff" d="M250.5 252v3m10-5v1m2 3v1m0 4v1m8 16v1m10-29v1m56 10v1m3 34v1m1-15v1m0 10v1"/>
<path stroke="#0fdcf0" d="M250.5 257v1m1 6v1m10-17v1m6 0v1m0 36v1m0 9v1m1-28v1m1-20v2m0 37v4m0 4v1m0 2v1m2-7v1m1 7v1m2 2v1m1-26v2m2 8v1m3-34v1m6 26v1m2-33v1m0 8v1m3 3v1m9-1v1m4 33v1m1-40v1m0 22v2m2-33v1m0 38v1m1-9v1m1-12v1m1-23v1m4 12v1m2-10v1m2 3v1m5-10v1m4 45v1m7-44v1m0 20v1m5-17v1m0 52v1"/>
<path stroke="#47ffb8" d="M250.5 258v1m15-3v1m1 0v1m1-10v1m2 36v2m1-6v4m0 18v1m2-9v1m2 8v1m1-18v1m0 20v1m2-17v2m2-20v1m1 3v1m9-3v1m1-1v1m15 10v1m0 5v1m2-1v1m1-13v1m12-30v1m5 27v1m5-16v1m1 12v1m2-26v1m3 29v2m1 3v1m0 22v1m2-57v1m0 58v1m1-30v2"/>
<path stroke="#9bfa64" d="M250.5 259v1m13 6v1m0 6v1m2-8v1m0 26v1m3-37v1m0 39v1m1 5v1m3 2v1m2-34v1m0 24v1m1 11v1m1-51v1m5 17v1m1 2v1m1-19v1m1 1v1m4 0v1m1-10v1m7 0v1m0 6v1m8 17v1m0 18v1m1-40v1m0 14v1m0 27v1m8-30v1m1-13v1m3 7v1m7-1v1m1 16v1m3-9v1m3-33v1m0 29v2m0 1v1m1-22v1m1 23v4m0 12v1m2-18v2m0 20v1m0 5v1m2-10v1m0 1v1m0 7v1m3-5v1"/>
<path stroke="#50f9af" d="M250.5 266v2m5-19v3m14 50v1m3 1v1m1-26v1m0 17v2m1-23v1m1 7v3m0 18v1m3-54v1m6 4v1m4-10v2m1 11v1m1 15v1m2-22v1m10 8v1m1-8v1m2 2v1m0 18v1m1-31v1m6 4v1m5 16v1m9 28v1m1-4v1m0 2v1m1-8v1m6-23v1m0 9v1m2 16v4m2-19v2m0 24v1m1-9v1m0 3v1m1 5v1"/>
<path stroke="#40bdbe" d="M250.5 268v1m4-10v1m0 2v1m3-12v1m8 38v2m2-30v1m0 16v4m1-15v1m0 20v1m1-12v1m2-1v1m0 14v1m2-43v1m0 48v1m0 5v1m2-28v1m0 10v1m1 3v1m1-39v1m0 38v3m1-41v2m3 15v1m4 6v1m1-31v1m3 14v3m0 4v1m1-26v1m1 25v1m9-18v2m3 29v1m2 15v1m1-24v1m0 4v1m0 12v1m1-38v1m1 27v2m1-19v1m3-17v1m3-5v2m1 0v1m1 13v1m2 12v1m5-25v1m4 33v1m2-14v1m4-5v1m0 14v2m2 11v3m0 2v1m1-31v1m0 18v2m1-5v2m0 7v4m1-56v1m0 30v2m1 29v3"/>
<path stroke="#d1a22d" d="M250.5 278v1m2-24v1m1 5v1m10-13v1m5 4v2m9 45v1m1-13v1m1-25v1m1 17v1m1-32v1m1 29v1m1-28v1m5 23v1m8-24v1m2 5v1m5 14v1m6-1v1m0 6v1m4-24v1m3 11v2m4-20v1m0 1v2m0 14v2m4-7v2m1 7v1m1-1v1m2 20v1m1-50v4m0 17v4m1 8v1m1 5v1m3-24v1m1 0v1m5-6v1"/>
<path stroke="#d00000" d="M250.5 282v1m1 20v1m0 4v1m1-35v1m1 34v1m1-1v1m1-39v1m1 30v1m5 1v1m1 1v1m5 0v1m1 1v1m1 1v1m1 0v1m1 0v1m1 0v1m1 0v1m3-1v1m1-4v1m1-4v2m2-2v2m1-3v4m1-4v4m1-4v4m1-4v1m1-18v1m0 16v1m1-2v1m1 0v1m1-25v1m1 28v1m1-7v1m1 4v1m1-8v1m0 6v1m1-6v1m1 0v1m0 2v1m1-4v1m0 2v1m1-4v1m0 2v1m1-4v1m0 2v1m1-42v1m0 37v1m0 2v1m1-41v1m0 36v4m1-4v4m1-3v2m1-3v3m1-7v2m3 7v1m2-3v1m7 4v1m1-36v1m1 25v1m4-27v1m1-1v1m3 21v1m2 3v1m5-3v1"/>
<path stroke="#b00000" d="M250.5 284v1m1 24v1m1-34v1m2 33v1m2-35v1m2 3v1m2 21v1m2-26v1m1 31v1m1-4v4m1 1v1m2 1v1m2 0v1m3 1v1m1 0v1m3-1v1m2-14v1m0 9v1m1-10v1m0 8v1m1-10v1m0 8v1m1-11v1m1 9v1m3-11v1m3-19v1m2 17v1m1 10v1m1-1v1m7-43v1m1 12v1m1 18v1m0 8v1m1-1v1m2 0v1m6-10v1m0 6v1m1-31v1m0 22v1m0 6v1m1-1v1m1-8v1m0 5v1m1-19v1m0 12v1m0 4v1m1-5v1m0 2v1m1-29v1m0 24v4m1-3v2m2-15v1m2-14v1m1-1v1m3 23v2m1 2v1m1-1v1m1-5v1m4 9v1"/>
<path stroke="#d20000" d="M250.5 307v1m3-33v1m3-2v1m1 0v1m1 2v1m1 24v1m1-32v1m0 30v1m6 0v1m1 1v1m1 1v1m1 1v1m6 6v1m2-7v1m7-3v1m2-2v1m2-1v1m1-1v2m1-2v2m0 2v1m1-7v2m0 3v1m1-11v1m0 4v2m0 3v1m1-4v4m1-3v2m1-40v1m0 37v2m1-2v2m1-41v1m0 38v2m1-2v2m5-5v3m0 1v2m1 0v1m1 1v1m2-3v1m1-3v1m1 3v1m1-33v1m1-2v1m4 33v1m4-22v1m0 10v1m1-1v1m6 0v1m2-4v1m8 15v1m1 1v1m1-1v1m1 0v1"/>
<path stroke="#042bf6" d="M251.5 253v2m10-3v2m6 17v1m0 3v1m3-4v1m0 1v1m1-16v1m5 9v5m1-4v1m0 4v1m8-1v1m2-13v1m0 6v3m7-25v1m0 3v1m1-5v2m0 1v1m11 19v1m4 1v1m5-13v1m0 7v1m2-20v1m6 12v1m5-12v1m10 10v2m1-5v2m0 7v2m0 2v2"/>
<path stroke="#0551f6" d="M251.5 256v1m6 0v1m4-7v1m0 3v1m1 2v1m5 11v1m0 5v1m3-29v2m0 2v1m1 7v1m4-10v1m1 15v1m0 8v1m1-12v4m0 16v2m2-38v1m1 10v2m2 4v1m5-3v1m0 3v1m0 4v1m1-17v1m3 10v1m3-16v1m6-6v1m2 0v1m4 20v1m1 4v1m4-16v1m1 2v1m0 3v1m0 2v1m2-13v1m0 1v1m1-2v1m0 10v1m2-22v1m2 6v1m0 10v2m2-1v1m2-1v1m1-16v1m2 15v1m0 1v1m2-18v1m2 15v1m1-2v1m0 3v1m2-12v1m2-5v1m1-10v1m0 4v1m0 9v3m2-10v4m0 6v1m1-9v1m0 16v1m0 15v1"/>
<path stroke="#14b5eb" d="M251.5 258v1m3-10v1m0 7v1m4-1v1m4 4v1m2-2v1m3 1v1m0 30v1m2-16v1m4 6v2m1-3v1m2 0v1m1-6v1m0 7v1m1-31v1m0 3v1m4 14v1m3 1v1m1 1v1m3-19v2m2 9v1m1-22v1m3-1v1m5 6v1m4 35v1m1 5v1m1-46v1m1-6v1m0 2v1m1 28v1m2-35v1m5 3v1m1-3v1m1 16v1m1-4v1m1-18v3m7 13v1m1 21v1m0 5v1m1-34v1m0 10v1m0 13v1m2-20v1m2-20v1m1 19v1m1 23v2m2-20v1m0 5v1m2 0v1m0 19v2m1 8v1m1-30v1"/>
<path stroke="#5ed8a0" d="M251.5 259v1m0 2v1m2-15v1m4 1v1m1 11v1m0 2v1m0 5v1m3-12v1m3 21v1m1-26v1m3 32v1m1-43v1m2 30v1m5 15v1m1-44v1m2 23v1m1 0v1m2-18v1m2-7v1m5 14v4m1 6v1m13-19v1m0 30v1m1 0v1m1-46v1m0 18v1m1 23v1m1-23v1m0 12v1m1-31v1m0 41v1m7-43v1m1 15v1m6 5v1m3 10v1m4-28v2m0 18v1m4-25v1m1 24v1m0 3v2m0 2v3m0 7v2m0 4v1m0 2v1m2-15v1m0 4v1m1-4v2m1-3v1"/>
<path stroke="#34f6cb" d="M251.5 263v1m15-4v1m3-8v1m0 33v1m0 7v1m1-16v1m0 4v1m2-25v1m0 41v1m1-24v1m3-25v1m2-4v1m1 21v1m1-25v1m4 3v2m2 28v1m1-33v1m1-4v1m0 11v1m15-4v2m0 6v1m0 21v3m1 8v1m8-26v1m6-17v1m0 13v1m2-25v1m2 6v1m2 4v1m1 21v1m2 12v1m7 7v2m2-21v1m0 4v1m1 9v1m2-47v1m0 1v1m0 23v2m0 19v1m0 5v1m1-24v1"/>
<path stroke="#b30703" d="M251.5 278v1m12 2v1m1 14v1m14-1v2m1-8v1m1-2v1m2-2v2m2-5v1m3 1v2m2-4v1m1 6v1m3-4v1m1-16v1m6-2v1m1 5v1m1 8v2m7 7v2m0 1v1m0 2v1m1-20v1m2-2v1m3-1v1m2-1v1m1 6v1m2-5v2m3-5v1m1 9v2m0 4v2m5-12v1m0 9v2m1-13v1m1 8v1"/>
<path stroke="#ff2200" d="M251.5 305v1m1 1v1m1-38v1m4 33v1m1-1v1m3 2v1m15 4v1m9-3v1m1 2v1m9-45v1m2-2v1m7 38v1m1 3v1m1-4v1m4-29v1m1-3v1m3 36v2m3-38v1m1 26v1m2-30v1m6 26v1m1-1v1m11 14v1"/>
<path stroke="#ff9400" d="M252.5 270v1m0 34v1m1-2v1m0 1v1m5 1v1m12-3v1m1 0v1m4 5v1m11-24v1m1 19v1m11-47v1m14 13v1m7 11v1m6 4v1m8 10v1m1-40v1m2 49v1"/>
<path stroke="#f10000" d="M252.5 308v1m1-1v1m1-1v1m3-6v1m1-1v1m1 0v1m1-1v1m6-3v1m5 8v1m4 4v1m11-8v1m9-40v1m9 38v1m2 1v1m1-3v2m2-47v1m1 16v1m9 11v1m7 11v1m1-1v1m10 14v1m1-1v1"/>
<path stroke="#ffc400" d="M253.5 305v1m2-2v1m0 1v1m4 1v2m1-2v2m7-10v1m1 2v1m6 8v1m38 2v2m7-28v1m0 17v1"/>
<path stroke="#14f6eb" d="M254.5 258v1m12 0v1m3-8v1m0 43v1m0 4v1m1-23v1m0 8v1m2 7v1m1-16v1m5-28v1m0 10v1m3 10v1m5-24v1m19 40v1m1-44v1m2 30v1m1-12v1m3-16v1m13 25v1m1-18v1m10 22v1m0 21v1m1-31v1m2-2v1m0 20v1m0 8v1m1-22v1"/>
<path stroke="#a00000" d="M254.5 279v1m2-2v1m1 32v1m5-33v1m1 33v1m6 2v1m12-1v1m1-26v1m1 24v1m1-29v1m0 27v1m2-18v1m1-10v1m3 11v1m5-28v1m3 27v1m0 12v1m1-14v1m0 12v1m1-14v1m1-1v1m1-14v1m5 26v1m3-32v1m1-2v1m0 18v1m5-20v1m3 18v1m1 8v1m1-29v1m3 15v1m1 11v1m3-2v1m2-23v1m0 23v1m1-15v1m9 27v1"/>
<path stroke="#ffb400" d="M254.5 304v1m25-35v1m2 19v1m5 21v1m7-45v1m2-2v1m5 0v1m5 39v1m6 6v2m3-37v1m6 26v1m1-54v1m3 23v1m1 15v1m13 22v1"/>
<path stroke="#ffd500" d="M254.5 305v1m4-32v1m2-7v1m5 26v1m1 1v1m9 14v1m35-35v1m15 14v1m8 21v1m7-52v2"/>
<path stroke="#ff4300" d="M254.5 307v1m2-37v1m0 35v1m1-3v1m1-30v1m2 33v1m6-11v1m4 6v1m11-54v1m4 57v1m3-32v1m0 28v1m6-47v1m2 3v1m9 41v1m4 4v1m6-38v1m6-1v1m13 38v1"/>
<path stroke="#77ff88" d="M255.5 252v1m15 39v1m1-12v2m1-1v2m2-13v1m0 3v1m0 19v2m1 0v2m12-48v1m2 8v1m1 13v1m14 10v1m0 6v1m1-14v1m0 12v1m3-13v1m0 14v1m5-30v1m0 11v1m8-30v1m1-1v1m4 32v1m5-32v1m0 27v1m4 2v1m2 8v1m0 10v1m0 5v1m1 2v1m2-43v1m0 31v2m0 8v1"/>
<path stroke="#fff500" d="M255.5 305v1"/>
<path stroke="#ff7300" d="M256.5 270v1m0 35v1m5-38v1m5 29v1m7 11v1m1 1v1m2-5v1m3-42v1m2-16v1m2 26v1m3 29v1m16-36v1m0 1v1m3 31v1m4-31v1m1-1v1m6-4v1m1-1v1m2 31v1m2-2v1m4-12v1m10 20v1m2 0v1"/>
<path stroke="#6cf993" d="M257.5 249v1m0 15v1m1 6v1m4-9v1m1 4v1m0 1v1m1-9v1m1-9v1m3 3v1m0 31v1m3-12v1m0 2v1m1-22v1m1 44v1m1 2v1m1-8v1m0 5v1m1-53v1m0 38v1m1-46v1m1-2v1m0 33v2m1-13v1m3 6v1m2-15v1m2 19v1m5 0v1m1-31v1m9 4v1m0 3v1m2-10v1m4 36v1m6-16v1m7-19v1m1 12v1m1-27v1m4 34v1m0 12v1m2-14v1m1-24v1m1 2v1m0 16v1m2-22v1m1 31v1m0 6v1m2-18v1m2 8v1m0 1v1m0 16v1m3-10v1"/>
<path stroke="#14c5ea" d="M257.5 252v1m2 7v1m5 19v1m3-31v6m0 3v1m0 35v1m2-16v1m3-21v1m1-2v1m0 28v7m0 7v1m0 2v1m1-28v1m2-24v1m1 22v3m1-17v1m2-15v1m2 10v1m4 21v1m1-30v1m0 20v1m4-4v1m5-13v1m0 2v1m8 34v1m1-17v1m2 18v2m1-19v1m4-11v1m6-3v1m10-11v2m6 10v1m0 19v2m5 16v1"/>
<path stroke="#00b4ff" d="M257.5 254v1m4-6v1m6 8v1m0 29v1m1-6v1m1-13v1m0 26v2m3-2v2m2-21v6m0 22v1m2-54v1m0 30v1m2-25v2m27-4v1m0 35v1m1-17v1m0 23v1m1-47v1m0 32v1m16-34v1m4 26v2m7-35v1m4 18v1m0 29v1m1-3v1"/>
<path stroke="#69788b" d="M258.5 251v2m5 8v1m1 9v2m4-1v1m3-10v1m0 9v1m2 0v1m1-21v4m1 20v1m2-19v1m5 11v1m3-5v1m1-7v1m2 10v1m2-25v1m0 14v1m3-17v3m5-2v2m1 5v3m5 6v1m2-6v1m7 26v1m1-33v1m2-5v1m0 12v1m3 13v1m3-15v1m0 5v1m3-15v1m2 10v1m1-19v1m2 8v1m1 5v1m4-2v1m2 3v3m3 6v1"/>
<path stroke="#00a4ff" d="M258.5 256v1m2-9v1m7 40v2m1-7v2m4-27v1m1 43v2m3-22v2m1-8v1m9-22v1m2 3v1m18-8v1m1 4v3m0 24v1m7-24v1m4-7v1m1-8v1m4-2v1m4 21v1m3 4v1m4-28v1m1 0v1m0 1v1m3 46v2m1-3v1"/>
<path stroke="#37ffc8" d="M258.5 263v2m9 32v1m3-8v1m0 3v1m1 8v1m4 2v2m31-20v1m22-5v1m6-5v2m1 28v1m0 1v1m1-1v1m1-26v1m3-1v1"/>
<path stroke="#5ceba2" d="M259.5 262v1m4 7v1m2 21v1m1 0v1m3-40v1m4 22v1m0 21v1m5-34v1m2-11v1m4 10v1m4-5v1m2 14v1m1-15v1m5-6v1m0 4v1m9 40v1m1-16v1m1 9v1m0 2v1m2-34v1m5-7v1m4-5v1m1 22v1m4-34v1m1 11v1m1 21v1m1 12v1m3-41v1m0 19v1m3-22v3m1-7v1m3 38v1m0 6v1m1 11v1m1-25v7m1 10v3m1-36v1"/>
<path stroke="#a8ff57" d="M259.5 263v1m4 1v1m5 27v1m0 6v1m1-45v1m1 47v1m2-20v1m0 7v1m4-35v1m4 13v1m1 9v1m2-20v2m3 21v1m2-23v1m1-8v1m3 0v1m0 1v1m11-6v1m1 31v1m0 1v1m1-27v2m2 30v1m1-1v1m5-29v1m1 9v1m4-5v1m3 0v1m1-25v1m1-1v1m3 28v1m0 5v1m3-32v1m2 28v1m2 0v1m1-31v1m1 31v2m0 12v1m0 6v2m2-5v1m0 9v1m1-4v1m2-45v1m0 37v2m0 1v1"/>
<path stroke="#ff0200" d="M259.5 305v1m13 6v1m33-1v1m2-5v1"/>
<path stroke="#c8ff37" d="M260.5 267v1m5 8v1m4-20v1m2 47v1m1-28v1m0 10v2m2 9v2m0 9v1m1-46v1m1 36v2m4-34v2m1 6v1m8-2v1m4-24v1m14 42v2m13-40v1m1-11v1m1 1v1m1 1v1m3 33v1m2-8v1m3 3v1m2-3v1m1 31v1m1-26v1m0 8v1m3 13v1m1 3v1"/>
<path stroke="#0053ff" d="M262.5 255v2m8 40v1m0 2v1m1-4v1m0 2v1m1-46v1m0 1v1m50 4v1m17 30v1m1-16v1m0 15v1"/>
<path stroke="#26ffd9" d="M262.5 263v1m4-6v1m3 25v1m0 3v1m1-2v1m0 1v1m3-30v1m1 48v1m3-19v1m12-17v1m16 10v1m2-36v1m13-2v2m3 4v1m1 3v1m10-8v1m2 32v1m0 2v1m1-4v1m1 22v1m1-2v1"/>
<path stroke="#960200" d="M263.5 284v1m24 8v1m3 1v5m3-8v1m1-14v2m7 1v3m1 15v2m8-15v2m2-3v1m3 0v3m2-2v1m3 1v3m3-6v3m1 12v1m6-11v2"/>
<path stroke="#910609" d="M263.5 285v3m30 5v3m9-5v6m10-10v1m17 4v5"/>
<path stroke="#910200" d="M263.5 288v2m30 6v4m1-19v2m7 2v1m1 12v2m8-11v3m2-4v3m3-1v2m8-2v1m6 6v1m1-4v1"/>
<path stroke="#8b0200" d="M263.5 290v4m31-11v5m8 9v1m8-6v3"/>
<path stroke="#67ff98" d="M266.5 256v1m2 3v1m4 44v1m1-28v1m5-28v1m2 27v1m7-28v1m5 19v1m8-7v1m5 21v1m29-35v1m0 56v1m3-19v1m2 21v1"/>
<path stroke="#57ffa8" d="M266.5 261v1m4 29v1m5 12v1m6-28v1m9-3v1m16 13v1m14-42v1m7 48v1m3-34v1m7 24v1m0 11v1m0 10v1"/>
<path stroke="#98ff67" d="M266.5 262v1m2 29v1m8 4v1m28-11v1m0 3v1m22-7v1m0 9v1m8 14v1m1-27v1m0 17v1m1 10v1m4-9v1"/>
<path stroke="#eaf815" d="M266.5 296v1m3-39v1m0 45v1m7 0v1m17-35v2m30-20v1m3 37v1m2-12v1m7 11v5m0 19v1m1-1v1"/>
<path stroke="#0000f1" d="M267.5 273v1m4-17v1"/>
<path stroke="#00d4ff" d="M267.5 287v1m1-6v1m1-2v1m1-4v1m0 16v1m2 1v1m0 3v1m1-19v1m1 24v1m32-57v1m1 31v1m28-37v1m4 50v1"/>
<path stroke="#b8ff47" d="M268.5 294v1m0 1v1m4-18v1m0 6v1m2 12v1m0 2v1m2-5v1m3-27v1m1-3v1m3-5v1m21 22v1m1-38v1m2 44v1m1-19v1m16-16v1m5-3v1m5 50v1m1-25v1m0 10v1m0 13v2m1-2v1m1 1v1m3-9v1"/>
<path stroke="#88ff77" d="M268.5 298v2m6-3v1m1 1v3m14-25v1m16 12v2m1 12v1m6-29v1m10-27v1m0 4v1m13 47v1m0 2v1m2 6v1m2 2v1m1-13v1"/>
<path stroke="#00e5ff" d="M269.5 270v1m0 11v1m1 19v1m1-1v1m2-21v1m13-29v1m19 30v1m30 25v1m1-1v1"/>
<path stroke="#06fff9" d="M269.5 283v1m68 0v1"/>
<path stroke="#ffe500" d="M270.5 305v1m1 0v1m5-1v1m10 4v1m22-35v1m11 10v1m14 24v2m4 2v1"/>
<path stroke="#0000e1" d="M271.5 253v4m14 16v1m2-14v1m15-3v1m4 14v3m4-10v1m0 3v1m5-6v3"/>
<path stroke="#0002ff" d="M277.5 272v2"/>
<path stroke="#281dc9" d="M302.5 251v2"/>
<path stroke="#0000d0" d="M302.5 253v5m8 9v3"/>
<path stroke="#c0482e" d="M309.5 294v1"/>
<path stroke="#16ffe9" d="M325.5 281v1m11 5v1m1-3v1"/>
<path stroke="#e9ff16" d="M335.5 297v1"/>
<path stroke="#00f5ff" d="M337.5 281v3"/>
<path stroke="#f9ff06" d="M338.5 316v1"/>
</g>
<path d="M283.0 249.2H285.0M252.0 261.2H254.0M293.0 261.2H295.0M297.0 261.2H299.0M293.0 265.2H295.0M297.0 265.2H300.0M252.0 269.2H254.0M255.0 269.2H258.0M260.0 269.2H263.0M278.0 269.2H280.0M293.0 269.2H301.0M334.0 269.2H336.0M251.0 273.2H258.0M259.0 273.2H263.0M293.0 273.2H303.0M251.0 277.2H264.0M293.0 277.2H305.0M308.0 277.2H310.0M311.0 277.2H313.0M315.0 277.2H319.0M320.0 277.2H327.0M249.0 281.2H264.0M283.0 281.2H285.0M287.0 281.2H290.0M293.0 281.2H303.0M309.0 281.2H313.0M314.0 281.2H319.0M320.0 281.2H324.0M248.0 285.2H264.0M279.0 285.2H281.0M282.0 285.2H286.0M287.0 285.2H291.0M293.0 285.2H303.0M309.0 285.2H313.0M314.0 285.2H319.0M320.0 285.2H325.0M329.0 285.2H331.0M247.8 289.2H265.0M278.0 289.2H281.0M282.0 289.2H291.0M293.0 289.2H303.0M309.0 289.2H325.0M329.0 289.2H332.0M247.8 293.2H265.0M278.0 293.2H291.0M293.0 293.2H303.0M309.0 293.2H326.0M329.0 293.2H332.0M247.8 297.2H267.0M278.0 297.2H304.0M309.0 297.2H326.0M328.0 297.2H332.0M247.8 301.2H268.0M277.0 301.2H304.0M308.0 301.2H326.0M328.0 301.2H333.0M247.8 305.2H271.0M277.0 305.2H305.0M306.0 305.2H334.0M247.8 309.2H273.0M276.0 309.2H334.0M247.8 313.2H334.0M247.8 317.2H339.0M247.8 321.2H340.3M247.8 325.2H340.3M247.8 329.2H340.3M247.8 333.2H340.3M247.8 337.2H340.3M247.8 341.2H340.3" stroke="#000" stroke-opacity="0.8" stroke-width="1.25" stroke-dasharray="1.5 0.45" fill="none"/>
<path d="M247.8 307.0 L249.5 313.5 L252.0 318.5 L255.0 323.5 L259.0 328.5 L264.0 334.0 L270.0 339.0 L276.0 342.8 L283.0 345.5 L303.0 345.5 L308.0 343.5 L314.0 340.5 L321.0 336.0 L327.0 330.0 L332.0 325.0 L336.0 320.0 L338.5 316.0 L340.3 312.0" stroke="#fff" stroke-width="1.1" stroke-dasharray="2 2" fill="none" stroke-opacity="0.9"/>
</g>
<rect x="247.8" y="248.2" width="92.50" height="97.10" fill="none" stroke="#444" stroke-width="0.5"/>
<clipPath id="wc2"><rect x="408.2" y="247.5" width="93.80" height="97.80"/></clipPath>
<g clip-path="url(#wc2)">
<g stroke-width="1" fill="none">
<path stroke="#7d487c" d="M408.5 247v1m0 9v1m0 5v1m0 11v1m0 10v1m3-35v2m2-6v1m0 1v1m0 23v1m0 3v1m3-26v4m1-1v1m1-3v2m1-9v2m1-2v1m1 5v3m0 20v1m3-29v6m0 2v2m2 4v8m1-20v1m0 18v1m0 2v1m3-22v2m1-3v3m0 25v3m2 2v1m1-30v1m0 2v1m0 23v1m1-15v3m1-23v1m1 25v1m1 4v1m2-28v1m0 9v1m2 0v1m0 6v3m0 2v2m1-15v1m1-2v2m0 14v1m2-6v1m0 3v1m6-29v4m1 30v2m1-24v3m1-1v1m0 8v3m1-20v1m1 8v5m5-4v2m0 24v1m0 9v1m3-50v1m0 2v1m1-2v6m0 21v2m0 2v1m1 1v1m1-38v6m0 2v1m0 12v3m0 7v4m2-31v2m4 24v1m0 2v1m1-13v3m1 5v2m3-19v3m1 13v2m2-25v1m3 2v1m0 7v1m2-11v3m0 7v1m0 5v1m0 8v1m0 5v1m6-23v5m2-17v1m4 10v1m2 10v1m0 1v1m0 5v2"/>
<path stroke="#7e627d" d="M408.5 248v1m0 19v1m0 16v1m0 1v5m2-43v1m0 15v2m1-16v1m0 2v1m5 2v1m1-3v1m0 6v1m2-14v1m1-2v1m0 30v3m1-30v1m0 22v1m0 25v1m1-20v3m2-38v1m2 13v1m1 11v1m1 0v2m2-26v1m1 2v1m0 5v2m0 16v1m2-3v1m1-29v1m0 5v1m0 25v2m0 1v1m1-17v1m0 3v1m1-23v2m1 22v1m0 1v1m0 6v1m1-24v2m0 17v1m5-18v1m0 4v1m1-19v2m0 10v1m2-13v1m0 22v1m1-6v2m6 16v1m1-12v2m1-14v1m0 1v1m0 6v1m1-18v1m0 1v1m1 4v3m0 5v1m2-21v2m0 22v3m1-5v2m2-9v1m0 2v2m0 21v1m3-40v1m0 4v1m1-4v1m0 6v1m0 19v1m0 5v1m1-35v1m0 6v1m0 26v1m0 1v3m1-42v1m0 20v1m0 3v1m0 10v2m1-14v5m1-25v1m0 2v1m1 11v4m1-23v1m2 34v1m1-32v1m0 7v2m1 0v2m0 6v1m1-23v1m0 9v2m0 13v3m1-21v1m1 4v1m0 3v1m1 11v1m0 2v2m1 4v3m1-35v1m0 1v1m3 10v1m1 24v1m1-38v1m0 9v1m6-2v1m0 5v1m0 11v1m2-31v1m0 1v1m1 22v1m3-15v1m2 3v3m0 4v1m0 7v1m0 2v1"/>
<path stroke="#828a7c" d="M408.5 249v1m0 27v1m1-14v2m1 2v1m1-20v1m0 7v2m1 32v2m0 5v3m1-28v1m1 9v1m1-9v1m2-22v1m1 49v2m3-22v2m0 18v1m1-51v2m0 24v1m2-22v1m0 8v1m2-11v2m0 39v2m1-33v1m1 3v1m1 13v1m2-29v1m1 8v1m2-10v1m0 25v1m1-36v1m0 2v1m0 4v2m0 1v1m0 10v1m2-25v1m0 27v1m0 3v1m1-23v1m0 3v1m2 19v1m2-29v2m0 6v1m1-10v3m0 17v1m1-24v1m0 7v1m2 18v1m2-20v1m1-6v1m2 11v2m2-8v3m2-2v1m0 3v1m0 4v1m1-19v1m0 12v2m1-17v1m1 8v2m0 3v1m0 3v1m2 0v1m0 7v1m0 16v1m0 2v1m1-33v2m0 3v3m0 2v1m3-27v1m1 8v1m0 4v1m1-2v1m0 24v1m2-23v2m0 2v1m1-14v1m0 1v1m1-2v1m1 8v1m1 3v1m3 4v1m0 3v2m2-24v1m0 15v1m0 3v1m3-22v2m0 24v1m2-30v1m0 3v1m1-4v1m2-3v1m1 1v2m1 3v1m0 4v1m6-3v1m0 8v1m0 12v1m2-30v1m0 14v2m0 15v2m1-14v1m2-14v2m0 20v1m2-34v1m0 1v1m0 23v1m1 0v1"/>
<path stroke="#699f96" d="M408.5 250v1m1 11v1m2 32v1m1-6v1m3-6v1m0 12v1m1-39v1m3 2v1m0 36v1m1-50v1m0 13v1m2 35v1m2-6v1m0 4v1m1-10v1m1-22v1m1 22v1m1-48v1m0 20v1m2-6v1m3 38v1m2-56v1m1 23v1m1 11v1m1 2v1m4-32v2m5-3v1m6 2v1m0 5v1m0 8v1m2 8v1m5-6v1m0 19v1m2-47v1m6 7v1m0 3v1m0 36v1m1 0v1m1-1v1m4-25v1m1 22v1m5-42v1m2 41v1m2-1v1m2-5v1m1 4v1m2-37v1m1 20v2m1-23v1m1 26v5m2-18v1m4 16v3"/>
<path stroke="#14b5eb" d="M408.5 251v1m0 2v1m1 5v1m0 38v1m1 1v1m1-14v1m0 14v1m1-46v1m0 29v1m1-3v1m0 12v2m6-3v1m1-44v1m5 5v1m0 39v1m1-8v1m4-36v1m1 32v1m15-15v1m7-12v1m1-15v1m0 34v1m1-23v1m6-10v1m2 3v2m2 12v2m4 3v1m3 19v1m1-16v1m0 7v1m7 3v1m3-48v1m8 40v1m4 23v1m1-66v1m1 48v1m3-30v1m1 45v1"/>
<path stroke="#00b4ff" d="M408.5 252v1m13 16v1m2 33v1m1-26v1m4-28v1m0 3v1m0 1v1m0 36v1m3 0v1m2-6v1m19-14v1m2-23v1m0 29v1m13 11v1m4-17v2m0 17v1m5 0v1m8-39v1m3-15v1m3 40v1m1 8v1m3-7v1m0 6v1m0 14v1m7-1v1"/>
<path stroke="#00a4ff" d="M408.5 253v1m6 15v1m4 27v1m5 1v2m5-45v1m1 8v1m4 23v1m4-34v3m4 11v1m25 28v1m1-24v1m0 22v1m4-1v1m3-14v1m8 6v4m1-19v1m0 8v1m7 25v1m6-63v1m0 63v1m1-16v1m0 15v1"/>
<path stroke="#43a0bc" d="M408.5 255v1m0 9v1m0 36v2m1-48v1m0 4v1m0 10v2m1-24v1m0 19v1m0 12v1m0 15v1m1-6v1m1-6v1m2 0v1m1-32v1m0 26v4m0 11v2m4-4v1m1-34v1m2 33v1m1-53v2m2 1v1m1-1v3m0 18v1m3-22v1m0 38v2m1-28v1m0 36v1m1-28v1m1-3v1m0 17v1m1 1v1m3 0v1m1-40v1m1 10v1m1 9v1m1-2v1m0 12v1m5 1v4m1-10v2m7-20v1m2 1v1m0 12v1m0 5v2m1 6v1m5-34v1m0 36v1m1-30v1m0 15v1m6-25v1m1-15v1m0 50v2m1-53v1m1 12v3m0 26v1m1 5v1m1-17v1m0 19v1m1-44v1m1 41v1m2-8v3m1-25v1m0 34v1m1-28v2m1-27v1m1-6v1m1 27v1m0 22v1m1-18v1m2-34v1m0 26v1m1-1v1m1 24v1m2-8v1m1-44v1m0 33v2m0 2v1m2 2v1m0 5v1m1-20v1m2-25v1m1 17v1m0 25v1m2-36v1m0 36v1m3-16v1"/>
<path stroke="#7e717d" d="M408.5 256v1m0 7v1m0 11v1m0 7v1m2-21v1m0 2v1m1-18v1m0 4v1m1 45v3m1-57v1m0 31v1m1 0v3m1-9v1m1-23v1m0 5v1m2-6v1m0 2v1m2-8v1m0 28v1m0 3v1m1-32v1m0 25v1m0 22v1m0 1v2m1-23v1m0 3v1m4-26v1m0 9v1m2 2v1m0 2v1m2-24v1m1-5v1m0 11v1m0 19v1m3-34v1m0 34v1m2-24v2m1-13v3m0 28v1m0 1v1m1-23v1m0 18v1m1-3v1m1-28v1m0 15v1m0 12v2m4-23v1m0 3v1m0 14v1m3-11v1m2-17v1m2-5v1m1 3v1m1 22v1m0 5v1m1-23v1m2-8v1m0 3v1m1-9v1m0 20v1m1-6v3m2 2v1m0 24v2m1-24v2m1-6v1m1-21v1m1 15v1m1-9v1m0 2v3m1-2v1m1 23v1m0 5v1m1-33v1m0 20v1m0 6v1m0 2v4m1-37v1m0 14v1m0 5v1m3-8v2m2 12v1m1-12v1m1-13v1m1-13v1m0 7v1m0 2v1m3 14v1m1-20v1m0 18v1m0 12v1m2-35v2m1 35v2m1-37v1m1 33v1m0 1v1m1-21v1m0 6v1m4-11v1m2-8v1m0 17v1m0 1v1m1-29v1m2 20v1m0 1v1m3-18v2m0 9v1m2-3v1"/>
<path stroke="#7b217b" d="M408.5 258v5m0 6v6m2-28v2m3 0v1m0 25v3m4-21v5m7-8v2m3-9v3m0 20v2m6 4v7m1-28v2m6-5v9m2 2v6m0 3v2m1-12v3m1 5v6m2-4v3m16 15v9m3-48v2m1 28v2m1-32v6m1-3v2m6 23v2m1-34v4m1 19v7m9-20v7m2 1v5m0 10v5m12-22v7m2 4v1"/>
<path stroke="#34f6cb" d="M408.5 266v1m8 1v1m0 2v1m1 34v1m1-11v1m2-39v1m1 12v1m2-9v1m0 21v1m6-23v1m0 37v1m3-53v2m2 9v1m1 2v1m0 38v1m4-54v1m1 26v1m0 23v1m1-23v1m3 8v1m0 2v1m1-26v1m7 19v1m2 4v1m3-7v1m1-33v1m0 42v1m2-18v2m0 21v1m2-50v1m0 2v1m8 1v1m3 10v2m0 17v1m0 3v1m4-5v1m6 13v1m1-52v1m0 13v1m2 8v1m1 33v2m1 4v1m1-41v1m0 2v1m1 37v1m0 9v1m2-78v1m0 38v1m1 2v1m1-28v1m0 19v2m0 15v1m3-37v1"/>
<path stroke="#8aca75" d="M408.5 267v1m0 12v2m2 23v1m1-45v1m1 23v1m0 22v1m2-7v1m0 2v1m1-26v1m4-22v1m0 42v1m2-7v1m0 9v1m0 6v1m1-36v1m1-13v2m1 23v1m1-24v1m0 1v2m0 13v1m1 16v1m3-54v1m4 54v1m3-36v1m0 31v1m1-26v1m2 6v2m3-37v2m4-1v1m5 11v2m3-12v1m0 27v1m2-13v1m3 32v2m1-38v1m1-15v1m0 25v1m0 4v3m2-36v1m0 4v1m1-1v2m4 46v1m1-49v1m0 7v1m0 16v1m1 4v1m1-8v2m1 9v1m1-14v1m2 9v1m0 16v1m2-26v1m0 3v1m1-11v1m0 35v2m1-55v1m2 9v1m1-15v1m0 13v1m2 7v1m0 15v1m1 15v1m1-37v1m1-10v1m3 5v1m0 12v1m4-12v1m0 8v1m1-11v1m0 6v2m3 0v2"/>
<path stroke="#90a06e" d="M408.5 278v1m4 4v1m7-34v1m3 1v2m2 51v1m5-59v1m2 9v1m1 1v3m1 12v1m2-21v3m0 15v1m1-11v1m2-8v2m2-10v2m0 33v1m1-30v2m2 1v2m1-8v1m2 18v1m3-21v1m2 9v2m1 28v2m2-23v2m1-12v1m2 22v1m4-16v2m0 7v1m3-5v1m5-8v1m1-6v1m0 43v1m5-42v1m0 11v3m0 2v1m1-33v1m0 7v1m0 3v1m1 10v1m2 35v1m1-47v1m4 8v2m2-24v1m1 24v2m1-21v1m1 9v1m2 6v1m0 2v2m2-28v1m0 35v1m1-17v1m1 10v1m3-8v3m0 7v1m0 1v1m3-5v1"/>
<path stroke="#87b678" d="M408.5 279v1m0 2v1m1-16v1m2-8v1m1 23v1m0 21v2m2-23v1m0 17v2m1-29v1m0 4v1m0 1v2m2-32v1m1 53v1m1-48v1m2-12v1m0 55v1m1-1v1m2-19v1m0 2v1m0 13v1m1-36v1m0 16v2m1 8v1m1-35v1m2-15v1m0 35v1m1-23v1m1-9v1m2 48v1m2-43v1m1 8v1m0 29v1m3-48v1m0 25v1m0 16v1m1-35v1m2-13v1m2 27v1m3-16v1m1-9v1m0 3v1m1-7v1m1-1v1m4-4v1m0 29v2m2-33v1m0 6v1m0 4v1m1 7v1m1-3v1m2-11v1m0 7v1m1-19v3m0 34v2m1-27v1m0 17v2m0 1v1m2-33v1m1 14v1m1-15v1m0 11v1m0 24v1m1-38v1m1 50v1m1-44v1m1 44v1m4-46v1m2-6v2m0 10v1m0 15v1m1-27v1m1 1v1m1-5v1m0 52v1m3-56v1m1 5v1m1 9v1m0 35v4m2-55v1m1 0v1m0 8v1m0 15v1m2-14v1m1 3v1m1 6v1m2-18v1m1 17v1m1-11v1m0 12v1m3-11v2m1-14v1m1-10v1m0 3v1m0 19v1"/>
<path stroke="#7c9f82" d="M408.5 283v1m1-21v1m0 2v1m1-4v1m0 5v1m1-23v2m0 10v1m1 33v5m0 7v1m2-28v1m0 5v1m1-3v1m1-24v1m2 46v1m1-46v2m1-13v1m1-1v1m0 23v1m0 8v1m0 2v1m0 10v2m1-20v1m0 6v1m0 15v3m2-38v1m0 1v1m0 18v2m0 12v2m1-16v4m1-35v1m0 39v2m0 2v1m1-42v2m1 7v3m1 13v1m2-24v1m4-15v1m0 4v1m0 11v1m1 32v2m3-24v1m1-12v1m0 12v1m2-32v1m0 3v2m1-2v1m0 3v1m0 2v1m0 12v1m1-16v1m2-9v1m2 7v1m0 1v1m1-9v1m1 1v1m1-5v1m0 14v1m1 16v3m1-22v2m0 21v1m1-11v1m2-13v1m0 2v2m1-10v1m1-2v1m0 2v3m1-13v1m0 29v2m1-15v1m0 24v1m1-30v1m0 11v1m1-15v1m0 7v1m0 10v1m2-16v1m1-17v1m0 13v1m1 13v1m1 13v1m1-26v2m1-18v1m0 12v2m0 13v1m1 2v1m0 1v1m0 18v1m4-18v1m2-31v1m0 13v1m1-9v1m2-10v1m0 6v1m0 5v1m0 37v3m1-52v1m0 5v1m0 13v1m1-18v1m1 44v1m1-51v1m0 3v1m0 26v2m0 9v3m1-29v2m0 19v1m1-23v1m1 30v1m2-47v2m0 26v1m2-15v3m0 10v3m1-15v1m2-8v1m1-6v1m0 22v2m1-30v1m0 17v1m0 2v2m0 11v2m3-26v1m0 2v1m0 29v4m1-38v1m1 14v2m0 1v1"/>
<path stroke="#5d889e" d="M408.5 292v1m1-39v2m1 26v1m0 15v1m5-43v1m0 1v1m0 40v2m3-43v1m0 44v1m2-28v1m0 7v1m1-7v1m2-29v3m1 44v1m0 2v1m3-42v1m0 33v1m2-7v3m1-41v1m1-2v1m0 26v1m1-10v1m0 24v1m0 1v1m1-1v5m0 2v2m1-25v1m0 7v1m0 10v1m2-45v1m0 6v1m1-7v1m1 8v1m0 24v2m2-21v1m0 4v1m3-8v1m1-4v1m2 17v2m1-30v1m3-7v1m0 3v1m3 12v1m0 11v1m2-3v1m4-19v1m0 2v1m0 15v1m0 2v1m3-31v2m2 6v1m0 3v2m3 20v1m1-9v1m0 2v1m0 15v1m1-46v1m1-1v1m1 14v1m0 7v1m1-24v1m0 22v1m1 8v1m2-24v1m4 41v3m1-46v2m0 28v1m1-15v1m0 3v1m0 12v1m1 9v1m1-8v1m1 4v3m1-24v1m1-23v1m0 32v1m0 5v3m2-46v1m0 32v1m2 13v2m5-12v1m1-11v1m2 21v1m2-23v1m0 20v1"/>
<path stroke="#1198ee" d="M408.5 293v1m0 6v1m1-27v1m0 9v2m0 12v1m1-28v1m0 12v1m5-34v1m0 9v1m2 17v1m0 1v4m2-2v1m1-16v1m3-8v1m0 26v2m0 7v2m0 2v2m1-29v1m1-15v1m0 22v1m0 16v1m3-51v1m0 12v1m1-11v1m1 33v1m1 3v1m1-19v1m5-19v1m0 6v1m0 21v1m1-14v1m0 3v1m0 16v3m1-21v1m6-24v2m0 1v1m7 20v1m3-1v1m0 3v1m0 10v1m2-36v1m2-5v1m2 36v1m5 2v1m3-10v1m0 11v1m0 1v1m1 2v1m1-10v1m0 5v2m1-26v1m0 2v1m0 5v1m0 16v1m1-16v2m0 9v1m1 1v1m1-10v1m0 8v1m1-14v1m2-23v1m1 22v1m4-5v1m1-28v1m1 47v1m2-55v1m2 18v1m1-16v1m5 3v1m1 15v1m0 24v1m2-33v1m0 1v1m0 34v1m1 13v1m1-31v1m1 0v1m0 2v1"/>
<path stroke="#0063ff" d="M408.5 294v1m6-25v1m5 4v2m1-7v1m14 29v1m1-11v1m1-1v1m3-19v1m14-18v1m21-3v1m1 35v3m3 8v1m2-52v1m0 45v1m8-4v1m1 8v1m0 1v2m0 7v1m1-1v1m3-21v1m1 8v1m0 12v1m2-58v4m0 34v1m0 18v1m1-14v1m1 12v1m2-7v3m1-52v2"/>
<path stroke="#0043ff" d="M408.5 295v1m0 1v1m1-22v1m0 12v1m0 6v1m1-11v1m9-20v1m0 5v1m12 13v1m1 12v1m3-10v1m1-35v1m0 31v1m3-19v1m29 24v1m6-10v1m2 10v1m1 1v2m12 7v3m1-1v1m2 2v1m1-1v1m1-25v1m0 11v1m0 10v1m1-23v2m1-13v2m1 20v1m0 12v1m3-28v1m0 17v1"/>
<path stroke="#0033ff" d="M408.5 296v1m2-10v1m8-24v1m0 34v1m1-32v1m0 3v1m9 17v1m3 6v1m0 1v1m4-8v2m1-6v1m3-19v1m14-17v1m17 35v1m5-37v1m13 48v1m2 6v1m4-8v2m0 6v2m1-20v2m0 11v8m1-20v1m0 7v1m0 5v6m1-60v1m0 36v1m0 13v4m1-5v1m2-2v1m0 1v1m1-11v1m0 11v1"/>
<path stroke="#0053ff" d="M408.5 298v1m6-28v1m4 26v1m1-25v1m1-4v1m8 19v1m1-25v1m2 32v1m6-13v1m33 9v1m7 3v1m12 2v4m2-8v1m3-13v1m0 1v1m1-2v1m1 10v1m2 1v1m1 10v1m1-13v1m0 4v1m0 3v4m1-21v1m0 13v1"/>
<path stroke="#0073ff" d="M408.5 299v1m1-49v1m0 23v1m0 21v1m1-13v1m5-17v2m2-3v1m11 23v1m1-27v1m2 23v1m0 5v1m3-9v1m0 10v1m3-11v1m31 7v1m4-25v1m3 14v1m0 3v1m3 6v1m0 1v1m1-6v1m3-8v1m7 12v1m2-14v1m3-33v2m0 33v1m1-37v2m0 56v1m1-60v2m4 23v1m0 6v1m0 13v1m0 13v1m1-58v1m0 2v1"/>
<path stroke="#2c88ce" d="M408.5 301v1m1-50v1m1 1v2m0 44v1m1-8v1m2-14v1m1 10v1m1-38v1m0 5v1m0 11v1m2-9v1m1-5v1m0 7v1m0 6v2m1-13v1m1 2v1m0 7v1m0 9v1m1-5v1m2-27v1m2-4v1m0 40v1m2-42v1m0 22v1m0 15v1m1-44v1m0 30v1m1-28v1m1 12v1m0 33v2m1-54v1m1 46v1m1-8v1m0 3v1m1-22v2m0 15v1m2-35v1m0 18v1m0 5v3m0 11v1m1-23v1m1 19v2m0 3v1m2-8v3m3-41v1m0 16v1m1 0v1m1-19v1m1 28v1m1-33v1m5 24v3m1-19v1m0 9v1m2 22v1m1 5v1m3-41v1m0 5v1m0 7v1m2 27v1m6-29v1m1 28v1m1-6v1m0 3v1m2-26v1m1 3v1m0 1v2m0 16v1m1-48v1m0 3v2m0 27v1m0 13v3m1-51v2m0 5v1m1 41v1m3 5v1m1-6v1m1-15v1m1-8v1m0 4v1m0 7v1m1-15v1m1 14v1m2-14v1m0 13v1m0 2v1m2 3v1m2-4v1m1-1v1m1 18v1m1-18v1m2-44v1m1 32v1m1 8v1m0 1v1m1-53v2m0 11v2m0 22v2m0 8v1m2-24v1m1 6v1m0 4v2m0 15v1m1-11v1m0 1v1"/>
<path stroke="#40bdbe" d="M408.5 304v1m1-2v1m1 0v1m1-19v1m2-21v3m0 32v3m1-28v1m0 12v1m1-40v1m0 52v1m1-43v1m1 9v1m0 4v1m1 0v1m1 6v1m1-33v1m1-5v1m4 35v1m1-31v1m0 40v1m3-39v1m1 2v1m0 41v1m2-38v1m0 21v1m2-29v1m0 9v1m0 33v1m1-40v1m1 29v1m2-25v1m0 25v1m1-47v1m2 16v1m0 13v2m0 14v1m1-41v1m1 12v1m2-22v1m0 30v1m1 4v1m6-7v1m0 4v1m1-8v1m1-26v1m0 13v1m0 16v1m2 9v1m0 2v2m1-42v1m2-7v1m0 47v1m1-2v1m1-11v1m0 11v1m1-49v1m0 23v1m0 8v1m1-22v1m2 13v2m1 8v1m3-9v1m1-24v1m0 31v1m1-1v1m1 5v1m1-17v1m1-15v1m0 32v1m1-12v1m1-6v1m1 8v1m1-31v1m1-12v1m0 29v1m2-9v1m1-7v1m1-2v2m0 8v1m0 22v1m2-30v3m0 3v1m1-1v1m3-21v1m1 28v1m0 5v1m1-43v2m0 14v2m1 25v1m1 25v1m1-37v2m0 3v1m2-38v2m1 45v1m0 2v1m1-32v1m2-9v1"/>
<path stroke="#5ed8a0" d="M408.5 305v1m2-44v1m1 20v3m0 10v1m0 5v1m1-44v1m1 12v1m0 31v1m1-4v1m1-12v1m0 13v1m2-30v1m3-12v1m2-18v1m1 23v1m0 3v1m2-9v1m0 4v1m5 30v1m2-18v1m6-20v1m0 1v1m0 15v1m1-31v1m0 43v1m1-36v1m0 21v1m2 1v1m5-34v1m8-6v1m0 32v1m1-36v1m1 25v3m1 13v3m2-45v1m0 28v1m2-2v1m3 2v1m1-7v2m5 0v1m0 3v1m0 7v1m2 13v1m1-27v1m0 9v1m3-24v1m0 18v1m2-9v1m1-3v1m1-7v1m1 8v1m0 28v1m1-19v1m4 16v1m2-52v3m1-5v1m0 32v1m1 33v1m2-60v1m2 23v1m3-25v1m1 58v1m1-59v1"/>
<path stroke="#ffa400" d="M408.5 306v1m0 6v1m1-3v1m0 11v1m0 5v1m11-1v1m3-19v1m5-7v1m1 0v1m17-47v1m22 78v1m3-35v1m11 1v1m4 5v1m6 26v1"/>
<path stroke="#fb2701" d="M408.5 307v1m1-2v1m7-25v1m5 52v1m0 2v1m2-3v2m2-27v1m0 2v1m0 15v2m2-25v1m1 11v1m9-15v1m1-1v1m5-31v1m0 28v1m2-5v1m5-35v1m3 33v1m2 1v1m4 2v1m8-1v1m3-38v2m2-6v1m1 41v1m2-1v1m3-31v1m0 34v1m2-5v1m3 1v1m1 0v1m4 5v1m0 1v1m1 17v1m6 3v1m2-70v1m2 61v1"/>
<path stroke="#ff2200" d="M408.5 308v1m2-2v2m13 4v1m1-5v1m1 2v2m2 0v1m1 0v1m2-6v1m2-4v1m22-7v1m3 1v1m1 0v1m5-30v1m3 63v1m6-34v1m4 0v1m5 0v1m1 0v1m3 3v1m1 1v1"/>
<path stroke="#ff6300" d="M408.5 309v1m0 26v1m1-13v1m4 13v1m4-4v4m1-1v1m1-1v1m1-3v1m1-8v1m0 6v2m1-30v1m0 27v1m1-29v1m1 2v1m3-6v1m1-1v1m1 0v1m8-4v1m6-24v1m1 19v1m1-3v1m13 3v1m9 0v1m5 0v1m1-1v1m2-1v1m7-49v1m8 59v1m4-71v1m7 75v1"/>
<path stroke="#ff9400" d="M408.5 310v1m10-64v1m2 84v1m2-23v1m4 10v1m1-17v1m11-3v1m1-1v1m3-3v1m4-41v1m8 37v1m1 0v1m1 0v1m4 2v1m6-2v1m2 1v1m6-2v1m3 3v1m0 24v1m6-27v1m1 0v1m4-48v1m0 53v1m1 0v1m0 1v1"/>
<path stroke="#ff8400" d="M408.5 311v2m1 24v1m1-2v2m2-3v1m1-75v1m3 73v2m2-89v1m1 60v1m0 26v2m3-24v1m1-5v1m1 19v2m1-25v1m0 15v1m1-17v1m4 0v1m3-1v1m3-6v1m4-1v1m1-2v1m8-38v1m20 40v1m1 31v1m0 1v1m3-81v1m13 60v1m4 13v1m3 4v1m3-2v1"/>
<path stroke="#eae115" d="M408.5 314v1m2-3v1m0 9v1m3-7v6m1-62v1m0 48v1m2-12v1m0 4v2m1 17v2m2-68v1m4 58v1m3-37v1m0 3v1m0 35v1m3-15v1m1 0v1m0 19v1m2-44v1m1-20v1m0 7v1m1-9v1m3 12v1m1 5v1m1-3v1m1 20v1m2-3v1m1-18v1m0 4v5m1-13v1m4-17v1m2-8v1m4 39v1m1-42v1m3 44v1m1-17v1m4-37v1m3 52v1m3-37v1m2-19v1m0 5v2m3 16v1m2-16v1m1 49v1m1-21v3m0 4v1m2 6v1m1 2v1m2 0v1m3-5v2m0 9v1m1 7v1m0 2v1m1-5v1m2-2v1m1-60v1m1-8v1m0 14v2m0 2v1m1 63v1m4-62v1m1 11v1m0 48v1m0 2v1"/>
<path stroke="#bde742" d="M408.5 315v2m1-12v1m0 7v1m2 10v1m1-56v1m0 39v1m2-60v1m1 55v1m1-33v1m2 15v5m1-37v1m2 35v1m5 23v1m2 6v1m1-22v1m2-50v1m0 11v3m1-17v1m0 8v1m2 3v1m0 38v1m3-4v1m1-3v2m1-22v1m0 1v1m0 7v3m1-9v1m2 7v3m2-11v1m1-2v3m2-24v1m3-3v1m4 17v1m1 19v1m1-40v2m0 7v1m0 6v1m1 3v1m4-29v1m0 25v1m3-13v1m1 0v2m0 13v1m1-35v1m0 18v3m1 23v3m1 8v1m1 0v1m1-21v1m2 5v2m1 11v1m1-44v1m0 41v1m1 0v1m1-55v3m2 5v1m1-4v1m3-7v1m1 55v1m1-58v1m1 58v1m1-7v1m1-25v1m1 37v1m1-57v1m0 25v2m0 29v1m2-61v1m0 61v1m0 7v1m1-43v1m1-33v1m0 34v1m3 38v1m2-76v1m0 36v1"/>
<path stroke="#9bfa64" d="M408.5 317v2m1-5v1m2-40v1m0 2v1m0 18v1m1 12v1m1-47v1m0 24v1m1-23v1m1-21v1m0 30v1m1-6v1m1 36v1m1 6v1m2 4v1m1-12v1m0 2v1m1-48v1m0 47v1m0 3v1m0 1v1m1-57v1m0 3v1m0 8v1m2 41v1m1-35v1m1 10v1m5-14v1m7 3v1m3 2v1m3-29v1m0 18v1m2-26v1m6 32v1m1 1v1m2-36v1m0 41v1m4-39v2m1-11v1m0 26v1m3-29v1m1 16v1m1 0v1m5-13v1m1-3v1m2 3v1m0 1v1m0 5v1m0 32v1m2-35v1m2-9v1m2 40v1m1-41v1m0 43v1m3-32v1m0 8v1m1 23v1m1-56v1m3 40v1m1 23v1m1 2v1m1-69v1m0 74v1m1-39v1m1-23v1m0 32v1m1 35v1m3-47v1m1 30v1m2-69v1m0 67v1"/>
<path stroke="#a8ff57" d="M408.5 319v1m1 1v1m2-12v1m0 12v1m1-44v1m0 42v2m1-35v2m0 20v1m1-55v1m0 51v1m1 0v1m0 10v2m1-1v1m1-16v1m0 7v1m1-6v1m0 4v1m0 6v1m2-11v1m1-22v1m0 31v1m1-52v1m0 46v1m0 2v1m1-56v1m0 10v1m0 2v1m1-2v1m0 1v2m0 37v1m1-74v1m1 28v1m1 19v1m1 0v1m3-35v1m0 4v1m2-1v1m5 13v1m1 4v1m0 11v1m3-7v1m1 4v1m1-4v1m1-51v1m0 12v1m3 2v1m1-4v2m4 27v1m1-14v1m1-23v1m3 44v1m3-22v1m3-30v2m6 35v1m1-36v1m7 43v1m0 37v1m4-64v1m0 1v1m4-11v2m2 11v1m1 7v1m4 41v1m1-30v1m0 20v1m1-1v1m0 7v1m3-8v1m2-63v1m1-10v1"/>
<path stroke="#c8ff37" d="M408.5 320v1m5-11v1m0 2v1m1-55v1m1 60v1m1-6v1m0 5v1m1-5v1m3-4v1m0 6v1m1-5v3m0 2v1m1-73v1m1 65v1m2 4v1m1-37v1m0 19v1m0 10v1m1-15v1m1-3v2m7-18v1m8 0v2m1 11v1m2-11v1m1-30v1m6 27v1m1 6v1m4 5v1m1-15v1m13-31v1m0 35v1m0 10v1m2-31v1m6-6v1m6-20v1m3 39v1m2-30v1m3 36v1m6-44v2m1-6v1m0 69v1"/>
<path stroke="#eaf815" d="M408.5 321v1m0 8v2m2-13v3m3-59v1m0 44v2m0 5v1m0 6v2m2 7v1m1-14v2m1-73v1m2 63v1m1 3v1m0 4v1m2 9v2m1-9v1m3-40v1m8-22v1m13-4v2m9 22v1m4 18v1m10-26v1m6 59v2m1 0v1m3-41v1m2 5v1m1 31v1m2-31v1m1-6v1m1 8v1m1-39v1m1 11v2m3-18v1m2 67v1m1-1v1m2-4v1m0 2v1m3-3v2m1-17v1"/>
<path stroke="#ffb400" d="M408.5 322v1m2-13v1m0 18v1m0 2v1m5-25v1m1 0v1m5-1v1m9-3v1m3-46v1m24 38v1m4 1v1m9-27v1m1 60v1m0 1v1m1-37v1m2-34v1m16 64v1m1-2v1m8-81v1"/>
<path stroke="#ff5300" d="M408.5 323v1m0 11v1m0 2v1m5-79v1m6 46v2m3 0v1m0 27v1m4-16v1m1-8v1m0 4v1m5-15v1m3-2v1m3-2v1m5-31v1m0 28v1m11-4v1m1 0v1m4 2v1m1-53v1m1 51v1m8 33v1m0 1v1m2-35v1m1-41v1m4 39v1m2 3v1m4-3v1m1-1v1m1 0v1m2 4v1m6-40v1m2 64v1m6-17v1m0 10v1"/>
<path stroke="#f50c01" d="M408.5 324v1m18-1v1m1-17v1m0 3v1m0 9v1m0 21v1m1-32v2m2-4v1m1-4v1m10-5v1m1-2v1m1-28v4m5-13v1m1-1v1m7 35v1m4 2v1m3 37v1m1-70v1m4 31v1m2-38v1m1 36v1m5 25v1m1-24v1m0 33v1m1-33v1m1-3v1m6 3v1"/>
<path stroke="#8ff070" d="M408.5 325v1m0 1v1m1-13v6m2-21v1m1-31v1m1 35v1m1-58v1m0 36v1m1-10v1m0 1v1m3 6v1m0 8v1m2 16v1m1-1v1m1-64v1m2 35v1m3 39v1m0 1v1m5-76v1m1 14v1m0 37v1m6-45v1m0 25v1m1-3v1m2 4v1m7-35v1m0 2v1m4 31v2m4-15v1m3-20v2m3 4v1m2 3v1m1-6v1m6 28v1m1-22v1m0 3v1m3-12v1m1-13v1m0 52v1m2-40v1m1 64v1m0 1v1m1-77v1m0 1v1m2-3v1m0 44v1m3-40v1m1-5v1m2-13v1m0 8v1m1 18v1m1-23v1m1 29v1m3-37v1"/>
<path stroke="#00f5ff" d="M408.5 326v1m1-1v1m2-1v1m1-2v3m1-2v2m2-3v3m1-3v1m2-1v3m1-3v1m4-1v1m0 1v1m4-2v1m2-34v1m53 39v1m8-2v2m7-4v2m1-2v2m2-2v2m1-77v1"/>
<path stroke="#9e0000" d="M408.5 328v1m4 15v1m12-10v1m4-5v1m1-1v1m1-2v1m1-3v1m2-8v2m1-8v2m1-5v1m1-2v1m1-2v1m6-3v1m2-4v1m2-33v1m2-3v1m2 0v1m5 34v1m4 2v1m6-2v1m1 0v1m1 1v1m1-1v1m1-2v1m1-1v1m1-1v1m0 25v1m0 3v1m1-31v1m2-1v1m1 0v1m1 4v2m1 3v2m1 1v2m1 1v1m1 1v1m5-1v1m1-2v1m1-3v1m0 8v1m1-11v1m2 14v1m6 2v1m1-19v1m2 1v1"/>
<path stroke="#ff7300" d="M408.5 329v1m0 2v1m1-23v1m0 25v1m0 1v1m1-4v1m0 2v1m1-4v3m1-2v3m1-4v1m1-1v4m1-4v2m1-29v1m0 28v2m2-90v1m0 86v2m4-26v1m5 4v2m4-13v1m22-8v1m10-32v1m1-2v1m3 71v1m6-81v1m8 46v1m5 15v1"/>
<path stroke="#860000" d="M408.5 333v1m3 9v1m0 1v1m11-6v1m1-1v3m1-2v2m1-1v1m5-1v1m1-2v2m1-3v3m1-4v2m0 1v1m1-6v3m1-6v3m1-6v4m1-8v5m1-9v5m1-7v4m1-5v4m1-5v4m1-5v4m1-3v3m1-4v4m1-6v3m1-7v4m1-14v2m1-22v3m1-4v4m1-3v3m1 15v3m1 9v4m1-1v4m0 23v1m1-27v4m0 22v1m1-26v4m0 21v1m1-25v4m0 20v1m1-24v3m1-3v4m1-3v4m1-4v4m1-4v3m1-6v3m1-14v2m1-3v1m1 9v3m1 2v3m1-2v3m1-2v4m1-4v4m1-4v3m1-3v4m1-4v5m1-3v5m1-2v5m0 1v1m1-3v1m0 2v1m1 0v2m1 5v1m1-1v1m1-1v1m1-1v1m7-1v1m1-1v1m1-1v1m5-2v1m1-1v1m3 1v1m0 1v1m2-6v1m1-2v3"/>
<path stroke="#a20000" d="M408.5 334v1m5 9v1m5-12v1m4 9v1m0 1v1m3-14v1m3-3v1m1-1v1m1-2v1m2-7v2m0 2v1m1-10v3m0 5v1m1-13v1m1-4v1m1-2v1m2-2v1m1-1v1m1-2v1m4-2v1m1-4v1m1-3v1m2-33v1m2-1v1m3 33v1m1 0v1m1 0v1m2 0v1m1 0v1m4-2v1m1-29v1m5 31v1m6-2v1m3 5v1m1 2v2m1 2v2m1 1v2m0 3v1m1-4v2m1 0v1m1-1v1m1-1v1m1-1v1m1-2v1m0 15v1m1-19v1m0 15v1m0 1v1m9-2v1m4-19v1m0 6v1m1-7v1"/>
<path stroke="#fb6c03" d="M408.5 337v1m1-3v1m2 2v1m1-75v2m0 62v1m1 7v2m1-76v1m1 74v2m1-56v1m0 23v1m2 27v1m1-30v1m0 28v1m1 1v1m1-6v1m3-26v1m1 16v1m2-9v1m0 2v1m4 6v1m3-20v1m2-43v1m5-8v1m0 3v1m9 1v1m6 16v1m1 20v1m6-34v1m0 3v1m7 2v1m0 28v1m2-44v1m5 4v2m1 3v1m0 59v1m0 1v1m1-27v1m1-43v1m0 38v1m2-45v1m3 49v1m3-50v1m0 8v1m6-24v1m0 21v1m3 2v1m0 60v1"/>
<path stroke="#a80000" d="M408.5 339v1m6 4v1m3-12v1m2 0v1m0 4v1m4 3v1m0 1v1m3-17v1m1-1v3m1-3v1m1-1v1m1-2v1m2-9v3m0 2v1m1-10v2m1-5v1m1-4v1m2-2v1m5-4v1m7-37v1m2 0v1m1 29v1m4 4v1m3 2v1m1-1v1m4 29v1m1-35v1m1 2v1m1 0v1m2 1v1m1-2v1m1-1v1m1-1v1m1-1v1m2-1v1m1 0v1m1 3v1m1 2v1m1 2v2m1 2v1m1 1v1m1 1v1m1-1v1m1-1v1m1-1v1m1-2v1m0 14v1m1-18v1m8 17v1"/>
<path stroke="#850000" d="M408.5 340v4m0 1v1m1-6v4m0 1v1m1-6v4m0 1v1m1-6v3m1-3v3m1-3v3m1-3v3m1-3v3m1-3v3m1-3v3m1-3v3m1-3v3m1-3v3m1-3v3m1-2v2m11-2v1m1-2v3m1-6v6m1-8v8m1-11v11m1-15v15m1-18v18m1-19v19m1-20v20m1-21v21m1-21v21m1-21v21m1-24v24m1-27v27m1-39v39m1-58v58m1-58v58m1-58v58m1-40v40m1-27v27m1-24v23m1-22v22m1-21v21m1-20v20m1-20v21m1-20v20m1-19v19m1-19v19m1-20v20m1-23v23m1-35v31m0 1v3m1-37v32m0 3v2m1-25v20m0 3v2m1-20v15m0 3v2m1-19v14m0 3v2m1-17v12m0 3v2m1-17v12m0 3v2m1-18v12m0 5v1m1-17v11m0 5v1m1-16v10m0 5v1m1-14v8m0 5v1m1-11v1m0 1v3m0 5v1m1-8v2m0 5v1m1-1v1m14-1v1m1-1v1m1-1v1m1-1v1m1-1v1m1-1v1m1-2v2m1-2v2m1-2v2m1-2v3m0 1v1m1-5v3m0 1v1m1-4v2m0 1v1"/>
<path stroke="#8a0000" d="M408.5 344v1m6-2v1m0 1v1m8-12v1m4 3v1m3-1v1m3-4v1m1-3v1m1-3v1m1-5v1m1-7v2m1-5v1m1-3v1m1-2v1m1-2v1m1-1v1m1-2v1m1-1v1m1-1v1m2-7v1m2-32v1m1-1v1m1-1v1m3 33v1m1 0v1m1 0v1m1 0v1m1-1v1m1 0v1m1 0v1m1-1v1m2-4v1m3-3v1m3 6v1m1-1v1m1-2v1m1-1v1m2 0v1m1 0v2m1 2v2m1 3v1m1 3v1m18 13v1m6-2v1"/>
<path stroke="#053ef5" d="M409.5 247v1m0 1v1m0 30v1m1 7v1m0 2v1m0 3v1m2-44v1m0 2v1m1 26v2m4 15v3m1-39v1m0 37v1m2-15v1m0 3v2m0 6v2m1-42v1m0 5v1m2-8v2m0 33v1m2-40v1m0 2v1m0 23v1m2-28v1m0 1v1m0 20v1m0 11v1m1-9v1m2-25v1m0 10v1m0 14v1m4-9v1m0 14v1m0 1v1m1 1v4m1-43v1m0 19v1m0 7v2m1-19v2m3 27v2m1-4v1m1-10v1m3-16v1m7-5v1m0 3v1m1-23v1m4 3v1m0 1v1m1 21v5m0 4v1m1-21v1m2 25v1m0 3v1m5 1v1m1-30v1m0 11v2m2 5v1m0 1v1m5-1v2m1-35v1m1 36v1m2-28v2m3-17v1m0 48v1m1-16v2m0 2v1m2-32v1m0 3v1m1 25v3m0 9v1m1-15v1m1 3v1m0 5v1m1 3v1m0 10v1m1-43v2m1-17v1m0 1v1m0 37v1m1-12v1m0 30v1m2-15v1m3-38v1m0 4v1m1-16v1m0 29v1m0 6v1m2-18v1m0 7v5m0 2v4m0 3v1m0 3v1m1-35v1m0 28v1"/>
<path stroke="#042bf6" d="M409.5 248v1m0 28v1m0 1v1m0 10v1m1 1v1m2-40v2m4 32v1m0 5v1m3-25v1m0 1v1m1 16v3m1-31v5m1 30v1m0 1v1m3-43v2m0 21v3m1-34v1m1 7v1m0 25v2m0 5v1m1-7v5m0 2v1m2-43v1m0 21v1m0 5v5m0 2v1m4-9v1m0 16v1m2-36v1m0 17v1m0 10v3m3-20v2m2 18v1m0 3v1m3-28v2m1 3v1m0 3v2m7-10v3m1-21v1m4 3v1m1 27v4m1-19v3m2 23v3m6-31v1m2 23v1m7 5v1m0 3v1m2-48v1m3-2v1m0 29v2m1 2v1m0 2v2m1-40v1m1 9v1m1 22v1m0 4v1m1-4v1m1 6v1m0 2v2m1 5v3m0 1v3m0 2v1m2-56v1m0 47v1m1-20v1m0 2v2m0 24v1m1-13v1m1-29v1m0 27v1m2-6v5m1-37v4m0 21v1m1-36v1m0 36v1m2-13v2m0 11v3m0 5v2m1-36v1m0 2v1m0 23v1m1 9v5"/>
<path stroke="#0551f6" d="M409.5 250v1m0 30v1m1-7v3m0 11v2m2-35v1m1 24v1m0 2v1m1-13v1m0 21v2m3 2v1m1-34v1m1 12v3m1-9v1m0 20v1m0 4v1m0 2v2m1-37v1m1 27v1m0 3v1m1-7v1m0 1v1m2-37v1m0 18v1m0 18v2m1-50v1m1 4v1m0 3v1m1 22v1m1-13v6m1-18v1m0 10v1m0 16v1m1 1v1m0 1v1m3-16v1m0 15v1m1 8v1m1-17v1m1-18v1m0 2v1m0 17v2m1-15v1m1-7v1m1 26v1m0 2v1m1-11v1m0 6v1m3-28v1m1 8v1m7-22v4m3 33v2m2-40v1m1 19v1m0 10v1m1-33v1m0 9v1m0 4v1m7 26v1m0 1v1m1-36v1m0 15v1m1 16v1m6-6v1m2 0v1m1 6v2m1-51v1m0 14v1m0 2v1m1 20v4m2-14v1m0 2v1m0 9v1m1-14v1m1-10v1m2 10v1m0 9v1m0 7v1m0 1v1m1-19v1m2-36v1m0 39v4m0 7v1m1-32v1m0 2v1m1 21v1m0 1v1m1-14v1m0 6v1m2-12v1m0 15v1m0 4v1m3-38v1m0 6v2m0 12v1m0 4v1m1 0v1m0 3v1m2-8v2m0 8v1m0 1v1"/>
<path stroke="#307dc4" d="M409.5 253v1m1 27v1m0 15v1m5-43v1m3 3v1m0 9v6m3-18v1m0 21v1m2-27v2m1 43v2m3-8v1m1-26v1m2-14v1m1 28v1m2 2v1m0 11v2m1-14v1m0 8v1m0 1v1m4-35v2m0 24v1m2-21v4m6 7v1m1-29v1m3-5v3m2 2v1m2 9v1m1 24v1m2-40v1m2 10v1m0 15v2m5-21v3m3-1v1m1 15v2m1 14v2m3-16v1m1-28v3m0 28v1m2-30v1m2 41v1m1-48v1m0 4v1m2 32v1m0 1v4m1-39v1m4 24v1m0 15v2m1-19v5m1 6v1m1-4v1m1 9v2m1 3v1m3-30v1m4-14v3m3 36v2m0 1v1m1-37v1m0 27v1"/>
<path stroke="#14c5ea" d="M409.5 257v1m0 1v1m0 40v1m1-45v1m1 11v2m0 17v1m2 10v1m4-22v1m0 27v1m3-50v1m3 5v1m3 10v1m2-12v1m1 1v1m0 32v1m1-9v1m0 3v1m7-2v1m8-37v1m7 21v1m1-11v1m1-13v1m0 27v1m1-20v1m1-19v1m3 49v1m2-42v1m4 16v2m1 13v1m5-15v1m0 5v1m5 1v1m3-7v1m0 3v3m1 0v1m1 17v1m3-50v1m0 26v1m2-21v1m3 12v1m1-15v1m1-10v1m0 42v1m0 5v1m1-10v1"/>
<path stroke="#00d4ff" d="M409.5 258v1m1 43v1m1-33v1m3 27v1m5-3v1m1 29v2m8-76v2m0 4v1m3 43v1m17-53v1m19 24v1m17 0v1m9 13v1"/>
<path stroke="#8bde74" d="M409.5 268v1m3-9v1m2 45v1m1-59v1m3 36v1m3-13v1m0 21v1m1-19v1m0 9v1m2-2v1m0 5v3m7-32v1m8-4v1m0 32v2m2 4v2m1-41v1m2 18v1m1 6v2m0 7v2m3-43v1m0 5v1m1-4v2m1-5v1m2 33v1m1-4v1m1-11v1m3 6v1m0 14v3m1-46v1m2-6v1m0 8v1m0 4v1m0 21v2m0 2v2m1-11v1m1-23v1m1-5v1m1-3v1m1 11v2m0 14v1m1-33v1m1 42v1m1 10v1m2-24v1m1-22v1m0 19v1m1 7v1m0 1v2m1-17v1m0 1v1m1-18v1m1 43v1m2-24v1m2-23v1m0 7v1m0 5v2m2-16v1m2-1v1m1-10v1m0 16v1m1 38v1m1-40v2m0 32v1m9-20v1m0 48v1m3-79v1m0 24v1m0 3v1m0 8v1m0 27v1m1-1v2m1-66v1m0 75v1m0 2v1"/>
<path stroke="#82fa7c" d="M409.5 269v1m2-8v2m0 10v1m0 4v1m0 31v1m1 6v3m1-29v1m1 25v1m1-26v2m2 16v1m1-34v1m0 8v1m0 32v2m2-61v1m0 45v1m1-17v1m1-3v1m1-13v1m0 5v1m2 35v1m1-16v1m1-9v1m1 1v1m1-39v1m3 2v1m0 39v1m1-35v1m2 15v1m2 15v1m2-43v1m0 25v2m2-12v1m3 20v1m1-38v1m1 27v1m6-1v1m3-35v1m0 43v1m1-11v2m0 2v1m1 1v4m2-6v3m1-10v1m0 2v2m2-32v1m4 43v1m1-7v1m2-44v1m0 7v1m0 42v1m1-46v1m3 7v1m0 35v1m3-36v1m3-2v1m0 2v2m3 2v1m1-15v1m3 1v1m0 8v1m3 53v1m1-50v1m3-23v1m1 10v1m1-2v2m3-13v1m0 26v1m2-23v1m0 61v1"/>
<path stroke="#5ceba2" d="M409.5 270v1m2 10v2m2-18v1m0 28v1m2-4v1m1-28v1m0 20v1m4-23v1m1 26v1m1-43v1m3 1v1m0 14v2m1 10v1m0 9v1m3-12v1m3-26v1m3 10v1m2 37v1m2-44v1m2 8v1m2 29v2m5-45v1m7-3v1m1 40v1m2 0v1m2-11v1m1 16v1m2-37v1m2 5v1m2 2v1m3 13v1m3-11v1m0 12v1m1-28v1m0 2v1m4-8v1m5 2v1m1-14v1m3 55v1m2-50v1m0 35v1m1-22v1m2 13v1m1-30v1m5-3v1m3 63v1"/>
<path stroke="#67be98" d="M409.5 271v1m0 32v1m5-28v1m1-29v1m0 47v1m2-26v3m2 26v1m2-20v1m0 4v1m2-16v3m1-5v1m0 24v1m2-41v2m1 38v1m2-46v1m0 7v1m1 2v1m6 35v1m2-32v1m1-16v2m0 1v1m0 40v1m0 1v2m1-22v1m1 20v1m4-11v1m0 4v2m7-12v1m1-13v1m0 7v1m1-23v1m0 24v1m1-19v1m0 17v1m3-28v1m1 43v1m2-14v1m1-6v1m2-27v1m2 19v1m1-6v2m2-22v1m0 50v2m2-44v1m2 40v1m2-1v1m2-50v1m0 9v1m1 43v1m1-56v1m1 21v1m0 8v1m1-18v1m1-1v1m0 37v1m1-19v1m0 11v1m1 4v1m1-35v1m0 34v1m1-5v1m2-21v1m2 2v1m1-6v1m4 5v1m1-36v1m1 48v2m1-40v1m0 9v1m0 21v2m0 24v1m2-70v1m0 23v1"/>
<path stroke="#0313f0" d="M409.5 278v1m0 12v4m1-1v1m6-7v5m11-15v3m0 2v5m1-1v2m2-19v5m0 5v2m2 14v2m9-9v3m1-14v1m0 4v1m3-13v3m8-25v5m14 10v3m3 24v6m6-3v2m5-4v6m1-19v1m0 1v2m1-36v1m1 11v2m1 21v4m2 5v2m3 10v5m1-24v2m0 25v1m2-36v1m2 23v3m1-14v1m0 2v1m1-16v2m0 2v1m0 28v2m1-5v1m1-35v1m0 2v2m0 24v5m1-41v2m0 23v1"/>
<path stroke="#097bf1" d="M409.5 282v2m0 3v1m1-8v1m0 15v1m1-5v1m1-44v2m1 34v1m1-12v1m1-13v1m0 2v1m2-1v1m0 23v2m0 1v2m0 9v1m1-43v1m0 5v1m0 34v1m1-38v1m0 16v1m1-9v1m0 21v1m0 7v1m1-25v1m2-25v1m0 33v1m2 8v1m1-9v2m1-35v1m1 5v3m1 7v1m1-20v1m0 30v1m0 10v2m1-15v1m3-9v1m0 17v1m0 3v1m2-41v1m0 18v1m1-15v1m2 2v1m1 24v2m1 2v1m2-49v1m4 0v4m7 12v1m1 12v1m3-7v1m1-10v1m7 30v1m1-34v1m0 7v1m1 25v1m1-12v1m0 6v1m2 2v1m1-45v1m0 24v1m1-27v1m1 5v1m0 37v3m1-39v1m1 32v1m1 5v2m1-49v1m0 13v1m0 5v1m1 16v1m0 7v2m1-48v1m0 43v2m1 7v1m1-24v1m2-24v2m1 40v1m1-42v1m0 25v1m0 4v1m1 10v2m1-14v1m0 8v2m1 1v2m1-4v1m0 4v1m4-14v1m2-10v1m0 5v3m1-37v1m0 5v1m0 19v1m0 9v1m3-8v1m0 15v1m1-34v1m0 30v1"/>
<path stroke="#0094ff" d="M409.5 286v1m1-36v1m1 37v1m3 7v1m3-29v1m4-2v1m5 21v1m2 2v1m1-40v2m1 39v1m3-8v1m2 0v1m6-21v1m0 16v1m17 0v1m9 10v1m4-4v1m7 2v1m4-9v1m5-43v1m4 41v1m2 0v1m1-33v1m2-8v1m4 9v1m0 53v1m1-60v1m0 29v2m0 20v1"/>
<path stroke="#0761f5" d="M409.5 288v1m1-16v2m0 3v1m2-28v1m2 21v1m0 19v1m2 0v1m1-29v2m0 34v1m1-41v1m1 3v1m0 10v1m0 3v1m1-9v1m0 12v1m0 7v1m0 8v1m3-47v1m0 2v1m0 30v1m2-10v1m0 15v1m2-23v1m3-19v1m1 26v1m0 3v1m1 5v1m2-3v1m1 5v1m1-46v1m0 21v1m1-13v1m1 9v1m2 18v1m5-26v1m0 8v1m7-14v1m6 8v1m1-22v1m2 36v1m0 5v1m1-25v2m4 21v1m0 3v1m3-14v1m0 3v1m3-40v2m2 0v1m1 0v1m1 31v2m0 12v1m1-3v1m1-47v1m0 11v1m1 23v1m1 6v1m1-47v1m2 0v1m0 20v1m1-15v1m1 40v1m1-42v2m1 38v1m1-49v1m0 42v1m0 5v1m0 13v1m2-56v1m0 44v1m2-3v1m1-29v1m0 22v4m1-10v1m2-10v1m1-29v1m0 3v1m2 40v1m1-34v1m0 5v1m0 24v1"/>
<path stroke="#0022ff" d="M409.5 295v1m9 4v1m1-31v1m3 25v1m9 1v1m1 0v1m44-4v1m5 1v1m5-15v1m2 22v2m2-1v2m1-8v1m1 9v2m1-2v2m1-9v6m1-6v1m1-13v1m0 9v5m1-5v2m0 4v1m1-5v1m0 7v1m1-13v1m0 11v1m1-25v1m0 14v1m1-9v1m0 3v2"/>
<path stroke="#00e5ff" d="M409.5 301v1m5 23v3m2-2v2m3-33v1m0 30v2m1-3v1m2-56v1m0 54v3m1-2v1m1-1v1m1-1v1m1-52v1m0 50v1m45-44v1m25 32v1"/>
<path stroke="#0fdcf0" d="M409.5 302v1m2-36v1m0 3v1m1 3v3m0 9v1m1 9v1m8-28v1m1 21v1m1 11v1m1-33v1m1 1v1m0 27v1m3-8v1m1-4v1m0 5v2m2-6v1m1-19v1m3 10v1m1 7v1m1-3v1m4-9v1m1 0v1m3-21v1m3-19v2m0 1v1m5 26v1m1 10v1m4-40v1m0 18v1m2 30v1m1-46v1m1 27v1m1-26v1m4-12v1m0 52v1m1-41v1m4-8v1m4 48v1m2-6v1m1-51v2m0 26v1m1 6v1m1-13v1m2 5v1m0 9v1m0 11v3m4-51v1m4-1v2m1 36v1m0 27v1m3-57v1m5-1v1m0 56v1m1-7v3"/>
<path stroke="#ff1200" d="M409.5 307v3m16-1v2m1-2v1m0 1v1m0 11v1m1-11v1m1-6v1m0 11v1m1-12v1m1 34v1m3-35v1m2-5v1m1-2v1m3-1v1m4 38v1m4-1v1m6-1v1m3-1v1m4-1v1m1-40v1m6 38v1m6-1v1m1-39v1m0 37v1m6-37v1m0 35v1m7-30v1"/>
<path stroke="#f4c20b" d="M409.5 312v1m3-51v1m2-11v1m0 13v1m0 41v1m1-2v1m1-9v4m0 2v1m2-26v1m0 2v1m1-29v1m0 48v1m0 5v1m0 18v1m0 2v1m3-68v1m2 58v1m2-45v3m0 32v1m0 4v1m1-57v1m0 1v1m0 37v1m6-42v1m2 19v1m0 20v1m1-3v1m2-51v2m3 10v1m3 17v1m2-32v1m0 4v4m0 29v1m4-28v1m6 7v3m0 5v1m0 4v1m7-34v1m4 52v1m1 0v1m1 0v1m2-59v1m2 9v1m0 46v1m1-36v1m0 33v1m3-39v1m1 20v1m0 3v4m2 8v1m4-21v1m4-26v4m0 12v1m2 42v1m1-59v1m1-6v1m0 11v2m0 5v1m2 1v1m3-8v1m1-21v1m0 85v1"/>
<path stroke="#cdc432" d="M409.5 322v1m2-17v1m1-46v1m0 19v1m2-31v1m0 55v1m2-24v1m1-34v2m1 31v1m0 23v2m1-53v1m0 45v1m2 3v1m0 2v1m1-60v1m0 14v1m0 7v3m0 29v1m2 8v1m0 7v1m3-61v1m0 3v1m1 59v1m1-51v1m2-22v1m1-3v1m0 23v1m0 25v1m1-32v1m0 32v1m1-42v1m2 2v1m2-15v1m0 47v1m1-1v1m1-20v1m1-29v1m0 45v1m2-1v1m1-19v1m0 15v1m1-3v1m1-48v1m4 4v1m0 2v2m0 1v1m5-5v1m0 41v1m1-31v1m0 3v2m0 1v2m0 22v1m1-21v1m0 19v1m2 1v1m1-53v1m3 1v1m0 13v1m6-2v1m2-10v1m1 2v2m1 3v1m2 18v1m1-36v1m0 7v1m0 1v1m6 3v1m2 23v1m0 19v1m2-59v1m1 25v1m1 49v1m1-66v1m2-4v1m1 25v1m1-33v1m0 33v2m0 44v2m3 2v1m1-69v1m1-18v1m0 35v1m1-30v1m0 67v1m2-48v2"/>
<path stroke="#50f9af" d="M409.5 325v1m1-66v1m1 4v1m0 7v1m0 38v1m1-27v1m2 13v1m0 23v1m2-58v1m3 22v2m0 25v1m0 4v1m1-64v1m1 28v1m1-21v1m3-5v1m0 8v1m1 51v1m0 1v1m13-72v1m0 6v1m2 9v1m0 3v1m1-20v1m1 39v1m1-6v1m1-46v1m0 9v1m1 27v1m6-1v1m5 2v1m1 7v1m2-16v1m2-27v1m4 14v2m7-18v1m0 11v1m0 20v1m1-24v1m0 32v1m3-17v1m0 1v3m1 9v1m2-27v1m0 27v1m1-33v1m1 37v1m1-42v1m1 16v1m2 29v1m1-60v1m0 57v1m1-33v1m0 45v1m1-69v1m0 25v1m0 32v1m1-54v1m1-9v1m0 8v1m2-8v1m2 60v1m2-42v1m1-21v2m1 75v1"/>
<path stroke="#57ffa8" d="M409.5 327v1m1-69v1m1 56v5m1-10v1m0 4v1m1-29v1m1-42v1m2 76v1m3-9v1m3-45v1m1 3v1m0 7v1m0 20v1m1 10v1m5-15v1m9-5v1m1-52v1m5 38v1m0 7v1m9 0v1m2-44v1m16 32v1m1-1v1m9 46v1m0 1v1m5-63v1m4-11v1m0 9v2m2 44v1m1-65v1m1 8v1m0 54v1m2-2v2m0 10v1m1-12v1m2 1v1m0 2v1"/>
<path stroke="#bd0000" d="M409.5 328v1m0 10v1m8 4v1m6-10v1m0 2v1m1-7v1m2 10v1m1-1v1m0 1v1m1-3v1m0 1v1m2-23v1m1-11v6m1-8v1m4-4v1m6-4v1m2-1v1m5-37v1m3 29v1m4 5v1m4 2v1m11 0v1m3 27v1m0 3v1m4-27v1m1-2v1m1 1v4m1 2v2m0 19v1m0 1v1m1-21v1m1 0v1m0 16v1m0 1v1m1-20v1m1-2v1m4 15v1m7-14v1m4-4v1"/>
<path stroke="#f9ff06" d="M409.5 330v2m2-2v2m2-2v2m1-2v2m1-17v2m0 13v1m2-12v1m2 10v1m1-1v2m50 7v1m1-1v1m1-1v1m1-1v1m1-2v1m0 1v1m1-2v1m1 0v1m1-3v2m2-2v3m1-3v3m1-3v3m1-3v3m2-3v1m1-1v3m1-3v3m1-3v3m1-2v1m2-1v1m1-2v2m1-2v1m1 0v1m2-5v1m1 0v3"/>
<path stroke="#f7a107" d="M409.5 332v1m1-9v1m1-16v1m3-57v2m0 6v1m2-12v1m0 55v1m2-25v1m3 25v1m1-51v2m0 1v4m0 42v1m2-46v4m0 40v1m3-42v1m5 16v1m0 22v1m1-54v3m0 6v1m1 44v1m2-40v1m1 35v1m4-57v2m0 1v1m2 31v1m0 19v1m1-52v1m0 48v1m1-3v1m1-47v4m0 10v2m0 22v1m2-26v1m2-3v1m6 15v1m2 22v1m1-21v3m4-18v1m1-2v1m6 37v1m2-44v1m2 8v1m1 10v2m0 21v1m1 0v1m1-37v1m1 15v1m2-19v1m0 35v1m1 1v1m3-23v1m0 1v1m1 24v1m2 2v1m1-60v3m2 68v1m2-72v5m0 14v1m0 7v1m5 43v1m2 9v1m0 2v1"/>
<path stroke="#8b0200" d="M409.5 333v1m38-45v4m17-8v1m15 49v1m22-3v1"/>
<path stroke="#b50000" d="M409.5 334v1m4-2v1m1-1v1m1-1v1m1-1v1m0 10v1m2-11v1m0 4v1m8 5v1m4-22v1m1-6v3m1-10v2m1 0v1m1-3v1m1-4v1m2-2v1m9-8v1m12 5v1m1 0v1m6-5v1m1 2v1m1 0v1m1 1v1m1-1v1m1-2v1m2-1v1m1-1v1m2-1v1m1 0v1m1 2v1m2 1v2m1 3v2m1 2v1m0 10v1m1-10v1m0 16v1m0 1v1m1-19v1m1-1v1m1-2v1m1-2v1m1-1v1m6 18v1"/>
<path stroke="#8e0000" d="M409.5 344v1m7-2v1m0 1v1m5-12v1m3-1v1m3 1v1m1-1v1m1-1v1m1-2v1m1-2v1m1-3v1m1-3v1m1-5v2m1-8v3m1-8v2m1-3v1m1-2v1m1-2v1m2-2v1m1-1v1m1-1v1m2-4v1m1-4v1m2-32v1m1-1v1m1-1v1m2 30v1m2 3v1m1-1v1m1 0v1m1 0v1m3 1v1m1-2v1m1-3v1m3-3v1m1 3v1m1 0v1m1 1v1m1-1v1m1-2v1m1-1v1m1-1v1m2-1v1m1 1v1m1 3v3m1 4v1m1 2v1m4 5v1m1-1v1m1-1v1m1-1v1m5-8v2m1-2v2m2-3v1m0 14v1m0 1v1m7-2v1"/>
<path stroke="#0a88f4" d="M410.5 252v2m2-7v1m0 9v1m2 34v1m1-27v2m2 12v1m0 4v1m0 5v1m0 2v3m4-50v1m1 45v1m0 5v1m1-4v1m1-22v1m0 1v1m1 16v1m1-46v1m0 43v1m2-45v1m4 24v1m4 16v1m1-23v1m3 28v1m2-14v1m1-37v1m0 19v1m2-17v1m0 13v1m0 10v1m7-19v1m0 2v1m0 7v1m2-7v1m1 10v1m0 1v1m6 17v1m1-27v1m4 21v1m5-20v1m0 17v1m1-40v1m0 27v1m0 16v1m1-3v1m1-49v1m0 2v1m0 44v1m1-1v1m3 6v1m1-6v1m4-31v1m0 4v1m0 17v1m3-33v1m2-10v1m1 21v1m1-15v1m1 21v1m3-24v1m2-4v1m0 46v1m1-52v1m0 43v1m1-29v1m2 15v2m0 3v1"/>
<path stroke="#14f6eb" d="M410.5 257v1m1 67v1m2-30v1m1-29v1m2 0v2m3 23v1m3-26v1m0 1v1m2 53v1m0 1v1m2-52v1m0 11v1m2-30v1m0 36v1m1 3v1m3-54v1m0 40v1m5 5v3m2-33v1m2 7v1m14-25v1m2 36v3m14 14v1m1-19v1m5 4v1m4-21v1m1-3v1m1 66v1m1-84v1m0 23v1m0 56v3m1-62v1m0 58v3m4-12v1m1-65v1m1-8v1m1 34v1m1 31v2m1-27v1m1 35v1m1-12v6m1 7v1m4-3v2"/>
<path stroke="#47ffb8" d="M410.5 258v1m0 2v1m1 52v2m1-43v1m0 41v1m2-28v1m2-26v1m3 22v4m0 28v4m0 2v1m2-36v1m1 1v1m3-29v1m3 33v1m3-26v1m0 30v1m1-40v1m2 3v1m1 17v1m4-39v1m1 14v1m4 27v2m14-45v1m0 45v1m1 0v1m1-15v1m3-26v1m4 44v1m5-48v1m1 15v1m4 12v1m4 18v1m3-29v1m2-15v1m0 47v2m1-4v1m1 13v1m1-46v1m3-28v1m1 69v1m2-58v1m1 71v1m1-10v1m2 4v1m1-12v1m1-66v1"/>
<path stroke="#0084ff" d="M410.5 272v1m1 17v1m4-23v1m0 2v1m1 14v1m4-18v1m4 6v1m1-1v1m5 19v1m1 4v1m1-1v1m2-1v1m1-2v1m2-11v1m2-18v1m31 15v1m1 4v1m4-2v2m1 5v1m4-51v1m0 45v1m3-18v1m0 8v2m8 10v1m1 14v1m1-1v1m2-58v1m0 30v1m1-36v1m2 47v1"/>
<path stroke="#076ff3" d="M410.5 279v1m1 11v1m1-44v1m2 47v1m1-45v2m0 9v2m2 21v3m0 8v1m1-32v1m2 28v1m0 1v1m1-40v1m0 8v1m2 27v1m2-43v1m0 5v1m0 35v1m2-6v1m3-43v1m0 17v1m0 18v1m4-14v1m2 0v1m0 7v1m1 3v1m1-14v1m4 4v1m1-30v1m0 19v1m1-5v1m8-11v1m0 4v1m0 10v1m3 20v1m0 2v1m2-45v1m1 21v1m0 13v1m1-33v1m3 18v1m5-13v1m0 15v1m0 3v1m2 2v1m2 7v1m2-46v1m1 3v1m0 39v1m2-8v1m0 2v2m0 1v1m1 12v1m2-18v1m0 5v1m0 2v1m1-48v1m0 44v1m1-43v1m2 16v1m0 2v1m1-10v1m1 16v1m0 11v1m2-4v1m1-3v1m0 6v1m0 2v1m1 2v2m1-49v1m0 38v1m1-12v1m0 33v1m5-45v1m0 12v1m1-1v1m0 3v1"/>
<path stroke="#0012ff" d="M410.5 293v1m22 4v1m38-2v1m21 5v8m1-1v2m1-11v5m0 5v1m2-9v2m2 9v1m1-9v1m2-17v1m1 6v3"/>
<path stroke="#2fdccf" d="M410.5 303v1m3-35v2m0 16v1m0 7v1m1 3v1m2-38v1m3 22v1m0 6v2m1-37v1m3-11v1m0 38v1m1-16v1m1-10v1m3-2v1m1 32v3m1-7v3m1-20v1m0 19v1m1-5v1m0 12v1m4-7v1m1 1v2m1-3v1m2-23v1m1 3v2m0 2v2m1 2v1m3-31v1m1 19v1m2-31v1m0 4v1m5 16v2m2-24v1m0 1v1m0 35v1m0 10v1m3-48v1m0 1v1m0 37v1m1 6v1m3-15v1m1-26v1m2 13v2m1 27v1m1-53v1m1 10v1m4 41v1m1-16v1m0 5v1m6-19v1m3-9v1m1 8v1m2-5v1m4 5v4m2-4v1m0 15v5m3-37v1m0 22v1m3-23v1m4 54v1"/>
<path stroke="#ff3300" d="M410.5 306v1m0 2v1m10 25v1m0 2v1m2-26v1m1-2v1m0 1v1m1-7v1m0 3v3m2-3v3m1 6v1m1-15v1m0 8v3m1-11v1m2-2v1m9-4v1m3-25v1m1 21v1m5-37v1m17 37v1m3 2v1m1-2v1m2-42v1m6 11v1m4-20v2m4 60v1m0 2v1m3-7v1m8-48v1m0 1v1"/>
<path stroke="#ffd500" d="M410.5 311v1m1 17v1m0 2v1m3-78v1m3-7v2m0 78v1m0 2v1m1-1v1m4-22v1m1 18v2m2-26v1m1-1v1m2-3v1m3 0v1m13-25v1m9 16v1m1-1v1m18 39v1m0 1v1m13-32v1m5 30v1m1-1v1m1-6v1"/>
<path stroke="#d9ff26" d="M410.5 313v4m4-61v1m1 56v1m0 4v2m1-23v1m0 12v1m0 5v1m0 3v1m2-42v1m2 28v2m1 13v1m2-7v1m0 3v2m0 1v1m4-22v1m1-2v2m5-39v1m0 5v1m10 12v1m0 2v1m6-25v1m5 31v2m1-42v1m6 46v1m9-18v1m1-37v1m0 3v1m0 50v1m1-48v2m2 9v1m2 35v1m3-50v1m3-9v1m3 59v1m1-4v1m1-30v1m2 12v1m3-38v1m0 17v1m6 66v2m2-15v1m1-76v2"/>
<path stroke="#e9ff16" d="M410.5 317v2m2 11v2m1-18v1m2-1v1m0 2v1m1-1v1m0 12v2m1-14v1m2-7v1m0 18v1m4-14v3m20-28v1m31 45v1m9-1v2m8-5v2m1-2v2m1-2v3m1-3v2m1-2v2m2-2v2m2-2v2"/>
<path stroke="#ffc400" d="M410.5 323v1m3-62v1m5 66v1m5-23v1m10-1v1m16-44v1m34 41v1m7 30v1m5 1v1m6-18v1m0 13v2"/>
<path stroke="#26ffd9" d="M410.5 325v1m1-60v1m0 5v1m1 1v1m0 3v1m0 33v3m8-9v1m0 17v1m4-46v1m1 23v1m0 21v1m0 1v1m3-68v1m4-13v1m12 39v2m11-6v1m2 3v1m4-35v1m1-2v2m5 19v1m0 21v1m4-13v1m6 3v1m0 16v1m2 27v1m2-66v1m1 63v1m0 1v1m3-63v1m3 49v1m2-3v2m1-3v6m2-3v2m1-5v6m0 5v1m0 1v1m1-14v2m0 1v3m1 7v1m1-16v1m0 3v3m0 5v1m1-1v1m3-76v1"/>
<path stroke="#06fff9" d="M410.5 326v1m3-2v1m4-1v3m4-3v3m16-31v1m43 35v1m1-1v1m2-1v1m3-2v3m3-15v3m1 11v1m1-3v3m1-2v1m1-1v1m1-1v1m1-3v1m0 1v1m4-4v2"/>
<path stroke="#37ffc8" d="M410.5 327v1m1-15v1m2-43v1m45 24v1m2-17v1m21-14v1m1 0v1m7 5v1m1-15v1m0 58v1m3 4v1m0 7v1m0 1v1m1-19v1m4 3v4m1-3v2"/>
<path stroke="#d80a02" d="M410.5 328v1m2 5v1m0 4v1m1-6v1m0 4v1m1-6v1m0 4v1m1-6v1m0 4v1m1-60v2m0 52v1m6 0v1m0 2v1m1-7v1m3-5v1m5-20v1m0 15v1m3-17v1m2 33v1m0 1v1m8-43v1m6-37v1m1 1v1m13 6v1m3 61v1m0 1v1m3-69v2m2 69v1m0 1v1m1-1v1m1-3v1m0 1v1m3-14v1m0 1v1m5-4v1m0 3v1m5 1v1m1-13v1m0 11v1m4-12v1m3-1v1m1 13v1m1-13v1m1-1v1m0 5v1m1-10v1m2 9v1m0 2v1"/>
<path stroke="#fff500" d="M410.5 330v2m3 0v1m1-4v1m0 2v1m1-1v1m1-4v1m0 2v1m1-13v2m0 8v2m1-2v2m2-13v1m1 10v2m54 6v1m0 1v1m3-3v3m6-2v2m4-3v1m0 1v1m1-2v1m1-2v1m2 0v1m2-5v1m2-1v1"/>
<path stroke="#950000" d="M410.5 333v1m1 10v1m15-12v1m1 0v1m1-1v1m1-2v1m1-2v1m1-2v1m1-3v1m1-3v1m1-8v3m1-9v2m3-5v1m2-2v1m2-2v1m3-4v1m3-35v1m1-1v1m1-1v1m3 33v1m1 0v1m3 1v1m1 0v1m1 0v1m1-1v1m5 26v1m0 1v1m1-31v1m2 2v1m1-1v1m1-2v1m1-1v1m1-1v1m2-1v1m1 0v1m1 1v1m1 6v2m1 2v2m1 1v1m9 0v1m1-3v1m1-2v1m1 15v1m0 1v1m1-19v1m5-1v1m1-1v1m0 16v1"/>
<path stroke="#c70000" d="M410.5 334v1m1-1v1m0 4v1m5-1v1m8-11v1m4-7v2m1-3v2m1-6v3m1-11v2m0 31v1m1-34v1m3-3v1m2-2v1m1-1v1m1-1v1m1-2v1m5-5v1m1-3v1m1-30v1m3-4v1m2 29v1m2 4v1m1 0v1m2 0v1m1 0v1m5-30v1m4 29v1m1 1v1m4-2v1m1-1v1m3 0v1m1 2v1m1 1v1m0 28v1m1-1v1m0 1v1m1-34v1m0 30v1m0 1v1m1-30v5m1 1v2m1-1v2m1-2v2m2-1v1m5 1v1m0 17v1m5-19v1"/>
<path stroke="#c00000" d="M410.5 339v1m7-6v1m0 4v1m1 4v1m9-17v1m2-5v1m0 18v1m0 1v1m1-25v2m1-11v1m2 0v1m1-3v1m7-6v1m2-1v1m10-5v1m8 4v1m1-3v1m3-3v1m9 4v1m1 28v1m0 3v1m4-29v1m1-1v3m1 5v1m0 9v1m1-8v1m1 0v1m1-1v1m1-2v1m3 16v1m4 2v1m7-17v1m2-4v1"/>
<path stroke="#910000" d="M410.5 344v1m7-2v1m0 1v1m8-12v2m2-1v1m1-1v1m2-2v1m2-4v1m2-8v1m1-7v1m1-5v1m1-2v1m1-2v1m11-40v1m1-1v1m4 34v1m3 1v1m3 1v1m8 1v1m1-1v1m2-2v1m0 23v1m0 3v1m5-24v1m1 6v1m15 15v1m1-15v1m6 16v1"/>
<path stroke="#69788b" d="M411.5 256v1m4 0v1m0 15v1m2-11v1m1-7v1m2 19v1m0 5v1m1 15v1m3-42v1m3-8v1m0 22v1m1 3v1m3-3v1m0 5v1m1-12v1m0 20v1m1-8v1m3-35v1m1 19v1m1 4v1m4-1v1m2-8v1m8-18v1m2 18v1m5-15v2m0 11v1m0 3v1m3-14v1m0 24v1m0 13v1m3-14v3m1-13v1m1-20v1m1 27v2m2-39v1m0 31v1m7-32v1m4 2v1m0 29v1m0 4v1m3 0v1m0 5v2m1-48v1m1 38v1m0 3v1m1-7v1m1-5v1m13-19v1m0 4v2m0 13v1"/>
<path stroke="#6cf993" d="M411.5 264v1m0 15v1m0 20v1m1 15v1m1-25v1m0 11v1m1-58v1m0 38v1m0 23v1m0 3v1m1-20v1m1-32v2m1 40v1m3-48v1m1 11v1m3 7v1m0 38v1m1-3v2m1-16v1m3-45v1m3 25v1m2-25v1m4 6v1m1-11v1m0 41v1m2-27v1m0 1v1m1-18v1m0 29v1m3-9v1m3-21v2m6 4v1m0 23v1m2 6v1m1-29v1m0 2v1m0 3v1m0 5v1m0 7v1m1-39v1m0 14v1m1 20v1m2-37v1m4-7v1m1 22v1m1 1v1m2-22v1m0 6v1m2 27v1m0 16v1m1-2v1m1-32v1m0 17v1m1-28v1m0 11v1m1 10v1m1 17v1m1-41v1m0 13v2m4-17v1m2-3v2m3 6v1m1 34v2m2-55v1m0 68v1m1-57v1m0 5v2m3 17v1m1 6v1m1-49v1m0 14v1m3-10v1m0 24v1"/>
<path stroke="#b8ff47" d="M411.5 276v2m0 21v1m2 24v1m2-4v1m1-10v2m0 8v1m2-34v1m0 22v4m3-1v1m2-36v1m7 24v1m1-2v1m3-43v1m1 40v1m7-5v1m1-6v1m6-33v1m18 39v1m19 2v1m1-47v1m0 51v1m2-65v1m1-1v1m3 4v1m4 12v1"/>
<path stroke="#bcf943" d="M411.5 298v1m2 8v1m1-51v1m1 52v1m0 1v1m1-2v1m0 2v1m1-6v1m1 0v1m1 2v1m1-4v1m1-18v1m0 22v1m0 3v2m2-41v1m0 24v1m1-25v1m1 22v1m1 11v1m1-19v3m4-36v1m2-1v1m8-2v1m4-5v2m2-5v1m6 27v1m0 1v1m0 8v1m1-21v1m0 15v1m2-36v1m0 26v1m10-21v1m5-16v1m0 1v1m2 3v1m0 8v1m1 35v1m3-38v1m2-9v1m3 14v1m7 18v1"/>
<path stroke="#11a5ee" d="M411.5 304v2m3-31v1m3-6v1m0 7v1m0 25v1m3-52v2m0 50v1m3-19v1m1-15v1m2-24v1m3 5v1m1 31v1m0 5v1m2-20v1m2 26v1m3-44v3m0 29v1m4-24v1m0 27v1m4-42v1m0 23v1m7-19v2m0 13v1m2-23v1m0 31v2m1 7v1m3-26v1m2-24v1m1 10v3m1 13v1m4 15v1m3-10v1m0 13v1m2 2v1m1-17v1m0 16v1m5 4v1m2-22v1m1-33v1m2 39v2m0 4v1m1-32v1m0 6v1m2-27v1m3 64v1m1 0v1m2-36v1m3 7v1m4 28v1"/>
<path stroke="#fa4904" d="M411.5 307v2m2-52v3m1 3v2m2 13v1m6 50v1m0 2v1m1-24v1m6-31v1m1 29v1m0 15v1m0 1v1m4-20v1m1-33v2m0 2v2m6-23v3m7 4v1m1-20v1m2 3v3m9-1v1m3 20v1m1-1v1m4 31v1m2-40v1m0 7v1m2-13v1m6 9v1m0 4v5m2-20v3m0 40v1m2-47v1m5 53v1m0 4v1m0 4v1m1-62v3m0 3v2m1 54v1m3-50v4m0 51v1m2-61v2m3-4v1m1 55v1m2 12v1"/>
<path stroke="#67ff98" d="M411.5 321v1m1-50v1m0 6v1m2 32v3m1 9v1m1-53v1m0 23v1m2 27v1m1-2v1m1-1v1m4-7v2m1-15v1m18-6v1m1-5v1m9-2v1m4-5v1m2 3v1m18-43v1m6 49v1m3 4v1m2-32v1m2-3v1m2-26v1m2 84v1m1-17v1m3 0v1m2 1v1"/>
<path stroke="#77ff88" d="M411.5 322v1m3-7v2m0 1v5m1-32v1m0 2v1m0 9v1m2 6v3m2 0v1m1-54v1m2 25v1m0 1v1m1-27v1m0 5v1m1 49v1m5-59v1m0 63v1m1-23v1m1-34v1m1 5v1m1-10v1m1 35v1m5-43v1m3 34v1m1-3v1m2-32v1m2-9v1m6 36v1m0 2v1m4-26v2m0 19v1m1-46v1m0 50v1m1-11v1m0 1v1m4-36v1m3 6v2m3-5v1m5 39v1m6-31v1m1-9v1m1 7v1m2 3v1m2-5v1m0 1v1m1 38v1m2-62v1m1-2v1m2 68v1m1-1v1m4-54v1m1 12v1m2 42v1m0 1v1m1-71v1"/>
<path stroke="#16ffe9" d="M411.5 327v1m17-2v1m55 5v1m4-1v3m1-14v1m0 10v3m1-3v3m1-13v2m2-5v6m0 7v1m0 1v1m1-14v1m1 9v1m1-11v1m0 10v1m1-3v2m1-13v2m1 11v1"/>
<path stroke="#d32713" d="M411.5 328v1m5-50v1m7 49v1m1-2v1m1-1v1m4-49v2m6-4v2m11 19v1m1-30v1m4-3v1m1 27v2m10 6v1m3-3v1m3 35v1m0 1v1m2-67v1m7 62v1m0 3v1m1-68v2m0 61v1m0 3v1m1-5v1m0 3v1m1-5v1m0 3v1m1-5v1m0 3v1m1-5v1m0 3v1m1-11v1m0 3v1m0 1v1m0 3v1m1-5v1m0 3v1m1-5v1m0 3v1m1-5v1m0 3v1m2-76v3m5 57v1m1-1v1"/>
<path stroke="#a00000" d="M411.5 333v1m10 9v1m0 1v1m20-38v1m1-2v1m10-6v1m9 6v1m3-31v1m14 41v1m9 6v1m1-3v1m0 16v1m0 1v1m11-20v1m0 7v1"/>
<path stroke="#f5870a" d="M412.5 263v1m0 2v1m1 61v1m3-82v3m2 31v1m1-30v3m0 50v1m3-46v1m7 17v1m0 46v1m0 1v1m3-48v2m1-34v4m0 6v3m2 13v1m0 7v1m1-17v1m5-18v1m0 7v1m0 5v1m3-12v3m2 7v4m0 25v1m3-44v1m2 1v1m3-4v2m2 31v1m0 1v1m3 20v1m1-53v1m0 3v1m13 2v1m0 2v1m2 2v3m2-1v1m1 17v1m0 24v1m2-6v1m4-21v1m4-13v1m4 1v1m0 5v1m2-32v1m0 19v1m0 3v1m3-6v1m2-16v2"/>
<path stroke="#d1a22d" d="M412.5 267v2m4 6v2m3-26v1m3 5v1m2 3v1m1-14v1m0 66v1m4-33v1m3-29v1m0 23v1m3-7v1m1-11v1m1 14v1m1-29v2m0 30v1m3-32v1m0 4v1m5 11v1m8-20v1m9 1v1m2 30v2m4-17v1m3-1v1m1-6v2m2-1v1m3 7v1m0 36v1m1-2v1m0 24v1m0 1v1m3-79v1m2 50v1m5-48v2m2-5v1m1 1v2m0 2v2m2 3v1m1 5v3m3-29v1m0 35v1m1-38v2m2 80v1m0 2v1"/>
<path stroke="#88ff77" d="M412.5 271v1m0 49v1m5-7v1m1-28v1m0 30v1m4-4v1m2 4v1m1-6v1m4-56v1m0 41v1m5-37v1m8 28v1m0 1v1m2-14v1m5-32v2m11 46v1m19-35v1m7 37v1m0 4v1m3-30v1m2-22v1m3 63v1"/>
<path stroke="#bf8536" d="M412.5 282v1m1-31v1m2 75v1m1-78v1m0 76v1m1-1v1m1-78v1m0 76v1m1-1v1m1-1v1m2-73v1m2 3v1m0 5v1m1-20v1m7 8v3m1-12v1m1 2v2m4-5v2m0 32v1m3-30v1m2 20v1m1-19v1m2 38v2m1-28v1m4-20v1m0 7v2m1 34v1m7-13v1m1-26v1m2 45v1m2-34v1m0 2v1m1 11v2m0 5v2m0 3v2m0 1v2m4-33v1m1-9v4m5 3v1m0 12v1m5-20v1m9 0v1m2 8v2m1-12v2m1-15v2m1 0v1m1 26v1m4-29v4"/>
<path stroke="#817d77" d="M412.5 304v1m1-54v1m1 27v1m4-28v1m3 3v1m7 20v1m4-10v3m1 13v1m1-36v1m0 2v1m0 25v1m1-29v2m0 7v1m1-10v1m1-3v1m0 3v1m1 27v1m1-3v1m1-30v1m0 17v1m3-9v1m4 4v1m4 1v1m1 24v2m1-20v1m0 1v1m1-14v1m0 7v1m1 2v1m2-16v1m3 12v4m1-10v1m1-19v1m0 39v1m0 13v1m2-40v1m0 7v1m1-14v1m0 28v1m0 3v1m0 7v1m1-49v1m2 22v1m0 18v1m1-24v1m1-20v1m1 14v1m0 4v1m3 6v1m1-20v1m0 2v1m0 6v1m1-6v1m0 15v1m1-31v1m1 3v1m0 1v1m3-2v1m0 18v1m0 1v1m3 16v3m1-44v4m3 25v2m3-15v1m0 1v1m3-19v2m6-3v1m1 20v1"/>
<path stroke="#98ff67" d="M412.5 322v1m1-12v1m4 12v1m1-7v1m0 3v1m1-9v1m1-4v1m2 5v2m0 3v1m0 1v1m9-61v1m7 34v1m2 1v1m16-16v1m0 2v2m3-4v1m2 13v1m21 3v1m5 15v2m10 10v1m1-10v1"/>
<path stroke="#ffe500" d="M412.5 329v1m0 2v1m1-4v1m2-21v1m0 19v1m2-82v1m3 67v3m5 3v1m25-67v1m19 82v1m4-2v1m0 1v1m16-3v1m0 1v1m5-2v1"/>
<path stroke="#ae0000" d="M412.5 333v1m3 10v1m9-2v1m0 1v1m1-17v1m0 13v1m0 1v1m4-18v1m2-5v1m1-8v3m1-5v1m3-7v1m5-3v1m2-1v1m1-2v1m3-35v1m6 30v1m8 4v1m12 28v1m0 3v1m4-28v1m1 2v1m1 1v2m1 3v1m1 1v1m1 1v1m1-1v1m1-1v1m0 14v1m0 1v1m1-18v1m0 14v1m0 1v1m1-19v1m4-2v1m0 14v1m4 2v1m3-19v1m2 12v1"/>
<path stroke="#870000" d="M412.5 343v1m0 1v1m10-7v1m1-1v1m1 0v1m1-1v2m1-1v2m1-2v2m1-2v2m1-2v2m1-3v2m1-2v1m1-3v2m1-3v2m1-4v2m1-5v2m1-6v3m1-8v4m1-7v3m1-5v3m1-3v2m1-3v2m1-3v2m1-1v2m1-3v2m1-4v2m1-6v2m1-12v2m1-22v2m1-3v2m1-1v2m1 15v3m1 10v2m1 1v2m1-1v2m1-1v2m1-1v2m1-1v2m1-2v2m1-1v2m1-2v2m1-2v2m1-5v2m1-12v1m1-3v2m0 33v1m0 1v1m1-28v2m1 3v2m1-1v2m1-1v2m1-2v2m1-2v2m1-2v2m1-2v2m1-1v3m1 0v3m1 1v3m0 1v1m2 2v2m4 5v1m1-1v1m1-1v1m1-1v1m1-1v1m1-1v1m11 0v1m0 1v1"/>
<path stroke="#dc6f12" d="M413.5 253v4m1 8v1m0 62v1m2-52v1m2-28v1m3 77v1m1-1v1m1-1v1m6-47v1m4-28v3m2 17v1m1-12v1m2-16v1m8 42v2m0 2v3m1-30v1m4-16v3m0 10v1m1 26v2m8-42v1m2 48v1m1-34v3m1-5v1m0 4v1m1 19v3m0 5v1m5-38v3m8 16v1m2-22v1m4 68v1m0 3v1m1-5v1m0 3v1m1-5v1m0 3v1m1-5v1m0 3v1m1-5v1m0 3v1m1-5v1m0 3v1m1-5v1m1-1v1m3-3v1"/>
<path stroke="#880000" d="M413.5 343v1m0 1v1m11-7v1m1-1v1m1 0v1m1-1v1m1-1v1m1-1v1m1-2v1m1-2v2m1-3v1m1-3v2m1-4v2m1-5v2m1-6v2m1-7v2m1-5v2m1-3v1m1-2v2m1-3v2m1-2v1m1-1v2m1-2v1m1-4v2m1-5v1m2-32v2m1-2v1m1-1v2m2 29v1m1 2v1m1 0v1m1 0v1m1 0v1m1-1v2m1-1v1m1 0v1m1-1v1m1-2v2m1-4v1m3-4v2m1 3v2m1-1v2m1 0v1m1-1v1m1-2v2m0 17v1m0 3v1m1-24v2m1-1v1m1-1v2m1 0v3m1 2v2m1 2v2m2 4v1m21 3v1"/>
<path stroke="#8c0000" d="M415.5 343v1m0 1v1m5-13v1m1 5v1m2-6v1m2 3v1m3-2v1m1-1v1m1-2v1m1-2v1m2-4v1m1-4v1m1-6v1m1-7v2m1-4v1m1-3v1m4-3v1m1-1v1m2-4v1m1-4v1m2-32v1m1-1v1m1-1v1m4 34v1m3 1v1m1 0v1m2 0v1m2-4v1m4 1v1m1 0v1m1 1v1m1-1v1m1-2v1m1-1v1m1-1v1m2 0v1m1 2v1m1 4v1m1 4v1m10 6v1m7 6v1m0 1v1"/>
<path stroke="#00c4ff" d="M416.5 295v1m3 1v1m6-23v1m1-2v1m0 14v1m2-36v1m1 20v1m6 12v1m0 12v1m4-37v1m1 33v1m1-29v1m17 16v1m2 9v2m3-41v2m3 28v1m5 11v1m1-19v1m11-7v1m1-1v2m10-19v1m1-2v1m5 1v1m1-6v1m0 53v1m0 3v1"/>
<path stroke="#920000" d="M418.5 343v1m0 1v1m7-13v1m1 0v1m0 1v1m3-3v1m1-2v1m1-2v1m1-3v1m1-3v1m1-6v1m1-8v2m1-5v1m1-2v1m2-2v1m2-2v1m2-1v1m1-2v1m1-3v1m1-4v1m6-1v1m3 3v1m1 0v1m5 1v1m1-3v1m3-3v1m1 3v1m1 0v1m3 0v1m2-1v1m1-1v1m1-1v1m1 0v1m1 1v2m1 6v1m1 3v1m1 1v2m10-3v1m1-2v1m1-2v1m1 15v1m0 1v1m2-19v1m1-1v1m1-1v1"/>
<path stroke="#960200" d="M419.5 333v1m28-60v1m16 5v1m1 0v2"/>
<path stroke="#970000" d="M419.5 343v1m0 1v1m1-12v1m0 4v1m7-7v1m1-1v1m3-4v1m1-3v1m1-4v1m1-7v1m2-8v1m1-2v1m4-3v1m2-1v1m13-2v1m5 1v1m1-3v1m5 2v1m6 0v1m2 20v1m1-20v1m1 5v2m1 3v1m1 2v1m1 1v1m0 4v1m8-7v1m1-3v1m1 15v1m0 1v1m8-6v1m1-14v1"/>
<path stroke="#d00000" d="M419.5 344v1m7-14v1m3-11v1m1-7v3m0 25v1m0 1v1m1-19v1m0 17v1m1-3v1m0 1v1m1-34v1m0 30v1m0 1v1m3-39v1m12-40v1m11 38v1m7-2v1m3 2v1m1-2v1m5-1v1m1 34v1m0 1v1m1-3v1m0 1v1m1-1v1m1-34v1m1-2v1m1 0v4m1 4v2m1 0v1m1-1v1m1 0v1m5 20v1"/>
<path stroke="#9a0000" d="M420.5 343v1m0 1v1m4-8v1m2-7v1m1-1v1m1-1v1m1-1v1m1-2v1m1-3v1m2-7v2m1-8v2m1-6v1m3-4v1m1-1v1m1-2v1m2-2v1m2-1v1m2-6v1m2-33v1m2-1v1m2 31v1m1 1v1m1 0v1m1 0v1m2 0v1m1 0v1m1 0v1m6-5v1m9 4v1m1 0v1m1 0v1m0 18v1m0 1v1m1-16v1m1 4v1m1 2v1m1 1v1m7 0v1m1-3v1m1 14v1m0 1v1m6-18v1m5-2v1m1 0v1"/>
<path stroke="#d20000" d="M420.5 344v1m6-15v1m1-7v1m1-3v1m1-9v1m0 4v2m1-7v1m2-6v1m2 0v1m0 32v1m0 1v1m1-3v1m0 1v1m2-3v1m5-40v1m2-1v1m5-37v1m7 35v1m4 2v1m11 0v1m4 34v1m0 1v1m6-35v1m1 2v6m1-1v3m1-3v3m1-3v1m4 24v1"/>
<path stroke="#890000" d="M421.5 333v1m5 5v1m1-1v1m1-1v1m1-1v1m1-2v1m1-2v1m1-2v1m1-3v1m1-3v1m1-5v2m1-7v3m1-7v2m1-4v1m1-2v1m1-2v1m2-2v1m1-1v1m1-1v1m1-4v1m1-4v1m2-32v1m1-1v1m1-1v1m2 30v1m1 2v1m1 0v1m1 0v1m1 0v1m1-1v1m1 0v1m1 0v1m1-1v1m1-2v1m1-3v1m1 25v1m3-25v1m1 0v1m1 1v1m1-1v1m1-2v1m1-1v1m1-1v2m1-1v1m1 1v1m1 3v2m1 2v2m2 5v1m1 0v1m14 4v1m3 1v1m0 1v1m4-12v1m1-1v1"/>
<path stroke="#e10000" d="M421.5 344v1m6-22v1m1-13v1m1 0v2m0 1v4m1-6v1m5-7v1m2 37v1m1-3v1m0 1v1m1-40v1m0 36v1m0 1v1m1-3v1m0 1v1m1-41v1m0 37v1m0 1v1m1-3v1m0 1v1m1-41v1m18 0v1m3 36v1m1-5v1m1 3v1m0 1v1m2-38v1m0 34v1m0 1v1m2-3v1m0 1v1m1-3v1m0 1v1m2-3v1m1-37v1m3 3v1m1 1v1m1-3v1m1-2v1m1-1v1m1 1v2m1-1v6m1-5v5m1-2v2m0 1v1m1-3v1m1-2v2m1 25v1"/>
<path stroke="#8b0000" d="M422.5 333v1m5 4v1m1-1v1m2-2v1m1-2v1m1-3v1m2-5v1m1-6v2m1-7v1m1-4v1m1-3v1m1-2v1m1-2v1m1-1v1m3-2v1m1-3v1m7-4v1m1 1v1m2 1v1m1 0v1m3 1v1m2-1v1m4-6v1m1 4v1m1 0v1m5 0v1m1-1v1m1 0v1m1 2v2m1 3v2m1 3v1m3 5v1m15 6v1m5-5v1"/>
<path stroke="#e50100" d="M422.5 344v1m1-1v1m1-9v2m3-28v2m1-2v1m0 1v1m1-2v1m1 0v1m2-5v1m0 17v1m1-16v1m3-6v1m1-1v1m1-1v1m5 36v1m0 1v1m1-3v1m0 1v1m1-45v1m0 41v1m0 1v1m1-3v1m0 1v1m1-3v1m0 1v1m1-3v1m0 1v1m1-3v1m0 1v1m2-3v1m0 1v1m1-3v1m0 1v1m1-45v1m1 0v1m0 40v1m0 1v1m1-43v1m2 0v1m0 38v1m0 1v1m1-41v1m0 37v1m0 1v1m1-40v1m0 36v1m0 1v1m2-3v1m0 1v1m1-3v1m0 1v1m1-70v1m0 66v1m0 1v1m1-1v1m1-3v1m0 1v1m2-40v1m0 36v1m0 1v1m2-3v1m0 1v1m1-75v1m0 35v1m2-1v1m1-1v1m2-1v1m1 0v1m4 0v1m2 1v1m1 0v1m1 0v1m1 2v1m0 4v2m1-6v1m0 1v1m0 24v1m1-1v1m11-6v1m3-16v1"/>
<path stroke="#8d0000" d="M423.5 333v1m4 3v1m5-5v1m1-3v1m1-4v1m1-6v1m1-7v1m1-3v1m2-3v1m1-2v1m1-1v1m3-2v1m8-6v1m1 1v1m2 1v1m1 0v1m2 0v1m1 0v1m2-1v1m12 1v1m1-1v1m1 1v2m1 4v1m1 4v1m1 2v1m3 4v1m5-1v1"/>
<path stroke="#ff4300" d="M424.5 310v1m1-3v1m1-1v1m7 0v1m3-6v1m3-1v1m2-2v1m1-2v1m8-38v1m6 36v1m4 2v1m14-1v1m3 3v1m2-1v1m2-3v1m4 4v1m4 24v1m8 1v1"/>
<path stroke="#900000" d="M424.5 333v1m2 1v1m0 1v1m3-3v1m2-3v1m2-5v1m1-5v1m1-7v1m5-9v1m2-2v1m2-1v1m4-38v1m5 33v1m5 3v1m1 0v1m14 1v1m2 0v1m1 3v1m1 6v1m1 2v1m11 0v1m2-3v1m1-1v2m2-2v1"/>
<path stroke="#f10000" d="M424.5 344v1m1-1v1m1-35v1m1-2v1m1-1v1m0 11v1m1-12v1m11-6v1m9 38v1m1-2v1m0 1v1m3-3v1m0 1v1m2-3v1m0 1v1m1-3v1m0 1v1m4-3v1m0 1v1m6-41v1m3 2v1m12 0v1m2 1v1m1 0v1m0 31v1m1-30v1m0 28v1m2-29v1m1 0v1"/>
<path stroke="#b00000" d="M425.5 336v2m3-10v1m3-7v2m1-10v3m6-9v1m1-1v1m1-2v1m5-5v1m5-35v1m2 30v1m2 3v1m1 0v1m2 0v1m5-1v1m4 31v1m0 1v1m8-32v1m4 6v1m1 0v2m1 3v2m1 1v1m1 1v1m3-1v1m1-2v1m11 13v1m4-15v1"/>
<path stroke="#ff0200" d="M426.5 344v1m2-1v1m1-1v1m2-1v1m1-1v1m1-1v1m1-1v1m1-1v1m1-1v1m1-1v1m1-1v1m1-1v1m1-1v1m1-1v1m1-1v1m2-1v1m1-1v1m1-1v1m2-1v1m2-1v1m1-1v1m1-1v1m2-1v1m1-1v1m2-1v1m1-1v1m1-1v1m2-1v1m1-1v1m2-1v1m1-1v1m1-1v1m2-1v1m1-1v1m1-1v1m1-1v1m1-1v1m3-1v1m1-1v1m2-1v1m1-1v1m2-1v1m1-35v1m0 33v1m1-35v1m0 33v1m1-34v1m2 4v1"/>
<path stroke="#0000d0" d="M442.5 279v4m50 20v2m1-31v1m6-1v2"/>
<path stroke="#910200" d="M447.5 275v1m17 7v2"/>
<path stroke="#910609" d="M447.5 276v2m4-5v5m12 3v3m1-4v1"/>
<path stroke="#860005" d="M447.5 278v4m4-4v2m12 4v3m0 1v4m1-5v1"/>
<path stroke="#850005" d="M447.5 282v5m4-4v4m12 5v9m1-13v2"/>
<path stroke="#870201" d="M447.5 287v2m0 4v7m4-20v3m0 4v10m12-10v1m0 13v4m1-19v1m0 3v13"/>
<path stroke="#b30703" d="M448.5 269v1m3 0v1m12 7v1m1-2v2m12 58v1m0 3v1m11-1v1m5-12v1m1-2v1"/>
<path stroke="#0000f1" d="M482.5 280v1m10 26v1m4-18v2m1 20v2m1-6v5m1-6v5"/>
<path stroke="#0000e1" d="M492.5 301v2m0 2v2m1-34v1m0 1v1m4 3v2"/>
<path stroke="#0002ff" d="M492.5 308v2m1-4v5m6 1v1"/>
</g>
<path d="M416.0 248.5H419.0M440.0 248.5H442.0M493.0 248.5H495.0M498.0 248.5H500.0M413.0 252.5H415.0M417.0 252.5H420.0M433.0 252.5H435.0M432.0 256.5H434.0M450.0 256.5H452.0M491.0 256.5H493.0M413.0 260.5H415.0M432.0 260.5H434.0M472.0 260.5H474.0M488.0 260.5H490.0M433.0 264.5H435.0M448.0 264.5H451.0M446.0 268.5H452.0M463.0 268.5H465.0M469.0 268.5H471.0M447.0 272.5H452.0M463.0 272.5H465.0M469.0 272.5H471.0M491.0 272.5H493.0M447.0 276.5H452.0M463.0 276.5H465.0M447.0 280.5H452.0M463.0 280.5H465.0M447.0 284.5H452.0M463.0 284.5H466.0M447.0 288.5H452.0M463.0 288.5H466.0M446.0 292.5H453.0M463.0 292.5H466.0M446.0 296.5H453.0M463.0 296.5H466.0M444.0 300.5H457.0M462.0 300.5H466.0M427.0 304.5H429.0M435.0 304.5H469.0M472.0 304.5H476.0M480.0 304.5H482.0M408.2 308.5H412.0M414.0 308.5H417.0M421.0 308.5H486.0M408.2 312.5H411.0M422.0 312.5H486.0M427.0 316.5H491.0M426.0 320.5H488.0M408.2 324.5H411.0M424.0 324.5H489.0M499.0 324.5H502.0M408.2 328.5H502.0M408.2 332.5H480.0M408.2 336.5H491.0M408.2 340.5H477.0M478.0 340.5H480.0M481.0 340.5H483.0M487.0 340.5H502.0M408.2 344.5H502.0" stroke="#000" stroke-opacity="0.8" stroke-width="1.25" stroke-dasharray="1.5 0.45" fill="none"/>
<path d="M408.2 322.0 L410.0 327.0 L413.0 332.0 L417.0 336.5 L422.0 340.5 L428.0 344.0 L434.0 346.5 L470.0 346.5 L478.0 344.0 L485.0 340.0 L491.0 335.0 L496.0 329.0 L499.5 323.0 L502.0 317.0" stroke="#fff" stroke-width="1.1" stroke-dasharray="2 2" fill="none" stroke-opacity="0.9"/>
</g>
<rect x="408.2" y="247.5" width="93.80" height="97.80" fill="none" stroke="#444" stroke-width="0.5"/>
<clipPath id="wc3"><rect x="561.1" y="247.5" width="92.90" height="97.30"/></clipPath>
<g clip-path="url(#wc3)">
<g stroke-width="1" fill="none">
<path stroke="#f7a107" d="M561.5 247v1m0 2v3m1 28v1m10 10v1m1 2v1m6-41v1m0 8v1m7 0v3m2 19v1m1-36v1m6 41v1m7-37v1m3 12v1m2-15v1m6 11v2m3-7v1m4-3v2m1-13v1m7 20v1m2-9v1m1-11v1m1 8v1m1-3v1m1-10v1m3-3v2m7 7v1"/>
<path stroke="#ffb400" d="M561.5 248v2m0 3v1m0 29v1m12 15v1m0 5v1m2 3v1m2 0v1m2-2v1m2-11v1m0 5v1m18-38v1m13-12v1m1 10v1m11-5v1m2 2v1m9-19v1m4 13v1m6-1v1"/>
<path stroke="#eae115" d="M561.5 254v1m3 7v1m4-3v2m4 29v1m1 9v3m1 3v1m2-61v1m4 2v1m0 46v1m0 9v1m1-7v3m5-41v1m2-7v1m0 26v2m1-31v3m3 18v1m10-17v2m2 8v1m8-24v1m9 5v2m4 9v1m10-1v1m3-2v1m5-2v1m1-5v1m6 2v1m3 0v1"/>
<path stroke="#c8ff37" d="M561.5 255v1m3 5v1m10 26v2m0 16v1m3-27v1m0 2v1m3-35v1m0 48v1m0 7v1m7-20v2m1-31v1m0 23v1m1-9v1m5 23v1m0 2v1m1-4v1m0 2v1m9-33v1m6-5v1m7-3v1m28-2v1"/>
<path stroke="#77ff88" d="M561.5 256v1m12 7v1m1 10v1m0 24v1m0 3v1m1-14v1m0 4v1m2-50v1m1 28v1m0 3v1m0 14v1m2-6v1m0 9v1m0 3v1m1-16v1m4-33v2m1 0v1m0 1v1m2 17v1m6-7v2m0 3v1m0 20v2m1-10v1m0 7v2m31-36v1m2 4v1m9-15v1m6 3v1m4 1v1"/>
<path stroke="#34f6cb" d="M561.5 257v1m1 11v1m4-5v1m5 3v1m0 11v1m7-34v1m0 21v1m1-1v1m12-24v1m9-1v1m4 8v1m6-1v1m1-2v1m6 4v1m17-3v1m0 1v1m4 0v1m4-7v1m4 3v1"/>
<path stroke="#14b5eb" d="M561.5 258v1m1 8v1m7-5v1m2 12v4m1 5v1m1-8v2m0 8v1m0 1v1m2-21v1m1-14v1m1 9v1m0 5v1m4-10v1m4 3v1m1 10v1m10-5v1m7-13v1m4 3v1m4-6v1m5-11v1m3 1v1m0 6v1m6-3v2m3 7v1m1-16v1m1 6v1m13-10v1m2 7v1"/>
<path stroke="#0a88f4" d="M561.5 259v1m2-8v1m6 7v1m3-6v1m0 7v1m4 12v1m1-18v1m0 5v1m3 10v1m0 3v1m1-29v2m7 18v2m6 13v1m12-27v1m0 4v1m10-7v1m1-12v2m2 5v1m4-5v1m5 14v1m1-6v1m6-11v1m3 3v1m8-3v1m4-6v1m0 6v1m1-9v1"/>
<path stroke="#076ff3" d="M561.5 260v1m2-7v1m2 4v1m1-12v1m5 9v1m1-3v2m0 4v1m4 18v1m1-22v1m3 16v1m1-28v1m0 4v1m1 15v1m1-11v1m0 13v1m3-25v1m6 6v1m3-9v1m4 12v1m1-5v1m0 2v3m1-17v1m2-1v1m3 10v1m0 9v1m18-20v1m6-2v1m0 9v1m10-6v1m0 2v1m12-1v1"/>
<path stroke="#0551f6" d="M561.5 261v1m0 7v1m8-13v1m2 1v2m1-1v1m3 5v1m1-3v1m1-4v1m4-15v2m0 8v1m0 4v1m1-7v1m1 17v1m4-16v1m3-5v1m0 2v1m0 3v1m2-4v1m0 6v1m7-5v1m1-13v1m0 6v1m3-1v1m0 1v1m1 3v1m1-15v2m0 3v1m11 4v1m3-2v2m4-4v1m2-10v2m3 6v1m0 9v1m5-17v1m13-2v1m4 1v1m0 4v1m2 0v1"/>
<path stroke="#053ef5" d="M561.5 262v1m8-16v1m0 8v1m6 8v1m2-4v1m2-14v1m2 8v2m1 10v1m5-24v4m0 7v1m3-3v2m0 1v3m2-2v1m1-7v2m2-5v3m4 3v5m1-11v1m0 4v1m1-4v1m2-7v1m0 10v1m1 1v3m1-8v1m10-9v3m1 8v1m4-12v1m0 3v1m3 2v2m4-3v1m3 4v1m3-11v1m2 4v1m11-5v1m0 2v1m4-2v1m2 1v1"/>
<path stroke="#042bf6" d="M561.5 263v1m0 4v1m3-16v1m5 1v1m6 3v1m0 4v1m1 0v1m3-19v2m2 11v1m1-4v8m1-2v1m0 9v1m4-23v1m5 9v1m1-6v1m0 8v1m7-14v1m0 2v1m1-6v1m0 1v1m4 3v2m14-11v1m0 1v1m1-2v3m7-2v1m0 2v1m1-6v1m2 2v1m0 6v1m3-11v1m2 6v5m11-9v2m4 0v1m0 1v1m2-1v2"/>
<path stroke="#0313f0" d="M561.5 264v4m3-14v3m5-9v7m6 5v4m1 2v1m6-2v2m0 2v1m1-6v1m0 5v3m4-21v2m0 3v1m5 4v2m1-7v1m0 6v1m34-14v1m3 1v4m20-4v1"/>
<path stroke="#0073ff" d="M561.5 270v1m2-18v1m12 14v1m30-9v1m11-11v1m12 5v1m1 3v2m6-2v1m16-12v1m0 2v1"/>
<path stroke="#1198ee" d="M561.5 271v1m5-19v1m1 4v2m2 1v1m2-5v1m7 28v5m1-3v1m1-14v1m0 5v1m3-22v1m0 15v1m3 0v2m2-8v1m0 2v1m2-22v1m3-2v1m3 14v2m0 7v2m3-14v1m4-3v1m13-15v1m22 10v1m2-7v1"/>
<path stroke="#43a0bc" d="M561.5 272v1m1-8v1m1-16v1m4 5v1m4-1v1m0 9v1m1-3v1m1 8v2m4-24v1m1 32v1m1-11v4m0 4v2m0 2v1m1-13v1m0 7v2m5-15v1m4-7v1m3-8v1m2-8v1m0 39v1m2-38v3m2-6v1m0 11v1m0 1v1m1 1v1m2 2v1m0 1v1m2-20v1m0 1v1m1-7v1m3 18v1m4-6v1m5-15v1m6 7v1m1-9v4m1 3v1m1-5v1m4 3v1m0 2v1m14-8v1"/>
<path stroke="#40bdbe" d="M561.5 273v1m1 1v3m4-24v2m3 8v1m3 16v1m1-28v2m0 16v1m0 8v5m2-15v1m2 2v1m1-23v1m0 30v1m1-12v2m0 4v4m1 2v3m1-10v1m1 2v1m0 6v1m1-11v1m3-30v1m0 31v1m1-3v2m2-18v1m4 17v1m2-23v1m0 20v1m1-15v1m1-8v1m1-9v1m0 9v1m5-11v1m0 13v1m3 6v1m2-25v2m1 0v2m0 3v1m7-2v1m0 1v1m1 2v1m1-5v2m4-2v1m5 6v1m1 7v1m8-23v1m0 11v1m4-8v1m0 6v1m1-9v1m2 5v1m5 1v1m4-1v1"/>
<path stroke="#5ed8a0" d="M561.5 274v1m1-4v2m0 5v1m7-14v1m1-19v1m2 31v2m1-25v4m0 11v1m1-5v1m0 27v1m1-21v1m1 16v1m2-25v1m2 18v2m1-4v1m1 2v1m2-30v1m3 15v2m5-22v1m1 25v1m2 2v3m3-36v1m1 14v1m7 5v1m3-18v1m2 0v1m5-3v1m2 6v1m4-12v1m19 8v1m1-2v1m1-1v2"/>
<path stroke="#50f9af" d="M561.5 275v1m2-17v1m10 1v2m0 29v1m1-19v1m0 27v1m4-56v1m0 21v1m0 2v1m0 9v1m1 10v1m1 8v1m4-45v1m0 8v2m7-21v1m2 33v1m2 4v1m0 2v1m1-27v1m0 16v1m2-30v1m1-1v1m1 14v1m10-18v1m13 8v1m12-9v1m7 1v1m4 4v1m7 1v1"/>
<path stroke="#6cf993" d="M561.5 276v1m2-17v1m1-1v1m2 2v1m6 9v1m3 2v2m0 5v4m3-12v1m4-2v1m2-6v1m2-10v1m1 13v1m2-15v1m0 9v1m2-22v1m2 33v1m3-21v1m2-11v1m0 4v1m5 7v1m8-14v1m5 8v1m9-6v1m2 2v1m0 5v1m9-19v1m1 8v1m5-6v1m4 9v1m2-3v1m3-6v1m1 4v1"/>
<path stroke="#98ff67" d="M561.5 277v1m2-17v1m11 14v1m0 7v1m1 22v1m1-12v1m2-1v1m1-3v1m0 2v1m0 9v1m1-17v1m6-19v1m12-20v1m5 12v1m22-5v1"/>
<path stroke="#b8ff47" d="M561.5 278v1m13-1v2m0 6v1m2-39v1m1 46v1m14-45v1m12 16v1m7-21v1m27 5v1"/>
<path stroke="#bcf943" d="M561.5 279v1m2-18v1m9-13v1m2 36v1m0 2v1m0 7v1m3-15v1m3 7v1m8-12v1m1-9v1m3 0v1m6-7v1m1-2v1m44-7v1m9-1v1"/>
<path stroke="#bde742" d="M561.5 280v2m3-13v1m3-22v2m1 8v2m1 7v1m1 4v1m1 11v1m1-36v1m7 17v1m5 2v1m2 0v2m2-10v1m0 3v1m1 8v2m2-26v1m1 0v1m1 31v1m4-15v1m5-10v2m2-10v1m4 2v1m1-1v1m3 6v1m4-2v1m7-4v1m2-5v1m1-4v1m0 2v2m1 9v1m7-14v1m1-5v1m1-1v1m6 10v1m4 1v1m7-13v4"/>
<path stroke="#cdc432" d="M561.5 282v1m1-3v1m1-17v1m0 5v3m3-5v1m2-7v2m2 9v1m1 11v1m1-38v1m1 45v1m1-37v1m5 7v1m3-20v1m4 21v2m2-18v1m0 10v3m4 10v1m1 8v2m1 6v1m1-2v1m2-22v1m10-18v1m5-2v1m1 11v1m8-11v2m0 5v1m3-1v1m4 7v1m2-9v1m1-17v1m1 14v1m1-3v1m1-8v1m0 9v1m5-3v1m1 0v1m1-1v1m5 1v1m1-2v1m1-2v1m1-12v1"/>
<path stroke="#ff8400" d="M561.5 284v1m12 13v1m0 7v1m8-9v1m0 7v1m6-15v1m1-5v1m6 8v1m0 4v1m1-6v1m0 4v1m3-33v1m13-4v1m3-12v1m6 7v1m23-2v1m3 1v1m3-3v1m3-1v1m1-1v1"/>
<path stroke="#ff4300" d="M561.5 285v1m11 15v3m4 7v1m2-1v1m4-11v3m18-33v1m13 0v1m2-8v1m4 0v1m2-2v1m4 0v1m10-1v1m3-2v1m2-2v1m3-1v1m4 0v1"/>
<path stroke="#f50c01" d="M561.5 286v1m4-16v1m1-1v1m1-1v1m5 26v1m0 7v1m5 5v1m5-15v1m0 7v1m16-35v1m5 0v1m2 0v1m6-6v1m3-9v2m1 4v1m4-1v1m2-2v1m1-1v1m1-2v1m3 4v1m1 0v1m1 2v1m3-10v1m1 0v1m1-2v1m2 1v1m2-2v1m1-1v1m1-1v1m4-2v1m3 1v1m1-2v1m2-2v1"/>
<path stroke="#e50100" d="M561.5 287v1m3-13v1m1-4v1m4-1v1m3 22v1m1 13v1m8-1v1m13-7v1m1-1v1m5-31v1m7 3v1m2-8v1m11-4v1m3-2v1m1 0v1m1 0v1m2 3v1m3-6v1m1-2v1m2-1v1m3 0v1m4-2v1m10-2v1m1 0v1"/>
<path stroke="#c70000" d="M561.5 288v1m1-3v1m1-7v1m1-5v1m2-4v1m1-1v1m1-2v1m3 18v1m2 18v1m8-1v1m2-24v1m2-8v1m2 14v1m1-3v1m1-9v1m2-8v1m1 7v1m8-13v1m1 6v1m4-6v1m1 2v1m3-9v1m1-1v1m4 2v1m9-7v1m1-1v1m4 7v1m3-9v1m1-1v1m1-1v1m1-1v1m2-1v1m1-1v1m2-1v1m12-2v1m2-1v1"/>
<path stroke="#bd0000" d="M561.5 289v1m7-17v1m1 0v1m2 27v1m1 5v1m5 4v1m5-6v1m1-7v1m10-8v1m5-22v1m7 2v1m2 1v1m1-5v1m4-1v1m1 0v1m3-8v1m1-1v1m3-1v1m2-1v1m1-1v1m2 0v1m4 3v1m1-6v1m4-1v1m6-2v1m2-1v1m3-1v1m1 0v1m1-2v1m1-1v1"/>
<path stroke="#ae0000" d="M561.5 290v1m1-3v1m1-7v1m1-5v1m2-4v1m5 17v1m15-1v1m1 3v1m1-3v1m15-19v1m2 0v1m3-3v1m4-1v1m6-7v1m2-1v1m4-1v1m1 0v1m6-2v1m1-1v1m1-1v1m1-1v1m2-1v1m1-1v1m1-1v1m7-2v1m1 0v1m2-2v1m3-1v1m2-1v1"/>
<path stroke="#a20000" d="M561.5 291v1m1-3v1m1-7v1m1-5v1m1-3v1m1-2v1m1-1v1m1-1v1m2 8v1m1 8v1m1 14v1m1 1v1m2 1v1m4-1v1m2-3v1m1-3v1m1-19v1m4 6v1m1-3v1m2-18v1m1 1v1m1 7v1m2 14v1m3-21v1m1-9v1m1 0v1m1 0v1m3-1v1m2 0v1m1 2v1m2-6v1m1-4v1m3 2v1m2-1v1m1-6v1m1-1v1m1-1v1m1-2v1m2-1v1m1-1v1m2-1v1m1-1v1m1 0v1m2 4v1m4-7v1m1-1v1m1-1v1m1-1v1m2-1v1m1-1v1m1-1v1m1-1v1m1-1v1m1-1v1m2-2v1m1-1v1m1-1v1m1 0v1m2-2v1m1-1v1m1-1v1m1-1v1m2-1v1"/>
<path stroke="#9e0000" d="M561.5 292v1m1-3v1m1-7v1m1-5v1m1-3v1m1-2v1m1-1v1m1-1v1m2 8v1m1 8v1m0 2v1m0 7v1m12-15v1m0 5v1m0 7v1m2-23v1m2 14v1m1-3v1m1-8v1m1-11v1m1 1v1m1 7v1m2 14v1m4-28v1m1-1v1m1 0v1m1 4v1m1-1v1m1-6v1m2 0v1m3-3v1m1-4v1m3 2v1m3-6v1m1-1v1m2-2v1m2-1v1m1-1v1m1-1v1m1-1v1m1-1v1m1 0v1m4 3v1m1-6v1m1-1v1m1-1v1m1-1v1m1-1v1m1-1v1m1-1v1m1-1v1m1-1v1m1-1v1m1-1v1m1-1v1m2-2v1m1-1v1m1-1v1m1 0v1m2-2v1m1-1v1m1-1v1m1-1v1m2-1v1"/>
<path stroke="#9a0000" d="M561.5 293v1m1-3v1m1-7v1m6-8v1m2 17v1m12-4v1m3 0v1m2 3v1m5 4v1m1 2v1m1-3v1m1-2v1m4-24v1m1 4v1m1-1v1m1-6v1m1-1v1m1 0v1m1 1v1m1-1v1m1-5v1m2-5v1m1-1v1m2 4v1m1-3v1m1-5v1m2-2v1m1-1v1m1-1v1m1-1v1m1-1v1m1-1v1m1-1v1m1-1v1m1 0v1m1 1v1m1 1v1m1 1v1m1-3v1m1-6v1m4-1v1m1-1v1m2-1v1m1-1v1m4-2v1m1-1v1m2-1v1m1 0v1m1-2v1m5-2v1"/>
<path stroke="#950000" d="M561.5 294v1m1-3v1m1-7v1m1-5v1m1-3v1m1-2v1m1-1v1m1-1v1m3 27v1m6 6v1m6-18v1m3-3v1m1 5v1m1-3v1m1-8v1m5 14v1m4-28v1m1-1v1m1 0v1m1 4v1m1-1v1m1-6v1m1-1v1m1 0v1m2 2v1m1-6v1m1-4v1m1-2v1m1-1v1m1 3v1m1 0v1m1-3v1m1-5v1m1-1v1m1-1v1m1-1v1m1-2v1m1-1v1m1-1v1m1-1v1m1-1v1m1-1v1m1 0v1m1 1v1m1 2v1m1 1v1m1-4v1m1-6v1m1-1v1m1-1v1m1-1v1m1-1v1m1-1v1m1-1v1m1-1v1m1-1v1m1-1v1m1-1v1m1-1v1m2-2v1m1-1v1m1-1v1m1 0v1m1-1v1m1-2v1m1-1v1m1-1v1m1-1v1m1-1v1m1-1v1"/>
<path stroke="#920000" d="M561.5 295v1m1-3v1m1-7v1m1-5v1m1-3v1m1-2v1m1-1v1m1-1v1m1 0v1m3 28v1m10-1v1m1-16v1m0 11v1m3-12v1m1 5v1m1-3v1m1-8v1m1-10v1m1 0v1m1 7v1m2 14v1m1-4v1m3-25v1m1-1v1m1 0v1m1 4v1m1-1v1m1-6v1m1-1v1m1 0v1m1 1v1m2-5v1m1-4v1m1-2v1m1-1v1m2 4v1m1-3v1m1-5v1m1-1v1m3-2v1m1-1v1m1-1v1m1-1v1m1-1v1m1-1v1m1 0v1m1 1v1m3 1v1m1-6v1m1-1v1m1-1v1m1-1v1m1-1v1m1-1v1m1-1v1m1-1v1m1-1v1m1-1v1m1-1v1m2-2v1m1-1v1m1-1v1m1-1v1m1 0v1m2-2v1m1-1v1m1-1v1m1-1v1m1-1v1m1-1v1"/>
<path stroke="#900000" d="M561.5 296v1m1-3v1m1-7v1m1-5v1m1-3v1m1-2v1m1-1v1m1-1v1m1 0v1m17 14v1m1 5v1m1-3v1m2-17v1m4 23v1m1-4v1m3-25v1m1-1v1m1 0v1m1 4v1m7-7v1m6-2v1m1-5v1m6-2v1m1-1v1m1-1v1m1-1v1m1 0v1m4 3v1m2-6v1m1-1v1m1-1v1m1-1v1m2-1v1m1-1v1m1-1v1m1-1v1m1-1v1m3-2v1m1-1v1m1-1v1m3-1v1m1-1v1m1-1v1m1-1v1m1-1v1m1-1v1"/>
<path stroke="#8e0000" d="M561.5 297v1m1-3v1m1-7v1m1-5v1m1-3v1m1-2v1m1-1v1m1-1v1m1 0v1m1 7v1m4 21v1m6-1v1m4-28v2m2 10v1m1 5v1m1-3v1m1-9v2m1-10v1m1 0v1m1 7v1m0 2v1m1 5v1m1 5v1m1-4v1m3-25v1m1-1v1m1 0v1m1 4v1m1-2v1m1-5v1m1-1v1m1 0v1m1 1v1m1-1v1m1-5v1m1-5v2m1-2v1m1-1v1m1 2v1m1 1v1m1-3v1m1-5v1m1-2v2m1-2v1m1-1v1m1-1v1m1-1v1m1-1v1m1-1v1m1-1v1m1-1v1m1 0v1m1 1v1m1 1v1m1 1v1m1-3v1m1-6v1m1-1v1m1-1v1m1-1v1m1-1v1m1-1v1m1-1v1m1-1v1m1-1v1m1-1v1m1-1v1m1-2v1m1-1v1m1-1v1m1-1v1m1-1v1m1 0v1m1-2v1m1-1v1m1-1v1m1-1v1m1-1v1m1-1v1m1-1v1"/>
<path stroke="#8d0000" d="M561.5 298v1m1-3v1m8-5v1m3 19v1m2 1v1m6-3v1m4-21v1m6-5v1m1 7v2m3 10v1m2-17v1m1-9v1m2 0v1m1 4v1m1-2v1m1-5v1m1-1v1m1 0v1m1 1v1m1-1v1m1-5v1m2-5v1m1-1v1m1 2v1m1 1v1m1-3v1m1-5v1m2-2v1m1-1v1m1-1v1m1-1v1m1-1v1m1-1v1m1-1v1m1-1v1m1 0v1m1 1v1m1 1v1m1 1v1m2-8v1m4-1v1m1-1v1m6-2v1m1-1v1m1-1v1m1-1v1m1-1v1m1 0v1m1-2v1"/>
<path stroke="#8c0000" d="M561.5 299v1m2-10v1m1-5v1m1-3v1m1-2v1m1-1v1m1-1v1m1 0v1m2 23v1m13-21v1m2 10v1m1 5v1m1-3v1m1-8v1m1-10v1m3 17v1m1 5v1m3-19v1m2-10v1m2 6v1m1-2v1m1-5v1m1-1v1m1 0v1m1 1v1m1-1v1m2-9v1m1-1v1m1-1v1m1 2v1m1 1v1m1-3v1m2-6v1m1-1v1m1-1v1m1-1v1m1-1v1m1-1v1m5 2v1m1 1v1m1 1v1m1-4v1m1-5v1m1-2v1m1-1v1m1-1v1m2 0v1m1-2v1m1-1v1m1-1v1m1-1v1m1-1v1m1-1v1m1-1v1m1-1v1m3 0v1m1-2v1m1-2v1m1-1v1m1-1v1m1-1v1m1-1v1m1-1v1"/>
<path stroke="#8a0000" d="M561.5 300v2m1-4v1m1-7v1m1-5v1m1-3v1m1-2v1m1-1v1m1-1v1m1 0v1m1 7v1m4 20v1m1 0v1m2-2v1m7-26v1m1 2v1m1 7v1m1 5v1m1-3v1m1-8v1m1-10v1m1 0v1m1 11v1m1 4v1m1 5v1m1-4v1m1-6v1m1-9v1m1-12v1m1-1v1m1 0v1m1 4v2m1-2v1m1-6v2m1-1v1m1 0v1m1 1v1m1-1v1m1-6v1m1-4v1m1-1v1m1-1v1m1 2v1m1 1v1m1-4v2m1-6v1m1-1v1m1-1v1m1-1v1m1-1v1m1-1v1m1-2v2m1-2v1m1-1v1m1-1v1m1 0v1m1 2v1m1 1v1m1 1v1m1-4v1m1-6v2m1-2v1m1-1v1m1-1v1m1-1v1m1 0v1m1-2v1m1-1v1m1-1v1m1-1v1m1-1v1m1-1v1m1-1v1m1-2v2m1-2v1m1-1v1m1 1v1m1-2v1m1-2v1m1-1v1m1-1v1m1-1v1m1-1v1m1-1v1"/>
<path stroke="#890000" d="M561.5 302v1m1-4v2m1-8v1m1-5v2m1-4v2m1-3v2m1-2v2m1-2v2m1-1v1m1 7v1m0 6v1m2 8v1m1 1v1m1 2v1m1 0v2m1-4v2m1-1v1m1-2v1m1-1v1m1-2v2m1-3v1m1-3v1m2-21v1m0 10v1m1-9v1m1 7v1m1 5v2m1-4v2m1-9v1m1-10v1m1 0v2m2 15v1m1 5v2m1-5v2m1-7v1m1-12v2m0 5v1m1-16v2m1-2v2m1-1v2m1 4v1m1-2v1m1-5v1m1-1v1m1 0v1m1 1v1m1-1v1m1-6v2m1-5v1m1-1v1m1-1v1m1 2v1m1 1v1m1-3v1m1-6v2m1-2v1m1-1v1m1-1v1m1-1v1m1-1v1m1-1v1m1-2v2m1-2v2m1-2v2m1-1v2m1 1v1m1 1v1m1 1v1m1-4v2m1-6v1m1-2v2m1-2v2m1-2v2m1-2v2m1-1v1m1-2v2m1-2v2m1-2v2m1-2v2m1-2v1m1-1v1m1-1v1m1-1v1m1-2v2m1-2v2m1 0v1m1-2v1m1-2v2m1-2v2m1-2v2m1-2v2m1-2v2m1-2v2"/>
<path stroke="#880000" d="M561.5 303v2m1-4v2m1-9v2m1-5v1m1-3v1m1-2v1m1-1v1m1-1v1m1-1v2m1 6v6m0 1v1m1 5v1m1 2v1m1 1v2m1 1v2m1 0v1m1-3v1m1-1v2m1-3v2m1-2v2m1-2v1m1-3v1m1-3v1m2-21v2m0 7v1m0 1v1m1-9v2m1 6v2m1 5v1m1-3v1m1-9v2m1-11v2m1 0v1m2 15v2m1 5v1m1-4v2m1-8v2m2-20v1m1-1v1m1 0v1m1 4v2m1-3v2m1-6v2m1-2v2m1-1v2m1 0v2m1-2v2m1-6v1m1-5v2m1-2v2m1-2v2m1 1v2m1 0v2m1-4v2m1-6v2m1-3v2m1-2v2m1-2v2m1-2v2m1-2v2m1-2v2m1-2v2m1-2v2m1-2v1m1 0v2m1 0v2m1 0v2m1 0v2m1-4v1m1-6v2m1-2v1m1-1v1m1-1v1m1-1v2m1-2v2m1-2v1m1-1v1m1-1v1m1-1v1m1-2v2m1-2v2m1-2v2m1-2v2m1-2v1m1-1v1m1 0v2m1-3v2m1-2v1m1-1v1m1-1v1m1-1v1m1-1v1m1-1v1"/>
<path stroke="#870000" d="M561.5 305v2m1-4v2m1-9v3m1-7v3m1-5v3m1-4v3m1-3v3m1-3v3m1-2v3m1 11v2m1 4v1m1 2v2m1 1v2m1 1v3m1-2v3m1-5v3m1-2v3m1-4v3m1-3v2m1-3v3m1-5v3m1-5v2m1-6v1m1-16v2m0 2v3m0 3v1m1-8v2m1 6v3m1 3v3m1-5v3m1-10v3m1-12v3m1-2v3m1 6v2m1 6v3m1 3v3m1-5v2m1-8v2m2-21v3m1-3v3m1-2v3m1 3v2m1-3v3m1-7v2m1-2v2m1-1v2m1 0v2m1-2v2m1-7v3m1-6v3m1-3v2m1-2v2m1 1v2m1 0v2m1-4v2m1-6v2m1-3v3m1-3v3m1-3v3m1-3v2m1-2v2m1-2v2m1-2v2m1-2v2m1-3v3m1-1v2m1 0v2m1 0v3m1-1v3m1-6v3m1-7v2m1-3v3m1-3v3m1-3v3m1-2v2m1-2v2m1-3v3m1-3v3m1-3v3m1-3v3m1-3v3m1-3v3m1-3v2m1-2v2m1-3v3m1-3v3m1-1v3m1-4v3m1-4v3m1-3v3m1-3v3m1-3v3m1-3v3m1-3v3"/>
<path stroke="#860000" d="M561.5 307v5m1-7v5m1-11v4m1-8v4m1-6v4m1-5v4m1-4v4m1-4v4m1-3v4m1 9v2m1 3v3m1 1v5m1-2v5m1-1v4m1-3v4m1-6v4m1-3v4m1-5v4m1-5v5m1-5v4m1-6v4m1-7v4m1-9v1m1-15v2m0 7v2m1-8v5m1 4v4m1 2v4m1-6v4m1-11v4m1-13v4m1-3v5m1 3v5m1 4v4m1 2v4m1-7v5m1-11v5m1-13v2m1-12v4m1-4v4m1-3v4m1 1v5m1-5v4m1-9v5m1-5v5m1-4v5m1-3v5m1-5v5m1-9v4m1-7v4m1-5v5m1-5v5m1-2v5m1-3v5m1-7v5m1-9v5m1-5v4m1-4v4m1-4v4m1-5v5m1-5v5m1-5v5m1-5v5m1-5v5m1-5v4m1-3v5m1-3v5m1-2v4m1-2v4m1-7v4m1-9v5m1-5v4m1-4v4m1-4v4m1-4v5m1-5v5m1-5v4m1-4v4m1-4v4m1-4v4m1-4v4m1-4v4m1-5v5m1-5v5m1-5v4m1-4v4m1-2v4m1-5v4m1-5v4m1-4v4m1-4v4m1-4v4m1-4v4m1-4v4"/>
<path stroke="#850000" d="M561.5 312v33m1-35v35m1-42v42m1-46v46m1-48v48m1-49v49m1-49v49m1-49v49m1-48v48m1-37v37m1-31v31m1-25v25m1-22v22m1-19v19m1-18v18m1-20v20m1-19v19m1-20v20m1-20v20m1-21v21m1-23v23m1-26v26m1-34v34m1-38v38m1-41v41m1-33v33m1-27v27m1-29v29m1-36v36m1-45v45m1-43v43m1-35v35m1-27v27m1-21v21m1-23v23m1-29v29m1-40v40m1-48v48m1-48v48m1-47v47m1-41v41m1-42v42m1-46v46m1-46v46m1-45v45m1-43v43m1-43v43m1-48v48m1-51v51m1-51v51m1-51v51m1-48v48m1-46v46m1-48v48m1-52v52m1-53v53m1-53v53m1-53v53m1-53v53m1-53v53m1-53v53m1-53v53m1-53v53m1-54v54m1-52v52m1-50v50m1-48v48m1-46v46m1-49v49m1-53v53m1-54v54m1-54v54m1-54v54m1-53v53m1-53v53m1-54v54m1-54v54m1-54v54m1-54v54m1-54v54m1-54v54m1-54v54m1-54v54m1-55v55m1-55v55m1-53v53m1-54v54m1-55v55m1-55v55m1-55v55m1-55v55m1-55v55m1-55v55"/>
<path stroke="#7b217b" d="M562.5 247v6m2-6v3m1-1v5m3-6v5m5-6v1m4 6v2m7-7v4m5-6v1m1-1v2m0 18v1m1-11v5m2-15v3m12 13v5m10-14v5m11-12v3m18-1v1m1 1v4m3-8v4"/>
<path stroke="#7d487c" d="M562.5 253v3m1-9v1m2 0v1m0 5v1m3-8v1m0 5v1m4 13v2m1-21v1m4 4v1m0 2v1m1-1v1m6-9v1m0 4v1m5-6v1m1 0v1m0 16v1m0 1v1m1-13v1m0 5v1m1-15v2m9 8v8m4 2v1m3-6v1m5-3v3m2-11v1m0 5v1m11-10v1m6-4v2m12-1v1m0 1v1m1-1v1m0 4v1m2-6v3m1-2v1"/>
<path stroke="#7e627d" d="M562.5 256v1m1-9v1m1 1v1m1 4v1m5 1v1m2 8v1m5-10v1m1-3v1m0 1v1m2 0v2m1 8v2m3-23v1m0 6v1m7 8v2m2-15v1m4 1v1m0 14v1m2-21v1m2 9v1m0 15v2m1-27v2m3 12v1m2-14v4m0 10v2m1-3v1m2-4v2m3-1v1m0 3v1m7-9v2m5-6v1m4 12v2m3-18v1m10-2v1m2-2v1m3 1v1m0 3v1m1-2v1m1 3v1"/>
<path stroke="#69788b" d="M562.5 257v1m0 6v1m8-6v1m1 4v1m4-16v4m2-1v1m1 6v1m8-6v1m8 7v3m1 1v1m0 3v2m6-16v1m0 10v1m1-21v1m0 2v1m2-1v1m14 7v1m6-2v2m8-9v1m1 3v1m10-7v1m2 7v1m2-2v1m2-9v1m0 9v1"/>
<path stroke="#7c9f82" d="M562.5 258v3m1-12v1m3 7v1m0 2v1m2-6v1m2 4v2m2 8v1m2-20v1m0 12v2m1-10v1m2 31v4m4-26v1m0 5v1m1-23v1m1 3v1m0 25v1m2-30v1m0 9v1m0 1v1m1-7v1m1 10v2m2-2v1m2-15v1m2 17v1m0 2v1m1-17v2m0 30v1m1-28v1m1-16v3m0 6v3m1-7v1m0 14v1m2-21v1m3 21v1m2-24v1m0 2v1m2 0v1m1-6v1m1 17v1m3-14v1m0 6v1m1-10v1m1-3v1m0 16v1m5-9v1m0 2v1m4-1v2m2-1v1m12-8v4m2-11v2m0 4v1m1-5v1m0 8v2m1-9v1m1-5v1m6-1v1m2 1v1m3-3v1"/>
<path stroke="#828a7c" d="M562.5 261v1m3 2v1m0 2v1m1-10v2m6 5v1m2-16v1m2 4v1m4 0v1m0 4v1m0 7v1m0 2v1m3-18v1m0 2v1m1-4v1m1 6v1m0 8v1m0 2v1m1-19v1m2-6v1m1 13v1m2 5v1m1-21v1m0 19v1m0 7v2m2-20v1m0 5v1m1-3v1m0 6v1m2-12v1m4 10v1m1-1v1m2-24v1m2 3v3m1-3v1m0 8v1m0 2v1m1-6v1m2-3v1m2-8v1m1-5v1m5 11v1m4-13v1m3 3v1m0 2v1m1-4v1m5 4v1m0 1v1m1-1v2m1-2v1m4-11v1m1 0v3m4-3v1m2 1v1m5-4v1"/>
<path stroke="#817d77" d="M562.5 262v2m3-8v1m5-3v2m3-7v1m2-2v1m0 6v1m3-2v1m0 3v1m3 8v1m4 4v2m3-26v1m1 0v1m0 16v2m1-18v1m1 18v2m3-6v1m3-17v2m0 11v3m4 11v1m1-2v1m5-28v1m4-2v3m18 18v1m2-12v1m1-7v1m1 3v2m15-4v1"/>
<path stroke="#2c88ce" d="M562.5 266v1m3-9v1m2-2v1m0 2v1m4 1v1m2-11v2m0 21v1m2-19v1m1-5v1m3 33v1m8-24v1m5-8v1m2 30v1m1-40v1m0 7v1m1 8v1m2-20v1m0 14v1m3 6v1m2-16v1m2 6v1m1-5v1m0 5v3m11-15v3m0 1v3m2-6v2m1-1v1m3-3v1m1-1v1m3-5v1m2 10v1m4-7v1m5 2v1m7 1v1m2-1v1m1-2v3m4-8v1"/>
<path stroke="#0fdcf0" d="M562.5 268v1m2-10v1m6 8v1m1-22v1m0 20v1m1 14v1m2-16v1m0 3v1m2 12v1m2-36v2m7 15v1m8 0v1m1 12v1m2-11v4m13-24v1m1 0v1m1 10v1m15-3v1m2-2v1m15-9v1"/>
<path stroke="#5ceba2" d="M562.5 270v1m4-5v1m5 3v1m0 11v1m1-9v1m1-15v1m0 9v1m1 23v1m1-16v1m0 7v2m5 0v1m1-4v1m1-34v1m2 12v1m14-1v1m5-2v1m6-19v1m25 9v1m19-2v1"/>
<path stroke="#67be98" d="M562.5 273v2m4-19v1m1-2v1m4-1v1m3-2v1m1 17v3m0 5v2m2-7v2m0 10v1m4-23v1m0 7v1m0 9v2m1-6v1m1-2v1m3 2v1m1-5v1m0 2v3m2-14v1m4 0v1m2 6v2m1-24v2m1-2v1m1 3v1m0 4v2m4 2v3m5-1v1m1-4v1m1-20v1m13 0v1m14 8v1m5-9v1m3 1v1m5 5v1m3-10v2"/>
<path stroke="#8ff070" d="M562.5 279v1m5-29v1m3 12v1m1 18v1m1-33v1m1 13v1m0 27v1m1-12v1m2 11v1m1-17v1m0 6v1m0 8v1m3-48v1m2 27v2m2-13v1m1-9v1m3 5v1m1 8v1m2-22v1m1 3v1m1 29v1m5-29v1m14 8v1m18-4v1m7-8v1m1 6v1m6-6v1m9-3v1"/>
<path stroke="#fb6c03" d="M562.5 282v1m1-8v1m2-7v1m3-3v1m11-11v1m0 1v3m1 5v1m4 4v1m6-2v1m5 23v1m7-39v1m3 14v1m1-26v2m2 22v1m1-5v1m3-9v3m1-7v1m0 1v1m1-1v1m7-10v2m1 14v1m4 3v1m1 0v1m7-20v1m10 9v1"/>
<path stroke="#fa4904" d="M562.5 283v1m1-8v1m1-4v1m5-4v1m3 22v1m1 2v1m7-33v1m0 1v1m9 16v1m1-12v1m3 25v1m0 2v1m3-4v1m0 2v1m6-48v3m1 15v1m3 3v1m8-19v1m6 6v1m2-1v1m10-13v1m0 2v1m2-8v1m0 15v1m10-5v3"/>
<path stroke="#d80a02" d="M562.5 284v2m1-7v1m8 10v1m1 6v1m0 9v1m10-13v1m0 1v1m0 9v1m2-34v2m2 16v1m2-1v1m2-19v2m1 1v1m1 7v1m1 8v1m0 2v1m0 4v1m3-11v1m0 4v1m0 4v1m2-30v1m3 6v1m1-1v1m1-7v1m3 2v2m2-6v1m3-4v1m1 2v1m2-1v1m1-6v1m14 3v1m15-8v1"/>
<path stroke="#b50000" d="M562.5 287v1m2-11v1m1-3v1m1-2v1m1-1v1m4 26v1m0 1v1m5 9v1m2-1v1m5-13v1m0 1v1m4-8v1m1-3v1m11-20v1m2 6v1m5-3v1m3-9v1m1-1v1m4 2v1m4-7v1m3-1v1m3-1v1m2 3v1m1 1v1m1 1v1m3-9v1m1-1v1m1-1v1m3-1v1m1-1v1m1-1v1m1-1v1m2-1v1m3-2v1m5-1v1m2-1v1m2-1v1"/>
<path stroke="#8b0000" d="M562.5 297v1m1-7v1m1-5v1m1-3v1m1-2v1m1-1v1m1-1v1m1 0v1m1 7v1m4 20v1m1 0v1m4-2v1m4-7v1m1-20v1m2 10v1m1 5v1m1-3v1m1-8v1m1-10v1m1 0v1m2 16v1m1 5v1m1-4v1m1-6v1m1-11v1m1-10v1m1-1v1m1 0v1m2 4v1m2-5v1m1 0v1m1 1v1m1-1v1m1-6v1m1-4v1m1-1v1m1-1v1m1 2v1m1 1v1m2-8v1m1-1v1m1-1v1m1-1v1m1-1v1m1-1v1m2-2v1m1-1v1m1-1v1m1 0v1m1 2v1m1 1v1m1 1v1m1-4v1m2-6v1m1-1v1m1-1v1m1-1v1m1 0v1m1-2v1m1-1v1m1-1v1m1-1v1m1-1v1m1-1v1m1-1v1m2-2v1m1-1v1m1 1v1m1-2v1m1-2v1m1-1v1m1-1v1m1-1v1m1-1v1m1-1v1"/>
<path stroke="#11a5ee" d="M563.5 251v1m6 10v1m3 23v2m1-12v2m0 11v1m3-38v1m0 22v1m0 7v1m2 1v1m1-35v1m3 20v1m0 8v1m0 4v1m6-12v1m8-7v1m0 8v1m5-32v1m2 1v1m1 15v1m2-4v1m0 7v1m10-15v1m24 1v1m1-7v1m4 5v1m5-11v1m2 9v1"/>
<path stroke="#0084ff" d="M563.5 255v1m1 2v1m12 10v1m24-21v1m16-1v1m1-3v2m11 14v1m13-10v2"/>
<path stroke="#00a4ff" d="M563.5 256v1m12 44v3m3-13v1m1-2v1m0 10v3m14-37v1m1 14v1m5-28v1m20-1v1m8 7v1m1-7v1m23-5v1"/>
<path stroke="#00c4ff" d="M563.5 257v1m9-4v1m2 14v3m1 28v1m0 3v1m2-36v1m2 21v1m0 8v1m0 3v1m9-35v1m19-3v1m20-7v1m1-5v1"/>
<path stroke="#2fdccf" d="M563.5 258v1m8 21v1m1 1v1m0 6v1m1-4v1m0 4v1m3-2v2m3-21v1m0 20v1m2-19v1m0 1v1m1-4v1m4-27v1m0 27v1m3-15v1m4 7v1m2 10v4m2-28v1m7 9v1m4-18v2m1 2v1m7 7v1m1-3v1m1-12v2m4 1v3m3 4v1m1 1v1m1 4v1m3-5v1m6-2v1m6-4v1m1-2v1m1-4v1m1 6v1m1-5v2m1 3v1m3-15v1m0 10v1m1-5v1m2 2v1m0 1v1"/>
<path stroke="#eaf815" d="M563.5 263v1m12 44v1m1 0v1m2-1v1m1-56v1m0 41v1m0 11v1m1-15v1m12-20v1m18-29v1m9 16v1m7-11v1m10 8v1m1-11v1"/>
<path stroke="#d1a22d" d="M563.5 265v2m0 1v2m0 3v1m1-9v1m4-2v2m1 2v1m1 5v1m1 11v1m3-26v1m5 3v1m1-13v2m2 36v1m4-24v1m7 19v1m1-32v1m2-11v1m1 25v1m5-22v1m4 21v1m1-2v1m5-11v1m1-12v2m1-3v1m6 8v1m3 0v1m8-14v3m0 4v1m0 4v1m4-14v1m2 14v1m2-11v1m0 3v1m1-10v1m9 5v1"/>
<path stroke="#bf8536" d="M563.5 267v1m2 0v1m2-5v4m3-18v4m4 8v1m1-16v1m5 14v1m0 5v1m3 13v1m2-7v1m1 7v1m2-38v1m1 2v1m0 29v2m2-9v1m1 7v2m1 6v1m3-3v2m1-42v2m0 25v3m4 0v1m1-2v1m4-27v1m1 10v1m2 1v3m3-13v1m0 15v1m1-19v1m1-3v2m0 17v2m1-8v1m7 0v1m15-15v1m14 10v2"/>
<path stroke="#f5870a" d="M563.5 274v1m5-9v1m1 2v1m2 17v1m8-32v1m1 6v1m2 28v1m4-4v2m2-2v2m1-40v1m5 1v1m9 17v1m3-23v1m0 25v1m1-18v2m0 14v1m1-5v1m1-12v1m0 2v1m0 3v1m3-5v1m1-9v1m1-3v4m0 11v1m1-5v1m5-3v1m1-15v1m0 2v1m2 11v1m2 2v1m6-15v3m0 7v1m3-15v1m0 3v1m0 12v1m3-2v1m2-11v3m12 6v1"/>
<path stroke="#d32713" d="M563.5 277v2m7 1v2m1 7v1m12-5v2m2-9v2m1 7v1m3-4v1m2-9v1m1 7v1m1 8v1m3-3v1m1-13v2m4-2v1m1-1v1m6-8v1m4-1v1m2-1v1m15-2v1"/>
<path stroke="#b30703" d="M563.5 281v1m6-7v1m1 7v2m1 7v1m12-5v2m1-14v2m1 3v1m4 4v2m1-11v1m1 1v1m1 7v1m1 8v1m3-3v1m1-13v2m1-9v1m2-1v2m3-1v1m12-7v1"/>
<path stroke="#307dc4" d="M564.5 251v1m1 11v1m8-13v1m3 8v1m0 1v1m2-3v3m5-14v1m3 3v1m1 11v1m3-14v1m0 11v1m4-17v1m4-1v1m3 6v1m14-5v1m2 2v1m7-3v2m5 9v1m10-17v1m6-1v1m3 7v1"/>
<path stroke="#0761f5" d="M564.5 252v1m1 7v2m1-13v3m3 6v1m2 2v1m1-4v2m0 1v1m3-4v1m1 19v3m1-17v1m2-15v1m1 27v2m1-31v1m0 6v1m1 26v2m5-25v3m6-10v1m0 12v1m1 17v2m1-32v1m4 1v1m1 1v1m1-5v1m2 1v1m0 3v1m2-13v1m0 2v3m1 13v2m9-19v1m1 6v1m3-8v1m0 6v1m1-6v1m3 0v1m4-6v1m0 5v1m1 9v1m0 1v1m5-17v1m7 4v2m6-4v1m5-4v1"/>
<path stroke="#0033ff" d="M564.5 257v1m12 43v1m0 1v1m2-3v1m0 1v1m3-43v1m47-14v1"/>
<path stroke="#f4c20b" d="M564.5 263v2m9 35v1m0 3v1m1-46v2m6-10v2m1 47v1m0 3v1m3-34v1m2-8v1m2-11v3m0 29v1m1-34v2m5 40v1m6-27v1m2-11v1m5-4v1m2 1v1m1 7v1m2-12v2m1 10v1m8-16v1m0 2v1m6 12v1m10-17v1m5 9v1m7-11v1m0 9v1m3-1v1"/>
<path stroke="#90a06e" d="M564.5 266v1m3-4v1m3-15v1m2-3v1m2 15v1m6-9v1m2-8v1m1 32v1m2-7v1m1 7v1m3-6v2m1-11v1m1 2v1m1-21v1m2-1v1m0 5v1m2-11v1m0 36v2m6-36v1m3 18v1m1-20v1m2 6v2m0 9v1m4-18v1m0 15v1m1-20v2m0 8v1m1-12v1m1 12v1m5-3v1m2 2v1m3-8v1m6 3v1m1 0v1m5 0v1m1-10v1m1-2v1m0 5v1m0 2v1m1-13v1m9 5v1m2 2v3"/>
<path stroke="#87b678" d="M564.5 267v1m2-7v1m1-15v1m0 14v1m3-1v1m1-9v1m1 16v1m5 20v1m1-29v3m4-18v1m0 1v1m1-1v3m0 25v1m1-20v2m1-15v4m0 1v1m0 7v1m0 3v1m2 5v1m1-19v1m4 19v1m0 5v1m2-28v1m1 11v1m1-7v1m6 7v3m2-16v1m3 1v1m0 16v2m4-15v1m1-10v1m2-3v1m7 10v1m1-11v1m11 10v1m3-7v1m1 6v1m2-11v1m2-3v1m8 1v1m3-3v1"/>
<path stroke="#8aca75" d="M564.5 268v1m4-13v1m2-9v1m1 3v2m1 18v1m2-18v3m0 8v1m1 15v1m2 10v1m1-27v1m4 22v1m2-35v1m0 5v1m1-10v1m1 28v1m1-12v1m4-19v1m3 14v1m0 23v1m1-46v1m1 13v1m0 22v1m3-35v1m3 13v1m2-12v1m4 14v1m2-7v1m1-6v1m1-10v1m0 18v1m9-9v2m3 1v1m2-11v1m6 8v1m4-11v2m1 6v1m3 0v1m1-12v1m1 0v1m0 8v2m9-5v1m2-10v1"/>
<path stroke="#d9ff26" d="M564.5 270v1m13 10v2m3 10v1m1-2v1m6-2v1m1-9v1m1-26v1m0 16v1m14-7v1m23-15v1m0 10v1"/>
<path stroke="#ffd500" d="M564.5 271v1m17 21v1m17-25v1m5 0v1m15-7v1"/>
<path stroke="#ff9400" d="M564.5 272v1m12 37v1m2-1v1m1-48v1m2 30v1m13 1v1m10-26v1m8-14v1m9 5v1m14-17v1m0 16v1m1-2v1m4-2v1m1-1v1m6 0v1m1-2v1m2-2v1"/>
<path stroke="#ff1200" d="M564.5 274v1m4-6v1m7 41v1m4-1v1m8-19v1m12-23v1m10-3v1m4 3v1m1-11v1m17 0v1m1-10v1m4 10v1m4-2v1m1-1v1m9-2v1m1 0v1"/>
<path stroke="#970000" d="M564.5 281v1m1-3v1m1-2v1m1-1v1m1-1v1m3 18v1m16 2v1m12-22v1m7 4v1m1-1v1m2-9v1m3 2v1m4-6v1m1-1v1m1-1v1m9 4v1m1 1v1m3-9v1m1-1v1m1-1v1m3-1v1m3-1v1m1-1v1m1-1v1m1-1v1m2-2v1m3 0v1m1-2v1m1-1v1m1-1v1m1-1v1m1-1v1m1-1v1"/>
<path stroke="#7e717d" d="M565.5 247v1m0 17v2m3-13v1m2 1v1m0 1v1m2 10v1m2-23v3m1 3v2m5 2v1m0 2v1m0 9v2m1-2v2m2-16v2m3-3v1m2-7v2m2 14v1m1-11v1m0 9v4m1-22v1m0 2v1m0 18v2m2-5v1m3-16v1m0 1v1m0 11v2m0 1v1m2-21v1m2 17v1m0 8v1m1-3v2m3-6v1m3-9v1m0 2v1m2-4v1m1-12v2m4 0v1m0 7v1m5-6v1m0 2v1m4 0v2m1-8v1m4 10v1m0 2v1m1-21v1m3 9v1m4-11v1m3 1v2m2-4v1m1-1v1m2 1v1m2-2v1m0 5v1m2 0v1"/>
<path stroke="#5d889e" d="M565.5 257v1m6 5v1m0 1v1m2-16v1m3 3v1m0 6v1m1-4v1m2 25v2m4-36v1m0 8v1m4 6v2m2-4v1m1-14v1m2 16v1m2-22v1m1 0v1m0 18v3m2-11v2m9-5v1m16-1v3m2-4v2m5-1v1m1-9v1m3 4v1m5 0v1m1-7v1m4 0v1m2-2v1m2 7v1m1-3v1"/>
<path stroke="#097bf1" d="M565.5 262v1m1-16v1m0 4v1m3 6v1m7-1v1m0 3v1m0 13v1m0 4v1m5-32v1m0 2v1m0 8v1m1 18v1m0 2v1m1-39v2m3 3v1m1 10v1m3-10v1m0 8v1m2 3v1m2 15v1m0 2v1m1-32v2m5 3v2m3-7v1m0 5v1m1 2v1m1-18v1m1 10v1m0 1v1m13-10v1m0 8v1m4-4v1m2-9v1m8 1v1m5 5v2m8-12v1m6 4v1"/>
<path stroke="#ff3300" d="M565.5 270v1m1-1v1m1-1v1m1-3v1m4 31v1m0 3v1m8-40v1m1 30v1m1 3v1m0 3v1m13-9v1m3-26v1m1-2v1m6 2v1m4-6v1m1-1v1m1-1v1m3-10v1m0 5v1m9-2v1m3 4v1m1 0v1m4-8v1m2-1v1m6 1v1m3-2v1m4 1v1m3-3v1m2-1v1m1-1v1m1-1v1"/>
<path stroke="#d00000" d="M565.5 273v1m4-1v1m3 22v1m10-1v1m25-19v1m1-5v1m4-1v1m1 0v1m3-8v1m1-1v1m3-1v1m2-1v1m3 0v1m2 3v1m2-1v1m1-6v1m10-2v1m2-1v1m3-1v1m3-1v1m2-2v1"/>
<path stroke="#c00000" d="M565.5 274v1m5 7v1m20-7v1m6 16v1m1-13v1m2-8v1m3 6v1m1-7v1m1 0v1m7-6v1m4-3v1m3-2v1m1 0v1m2-2v1m5 3v1m1 1v1m8-6v1m3-2v1m3-1v1m2-2v1m1-1v1m5-1v1m1-1v1m2-1v1"/>
<path stroke="#a80000" d="M565.5 276v1m2-2v1m1-1v1m1 0v1m2 22v1m0 5v1m3 6v1m6-1v1m3-23v1m0 8v1m0 5v1m1-28v1m1 3v1m4 5v1m1-11v1m1 1v1m1 7v1m4 6v2m3-21v1m1 0v1m1 5v1m1-1v1m2-6v1m2 2v1m1-1v1m2-9v1m1-1v1m1-1v1m2 4v1m1-3v1m1-6v1m1-1v1m1-1v1m2-1v1m2-2v1m1 0v1m4 2v1m1 1v1m1 1v1m1-3v1m1-6v1m5-1v1m4-2v1m1-1v1m1-1v1m1-1v1m1-2v1m1-1v1m3 0v1m2-2v1m1-1v1m2-1v1"/>
<path stroke="#8bde74" d="M566.5 262v1m1-10v2m1 2v1m1 8v1m1-4v1m7 22v1m5-35v1m0 36v1m3-25v1m2 6v1m0 10v2m5-12v1m2 19v1m1-32v1m1 20v1m1-14v1m1-14v1m8 15v1m4-17v1m2 8v1m9-6v2m13-8v1m6 5v1m1-2v2m7-1v1m5-14v1"/>
<path stroke="#47ffb8" d="M566.5 264v1m4 5v1m1-22v1m0 22v1m1 2v2m0 1v1m3 19v1m0 7v1m2-59v1m1 22v1m1 26v1m0 7v1m6-41v1m3 11v1m7-20v1m0 28v2m9-23v1m21-6v1m17-9v1m2 1v1m5 2v1"/>
<path stroke="#9bfa64" d="M566.5 267v1m5-17v1m2 16v1m1 12v1m0 15v1m0 1v1m0 5v1m2 2v1m2-1v1m1-41v1m1 30v1m0 5v1m5-52v1m2 31v1m1-28v1m0 20v1m6-12v1m0 1v1m1-11v1m31-4v1m8 3v1m2-14v1m0 12v1m17-14v2"/>
<path stroke="#ff7300" d="M566.5 269v1m13-8v1m21 7v1m10-4v1m3 3v1m4-7v1m1-1v1m21-2v1m3-2v1"/>
<path stroke="#e10000" d="M566.5 272v1m1-1v1m1-2v1m19 22v1m18-20v1m5-6v1m6-4v1m2-1v1m4-1v1m4 3v1m2 3v1m3-9v1m1-1v1m1-1v1m1-1v1m3-1v1m2-1v1m3-2v1m1-1v1m6-1v1m4-1v1"/>
<path stroke="#a8ff57" d="M567.5 250v1m6 15v2m1 9v1m0 2v1m0 4v1m0 5v1m2 3v1m1-17v1m3-32v1m1 42v1m4-37v1m1 6v1m3-4v1m0 12v1m5-3v1m1 21v1m3-38v1m2 12v1m8-13v1m3 8v1m7-3v1m31-3v1m1-2v1m3 0v1"/>
<path stroke="#82fa7c" d="M567.5 252v1m3 18v1m2 18v1m1-22v1m1 22v1m0 3v1m1-5v3m1-2v1m1-17v1m0 18v1m0 11v1m1-32v1m1-25v1m3 23v2m2-16v1m0 1v1m1-7v1m1-2v1m1 14v1m0 11v1m0 3v2m1-31v2m0 6v1m6 3v1m0 2v3m1-18v1m1 1v1m0 19v1m2-16v1m1-17v1m5 3v1m0 12v1m5-13v1m1-8v1m0 14v1m9-2v1m8-6v2m7-4v1m1 6v1m2-6v1m5-8v1"/>
<path stroke="#699f96" d="M567.5 261v1m7-10v2m2 2v1m2-4v1m0 9v1m2 9v1m1 4v5m4-13v1m8-20v1m0 19v1m0 1v2m0 1v4m1-30v1m0 39v1m1-18v4m6-6v1m2-20v1m5 13v1m3-7v1m7-5v1m2-3v1m2 4v1m7-5v1"/>
<path stroke="#dc6f12" d="M567.5 268v1m3 6v5m1 8v1m12-6v2m2-8v1m1 7v2m3-5v1m1-13v1m1 3v2m1 7v1m1 6v3m1-39v3m2 32v2m1-14v2m4-1v1m1-26v1m0 23v2m5-19v1m5 9v1m1-13v1m1 11v2m15-3v2m3-19v1m0 4v1"/>
<path stroke="#ff6300" d="M567.5 269v1m8 40v1m4-53v1m0 51v1m7-23v1m0 2v1m2-1v1m11-23v1m10-10v2m4-6v1m2 7v1m9 0v1m8-2v1m13-1v1m6-2v1"/>
<path stroke="#f10000" d="M568.5 270v1m8 41v1m2-1v1m21-41v1m5 1v1m9-1v1m4-8v1m24-2v1m4-1v1m3-1v1"/>
<path stroke="#b00000" d="M568.5 274v1m3 25v1m0 3v1m12-5v1m0 3v1m19-23v1m2-6v1m3 2v1m4-9v1m2 4v1m3-8v1m1-1v1m2-1v1m3-1v1m1-1v1m6 4v1m1-6v1m5-1v1m5-2v1m2-1v1m1-2v1m4 0v1m3-2v1m2-1v1"/>
<path stroke="#ff2200" d="M569.5 271v1m3 22v1m2 15v1m6-1v1m24-38v1m10-10v1m4 1v1m2-1v1m4-1v1m6-1v1m3-3v1m12 0v1m3-1v1"/>
<path stroke="#a00000" d="M569.5 277v1m15 1v1m1 3v1m4 5v1m9-13v1m6 1v1m3 2v1m3-9v1m1-1v1m2 4v1m6-8v1m7 2v1m2 3v1m14-9v1m5-1v1m5-2v1"/>
<path stroke="#960200" d="M569.5 279v2m1 6v2m13 5v1m1-15v4m1 1v3m0 1v2m4 0v1m1-11v3m1-1v2m1 6v2m5-8v3m1-9v1"/>
<path stroke="#67ff98" d="M570.5 265v1m3-3v1m2 14v1m0 11v1m3-18v2m1-6v1m2 18v1m3-32v1m2 16v1m24-12v1m8-2v1m8-4v1m1-3v1m18 3v1m5-3v1"/>
<path stroke="#37ffc8" d="M570.5 266v1m2 10v1m4 19v1m0 9v1m2-11v1m0 9v1m33-54v1m0 9v1m35-4v1"/>
<path stroke="#14f6eb" d="M570.5 267v1m0 1v1m1-22v1m0 25v1m1-22v1m3 45v1m0 5v1m1-56v1m0 35v4m1-41v1m1-1v1m1 2v1m0 46v1m0 5v1m2-31v1m7 1v1m8 2v1m1-24v1m2-5v1m9-3v2m2-2v1m8-2v1m9 5v1m15-1v1m1-3v1m1-1v1"/>
<path stroke="#910200" d="M570.5 289v1m14-6v2m1 2v1m0 2v1m7 7v2m5-13v4m0 7v2"/>
<path stroke="#910000" d="M570.5 290v1m6 23v1m2-1v1m5-19v1m8-11v1m1 7v1m11-12v1m1-1v1m1 0v1m1 1v1m1-1v1m3-9v1m1-1v1m1 2v1m1 1v1m4-8v1m1-1v1m1-1v1m1-1v1m6 2v1m1 1v1m1 1v1m2-8v1m5-1v1m6-2v1m1-1v1m4 0v1m1-2v1"/>
<path stroke="#88ff77" d="M571.5 250v1m3 32v1m1 11v1m3-18v2m3 10v1m27-36v1m9 6v1"/>
<path stroke="#14c5ea" d="M571.5 267v1m0 7v1m1 8v1m0 3v1m1-9v1m0 6v1m3-4v1m1-35v1m0 17v1m1 24v1m4-40v1m4-6v1m0 26v1m2-1v1m8-7v1m0 8v1m4-32v1m0 17v1m7 2v1m11-23v1m0 4v2m5 4v1m2 2v1m3-1v1m10-2v1m3-3v1m5-4v1m4 1v1m3 0v1"/>
<path stroke="#57ffa8" d="M571.5 271v1m1-20v1m2 40v1m0 7v1m0 1v1m1-15v1m0 7v1m1-49v1m2 31v1m2 19v1m0 1v1m1-17v1m13-9v1m14-26v1m9 6v1m17-1v1m2-1v1m13-2v1"/>
<path stroke="#26ffd9" d="M571.5 273v1m3-1v1m4 20v1m10-26v1m6 10v1m14-28v1m11 8v1m7 1v1m8-6v1m1 2v1m8-8v1m1-1v1m2 4v1"/>
<path stroke="#fb2701" d="M572.5 299v1m0 5v1m1 2v1m8-1v1m1-15v1m0 4v1m0 5v1m2-33v1m6-1v1m10-2v1m7 3v1m7-17v1m1 5v1m1-1v1m1-1v1m8 0v1m7-14v1m0 10v1m2 0v1m3-2v1m7-2v1"/>
<path stroke="#ff5300" d="M573.5 297v1m0 9v1m1 1v1m3 1v1m3-3v1m1-15v1m0 1v1m0 9v1m1-15v1m11 5v2m3-2v2m8-29v1m3 2v1m5-5v1m2-6v1m2-2v1m7-3v1m5 9v1m2-9v1m1-4v1m2-1v1m1-15v1m2 16v1m1-2v1m4-1v1m7-1v1m2-2v1"/>
<path stroke="#ffa400" d="M574.5 308v1m6-1v1m39-44v1m19-2v1"/>
<path stroke="#d20000" d="M574.5 311v1m1 0v1m4-1v1m1-2v1m19-39v1m5 1v1m15-8v1m2-2v1m2-1v1m12 0v1m3-2v1m3-1v1m3-2v1m2 1v1m1-2v1m5-2v1"/>
<path stroke="#0053ff" d="M575.5 267v1m1 32v1m0 3v1m2-5v1m0 3v1m27-46v1m19-13v1m0 1v1m4-1v1m0 2v1m1-2v1"/>
<path stroke="#0094ff" d="M575.5 269v1m1-12v1m0 40v1m0 5v1m2-7v1m0 5v1m1-17v1m3-35v1m4-6v1m14 14v1m16-15v1m13 0v1m0 6v1m12-7v1m0 2v1m6 1v2"/>
<path stroke="#00b4ff" d="M576.5 251v1m0 18v1m0 3v1m1-9v1m0 3v3m0 25v1m0 7v1m1-15v1m26-36v1m23-3v1m0 8v1m1-3v1m7-2v1m6-5v1m6 2v1m4-14v1"/>
<path stroke="#0022ff" d="M576.5 267v1m0 34v1m1-3v1m0 3v1m1-3v1m14-38v1m8-13v2m1-4v1m28-2v1"/>
<path stroke="#0043ff" d="M576.5 268v1m1-6v1m6-2v1m18-14v1m3 9v1m1-2v1m19-11v1m4 4v2m7 4v1"/>
<path stroke="#00d4ff" d="M576.5 271v3m0 24v1m0 7v1m2-9v1m0 7v1m21-53v1m11-2v2m16 7v1"/>
<path stroke="#16ffe9" d="M577.5 297v1m0 9v1"/>
<path stroke="#0063ff" d="M577.5 299v1m0 5v1m27-48v1m24-9v2m23-1v1"/>
<path stroke="#0002ff" d="M577.5 301v1m0 1v1m15-40v1"/>
<path stroke="#0000f1" d="M577.5 302v1m52-55v1"/>
<path stroke="#e9ff16" d="M577.5 309v1m2-15v1"/>
<path stroke="#ffe500" d="M580.5 295v1m31-30v1m28-5v1"/>
<path stroke="#ffc400" d="M580.5 296v1m37-33v1"/>
<path stroke="#0000e1" d="M582.5 267v2m1-4v1m0 3v1m4-14v1m6 1v1m0 3v2m36-17v1m1 3v2"/>
<path stroke="#0000d0" d="M583.5 266v3m4-15v2m6 3v3"/>
<path stroke="#8b0200" d="M592.5 301v1m5-4v1m0 2v1"/>
<path stroke="#00e5ff" d="M609.5 252v1m9-2v1m8 11v1m2-5v1"/>
<path stroke="#00f5ff" d="M610.5 255v1"/>
<path stroke="#ff0200" d="M610.5 269v1m32-5v1m10-1v1m1-1v1"/>
<path stroke="#0012ff" d="M619.5 248v1m8 1v1m2-2v1"/>
<path stroke="#06fff9" d="M643.5 253v1"/>
</g>
<path d="M596.0 248.5H598.0M634.0 248.5H636.0M612.0 252.5H615.0M631.0 252.5H633.0M588.0 256.5H590.0M612.0 256.5H615.0M563.0 264.5H565.0M567.0 264.5H569.0M579.0 264.5H581.0M614.0 264.5H619.0M620.0 264.5H626.0M630.0 264.5H635.0M636.0 264.5H654.0M565.0 268.5H570.0M609.0 268.5H612.0M613.0 268.5H628.0M629.0 268.5H654.0M563.0 272.5H570.0M590.0 272.5H592.0M597.0 272.5H601.0M603.0 272.5H606.0M608.0 272.5H654.0M563.0 276.5H571.0M584.0 276.5H586.0M590.0 276.5H592.0M597.0 276.5H654.0M563.0 280.5H571.0M584.0 280.5H586.0M589.0 280.5H592.0M597.0 280.5H654.0M561.1 284.5H571.0M583.0 284.5H587.0M589.0 284.5H593.0M597.0 284.5H654.0M561.1 288.5H572.0M583.0 288.5H587.0M588.0 288.5H594.0M596.0 288.5H654.0M561.1 292.5H573.0M582.0 292.5H594.0M596.0 292.5H654.0M561.1 296.5H574.0M580.0 296.5H654.0M561.1 300.5H574.0M581.0 300.5H594.0M596.0 300.5H654.0M561.1 304.5H574.0M581.0 304.5H654.0M561.1 308.5H575.0M580.0 308.5H654.0M561.1 312.5H654.0M561.1 316.5H654.0M561.1 320.5H654.0M561.1 324.5H654.0M561.1 328.5H654.0M561.1 332.5H654.0M561.1 336.5H654.0M561.1 340.5H654.0" stroke="#000" stroke-opacity="0.8" stroke-width="1.25" stroke-dasharray="1.5 0.45" fill="none"/>
<path d="M561.1 298.0 L562.0 305.9 L564.3 315.4 L566.7 321.7 L569.9 328.1 L573.9 332.8 L578.6 336.8 L584.2 340.0 L589.7 342.0 L596.9 344.7 L603.0 346.5 L612.0 346.0 L617.2 345.0 L627.1 341.4 L636.1 336.9 L643.3 332.4 L649.7 321.5 L652.4 310.7 L653.3 298.0 L654.0 290.0" stroke="#fff" stroke-width="1.1" stroke-dasharray="2 2" fill="none" stroke-opacity="0.9"/>
</g>
<rect x="561.1" y="247.5" width="92.90" height="97.30" fill="none" stroke="#444" stroke-width="0.5"/>
</svg></body></html>
